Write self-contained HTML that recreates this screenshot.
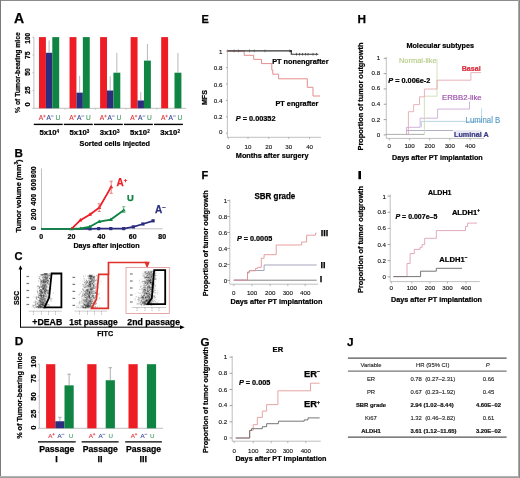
<!DOCTYPE html>
<html><head><meta charset="utf-8"><title>figure</title>
<style>html,body{margin:0;padding:0;background:#fff;overflow:hidden}svg{display:block;font-family:"Liberation Sans",sans-serif;filter:blur(0.35px)}</style>
</head><body>
<svg width="520" height="478" viewBox="0 0 520 478">
<rect x="0.00" y="0.00" width="520.00" height="478.00" fill="#ffffff"/>
<text x="14.00" y="22.80" font-size="14" font-weight="bold" text-anchor="start" fill="#000" stroke="#000" stroke-width="0.25">A</text>
<text transform="translate(19.55,72.60) rotate(-90)" x="0" y="0" font-size="7.5" font-weight="bold" text-anchor="middle" fill="#000" textLength="80.60" lengthAdjust="spacingAndGlyphs" stroke="#000" stroke-width="0.23">% of Tumor-bearing mice</text>
<line x1="33.90" y1="37.00" x2="33.90" y2="108.30" stroke="#b0b0b0" stroke-width="0.8"/>
<text transform="translate(29.94,38.30) rotate(-90)" x="0" y="0" font-size="7.6" font-weight="bold" text-anchor="middle" fill="#000" textLength="10.80" lengthAdjust="spacingAndGlyphs" stroke="#000" stroke-width="0.24">100</text>
<line x1="32.50" y1="37.10" x2="33.90" y2="37.10" stroke="#b0b0b0" stroke-width="0.8"/>
<text transform="translate(29.94,55.20) rotate(-90)" x="0" y="0" font-size="7.6" font-weight="bold" text-anchor="middle" fill="#000" textLength="7.60" lengthAdjust="spacingAndGlyphs" stroke="#000" stroke-width="0.24">75</text>
<line x1="32.50" y1="54.90" x2="33.90" y2="54.90" stroke="#b0b0b0" stroke-width="0.8"/>
<text transform="translate(29.94,72.00) rotate(-90)" x="0" y="0" font-size="7.6" font-weight="bold" text-anchor="middle" fill="#000" textLength="7.60" lengthAdjust="spacingAndGlyphs" stroke="#000" stroke-width="0.24">50</text>
<line x1="32.50" y1="72.70" x2="33.90" y2="72.70" stroke="#b0b0b0" stroke-width="0.8"/>
<text transform="translate(29.94,90.30) rotate(-90)" x="0" y="0" font-size="7.6" font-weight="bold" text-anchor="middle" fill="#000" textLength="7.60" lengthAdjust="spacingAndGlyphs" stroke="#000" stroke-width="0.24">25</text>
<line x1="32.50" y1="90.50" x2="33.90" y2="90.50" stroke="#b0b0b0" stroke-width="0.8"/>
<text transform="translate(29.94,104.50) rotate(-90)" x="0" y="0" font-size="7.6" font-weight="bold" text-anchor="middle" fill="#000" stroke="#000" stroke-width="0.24">0</text>
<line x1="32.50" y1="108.30" x2="33.90" y2="108.30" stroke="#b0b0b0" stroke-width="0.8"/>
<line x1="33.90" y1="108.30" x2="186.00" y2="108.30" stroke="#b0b0b0" stroke-width="0.8"/>
<rect x="39.00" y="37.10" width="6.90" height="71.20" fill="#ee1c25"/>
<rect x="45.90" y="52.76" width="6.40" height="55.54" fill="#2b2e7f"/>
<rect x="52.30" y="37.10" width="6.90" height="71.20" fill="#0f8443"/>
<line x1="49.10" y1="40.50" x2="49.10" y2="52.76" stroke="#9a9aa8" stroke-width="0.7"/>
<text x="38.70" y="119.90" font-size="6.6" fill="#e0303a" stroke="#e0303a" stroke-width="0.12">A</text>
<path d="M43.06,116.07 H45.70 M44.38,114.75 V117.39" stroke="#e0303a" stroke-width="0.6" fill="none"/>
<text x="46.40" y="119.90" font-size="6.6" fill="#34449a" stroke="#34449a" stroke-width="0.12">A</text>
<path d="M50.76,116.07 H53.66" stroke="#34449a" stroke-width="0.6" fill="none"/>
<text x="55.40" y="119.90" font-size="6.6" fill="#4a9a68" stroke="#4a9a68" stroke-width="0.12">U</text>
<line x1="33.80" y1="124.40" x2="62.70" y2="124.40" stroke="#000" stroke-width="1.4"/>
<rect x="69.55" y="37.10" width="6.90" height="71.20" fill="#ee1c25"/>
<rect x="76.45" y="92.64" width="6.40" height="15.66" fill="#2b2e7f"/>
<rect x="82.85" y="37.10" width="6.90" height="71.20" fill="#0f8443"/>
<line x1="79.65" y1="75.80" x2="79.65" y2="92.64" stroke="#9a9aa8" stroke-width="0.7"/>
<line x1="65.05" y1="108.30" x2="65.05" y2="109.80" stroke="#b0b0b0" stroke-width="0.7"/>
<text x="69.25" y="119.90" font-size="6.6" fill="#e0303a" stroke="#e0303a" stroke-width="0.12">A</text>
<path d="M73.61,116.07 H76.25 M74.93,114.75 V117.39" stroke="#e0303a" stroke-width="0.6" fill="none"/>
<text x="76.95" y="119.90" font-size="6.6" fill="#34449a" stroke="#34449a" stroke-width="0.12">A</text>
<path d="M81.31,116.07 H84.21" stroke="#34449a" stroke-width="0.6" fill="none"/>
<text x="85.95" y="119.90" font-size="6.6" fill="#4a9a68" stroke="#4a9a68" stroke-width="0.12">U</text>
<line x1="63.85" y1="124.40" x2="92.75" y2="124.40" stroke="#000" stroke-width="1.4"/>
<rect x="100.10" y="37.10" width="6.90" height="71.20" fill="#ee1c25"/>
<rect x="107.00" y="90.50" width="6.40" height="17.80" fill="#2b2e7f"/>
<rect x="113.40" y="72.70" width="6.90" height="35.60" fill="#0f8443"/>
<line x1="110.20" y1="76.30" x2="110.20" y2="90.50" stroke="#9a9aa8" stroke-width="0.7"/>
<line x1="116.85" y1="52.90" x2="116.85" y2="72.70" stroke="#9a9a9a" stroke-width="0.7"/>
<line x1="95.60" y1="108.30" x2="95.60" y2="109.80" stroke="#b0b0b0" stroke-width="0.7"/>
<text x="99.80" y="119.90" font-size="6.6" fill="#e0303a" stroke="#e0303a" stroke-width="0.12">A</text>
<path d="M104.16,116.07 H106.80 M105.48,114.75 V117.39" stroke="#e0303a" stroke-width="0.6" fill="none"/>
<text x="107.50" y="119.90" font-size="6.6" fill="#34449a" stroke="#34449a" stroke-width="0.12">A</text>
<path d="M111.86,116.07 H114.76" stroke="#34449a" stroke-width="0.6" fill="none"/>
<text x="116.50" y="119.90" font-size="6.6" fill="#4a9a68" stroke="#4a9a68" stroke-width="0.12">U</text>
<line x1="93.90" y1="124.40" x2="122.80" y2="124.40" stroke="#000" stroke-width="1.4"/>
<rect x="130.65" y="37.10" width="6.90" height="71.20" fill="#ee1c25"/>
<rect x="137.55" y="100.47" width="6.40" height="7.83" fill="#2b2e7f"/>
<rect x="143.95" y="60.60" width="6.90" height="47.70" fill="#0f8443"/>
<line x1="140.75" y1="92.00" x2="140.75" y2="100.47" stroke="#9a9aa8" stroke-width="0.7"/>
<line x1="147.40" y1="44.00" x2="147.40" y2="60.60" stroke="#9a9a9a" stroke-width="0.7"/>
<line x1="126.15" y1="108.30" x2="126.15" y2="109.80" stroke="#b0b0b0" stroke-width="0.7"/>
<text x="130.35" y="119.90" font-size="6.6" fill="#e0303a" stroke="#e0303a" stroke-width="0.12">A</text>
<path d="M134.71,116.07 H137.35 M136.03,114.75 V117.39" stroke="#e0303a" stroke-width="0.6" fill="none"/>
<text x="138.05" y="119.90" font-size="6.6" fill="#34449a" stroke="#34449a" stroke-width="0.12">A</text>
<path d="M142.41,116.07 H145.31" stroke="#34449a" stroke-width="0.6" fill="none"/>
<text x="147.05" y="119.90" font-size="6.6" fill="#4a9a68" stroke="#4a9a68" stroke-width="0.12">U</text>
<line x1="123.95" y1="124.40" x2="152.85" y2="124.40" stroke="#000" stroke-width="1.4"/>
<rect x="161.20" y="37.10" width="6.90" height="71.20" fill="#ee1c25"/>
<rect x="174.50" y="72.70" width="6.90" height="35.60" fill="#0f8443"/>
<line x1="177.95" y1="52.90" x2="177.95" y2="72.70" stroke="#9a9a9a" stroke-width="0.7"/>
<line x1="156.70" y1="108.30" x2="156.70" y2="109.80" stroke="#b0b0b0" stroke-width="0.7"/>
<text x="160.90" y="119.90" font-size="6.6" fill="#e0303a" stroke="#e0303a" stroke-width="0.12">A</text>
<path d="M165.26,116.07 H167.90 M166.58,114.75 V117.39" stroke="#e0303a" stroke-width="0.6" fill="none"/>
<text x="168.60" y="119.90" font-size="6.6" fill="#34449a" stroke="#34449a" stroke-width="0.12">A</text>
<path d="M172.96,116.07 H175.86" stroke="#34449a" stroke-width="0.6" fill="none"/>
<text x="177.60" y="119.90" font-size="6.6" fill="#4a9a68" stroke="#4a9a68" stroke-width="0.12">U</text>
<line x1="154.00" y1="124.40" x2="182.90" y2="124.40" stroke="#000" stroke-width="1.4"/>
<text x="39.40" y="135.20" font-size="7.6" font-weight="bold" text-anchor="start" fill="#000" textLength="17.10" lengthAdjust="spacingAndGlyphs" stroke="#000" stroke-width="0.24">5x10</text>
<text x="56.60" y="132.50" font-size="4.6" font-weight="bold" text-anchor="start" fill="#000" stroke="#000" stroke-width="0.14">4</text>
<text x="69.60" y="135.20" font-size="7.6" font-weight="bold" text-anchor="start" fill="#000" textLength="17.10" lengthAdjust="spacingAndGlyphs" stroke="#000" stroke-width="0.24">5x10</text>
<text x="86.80" y="132.50" font-size="4.6" font-weight="bold" text-anchor="start" fill="#000" stroke="#000" stroke-width="0.14">3</text>
<text x="99.80" y="135.20" font-size="7.6" font-weight="bold" text-anchor="start" fill="#000" textLength="17.10" lengthAdjust="spacingAndGlyphs" stroke="#000" stroke-width="0.24">3x10</text>
<text x="117.00" y="132.50" font-size="4.6" font-weight="bold" text-anchor="start" fill="#000" stroke="#000" stroke-width="0.14">3</text>
<text x="130.00" y="135.20" font-size="7.6" font-weight="bold" text-anchor="start" fill="#000" textLength="17.10" lengthAdjust="spacingAndGlyphs" stroke="#000" stroke-width="0.24">5x10</text>
<text x="147.20" y="132.50" font-size="4.6" font-weight="bold" text-anchor="start" fill="#000" stroke="#000" stroke-width="0.14">2</text>
<text x="160.20" y="135.20" font-size="7.6" font-weight="bold" text-anchor="start" fill="#000" textLength="17.10" lengthAdjust="spacingAndGlyphs" stroke="#000" stroke-width="0.24">3x10</text>
<text x="177.40" y="132.50" font-size="4.6" font-weight="bold" text-anchor="start" fill="#000" stroke="#000" stroke-width="0.14">2</text>
<text x="79.60" y="146.40" font-size="7.8" font-weight="bold" text-anchor="start" fill="#000" textLength="70.40" lengthAdjust="spacingAndGlyphs" stroke="#000" stroke-width="0.24">Sorted cells injected</text>
<text x="14.60" y="157.10" font-size="11.6" font-weight="bold" text-anchor="start" fill="#000" stroke="#000" stroke-width="0.25">B</text>
<text transform="translate(20.82,196.00) rotate(-90)" x="0" y="0" font-size="7.4" font-weight="bold" text-anchor="middle" fill="#000" stroke="#000" stroke-width="0.23">Tumor volume (mm<tspan font-size="4.8" dy="-2.7">3</tspan><tspan dy="2.7">)</tspan></text>
<text transform="translate(36.03,228.30) rotate(-90)" x="0" y="0" font-size="7.3" font-weight="bold" text-anchor="middle" fill="#000" stroke="#000" stroke-width="0.23">0</text>
<text transform="translate(36.03,214.50) rotate(-90)" x="0" y="0" font-size="7.3" font-weight="bold" text-anchor="middle" fill="#000" textLength="11.50" lengthAdjust="spacingAndGlyphs" stroke="#000" stroke-width="0.23">200</text>
<text transform="translate(36.03,199.70) rotate(-90)" x="0" y="0" font-size="7.3" font-weight="bold" text-anchor="middle" fill="#000" textLength="11.50" lengthAdjust="spacingAndGlyphs" stroke="#000" stroke-width="0.23">400</text>
<text transform="translate(36.03,184.70) rotate(-90)" x="0" y="0" font-size="7.3" font-weight="bold" text-anchor="middle" fill="#000" textLength="11.50" lengthAdjust="spacingAndGlyphs" stroke="#000" stroke-width="0.23">600</text>
<text transform="translate(36.03,172.20) rotate(-90)" x="0" y="0" font-size="7.3" font-weight="bold" text-anchor="middle" fill="#000" textLength="11.50" lengthAdjust="spacingAndGlyphs" stroke="#000" stroke-width="0.23">800</text>
<line x1="41.50" y1="168.40" x2="41.50" y2="228.80" stroke="#b0b0b0" stroke-width="0.8"/>
<line x1="41.50" y1="228.80" x2="162.70" y2="228.80" stroke="#b0b0b0" stroke-width="0.8"/>
<text x="41.20" y="239.20" font-size="7" font-weight="bold" text-anchor="middle" fill="#000" stroke="#000" stroke-width="0.22">0</text>
<text x="71.50" y="239.20" font-size="7" font-weight="bold" text-anchor="middle" fill="#000" stroke="#000" stroke-width="0.22">20</text>
<text x="101.50" y="239.20" font-size="7" font-weight="bold" text-anchor="middle" fill="#000" stroke="#000" stroke-width="0.22">40</text>
<text x="132.70" y="239.20" font-size="7" font-weight="bold" text-anchor="middle" fill="#000" stroke="#000" stroke-width="0.22">60</text>
<text x="162.20" y="239.20" font-size="7" font-weight="bold" text-anchor="middle" fill="#000" stroke="#000" stroke-width="0.22">80</text>
<text x="73.40" y="247.80" font-size="7.8" font-weight="bold" text-anchor="start" fill="#000" textLength="66.20" lengthAdjust="spacingAndGlyphs" stroke="#000" stroke-width="0.24">Days after injection</text>
<path d="M41.20,228.80 L71.50,228.80 L80.80,228.80 L90.00,228.80 L98.70,228.60 L110.80,228.60 L123.70,228.60 L133.30,226.90 L142.90,224.00 L153.10,220.80" stroke="#2b2e7f" stroke-width="1.8" fill="none"/>
<rect x="88.40" y="227.20" width="3.20" height="3.20" fill="#2b2e7f"/>
<rect x="97.10" y="227.00" width="3.20" height="3.20" fill="#2b2e7f"/>
<rect x="109.20" y="227.00" width="3.20" height="3.20" fill="#2b2e7f"/>
<rect x="122.10" y="227.00" width="3.20" height="3.20" fill="#2b2e7f"/>
<rect x="131.70" y="225.30" width="3.20" height="3.20" fill="#2b2e7f"/>
<rect x="141.30" y="222.40" width="3.20" height="3.20" fill="#2b2e7f"/>
<rect x="151.50" y="219.20" width="3.20" height="3.20" fill="#2b2e7f"/>
<path d="M41.20,228.80 L71.50,228.80 L80.40,228.50 L89.60,226.90 L99.20,221.50 L110.80,219.60 L123.70,210.20" stroke="#0f8443" stroke-width="1.8" fill="none"/>
<path d="M69.50,230.20 L73.50,230.20 L71.50,226.70Z" fill="#0f8443"/>
<path d="M78.40,229.90 L82.40,229.90 L80.40,226.40Z" fill="#0f8443"/>
<path d="M87.60,228.30 L91.60,228.30 L89.60,224.80Z" fill="#0f8443"/>
<path d="M97.20,222.90 L101.20,222.90 L99.20,219.40Z" fill="#0f8443"/>
<path d="M108.80,221.00 L112.80,221.00 L110.80,217.50Z" fill="#0f8443"/>
<path d="M121.70,211.60 L125.70,211.60 L123.70,208.10Z" fill="#0f8443"/>
<path d="M71.50,228.80 L80.40,220.20 L90.00,214.40 L99.20,207.70 L111.20,186.90" stroke="#ee1c25" stroke-width="1.8" fill="none"/>
<path d="M78.40,221.60 L82.40,221.60 L80.40,218.10Z" fill="#ee1c25"/>
<path d="M88.00,215.80 L92.00,215.80 L90.00,212.30Z" fill="#ee1c25"/>
<path d="M97.20,209.10 L101.20,209.10 L99.20,205.60Z" fill="#ee1c25"/>
<path d="M109.20,188.30 L113.20,188.30 L111.20,184.80Z" fill="#ee1c25"/>
<line x1="111.20" y1="181.20" x2="111.20" y2="193.30" stroke="#e05050" stroke-width="0.7"/>
<line x1="109.60" y1="181.20" x2="112.80" y2="181.20" stroke="#e05050" stroke-width="0.7"/>
<line x1="109.60" y1="193.30" x2="112.80" y2="193.30" stroke="#e05050" stroke-width="0.7"/>
<line x1="99.20" y1="203.80" x2="99.20" y2="211.50" stroke="#e05050" stroke-width="0.7"/>
<line x1="97.60" y1="203.80" x2="100.80" y2="203.80" stroke="#e05050" stroke-width="0.7"/>
<line x1="97.60" y1="211.50" x2="100.80" y2="211.50" stroke="#e05050" stroke-width="0.7"/>
<line x1="123.70" y1="206.70" x2="123.70" y2="212.50" stroke="#40a060" stroke-width="0.7"/>
<line x1="122.10" y1="206.70" x2="125.30" y2="206.70" stroke="#40a060" stroke-width="0.7"/>
<line x1="122.10" y1="212.50" x2="125.30" y2="212.50" stroke="#40a060" stroke-width="0.7"/>
<text x="116.5" y="186.2" font-size="10" font-weight="bold" fill="#ee1c25" stroke="#ee1c25" stroke-width="0.25">A<tspan font-size="6" dy="-4">+</tspan></text>
<text x="127.00" y="201.20" font-size="9.4" font-weight="bold" text-anchor="start" fill="#0f8443" stroke="#0f8443" stroke-width="0.25">U</text>
<text x="155" y="213.2" font-size="10" font-weight="bold" fill="#2b2e7f" stroke="#2b2e7f" stroke-width="0.25">A<tspan font-size="6" dy="-4">–</tspan></text>
<text x="14.60" y="259.60" font-size="11.2" font-weight="bold" text-anchor="start" fill="#000" stroke="#000" stroke-width="0.25">C</text>
<line x1="20.50" y1="268.50" x2="20.50" y2="327.70" stroke="#000" stroke-width="1"/>
<path d="M18.6,269.4 L22.4,269.4 L20.5,265.2Z" fill="#000"/>
<line x1="20.50" y1="327.20" x2="181.00" y2="327.20" stroke="#000" stroke-width="1"/>
<path d="M180,325.2 L180,329.2 L184.7,327.2Z" fill="#000"/>
<text transform="translate(19.01,297.90) rotate(-90)" x="0" y="0" font-size="7.8" font-weight="bold" text-anchor="middle" fill="#000" textLength="14.10" lengthAdjust="spacingAndGlyphs" stroke="#000" stroke-width="0.24">SSC</text>
<text x="97.20" y="335.60" font-size="8.0" font-weight="bold" text-anchor="start" fill="#000" textLength="15.90" lengthAdjust="spacingAndGlyphs" stroke="#000" stroke-width="0.25">FITC</text>
<text x="32.30" y="325.20" font-size="9.2" font-weight="bold" text-anchor="start" fill="#000" textLength="30.00" lengthAdjust="spacingAndGlyphs" stroke="#000" stroke-width="0.25">+DEAB</text>
<text x="69.20" y="325.20" font-size="9.2" font-weight="bold" text-anchor="start" fill="#000" textLength="48.50" lengthAdjust="spacingAndGlyphs" stroke="#000" stroke-width="0.25">1st passage</text>
<text x="127.30" y="325.20" font-size="9.2" font-weight="bold" text-anchor="start" fill="#000" textLength="52.70" lengthAdjust="spacingAndGlyphs" stroke="#000" stroke-width="0.25">2nd passage</text>
<rect x="26.5" y="275.9" width="2.6" height="1.2" fill="#777"/>
<rect x="26.5" y="282.9" width="2.6" height="1.2" fill="#777"/>
<rect x="26.5" y="289.9" width="2.6" height="1.2" fill="#777"/>
<rect x="26.5" y="296.9" width="2.6" height="1.2" fill="#777"/>
<rect x="26.5" y="303.9" width="2.6" height="1.2" fill="#777"/>
<line x1="28.50" y1="311.20" x2="61.70" y2="311.20" stroke="#aaa" stroke-width="0.6"/>
<line x1="33.50" y1="311.20" x2="33.50" y2="312.70" stroke="#999" stroke-width="0.6"/>
<rect x="33.0" y="313.4" width="1" height="1.3" fill="#bbb"/>
<line x1="41.50" y1="311.20" x2="41.50" y2="312.70" stroke="#999" stroke-width="0.6"/>
<rect x="41.0" y="313.4" width="1" height="1.3" fill="#bbb"/>
<line x1="48.50" y1="311.20" x2="48.50" y2="312.70" stroke="#999" stroke-width="0.6"/>
<rect x="48.0" y="313.4" width="1" height="1.3" fill="#bbb"/>
<line x1="55.50" y1="311.20" x2="55.50" y2="312.70" stroke="#999" stroke-width="0.6"/>
<rect x="55.0" y="313.4" width="1" height="1.3" fill="#bbb"/>
<rect x="44.7" y="304.7" width="1" height="1" fill="#000" fill-opacity="0.08"/><rect x="38.4" y="293.2" width="1" height="1" fill="#000" fill-opacity="0.13"/><rect x="43.7" y="287.3" width="1" height="1" fill="#000" fill-opacity="0.05"/><rect x="43.1" y="279.9" width="1" height="1" fill="#000" fill-opacity="0.12"/><rect x="46.8" y="282.9" width="1" height="1" fill="#000" fill-opacity="0.21"/><rect x="41.7" y="302.0" width="1" height="1" fill="#000" fill-opacity="0.29"/><rect x="45.1" y="277.2" width="1" height="1" fill="#000" fill-opacity="0.15"/><rect x="44.8" y="275.6" width="1" height="1" fill="#000" fill-opacity="0.11"/><rect x="40.9" y="302.4" width="1" height="1" fill="#000" fill-opacity="0.08"/><rect x="42.8" y="295.2" width="1" height="1" fill="#000" fill-opacity="0.14"/><rect x="41.9" y="301.9" width="1" height="1" fill="#000" fill-opacity="0.13"/><rect x="44.2" y="300.2" width="1" height="1" fill="#000" fill-opacity="0.05"/><rect x="40.7" y="279.9" width="1" height="1" fill="#000" fill-opacity="0.07"/><rect x="43.8" y="273.3" width="1" height="1" fill="#000" fill-opacity="0.26"/><rect x="38.5" y="305.0" width="1" height="1" fill="#000" fill-opacity="0.21"/><rect x="48.1" y="275.7" width="1" height="1" fill="#000" fill-opacity="0.12"/><rect x="43.1" y="280.2" width="1" height="1" fill="#000" fill-opacity="0.17"/><rect x="42.5" y="278.0" width="1" height="1" fill="#000" fill-opacity="0.25"/><rect x="42.0" y="292.8" width="1" height="1" fill="#000" fill-opacity="0.08"/><rect x="43.6" y="281.5" width="1" height="1" fill="#000" fill-opacity="0.12"/><rect x="36.3" y="303.7" width="1" height="1" fill="#000" fill-opacity="0.19"/><rect x="40.6" y="297.4" width="1" height="1" fill="#000" fill-opacity="0.13"/><rect x="43.4" y="292.7" width="1" height="1" fill="#000" fill-opacity="0.11"/><rect x="38.9" y="293.4" width="1" height="1" fill="#000" fill-opacity="0.05"/><rect x="38.1" y="306.8" width="1" height="1" fill="#000" fill-opacity="0.17"/><rect x="33.4" y="296.7" width="1" height="1" fill="#000" fill-opacity="0.07"/><rect x="48.0" y="292.9" width="1" height="1" fill="#000" fill-opacity="0.15"/><rect x="43.8" y="278.9" width="1" height="1" fill="#000" fill-opacity="0.08"/><rect x="46.6" y="292.5" width="1" height="1" fill="#000" fill-opacity="0.13"/><rect x="40.5" y="300.8" width="1" height="1" fill="#000" fill-opacity="0.16"/><rect x="49.1" y="274.8" width="1" height="1" fill="#000" fill-opacity="0.24"/><rect x="44.6" y="277.8" width="1" height="1" fill="#000" fill-opacity="0.22"/><rect x="40.7" y="281.0" width="1" height="1" fill="#000" fill-opacity="0.12"/><rect x="40.6" y="306.6" width="1" height="1" fill="#000" fill-opacity="0.26"/><rect x="44.1" y="290.4" width="1" height="1" fill="#000" fill-opacity="0.14"/><rect x="45.8" y="298.0" width="1" height="1" fill="#000" fill-opacity="0.10"/><rect x="39.9" y="291.6" width="1" height="1" fill="#000" fill-opacity="0.13"/><rect x="37.6" y="307.1" width="1" height="1" fill="#000" fill-opacity="0.08"/><rect x="35.5" y="303.5" width="1" height="1" fill="#000" fill-opacity="0.24"/><rect x="41.3" y="281.5" width="1" height="1" fill="#000" fill-opacity="0.24"/><rect x="44.5" y="301.2" width="1" height="1" fill="#000" fill-opacity="0.06"/><rect x="36.5" y="307.3" width="1" height="1" fill="#000" fill-opacity="0.05"/><rect x="43.8" y="283.2" width="1" height="1" fill="#000" fill-opacity="0.18"/><rect x="43.6" y="298.4" width="1" height="1" fill="#000" fill-opacity="0.05"/><rect x="39.3" y="304.0" width="1" height="1" fill="#000" fill-opacity="0.09"/><rect x="43.3" y="285.0" width="1" height="1" fill="#000" fill-opacity="0.13"/><rect x="41.3" y="299.1" width="1" height="1" fill="#000" fill-opacity="0.11"/><rect x="42.5" y="295.8" width="1" height="1" fill="#000" fill-opacity="0.07"/><rect x="44.7" y="305.3" width="1" height="1" fill="#000" fill-opacity="0.07"/><rect x="41.1" y="289.1" width="1" height="1" fill="#000" fill-opacity="0.24"/><rect x="43.0" y="307.2" width="1" height="1" fill="#000" fill-opacity="0.21"/><rect x="41.6" y="304.0" width="1" height="1" fill="#000" fill-opacity="0.20"/><rect x="41.5" y="286.3" width="1" height="1" fill="#000" fill-opacity="0.30"/><rect x="43.5" y="281.5" width="1" height="1" fill="#000" fill-opacity="0.15"/><rect x="39.6" y="302.2" width="1" height="1" fill="#000" fill-opacity="0.16"/><rect x="39.3" y="299.2" width="1" height="1" fill="#000" fill-opacity="0.18"/><rect x="38.3" y="306.5" width="1" height="1" fill="#000" fill-opacity="0.26"/><rect x="50.2" y="299.6" width="1" height="1" fill="#000" fill-opacity="0.26"/><rect x="47.0" y="299.5" width="1" height="1" fill="#000" fill-opacity="0.12"/><rect x="39.6" y="301.3" width="1" height="1" fill="#000" fill-opacity="0.05"/><rect x="49.0" y="278.1" width="1" height="1" fill="#000" fill-opacity="0.30"/><rect x="44.3" y="290.4" width="1" height="1" fill="#000" fill-opacity="0.07"/><rect x="48.3" y="278.6" width="1" height="1" fill="#000" fill-opacity="0.14"/><rect x="41.4" y="297.3" width="1" height="1" fill="#000" fill-opacity="0.10"/><rect x="39.9" y="302.7" width="1" height="1" fill="#000" fill-opacity="0.07"/><rect x="37.9" y="305.5" width="1" height="1" fill="#000" fill-opacity="0.19"/><rect x="38.9" y="300.0" width="1" height="1" fill="#000" fill-opacity="0.26"/><rect x="44.5" y="277.3" width="1" height="1" fill="#000" fill-opacity="0.05"/><rect x="36.8" y="302.9" width="1" height="1" fill="#000" fill-opacity="0.23"/><rect x="50.6" y="298.6" width="1" height="1" fill="#000" fill-opacity="0.08"/><rect x="46.9" y="286.4" width="1" height="1" fill="#000" fill-opacity="0.10"/><rect x="39.3" y="278.0" width="1" height="1" fill="#000" fill-opacity="0.20"/><rect x="44.9" y="293.6" width="1" height="1" fill="#000" fill-opacity="0.21"/><rect x="40.9" y="305.9" width="1" height="1" fill="#000" fill-opacity="0.07"/><rect x="45.5" y="276.8" width="1" height="1" fill="#000" fill-opacity="0.17"/><rect x="48.5" y="279.7" width="1" height="1" fill="#000" fill-opacity="0.11"/><rect x="40.3" y="298.5" width="1" height="1" fill="#000" fill-opacity="0.17"/><rect x="49.6" y="275.0" width="1" height="1" fill="#000" fill-opacity="0.27"/><rect x="39.8" y="304.7" width="1" height="1" fill="#000" fill-opacity="0.05"/><rect x="40.6" y="306.2" width="1" height="1" fill="#000" fill-opacity="0.26"/><rect x="45.1" y="281.9" width="1" height="1" fill="#000" fill-opacity="0.18"/><rect x="41.8" y="282.1" width="1" height="1" fill="#000" fill-opacity="0.11"/><rect x="43.2" y="290.4" width="1" height="1" fill="#000" fill-opacity="0.09"/><rect x="45.5" y="277.6" width="1" height="1" fill="#000" fill-opacity="0.16"/><rect x="42.7" y="276.2" width="1" height="1" fill="#000" fill-opacity="0.23"/><rect x="44.7" y="280.3" width="1" height="1" fill="#000" fill-opacity="0.05"/><rect x="44.6" y="286.6" width="1" height="1" fill="#000" fill-opacity="0.27"/><rect x="42.0" y="306.9" width="1" height="1" fill="#000" fill-opacity="0.08"/><rect x="43.9" y="273.5" width="1" height="1" fill="#000" fill-opacity="0.07"/><rect x="42.5" y="301.7" width="1" height="1" fill="#000" fill-opacity="0.22"/><rect x="44.1" y="305.5" width="1" height="1" fill="#000" fill-opacity="0.30"/><rect x="43.2" y="276.9" width="1" height="1" fill="#000" fill-opacity="0.09"/><rect x="40.2" y="301.3" width="1" height="1" fill="#000" fill-opacity="0.19"/><rect x="41.3" y="306.9" width="1" height="1" fill="#000" fill-opacity="0.05"/><rect x="44.0" y="273.7" width="1" height="1" fill="#000" fill-opacity="0.13"/><rect x="46.2" y="299.4" width="1" height="1" fill="#000" fill-opacity="0.05"/><rect x="51.1" y="276.7" width="1" height="1" fill="#000" fill-opacity="0.06"/><rect x="39.9" y="302.4" width="1" height="1" fill="#000" fill-opacity="0.18"/><rect x="41.3" y="273.9" width="1" height="1" fill="#000" fill-opacity="0.19"/><rect x="40.4" y="301.1" width="1" height="1" fill="#000" fill-opacity="0.15"/><rect x="41.9" y="299.6" width="1" height="1" fill="#000" fill-opacity="0.09"/><rect x="45.9" y="273.7" width="1" height="1" fill="#000" fill-opacity="0.13"/><rect x="39.1" y="287.3" width="1" height="1" fill="#000" fill-opacity="0.11"/><rect x="35.7" y="299.6" width="1" height="1" fill="#000" fill-opacity="0.10"/><rect x="46.0" y="299.3" width="1" height="1" fill="#000" fill-opacity="0.09"/><rect x="36.3" y="298.7" width="1" height="1" fill="#000" fill-opacity="0.15"/><rect x="41.2" y="290.1" width="1" height="1" fill="#000" fill-opacity="0.05"/><rect x="40.2" y="301.6" width="1" height="1" fill="#000" fill-opacity="0.06"/><rect x="44.0" y="291.1" width="1" height="1" fill="#000" fill-opacity="0.18"/><rect x="42.4" y="300.1" width="1" height="1" fill="#000" fill-opacity="0.23"/><rect x="43.8" y="293.2" width="1" height="1" fill="#000" fill-opacity="0.14"/><rect x="42.8" y="281.6" width="1" height="1" fill="#000" fill-opacity="0.06"/><rect x="46.7" y="275.2" width="1" height="1" fill="#000" fill-opacity="0.30"/><rect x="48.2" y="280.5" width="1" height="1" fill="#000" fill-opacity="0.10"/><rect x="33.4" y="305.4" width="1" height="1" fill="#000" fill-opacity="0.09"/><rect x="44.0" y="277.5" width="1" height="1" fill="#000" fill-opacity="0.06"/><rect x="46.7" y="276.8" width="1" height="1" fill="#000" fill-opacity="0.27"/><rect x="44.5" y="281.2" width="1" height="1" fill="#000" fill-opacity="0.27"/><rect x="44.1" y="279.7" width="1" height="1" fill="#000" fill-opacity="0.07"/><rect x="37.5" y="295.4" width="1" height="1" fill="#000" fill-opacity="0.07"/><rect x="42.6" y="284.8" width="1" height="1" fill="#000" fill-opacity="0.05"/><rect x="43.2" y="274.6" width="1" height="1" fill="#000" fill-opacity="0.24"/><rect x="37.2" y="291.2" width="1" height="1" fill="#000" fill-opacity="0.13"/><rect x="40.6" y="296.7" width="1" height="1" fill="#000" fill-opacity="0.10"/><rect x="46.6" y="301.2" width="1" height="1" fill="#000" fill-opacity="0.12"/><rect x="43.6" y="290.4" width="1" height="1" fill="#000" fill-opacity="0.05"/><rect x="43.2" y="298.0" width="1" height="1" fill="#000" fill-opacity="0.08"/><rect x="45.2" y="280.2" width="1" height="1" fill="#000" fill-opacity="0.12"/><rect x="40.5" y="296.5" width="1" height="1" fill="#000" fill-opacity="0.05"/><rect x="41.4" y="291.9" width="1" height="1" fill="#000" fill-opacity="0.14"/><rect x="39.2" y="287.4" width="1" height="1" fill="#000" fill-opacity="0.21"/><rect x="43.6" y="301.8" width="1" height="1" fill="#000" fill-opacity="0.14"/><rect x="43.1" y="293.8" width="1" height="1" fill="#000" fill-opacity="0.16"/><rect x="47.1" y="277.0" width="1" height="1" fill="#000" fill-opacity="0.28"/><rect x="41.2" y="300.6" width="1" height="1" fill="#000" fill-opacity="0.05"/><rect x="42.0" y="292.6" width="1" height="1" fill="#000" fill-opacity="0.26"/><rect x="42.1" y="304.0" width="1" height="1" fill="#000" fill-opacity="0.10"/><rect x="37.7" y="285.7" width="1" height="1" fill="#000" fill-opacity="0.25"/><rect x="40.6" y="297.5" width="1" height="1" fill="#000" fill-opacity="0.17"/><rect x="40.2" y="279.1" width="1" height="1" fill="#000" fill-opacity="0.27"/><rect x="43.4" y="274.7" width="1" height="1" fill="#000" fill-opacity="0.08"/><rect x="40.7" y="302.4" width="1" height="1" fill="#000" fill-opacity="0.16"/><rect x="47.8" y="283.1" width="1" height="1" fill="#000" fill-opacity="0.21"/><rect x="43.7" y="298.3" width="1" height="1" fill="#000" fill-opacity="0.15"/><rect x="41.3" y="303.9" width="1" height="1" fill="#000" fill-opacity="0.30"/><rect x="43.3" y="281.1" width="1" height="1" fill="#000" fill-opacity="0.18"/><rect x="49.1" y="300.9" width="1" height="1" fill="#000" fill-opacity="0.06"/><rect x="40.3" y="282.4" width="1" height="1" fill="#000" fill-opacity="0.25"/><rect x="42.4" y="287.0" width="1" height="1" fill="#000" fill-opacity="0.28"/><rect x="42.3" y="274.2" width="1" height="1" fill="#000" fill-opacity="0.11"/><rect x="42.6" y="281.3" width="1" height="1" fill="#000" fill-opacity="0.10"/><rect x="42.2" y="304.9" width="1" height="1" fill="#000" fill-opacity="0.28"/><rect x="47.2" y="274.7" width="1" height="1" fill="#000" fill-opacity="0.12"/><rect x="44.5" y="305.1" width="1" height="1" fill="#000" fill-opacity="0.09"/><rect x="41.7" y="301.5" width="1" height="1" fill="#000" fill-opacity="0.07"/><rect x="42.1" y="295.2" width="1" height="1" fill="#000" fill-opacity="0.05"/><rect x="38.9" y="288.2" width="1" height="1" fill="#000" fill-opacity="0.07"/><rect x="37.9" y="300.3" width="1" height="1" fill="#000" fill-opacity="0.15"/><rect x="39.6" y="300.7" width="1" height="1" fill="#000" fill-opacity="0.20"/><rect x="42.9" y="281.8" width="1" height="1" fill="#000" fill-opacity="0.24"/><rect x="42.1" y="274.1" width="1" height="1" fill="#000" fill-opacity="0.26"/><rect x="43.0" y="282.7" width="1" height="1" fill="#000" fill-opacity="0.16"/><rect x="41.9" y="297.1" width="1" height="1" fill="#000" fill-opacity="0.24"/><rect x="42.9" y="305.1" width="1" height="1" fill="#000" fill-opacity="0.22"/><rect x="47.9" y="291.3" width="1" height="1" fill="#000" fill-opacity="0.30"/><rect x="40.0" y="304.6" width="1" height="1" fill="#000" fill-opacity="0.14"/><rect x="41.7" y="290.3" width="1" height="1" fill="#000" fill-opacity="0.11"/><rect x="46.2" y="292.0" width="1" height="1" fill="#000" fill-opacity="0.05"/><rect x="39.9" y="295.1" width="1" height="1" fill="#000" fill-opacity="0.12"/><rect x="44.7" y="282.1" width="1" height="1" fill="#000" fill-opacity="0.20"/><rect x="40.8" y="293.3" width="1" height="1" fill="#000" fill-opacity="0.07"/><rect x="38.2" y="307.5" width="1" height="1" fill="#000" fill-opacity="0.09"/><rect x="47.2" y="289.4" width="1" height="1" fill="#000" fill-opacity="0.14"/><rect x="41.9" y="273.6" width="1" height="1" fill="#000" fill-opacity="0.13"/><rect x="40.5" y="280.0" width="1" height="1" fill="#000" fill-opacity="0.31"/><rect x="44.9" y="299.7" width="1" height="1" fill="#000" fill-opacity="0.07"/><rect x="40.5" y="288.5" width="1" height="1" fill="#000" fill-opacity="0.05"/><rect x="41.6" y="296.9" width="1" height="1" fill="#000" fill-opacity="0.12"/><rect x="45.0" y="296.3" width="1" height="1" fill="#000" fill-opacity="0.21"/><rect x="41.9" y="277.3" width="1" height="1" fill="#000" fill-opacity="0.22"/><rect x="42.5" y="293.3" width="1" height="1" fill="#000" fill-opacity="0.19"/><rect x="39.1" y="288.1" width="1" height="1" fill="#000" fill-opacity="0.12"/><rect x="38.6" y="288.2" width="1" height="1" fill="#000" fill-opacity="0.23"/><rect x="39.6" y="279.5" width="1" height="1" fill="#000" fill-opacity="0.22"/><rect x="42.1" y="280.8" width="1" height="1" fill="#000" fill-opacity="0.09"/><rect x="42.0" y="285.1" width="1" height="1" fill="#000" fill-opacity="0.26"/><rect x="46.2" y="291.4" width="1" height="1" fill="#000" fill-opacity="0.14"/><rect x="47.4" y="294.2" width="1" height="1" fill="#000" fill-opacity="0.05"/><rect x="42.6" y="292.6" width="1" height="1" fill="#000" fill-opacity="0.11"/><rect x="40.3" y="287.1" width="1" height="1" fill="#000" fill-opacity="0.05"/><rect x="47.2" y="292.7" width="1" height="1" fill="#000" fill-opacity="0.12"/><rect x="42.1" y="285.8" width="1" height="1" fill="#000" fill-opacity="0.17"/><rect x="43.4" y="302.6" width="1" height="1" fill="#000" fill-opacity="0.09"/><rect x="48.3" y="306.1" width="1" height="1" fill="#000" fill-opacity="0.25"/><rect x="40.3" y="292.1" width="1" height="1" fill="#000" fill-opacity="0.21"/><rect x="44.5" y="303.8" width="1" height="1" fill="#000" fill-opacity="0.19"/><rect x="44.5" y="284.9" width="1" height="1" fill="#000" fill-opacity="0.17"/><rect x="39.2" y="301.9" width="1" height="1" fill="#000" fill-opacity="0.16"/><rect x="43.2" y="303.7" width="1" height="1" fill="#000" fill-opacity="0.10"/><rect x="35.0" y="302.2" width="1" height="1" fill="#000" fill-opacity="0.30"/><rect x="44.0" y="285.1" width="1" height="1" fill="#000" fill-opacity="0.27"/><rect x="42.6" y="288.4" width="1" height="1" fill="#000" fill-opacity="0.10"/><rect x="42.8" y="295.4" width="1" height="1" fill="#000" fill-opacity="0.07"/><rect x="38.1" y="288.3" width="1" height="1" fill="#000" fill-opacity="0.07"/><rect x="39.8" y="274.2" width="1" height="1" fill="#000" fill-opacity="0.21"/><rect x="45.4" y="289.0" width="1" height="1" fill="#000" fill-opacity="0.08"/><rect x="43.9" y="292.0" width="1" height="1" fill="#000" fill-opacity="0.21"/><rect x="43.5" y="297.8" width="1" height="1" fill="#000" fill-opacity="0.22"/><rect x="40.6" y="301.7" width="1" height="1" fill="#000" fill-opacity="0.09"/><rect x="35.7" y="305.4" width="1" height="1" fill="#000" fill-opacity="0.12"/><rect x="44.3" y="293.3" width="1" height="1" fill="#000" fill-opacity="0.05"/><rect x="44.2" y="289.4" width="1" height="1" fill="#000" fill-opacity="0.27"/><rect x="46.8" y="302.4" width="1" height="1" fill="#000" fill-opacity="0.24"/><rect x="45.6" y="274.5" width="1" height="1" fill="#000" fill-opacity="0.17"/><rect x="42.9" y="298.5" width="1" height="1" fill="#000" fill-opacity="0.20"/><rect x="39.7" y="305.7" width="1" height="1" fill="#000" fill-opacity="0.12"/><rect x="41.3" y="293.2" width="1" height="1" fill="#000" fill-opacity="0.08"/><rect x="45.2" y="280.6" width="1" height="1" fill="#000" fill-opacity="0.13"/><rect x="44.1" y="290.0" width="1" height="1" fill="#000" fill-opacity="0.10"/><rect x="47.7" y="289.5" width="1" height="1" fill="#000" fill-opacity="0.28"/><rect x="49.1" y="273.2" width="1" height="1" fill="#000" fill-opacity="0.26"/><rect x="43.7" y="299.2" width="1" height="1" fill="#000" fill-opacity="0.11"/><rect x="45.7" y="290.0" width="1" height="1" fill="#000" fill-opacity="0.26"/><rect x="42.5" y="283.1" width="1" height="1" fill="#000" fill-opacity="0.07"/><rect x="46.0" y="276.7" width="1" height="1" fill="#000" fill-opacity="0.19"/><rect x="41.3" y="306.5" width="1" height="1" fill="#000" fill-opacity="0.11"/><rect x="34.8" y="304.8" width="1" height="1" fill="#000" fill-opacity="0.27"/><rect x="42.6" y="307.0" width="1" height="1" fill="#000" fill-opacity="0.05"/><rect x="46.3" y="279.7" width="1" height="1" fill="#000" fill-opacity="0.06"/><rect x="42.0" y="305.8" width="1" height="1" fill="#000" fill-opacity="0.05"/><rect x="43.1" y="287.8" width="1" height="1" fill="#000" fill-opacity="0.25"/><rect x="39.0" y="286.9" width="1" height="1" fill="#000" fill-opacity="0.11"/><rect x="47.4" y="288.1" width="1" height="1" fill="#000" fill-opacity="0.08"/><rect x="40.1" y="306.5" width="1" height="1" fill="#000" fill-opacity="0.29"/><rect x="40.7" y="289.6" width="1" height="1" fill="#000" fill-opacity="0.16"/><rect x="46.2" y="292.2" width="1" height="1" fill="#000" fill-opacity="0.05"/><rect x="40.2" y="298.1" width="1" height="1" fill="#000" fill-opacity="0.26"/><rect x="43.5" y="295.7" width="1" height="1" fill="#000" fill-opacity="0.19"/><rect x="43.4" y="284.9" width="1" height="1" fill="#000" fill-opacity="0.22"/><rect x="36.3" y="301.4" width="1" height="1" fill="#000" fill-opacity="0.30"/><rect x="47.3" y="304.3" width="1" height="1" fill="#000" fill-opacity="0.25"/><rect x="37.7" y="306.6" width="1" height="1" fill="#000" fill-opacity="0.06"/><rect x="41.6" y="280.9" width="1" height="1" fill="#000" fill-opacity="0.30"/><rect x="41.7" y="306.9" width="1" height="1" fill="#000" fill-opacity="0.15"/><rect x="44.6" y="295.0" width="1" height="1" fill="#000" fill-opacity="0.20"/><rect x="46.3" y="278.0" width="1" height="1" fill="#000" fill-opacity="0.05"/><rect x="47.4" y="292.1" width="1" height="1" fill="#000" fill-opacity="0.06"/><rect x="44.5" y="307.0" width="1" height="1" fill="#000" fill-opacity="0.11"/><rect x="43.1" y="284.1" width="1" height="1" fill="#000" fill-opacity="0.23"/><rect x="45.4" y="281.1" width="1" height="1" fill="#000" fill-opacity="0.26"/><rect x="39.7" y="299.7" width="1" height="1" fill="#000" fill-opacity="0.16"/><rect x="43.1" y="298.9" width="1" height="1" fill="#000" fill-opacity="0.10"/><rect x="47.4" y="282.1" width="1" height="1" fill="#000" fill-opacity="0.06"/><rect x="42.3" y="287.3" width="1" height="1" fill="#000" fill-opacity="0.13"/><rect x="44.1" y="273.5" width="1" height="1" fill="#000" fill-opacity="0.20"/><rect x="37.2" y="291.7" width="1" height="1" fill="#000" fill-opacity="0.27"/><rect x="43.8" y="280.1" width="1" height="1" fill="#000" fill-opacity="0.11"/><rect x="44.5" y="292.2" width="1" height="1" fill="#000" fill-opacity="0.06"/><rect x="41.2" y="298.4" width="1" height="1" fill="#000" fill-opacity="0.24"/><rect x="42.9" y="287.3" width="1" height="1" fill="#000" fill-opacity="0.10"/><rect x="40.1" y="299.9" width="1" height="1" fill="#000" fill-opacity="0.22"/><rect x="44.9" y="293.0" width="1" height="1" fill="#000" fill-opacity="0.15"/><rect x="44.0" y="304.3" width="1" height="1" fill="#000" fill-opacity="0.10"/><rect x="39.5" y="306.3" width="1" height="1" fill="#000" fill-opacity="0.30"/><rect x="48.7" y="293.7" width="1" height="1" fill="#000" fill-opacity="0.30"/><rect x="40.9" y="280.8" width="1" height="1" fill="#000" fill-opacity="0.28"/><rect x="45.0" y="276.3" width="1" height="1" fill="#000" fill-opacity="0.15"/><rect x="41.5" y="290.2" width="1" height="1" fill="#000" fill-opacity="0.31"/><rect x="42.6" y="282.1" width="1" height="1" fill="#000" fill-opacity="0.11"/><rect x="40.8" y="275.5" width="1" height="1" fill="#000" fill-opacity="0.18"/><rect x="33.5" y="296.4" width="1" height="1" fill="#000" fill-opacity="0.15"/><rect x="43.6" y="303.8" width="1" height="1" fill="#000" fill-opacity="0.06"/><rect x="37.8" y="285.9" width="1" height="1" fill="#000" fill-opacity="0.07"/><rect x="39.6" y="296.1" width="1" height="1" fill="#000" fill-opacity="0.21"/><rect x="44.7" y="306.7" width="1" height="1" fill="#000" fill-opacity="0.09"/><rect x="43.8" y="305.4" width="1" height="1" fill="#000" fill-opacity="0.08"/><rect x="42.1" y="288.1" width="1" height="1" fill="#000" fill-opacity="0.06"/><rect x="44.1" y="279.3" width="1" height="1" fill="#000" fill-opacity="0.18"/><rect x="41.9" y="303.6" width="1" height="1" fill="#000" fill-opacity="0.11"/><rect x="43.8" y="279.4" width="1" height="1" fill="#000" fill-opacity="0.21"/><rect x="45.3" y="300.4" width="1" height="1" fill="#000" fill-opacity="0.26"/><rect x="42.3" y="277.6" width="1" height="1" fill="#000" fill-opacity="0.12"/><rect x="36.8" y="286.4" width="1" height="1" fill="#000" fill-opacity="0.24"/><rect x="41.8" y="284.4" width="1" height="1" fill="#000" fill-opacity="0.24"/><rect x="44.9" y="273.1" width="1" height="1" fill="#000" fill-opacity="0.22"/><rect x="45.7" y="282.6" width="1" height="1" fill="#000" fill-opacity="0.15"/><rect x="37.3" y="293.5" width="1" height="1" fill="#000" fill-opacity="0.23"/><rect x="46.6" y="289.9" width="1" height="1" fill="#000" fill-opacity="0.05"/><rect x="42.6" y="279.3" width="1" height="1" fill="#000" fill-opacity="0.09"/><rect x="44.0" y="285.8" width="1" height="1" fill="#000" fill-opacity="0.05"/><rect x="38.9" y="305.1" width="1" height="1" fill="#000" fill-opacity="0.22"/><rect x="49.7" y="274.3" width="1" height="1" fill="#000" fill-opacity="0.15"/><rect x="39.5" y="290.3" width="1" height="1" fill="#000" fill-opacity="0.15"/><rect x="43.1" y="280.6" width="1" height="1" fill="#000" fill-opacity="0.29"/><rect x="40.4" y="296.2" width="1" height="1" fill="#000" fill-opacity="0.09"/><rect x="40.8" y="292.8" width="1" height="1" fill="#000" fill-opacity="0.17"/><rect x="44.7" y="291.2" width="1" height="1" fill="#000" fill-opacity="0.18"/><rect x="44.8" y="273.2" width="1" height="1" fill="#000" fill-opacity="0.21"/><rect x="40.9" y="290.6" width="1" height="1" fill="#000" fill-opacity="0.29"/><rect x="46.4" y="277.5" width="1" height="1" fill="#000" fill-opacity="0.19"/><rect x="48.9" y="277.3" width="1" height="1" fill="#000" fill-opacity="0.11"/><rect x="39.8" y="294.3" width="1" height="1" fill="#000" fill-opacity="0.23"/><rect x="42.1" y="297.5" width="1" height="1" fill="#000" fill-opacity="0.10"/><rect x="38.9" y="294.6" width="1" height="1" fill="#000" fill-opacity="0.06"/><rect x="41.6" y="298.1" width="1" height="1" fill="#000" fill-opacity="0.07"/><rect x="42.1" y="301.1" width="1" height="1" fill="#000" fill-opacity="0.26"/><rect x="40.7" y="289.7" width="1" height="1" fill="#000" fill-opacity="0.08"/><rect x="53.2" y="292.5" width="1" height="1" fill="#000" fill-opacity="0.22"/><rect x="39.0" y="285.8" width="1" height="1" fill="#000" fill-opacity="0.14"/><rect x="45.6" y="284.8" width="1" height="1" fill="#000" fill-opacity="0.14"/><rect x="44.6" y="274.2" width="1" height="1" fill="#000" fill-opacity="0.06"/><rect x="43.8" y="274.4" width="1" height="1" fill="#000" fill-opacity="0.08"/><rect x="41.0" y="307.1" width="1" height="1" fill="#000" fill-opacity="0.29"/><rect x="45.9" y="296.6" width="1" height="1" fill="#000" fill-opacity="0.21"/><rect x="47.3" y="280.0" width="1" height="1" fill="#000" fill-opacity="0.31"/><rect x="45.1" y="291.2" width="1" height="1" fill="#000" fill-opacity="0.15"/><rect x="50.2" y="298.3" width="1" height="1" fill="#000" fill-opacity="0.06"/><rect x="40.2" y="291.1" width="1" height="1" fill="#000" fill-opacity="0.12"/><rect x="45.1" y="286.5" width="1" height="1" fill="#000" fill-opacity="0.09"/><rect x="44.3" y="293.7" width="1" height="1" fill="#000" fill-opacity="0.23"/><rect x="45.2" y="279.0" width="1" height="1" fill="#000" fill-opacity="0.06"/><rect x="37.5" y="296.9" width="1" height="1" fill="#000" fill-opacity="0.19"/><rect x="34.6" y="300.0" width="1" height="1" fill="#000" fill-opacity="0.06"/><rect x="44.0" y="279.2" width="1" height="1" fill="#000" fill-opacity="0.06"/><rect x="44.0" y="297.0" width="1" height="1" fill="#000" fill-opacity="0.15"/><rect x="41.1" y="296.0" width="1" height="1" fill="#000" fill-opacity="0.27"/><rect x="44.3" y="273.3" width="1" height="1" fill="#000" fill-opacity="0.27"/><rect x="46.3" y="291.4" width="1" height="1" fill="#000" fill-opacity="0.08"/><rect x="42.2" y="283.0" width="1" height="1" fill="#000" fill-opacity="0.05"/><rect x="47.3" y="273.5" width="1" height="1" fill="#000" fill-opacity="0.19"/><rect x="46.6" y="276.2" width="1" height="1" fill="#000" fill-opacity="0.15"/><rect x="41.9" y="295.1" width="1" height="1" fill="#000" fill-opacity="0.22"/><rect x="44.5" y="279.7" width="1" height="1" fill="#000" fill-opacity="0.20"/><rect x="44.9" y="296.1" width="1" height="1" fill="#000" fill-opacity="0.06"/><rect x="37.2" y="303.0" width="1" height="1" fill="#000" fill-opacity="0.29"/><rect x="41.3" y="291.8" width="1" height="1" fill="#000" fill-opacity="0.17"/><rect x="38.9" y="304.3" width="1" height="1" fill="#000" fill-opacity="0.20"/><rect x="43.2" y="300.9" width="1" height="1" fill="#000" fill-opacity="0.08"/><rect x="39.2" y="297.6" width="1" height="1" fill="#000" fill-opacity="0.17"/><rect x="42.1" y="303.4" width="1" height="1" fill="#000" fill-opacity="0.26"/><rect x="42.6" y="285.6" width="1" height="1" fill="#000" fill-opacity="0.10"/><rect x="43.3" y="285.8" width="1" height="1" fill="#000" fill-opacity="0.18"/><rect x="45.9" y="280.9" width="1" height="1" fill="#000" fill-opacity="0.14"/><rect x="40.2" y="298.9" width="1" height="1" fill="#000" fill-opacity="0.06"/><rect x="41.3" y="304.5" width="1" height="1" fill="#000" fill-opacity="0.15"/><rect x="44.8" y="285.3" width="1" height="1" fill="#000" fill-opacity="0.16"/><rect x="43.8" y="286.0" width="1" height="1" fill="#000" fill-opacity="0.16"/><rect x="46.1" y="277.9" width="1" height="1" fill="#000" fill-opacity="0.12"/><rect x="44.1" y="307.5" width="1" height="1" fill="#000" fill-opacity="0.18"/><rect x="41.6" y="305.9" width="1" height="1" fill="#000" fill-opacity="0.08"/><rect x="46.1" y="286.2" width="1" height="1" fill="#000" fill-opacity="0.17"/><rect x="42.5" y="292.3" width="1" height="1" fill="#000" fill-opacity="0.05"/><rect x="43.6" y="298.9" width="1" height="1" fill="#000" fill-opacity="0.23"/><rect x="45.1" y="286.1" width="1" height="1" fill="#000" fill-opacity="0.05"/><rect x="40.9" y="306.1" width="1" height="1" fill="#000" fill-opacity="0.10"/><rect x="40.2" y="300.8" width="1" height="1" fill="#000" fill-opacity="0.05"/><rect x="43.4" y="307.0" width="1" height="1" fill="#000" fill-opacity="0.28"/><rect x="45.5" y="287.8" width="1" height="1" fill="#000" fill-opacity="0.08"/><rect x="43.0" y="286.2" width="1" height="1" fill="#000" fill-opacity="0.10"/><rect x="47.7" y="275.2" width="1" height="1" fill="#000" fill-opacity="0.10"/><rect x="40.8" y="281.3" width="1" height="1" fill="#000" fill-opacity="0.17"/><rect x="40.5" y="278.5" width="1" height="1" fill="#000" fill-opacity="0.12"/><rect x="40.9" y="286.2" width="1" height="1" fill="#000" fill-opacity="0.16"/><rect x="40.3" y="291.7" width="1" height="1" fill="#000" fill-opacity="0.11"/><rect x="42.3" y="277.3" width="1" height="1" fill="#000" fill-opacity="0.05"/><rect x="39.8" y="292.7" width="1" height="1" fill="#000" fill-opacity="0.07"/><rect x="37.6" y="302.4" width="1" height="1" fill="#000" fill-opacity="0.08"/><rect x="43.5" y="300.8" width="1" height="1" fill="#000" fill-opacity="0.15"/><rect x="41.4" y="294.0" width="1" height="1" fill="#000" fill-opacity="0.11"/><rect x="44.1" y="287.2" width="1" height="1" fill="#000" fill-opacity="0.15"/><rect x="45.6" y="291.4" width="1" height="1" fill="#000" fill-opacity="0.20"/><rect x="36.3" y="307.1" width="1" height="1" fill="#000" fill-opacity="0.09"/><rect x="47.0" y="286.1" width="1" height="1" fill="#000" fill-opacity="0.06"/><rect x="49.1" y="278.1" width="1" height="1" fill="#000" fill-opacity="0.08"/><rect x="45.6" y="279.7" width="1" height="1" fill="#000" fill-opacity="0.27"/><rect x="38.8" y="304.0" width="1" height="1" fill="#000" fill-opacity="0.25"/><rect x="40.7" y="297.1" width="1" height="1" fill="#000" fill-opacity="0.17"/><rect x="42.4" y="300.8" width="1" height="1" fill="#000" fill-opacity="0.19"/><rect x="43.7" y="281.4" width="1" height="1" fill="#000" fill-opacity="0.29"/><rect x="44.4" y="276.4" width="1" height="1" fill="#000" fill-opacity="0.18"/><rect x="36.0" y="297.2" width="1" height="1" fill="#000" fill-opacity="0.13"/><rect x="41.8" y="282.2" width="1" height="1" fill="#000" fill-opacity="0.17"/><rect x="45.4" y="295.8" width="1" height="1" fill="#000" fill-opacity="0.17"/><rect x="39.6" y="306.6" width="1" height="1" fill="#000" fill-opacity="0.13"/><rect x="41.0" y="306.9" width="1" height="1" fill="#000" fill-opacity="0.05"/><rect x="41.1" y="305.3" width="1" height="1" fill="#000" fill-opacity="0.06"/><rect x="41.2" y="292.7" width="1" height="1" fill="#000" fill-opacity="0.30"/><rect x="46.1" y="276.9" width="1" height="1" fill="#000" fill-opacity="0.19"/><rect x="44.9" y="281.3" width="1" height="1" fill="#000" fill-opacity="0.24"/><rect x="39.4" y="301.7" width="1" height="1" fill="#000" fill-opacity="0.16"/><rect x="45.2" y="298.0" width="1" height="1" fill="#000" fill-opacity="0.28"/><rect x="46.8" y="299.4" width="1" height="1" fill="#000" fill-opacity="0.26"/><rect x="36.1" y="298.3" width="1" height="1" fill="#000" fill-opacity="0.23"/><rect x="31.2" y="306.6" width="1" height="1" fill="#000" fill-opacity="0.12"/><rect x="40.6" y="297.3" width="1" height="1" fill="#000" fill-opacity="0.13"/><rect x="48.6" y="285.4" width="1" height="1" fill="#000" fill-opacity="0.18"/><rect x="47.1" y="292.3" width="1" height="1" fill="#000" fill-opacity="0.27"/><rect x="43.2" y="303.7" width="1" height="1" fill="#000" fill-opacity="0.18"/><rect x="40.0" y="293.4" width="1" height="1" fill="#000" fill-opacity="0.30"/><rect x="45.8" y="307.2" width="1" height="1" fill="#000" fill-opacity="0.27"/><rect x="43.2" y="297.1" width="1" height="1" fill="#000" fill-opacity="0.21"/><rect x="39.3" y="305.6" width="1" height="1" fill="#000" fill-opacity="0.10"/><rect x="42.5" y="274.3" width="1" height="1" fill="#000" fill-opacity="0.13"/><rect x="38.0" y="294.0" width="1" height="1" fill="#000" fill-opacity="0.14"/><rect x="43.6" y="282.5" width="1" height="1" fill="#000" fill-opacity="0.13"/><rect x="40.9" y="291.5" width="1" height="1" fill="#000" fill-opacity="0.16"/><rect x="45.4" y="276.1" width="1" height="1" fill="#000" fill-opacity="0.11"/><rect x="39.6" y="305.3" width="1" height="1" fill="#000" fill-opacity="0.05"/><rect x="43.6" y="306.2" width="1" height="1" fill="#000" fill-opacity="0.19"/><rect x="48.2" y="281.5" width="1" height="1" fill="#000" fill-opacity="0.09"/><rect x="47.8" y="304.1" width="1" height="1" fill="#000" fill-opacity="0.29"/><rect x="39.9" y="307.3" width="1" height="1" fill="#000" fill-opacity="0.11"/><rect x="42.7" y="288.0" width="1" height="1" fill="#000" fill-opacity="0.15"/><rect x="35.1" y="296.8" width="1" height="1" fill="#000" fill-opacity="0.05"/><rect x="49.9" y="281.2" width="1" height="1" fill="#000" fill-opacity="0.19"/><rect x="41.2" y="298.5" width="1" height="1" fill="#000" fill-opacity="0.08"/><rect x="50.3" y="282.4" width="1" height="1" fill="#000" fill-opacity="0.07"/><rect x="40.1" y="289.8" width="1" height="1" fill="#000" fill-opacity="0.15"/><rect x="44.4" y="295.6" width="1" height="1" fill="#000" fill-opacity="0.21"/><rect x="37.2" y="285.4" width="1" height="1" fill="#000" fill-opacity="0.20"/><rect x="41.2" y="287.2" width="1" height="1" fill="#000" fill-opacity="0.23"/><rect x="40.7" y="305.1" width="1" height="1" fill="#000" fill-opacity="0.18"/><rect x="37.9" y="297.0" width="1" height="1" fill="#000" fill-opacity="0.14"/><rect x="43.6" y="273.9" width="1" height="1" fill="#000" fill-opacity="0.08"/><rect x="44.0" y="307.4" width="1" height="1" fill="#000" fill-opacity="0.09"/><rect x="41.6" y="296.0" width="1" height="1" fill="#000" fill-opacity="0.17"/><rect x="44.4" y="273.6" width="1" height="1" fill="#000" fill-opacity="0.15"/><rect x="39.8" y="294.8" width="1" height="1" fill="#000" fill-opacity="0.14"/><rect x="43.9" y="295.9" width="1" height="1" fill="#000" fill-opacity="0.11"/><rect x="44.5" y="302.9" width="1" height="1" fill="#000" fill-opacity="0.24"/><rect x="44.6" y="297.9" width="1" height="1" fill="#000" fill-opacity="0.25"/><rect x="46.8" y="282.2" width="1" height="1" fill="#000" fill-opacity="0.18"/><rect x="42.9" y="284.2" width="1" height="1" fill="#000" fill-opacity="0.08"/><rect x="43.6" y="298.2" width="1" height="1" fill="#000" fill-opacity="0.09"/><rect x="43.5" y="294.2" width="1" height="1" fill="#000" fill-opacity="0.08"/><rect x="43.0" y="303.0" width="1" height="1" fill="#000" fill-opacity="0.24"/><rect x="43.9" y="291.6" width="1" height="1" fill="#000" fill-opacity="0.26"/><rect x="46.0" y="290.1" width="1" height="1" fill="#000" fill-opacity="0.16"/><rect x="43.7" y="296.8" width="1" height="1" fill="#000" fill-opacity="0.06"/><rect x="47.5" y="282.0" width="1" height="1" fill="#000" fill-opacity="0.05"/><rect x="40.7" y="283.6" width="1" height="1" fill="#000" fill-opacity="0.17"/><rect x="44.9" y="304.8" width="1" height="1" fill="#000" fill-opacity="0.15"/><rect x="41.3" y="306.2" width="1" height="1" fill="#000" fill-opacity="0.09"/><rect x="46.2" y="286.9" width="1" height="1" fill="#000" fill-opacity="0.30"/><rect x="43.3" y="298.0" width="1" height="1" fill="#000" fill-opacity="0.21"/><rect x="40.1" y="298.3" width="1" height="1" fill="#000" fill-opacity="0.15"/><rect x="42.3" y="305.8" width="1" height="1" fill="#000" fill-opacity="0.13"/><rect x="39.8" y="300.1" width="1" height="1" fill="#000" fill-opacity="0.24"/><rect x="39.3" y="289.6" width="1" height="1" fill="#000" fill-opacity="0.08"/><rect x="37.2" y="306.5" width="1" height="1" fill="#000" fill-opacity="0.25"/><rect x="45.1" y="299.3" width="1" height="1" fill="#000" fill-opacity="0.18"/><rect x="33.1" y="305.5" width="1" height="1" fill="#000" fill-opacity="0.26"/><rect x="43.3" y="288.0" width="1" height="1" fill="#000" fill-opacity="0.14"/><rect x="43.7" y="305.0" width="1" height="1" fill="#000" fill-opacity="0.27"/><rect x="44.8" y="285.1" width="1" height="1" fill="#000" fill-opacity="0.28"/><rect x="38.2" y="304.7" width="1" height="1" fill="#000" fill-opacity="0.21"/><rect x="43.4" y="301.3" width="1" height="1" fill="#000" fill-opacity="0.07"/><rect x="43.9" y="282.9" width="1" height="1" fill="#000" fill-opacity="0.11"/><rect x="40.7" y="293.6" width="1" height="1" fill="#000" fill-opacity="0.18"/><rect x="41.9" y="286.5" width="1" height="1" fill="#000" fill-opacity="0.28"/><rect x="47.7" y="292.9" width="1" height="1" fill="#000" fill-opacity="0.23"/><rect x="35.8" y="295.8" width="1" height="1" fill="#000" fill-opacity="0.09"/><rect x="42.1" y="305.6" width="1" height="1" fill="#000" fill-opacity="0.16"/><rect x="41.0" y="294.6" width="1" height="1" fill="#000" fill-opacity="0.05"/><rect x="43.5" y="302.5" width="1" height="1" fill="#000" fill-opacity="0.28"/><rect x="41.7" y="276.9" width="1" height="1" fill="#000" fill-opacity="0.06"/><rect x="46.4" y="286.3" width="1" height="1" fill="#000" fill-opacity="0.13"/><rect x="45.5" y="274.8" width="1" height="1" fill="#000" fill-opacity="0.17"/><rect x="37.3" y="303.2" width="1" height="1" fill="#000" fill-opacity="0.07"/><rect x="41.9" y="297.9" width="1" height="1" fill="#000" fill-opacity="0.26"/><rect x="45.1" y="273.8" width="1" height="1" fill="#000" fill-opacity="0.27"/><rect x="41.4" y="294.5" width="1" height="1" fill="#000" fill-opacity="0.25"/><rect x="46.0" y="303.5" width="1" height="1" fill="#000" fill-opacity="0.09"/><rect x="47.3" y="306.8" width="1" height="1" fill="#000" fill-opacity="0.14"/><rect x="46.2" y="273.4" width="1" height="1" fill="#000" fill-opacity="0.31"/><rect x="41.7" y="281.5" width="1" height="1" fill="#000" fill-opacity="0.25"/><rect x="38.3" y="287.5" width="1" height="1" fill="#000" fill-opacity="0.13"/><rect x="48.0" y="275.8" width="1" height="1" fill="#000" fill-opacity="0.16"/><rect x="41.9" y="276.8" width="1" height="1" fill="#000" fill-opacity="0.17"/><rect x="42.5" y="299.3" width="1" height="1" fill="#000" fill-opacity="0.07"/><rect x="44.5" y="289.7" width="1" height="1" fill="#000" fill-opacity="0.26"/><rect x="42.2" y="281.9" width="1" height="1" fill="#000" fill-opacity="0.23"/><rect x="48.0" y="296.0" width="1" height="1" fill="#000" fill-opacity="0.16"/><rect x="41.2" y="305.2" width="1" height="1" fill="#000" fill-opacity="0.16"/><rect x="43.7" y="307.3" width="1" height="1" fill="#000" fill-opacity="0.11"/><rect x="41.3" y="291.1" width="1" height="1" fill="#000" fill-opacity="0.18"/><rect x="38.8" y="289.9" width="1" height="1" fill="#000" fill-opacity="0.25"/><rect x="42.9" y="294.9" width="1" height="1" fill="#000" fill-opacity="0.14"/><rect x="45.7" y="281.0" width="1" height="1" fill="#000" fill-opacity="0.10"/><rect x="41.6" y="302.5" width="1" height="1" fill="#000" fill-opacity="0.27"/><rect x="43.7" y="304.3" width="1" height="1" fill="#000" fill-opacity="0.14"/><rect x="45.6" y="280.5" width="1" height="1" fill="#000" fill-opacity="0.31"/><rect x="43.7" y="279.3" width="1" height="1" fill="#000" fill-opacity="0.05"/><rect x="42.7" y="288.1" width="1" height="1" fill="#000" fill-opacity="0.24"/><rect x="45.9" y="300.9" width="1" height="1" fill="#000" fill-opacity="0.16"/><rect x="42.5" y="288.6" width="1" height="1" fill="#000" fill-opacity="0.06"/><rect x="44.0" y="303.7" width="1" height="1" fill="#000" fill-opacity="0.06"/><rect x="40.8" y="300.4" width="1" height="1" fill="#000" fill-opacity="0.21"/><rect x="42.4" y="301.0" width="1" height="1" fill="#000" fill-opacity="0.14"/><rect x="45.9" y="283.9" width="1" height="1" fill="#000" fill-opacity="0.09"/><rect x="49.1" y="278.4" width="1" height="1" fill="#000" fill-opacity="0.06"/><rect x="41.0" y="299.3" width="1" height="1" fill="#000" fill-opacity="0.28"/><rect x="46.2" y="279.0" width="1" height="1" fill="#000" fill-opacity="0.11"/><rect x="46.0" y="283.5" width="1" height="1" fill="#000" fill-opacity="0.05"/><rect x="41.9" y="299.3" width="1" height="1" fill="#000" fill-opacity="0.05"/><rect x="36.8" y="289.7" width="1" height="1" fill="#000" fill-opacity="0.19"/><rect x="38.2" y="278.4" width="1" height="1" fill="#000" fill-opacity="0.07"/><rect x="45.6" y="305.2" width="1" height="1" fill="#000" fill-opacity="0.06"/><rect x="44.7" y="289.8" width="1" height="1" fill="#000" fill-opacity="0.07"/><rect x="43.1" y="306.6" width="1" height="1" fill="#000" fill-opacity="0.30"/><rect x="47.2" y="298.7" width="1" height="1" fill="#000" fill-opacity="0.08"/><rect x="43.8" y="275.9" width="1" height="1" fill="#000" fill-opacity="0.05"/><rect x="46.7" y="273.8" width="1" height="1" fill="#000" fill-opacity="0.16"/><rect x="41.6" y="307.4" width="1" height="1" fill="#000" fill-opacity="0.22"/><rect x="41.6" y="305.9" width="1" height="1" fill="#000" fill-opacity="0.15"/><rect x="40.7" y="302.6" width="1" height="1" fill="#000" fill-opacity="0.09"/><rect x="40.5" y="293.3" width="1" height="1" fill="#000" fill-opacity="0.19"/><rect x="44.0" y="303.0" width="1" height="1" fill="#000" fill-opacity="0.07"/><rect x="41.6" y="286.0" width="1" height="1" fill="#000" fill-opacity="0.12"/><rect x="49.5" y="293.9" width="1" height="1" fill="#000" fill-opacity="0.05"/><rect x="45.0" y="307.2" width="1" height="1" fill="#000" fill-opacity="0.19"/><rect x="46.9" y="275.0" width="1" height="1" fill="#000" fill-opacity="0.12"/><rect x="43.0" y="285.1" width="1" height="1" fill="#000" fill-opacity="0.12"/><rect x="44.5" y="285.3" width="1" height="1" fill="#000" fill-opacity="0.24"/><rect x="46.3" y="275.1" width="1" height="1" fill="#000" fill-opacity="0.16"/><rect x="39.2" y="293.0" width="1" height="1" fill="#000" fill-opacity="0.14"/><rect x="38.5" y="286.2" width="1" height="1" fill="#000" fill-opacity="0.13"/><rect x="39.7" y="294.0" width="1" height="1" fill="#000" fill-opacity="0.25"/><rect x="39.8" y="286.4" width="1" height="1" fill="#000" fill-opacity="0.24"/><rect x="42.6" y="289.0" width="1" height="1" fill="#000" fill-opacity="0.08"/><rect x="41.1" y="299.5" width="1" height="1" fill="#000" fill-opacity="0.13"/><rect x="44.0" y="277.6" width="1" height="1" fill="#000" fill-opacity="0.08"/><rect x="40.2" y="295.0" width="1" height="1" fill="#000" fill-opacity="0.20"/><rect x="36.9" y="288.3" width="1" height="1" fill="#000" fill-opacity="0.11"/><rect x="40.6" y="295.2" width="1" height="1" fill="#000" fill-opacity="0.23"/><rect x="38.4" y="307.4" width="1" height="1" fill="#000" fill-opacity="0.22"/><rect x="43.6" y="283.7" width="1" height="1" fill="#000" fill-opacity="0.10"/><rect x="43.6" y="289.7" width="1" height="1" fill="#000" fill-opacity="0.23"/><rect x="44.6" y="278.5" width="1" height="1" fill="#000" fill-opacity="0.06"/><rect x="45.9" y="273.5" width="1" height="1" fill="#000" fill-opacity="0.18"/><rect x="38.1" y="304.8" width="1" height="1" fill="#000" fill-opacity="0.17"/><rect x="33.6" y="301.9" width="1" height="1" fill="#000" fill-opacity="0.30"/><rect x="45.5" y="285.4" width="1" height="1" fill="#000" fill-opacity="0.14"/><rect x="47.7" y="290.3" width="1" height="1" fill="#000" fill-opacity="0.11"/><rect x="38.3" y="300.0" width="1" height="1" fill="#000" fill-opacity="0.13"/><rect x="45.9" y="278.7" width="1" height="1" fill="#000" fill-opacity="0.06"/><rect x="45.9" y="302.9" width="1" height="1" fill="#000" fill-opacity="0.18"/><rect x="41.7" y="288.1" width="1" height="1" fill="#000" fill-opacity="0.08"/><rect x="42.7" y="296.7" width="1" height="1" fill="#000" fill-opacity="0.31"/><rect x="45.3" y="283.7" width="1" height="1" fill="#000" fill-opacity="0.26"/><rect x="40.1" y="307.5" width="1" height="1" fill="#000" fill-opacity="0.14"/><rect x="41.1" y="286.4" width="1" height="1" fill="#000" fill-opacity="0.05"/><rect x="35.9" y="297.5" width="1" height="1" fill="#000" fill-opacity="0.15"/><rect x="39.7" y="299.3" width="1" height="1" fill="#000" fill-opacity="0.17"/><rect x="42.1" y="289.9" width="1" height="1" fill="#000" fill-opacity="0.09"/><rect x="45.4" y="307.4" width="1" height="1" fill="#000" fill-opacity="0.10"/><rect x="37.0" y="305.9" width="1" height="1" fill="#000" fill-opacity="0.26"/><rect x="43.9" y="283.5" width="1" height="1" fill="#000" fill-opacity="0.22"/><rect x="44.7" y="273.4" width="1" height="1" fill="#000" fill-opacity="0.08"/><rect x="44.6" y="305.5" width="1" height="1" fill="#000" fill-opacity="0.15"/><rect x="47.5" y="292.6" width="1" height="1" fill="#000" fill-opacity="0.30"/><rect x="47.0" y="306.3" width="1" height="1" fill="#000" fill-opacity="0.05"/><rect x="40.3" y="306.4" width="1" height="1" fill="#000" fill-opacity="0.05"/><rect x="34.0" y="307.4" width="1" height="1" fill="#000" fill-opacity="0.15"/><rect x="42.4" y="298.8" width="1" height="1" fill="#000" fill-opacity="0.08"/><rect x="41.6" y="302.9" width="1" height="1" fill="#000" fill-opacity="0.09"/><rect x="42.9" y="291.1" width="1" height="1" fill="#000" fill-opacity="0.08"/><rect x="46.3" y="277.8" width="1" height="1" fill="#000" fill-opacity="0.08"/><rect x="40.3" y="291.0" width="1" height="1" fill="#000" fill-opacity="0.12"/><rect x="42.0" y="307.3" width="1" height="1" fill="#000" fill-opacity="0.07"/><rect x="43.4" y="287.7" width="1" height="1" fill="#000" fill-opacity="0.07"/><rect x="42.8" y="277.0" width="1" height="1" fill="#000" fill-opacity="0.06"/><rect x="45.1" y="281.6" width="1" height="1" fill="#000" fill-opacity="0.25"/><rect x="40.0" y="304.3" width="1" height="1" fill="#000" fill-opacity="0.05"/><rect x="39.3" y="300.3" width="1" height="1" fill="#000" fill-opacity="0.13"/><rect x="47.0" y="281.7" width="1" height="1" fill="#000" fill-opacity="0.19"/><rect x="43.0" y="305.1" width="1" height="1" fill="#000" fill-opacity="0.06"/><rect x="48.7" y="275.0" width="1" height="1" fill="#000" fill-opacity="0.24"/><rect x="41.0" y="302.3" width="1" height="1" fill="#000" fill-opacity="0.12"/><rect x="44.2" y="301.4" width="1" height="1" fill="#000" fill-opacity="0.05"/><rect x="42.8" y="301.3" width="1" height="1" fill="#000" fill-opacity="0.13"/><rect x="46.6" y="278.3" width="1" height="1" fill="#000" fill-opacity="0.19"/><rect x="45.1" y="288.7" width="1" height="1" fill="#000" fill-opacity="0.12"/><rect x="39.2" y="301.6" width="1" height="1" fill="#000" fill-opacity="0.25"/><rect x="47.4" y="278.2" width="1" height="1" fill="#000" fill-opacity="0.06"/><rect x="38.6" y="306.2" width="1" height="1" fill="#000" fill-opacity="0.24"/><rect x="38.8" y="277.9" width="1" height="1" fill="#000" fill-opacity="0.28"/><rect x="42.6" y="283.2" width="1" height="1" fill="#000" fill-opacity="0.11"/><rect x="40.6" y="294.6" width="1" height="1" fill="#000" fill-opacity="0.13"/><rect x="43.9" y="307.3" width="1" height="1" fill="#000" fill-opacity="0.06"/><rect x="35.0" y="303.8" width="1" height="1" fill="#000" fill-opacity="0.21"/><rect x="38.5" y="304.3" width="1" height="1" fill="#000" fill-opacity="0.13"/><rect x="44.0" y="288.2" width="1" height="1" fill="#000" fill-opacity="0.17"/><rect x="42.7" y="301.8" width="1" height="1" fill="#000" fill-opacity="0.18"/><rect x="43.3" y="303.7" width="1" height="1" fill="#000" fill-opacity="0.12"/><rect x="40.8" y="291.2" width="1" height="1" fill="#000" fill-opacity="0.27"/><rect x="46.7" y="276.6" width="1" height="1" fill="#000" fill-opacity="0.05"/><rect x="37.1" y="303.3" width="1" height="1" fill="#000" fill-opacity="0.15"/><rect x="44.7" y="273.6" width="1" height="1" fill="#000" fill-opacity="0.11"/><rect x="43.2" y="274.6" width="1" height="1" fill="#000" fill-opacity="0.14"/><rect x="47.2" y="278.5" width="1" height="1" fill="#000" fill-opacity="0.18"/><rect x="39.5" y="286.7" width="1" height="1" fill="#000" fill-opacity="0.10"/><rect x="42.1" y="305.1" width="1" height="1" fill="#000" fill-opacity="0.09"/><rect x="42.9" y="288.8" width="1" height="1" fill="#000" fill-opacity="0.30"/><rect x="41.7" y="302.6" width="1" height="1" fill="#000" fill-opacity="0.10"/><rect x="48.5" y="296.4" width="1" height="1" fill="#000" fill-opacity="0.11"/><rect x="46.3" y="306.7" width="1" height="1" fill="#000" fill-opacity="0.05"/><rect x="39.3" y="305.6" width="1" height="1" fill="#000" fill-opacity="0.06"/><rect x="43.5" y="297.6" width="1" height="1" fill="#000" fill-opacity="0.08"/><rect x="40.8" y="299.5" width="1" height="1" fill="#000" fill-opacity="0.14"/><rect x="39.2" y="277.2" width="1" height="1" fill="#000" fill-opacity="0.15"/><rect x="40.7" y="295.4" width="1" height="1" fill="#000" fill-opacity="0.26"/><rect x="39.5" y="290.0" width="1" height="1" fill="#000" fill-opacity="0.11"/><rect x="43.0" y="295.4" width="1" height="1" fill="#000" fill-opacity="0.06"/><rect x="41.7" y="302.7" width="1" height="1" fill="#000" fill-opacity="0.07"/><rect x="39.6" y="303.9" width="1" height="1" fill="#000" fill-opacity="0.11"/><rect x="38.0" y="306.7" width="1" height="1" fill="#000" fill-opacity="0.20"/><rect x="47.1" y="278.6" width="1" height="1" fill="#000" fill-opacity="0.06"/><rect x="44.2" y="287.6" width="1" height="1" fill="#000" fill-opacity="0.16"/><rect x="46.5" y="279.8" width="1" height="1" fill="#000" fill-opacity="0.19"/><rect x="47.0" y="273.6" width="1" height="1" fill="#000" fill-opacity="0.14"/><rect x="41.4" y="307.0" width="1" height="1" fill="#000" fill-opacity="0.05"/><rect x="40.5" y="297.7" width="1" height="1" fill="#000" fill-opacity="0.05"/><rect x="41.3" y="299.2" width="1" height="1" fill="#000" fill-opacity="0.22"/><rect x="47.1" y="290.5" width="1" height="1" fill="#000" fill-opacity="0.27"/><rect x="42.9" y="290.3" width="1" height="1" fill="#000" fill-opacity="0.14"/><rect x="43.4" y="296.0" width="1" height="1" fill="#000" fill-opacity="0.19"/><rect x="44.7" y="279.0" width="1" height="1" fill="#000" fill-opacity="0.05"/><rect x="40.1" y="303.4" width="1" height="1" fill="#000" fill-opacity="0.25"/><rect x="44.3" y="301.3" width="1" height="1" fill="#000" fill-opacity="0.09"/><rect x="45.1" y="293.4" width="1" height="1" fill="#000" fill-opacity="0.18"/><rect x="40.2" y="306.7" width="1" height="1" fill="#000" fill-opacity="0.12"/><rect x="45.1" y="276.1" width="1" height="1" fill="#000" fill-opacity="0.19"/><rect x="45.7" y="290.6" width="1" height="1" fill="#000" fill-opacity="0.16"/><rect x="42.0" y="289.0" width="1" height="1" fill="#000" fill-opacity="0.10"/><rect x="39.7" y="296.6" width="1" height="1" fill="#000" fill-opacity="0.15"/><rect x="45.1" y="290.5" width="1" height="1" fill="#000" fill-opacity="0.13"/><rect x="42.3" y="280.1" width="1" height="1" fill="#000" fill-opacity="0.30"/><rect x="41.4" y="301.6" width="1" height="1" fill="#000" fill-opacity="0.22"/><rect x="38.4" y="306.9" width="1" height="1" fill="#000" fill-opacity="0.14"/><rect x="40.9" y="290.4" width="1" height="1" fill="#000" fill-opacity="0.23"/><rect x="36.6" y="290.7" width="1" height="1" fill="#000" fill-opacity="0.14"/><rect x="36.6" y="307.3" width="1" height="1" fill="#000" fill-opacity="0.22"/><rect x="40.0" y="303.9" width="1" height="1" fill="#000" fill-opacity="0.17"/><rect x="40.1" y="306.7" width="1" height="1" fill="#000" fill-opacity="0.13"/><rect x="38.3" y="285.9" width="1" height="1" fill="#000" fill-opacity="0.19"/><rect x="46.7" y="299.7" width="1" height="1" fill="#000" fill-opacity="0.11"/><rect x="44.5" y="304.0" width="1" height="1" fill="#000" fill-opacity="0.13"/><rect x="47.5" y="280.0" width="1" height="1" fill="#000" fill-opacity="0.30"/><rect x="40.2" y="303.6" width="1" height="1" fill="#000" fill-opacity="0.14"/><rect x="41.8" y="307.4" width="1" height="1" fill="#000" fill-opacity="0.05"/><rect x="49.2" y="287.2" width="1" height="1" fill="#000" fill-opacity="0.14"/><rect x="46.2" y="273.5" width="1" height="1" fill="#000" fill-opacity="0.08"/><rect x="44.9" y="273.4" width="1" height="1" fill="#000" fill-opacity="0.10"/><rect x="45.5" y="303.4" width="1" height="1" fill="#000" fill-opacity="0.09"/><rect x="40.7" y="291.0" width="1" height="1" fill="#000" fill-opacity="0.12"/><rect x="40.7" y="294.5" width="1" height="1" fill="#000" fill-opacity="0.18"/><rect x="44.3" y="274.9" width="1" height="1" fill="#000" fill-opacity="0.17"/><rect x="43.6" y="281.9" width="1" height="1" fill="#000" fill-opacity="0.05"/><rect x="46.3" y="273.8" width="1" height="1" fill="#000" fill-opacity="0.06"/><rect x="39.2" y="297.2" width="1" height="1" fill="#000" fill-opacity="0.18"/><rect x="38.2" y="295.2" width="1" height="1" fill="#000" fill-opacity="0.24"/><rect x="43.0" y="295.1" width="1" height="1" fill="#000" fill-opacity="0.21"/><rect x="40.2" y="305.6" width="1" height="1" fill="#000" fill-opacity="0.11"/><rect x="43.9" y="295.0" width="1" height="1" fill="#000" fill-opacity="0.25"/><rect x="44.6" y="307.0" width="1" height="1" fill="#000" fill-opacity="0.07"/><rect x="42.6" y="274.0" width="1" height="1" fill="#000" fill-opacity="0.28"/><rect x="44.8" y="282.4" width="1" height="1" fill="#000" fill-opacity="0.07"/><rect x="45.3" y="289.4" width="1" height="1" fill="#000" fill-opacity="0.16"/><rect x="48.2" y="281.5" width="1" height="1" fill="#000" fill-opacity="0.05"/><rect x="45.3" y="276.1" width="1" height="1" fill="#000" fill-opacity="0.13"/><rect x="49.4" y="277.7" width="1" height="1" fill="#000" fill-opacity="0.06"/><rect x="33.0" y="306.6" width="1" height="1" fill="#000" fill-opacity="0.13"/><rect x="44.1" y="292.7" width="1" height="1" fill="#000" fill-opacity="0.07"/><rect x="37.1" y="291.5" width="1" height="1" fill="#000" fill-opacity="0.22"/><rect x="45.5" y="293.8" width="1" height="1" fill="#000" fill-opacity="0.06"/><rect x="46.1" y="304.4" width="1" height="1" fill="#000" fill-opacity="0.08"/><rect x="43.4" y="280.9" width="1" height="1" fill="#000" fill-opacity="0.08"/><rect x="43.5" y="294.6" width="1" height="1" fill="#000" fill-opacity="0.06"/><rect x="39.9" y="306.6" width="1" height="1" fill="#000" fill-opacity="0.07"/><rect x="41.0" y="297.4" width="1" height="1" fill="#000" fill-opacity="0.05"/><rect x="44.9" y="293.5" width="1" height="1" fill="#000" fill-opacity="0.13"/><rect x="42.6" y="283.8" width="1" height="1" fill="#000" fill-opacity="0.10"/><rect x="47.2" y="283.3" width="1" height="1" fill="#000" fill-opacity="0.07"/><rect x="39.4" y="293.4" width="1" height="1" fill="#000" fill-opacity="0.15"/><rect x="44.0" y="291.7" width="1" height="1" fill="#000" fill-opacity="0.10"/><rect x="47.4" y="280.4" width="1" height="1" fill="#000" fill-opacity="0.18"/><rect x="42.6" y="284.5" width="1" height="1" fill="#000" fill-opacity="0.10"/><rect x="39.7" y="289.6" width="1" height="1" fill="#000" fill-opacity="0.11"/><rect x="43.7" y="291.7" width="1" height="1" fill="#000" fill-opacity="0.08"/><rect x="43.1" y="301.7" width="1" height="1" fill="#000" fill-opacity="0.08"/><rect x="47.4" y="282.2" width="1" height="1" fill="#000" fill-opacity="0.27"/><rect x="40.7" y="283.0" width="1" height="1" fill="#000" fill-opacity="0.10"/><rect x="49.0" y="297.8" width="1" height="1" fill="#000" fill-opacity="0.17"/><rect x="39.1" y="287.0" width="1" height="1" fill="#000" fill-opacity="0.26"/><rect x="45.0" y="300.2" width="1" height="1" fill="#000" fill-opacity="0.08"/><rect x="40.7" y="296.6" width="1" height="1" fill="#000" fill-opacity="0.07"/><rect x="37.7" y="296.9" width="1" height="1" fill="#000" fill-opacity="0.27"/><rect x="41.4" y="274.7" width="1" height="1" fill="#000" fill-opacity="0.25"/><rect x="38.0" y="302.2" width="1" height="1" fill="#000" fill-opacity="0.05"/><rect x="39.7" y="288.8" width="1" height="1" fill="#000" fill-opacity="0.09"/><rect x="45.7" y="295.3" width="1" height="1" fill="#000" fill-opacity="0.24"/><rect x="39.5" y="305.7" width="1" height="1" fill="#000" fill-opacity="0.15"/><rect x="44.6" y="284.1" width="1" height="1" fill="#000" fill-opacity="0.31"/><rect x="45.6" y="283.3" width="1" height="1" fill="#000" fill-opacity="0.15"/><rect x="45.7" y="287.8" width="1" height="1" fill="#000" fill-opacity="0.20"/><rect x="46.4" y="274.1" width="1" height="1" fill="#000" fill-opacity="0.07"/><rect x="44.3" y="274.3" width="1" height="1" fill="#000" fill-opacity="0.07"/><rect x="47.2" y="274.4" width="1" height="1" fill="#000" fill-opacity="0.06"/><rect x="44.5" y="304.7" width="1" height="1" fill="#000" fill-opacity="0.10"/><rect x="43.3" y="281.7" width="1" height="1" fill="#000" fill-opacity="0.06"/><rect x="39.4" y="297.9" width="1" height="1" fill="#000" fill-opacity="0.07"/><rect x="37.7" y="301.9" width="1" height="1" fill="#000" fill-opacity="0.28"/><rect x="41.3" y="305.8" width="1" height="1" fill="#000" fill-opacity="0.15"/><rect x="44.7" y="290.6" width="1" height="1" fill="#000" fill-opacity="0.06"/><rect x="46.4" y="277.5" width="1" height="1" fill="#000" fill-opacity="0.10"/><rect x="36.8" y="306.4" width="1" height="1" fill="#000" fill-opacity="0.27"/><rect x="44.2" y="284.7" width="1" height="1" fill="#000" fill-opacity="0.07"/><rect x="48.5" y="276.9" width="1" height="1" fill="#000" fill-opacity="0.05"/><rect x="44.3" y="280.6" width="1" height="1" fill="#000" fill-opacity="0.07"/><rect x="45.8" y="281.5" width="1" height="1" fill="#000" fill-opacity="0.06"/><rect x="37.2" y="296.5" width="1" height="1" fill="#000" fill-opacity="0.06"/><rect x="47.1" y="284.7" width="1" height="1" fill="#000" fill-opacity="0.19"/><rect x="43.3" y="286.7" width="1" height="1" fill="#000" fill-opacity="0.06"/><rect x="39.0" y="297.5" width="1" height="1" fill="#000" fill-opacity="0.12"/><rect x="46.6" y="297.6" width="1" height="1" fill="#000" fill-opacity="0.16"/><rect x="43.9" y="302.7" width="1" height="1" fill="#000" fill-opacity="0.05"/><rect x="44.3" y="286.6" width="1" height="1" fill="#000" fill-opacity="0.13"/><rect x="42.3" y="288.6" width="1" height="1" fill="#000" fill-opacity="0.24"/><rect x="43.7" y="280.6" width="1" height="1" fill="#000" fill-opacity="0.05"/><rect x="43.1" y="295.5" width="1" height="1" fill="#000" fill-opacity="0.26"/><rect x="40.7" y="285.6" width="1" height="1" fill="#000" fill-opacity="0.19"/><rect x="45.1" y="277.0" width="1" height="1" fill="#000" fill-opacity="0.05"/><rect x="38.4" y="294.6" width="1" height="1" fill="#000" fill-opacity="0.20"/><rect x="40.3" y="292.1" width="1" height="1" fill="#000" fill-opacity="0.25"/><rect x="40.1" y="301.5" width="1" height="1" fill="#000" fill-opacity="0.18"/><rect x="42.8" y="295.3" width="1" height="1" fill="#000" fill-opacity="0.06"/><rect x="42.4" y="300.2" width="1" height="1" fill="#000" fill-opacity="0.13"/><rect x="46.9" y="307.1" width="1" height="1" fill="#000" fill-opacity="0.30"/><rect x="44.7" y="295.5" width="1" height="1" fill="#000" fill-opacity="0.13"/><rect x="46.1" y="289.2" width="1" height="1" fill="#000" fill-opacity="0.19"/><rect x="46.5" y="275.4" width="1" height="1" fill="#000" fill-opacity="0.18"/><rect x="37.2" y="291.3" width="1" height="1" fill="#000" fill-opacity="0.15"/><rect x="46.3" y="293.8" width="1" height="1" fill="#000" fill-opacity="0.21"/><rect x="46.3" y="295.2" width="1" height="1" fill="#000" fill-opacity="0.26"/><rect x="43.9" y="297.6" width="1" height="1" fill="#000" fill-opacity="0.06"/><rect x="42.7" y="305.4" width="1" height="1" fill="#000" fill-opacity="0.19"/><rect x="40.2" y="305.9" width="1" height="1" fill="#000" fill-opacity="0.15"/><rect x="44.8" y="276.8" width="1" height="1" fill="#000" fill-opacity="0.17"/><rect x="45.6" y="290.3" width="1" height="1" fill="#000" fill-opacity="0.16"/><rect x="46.4" y="296.8" width="1" height="1" fill="#000" fill-opacity="0.09"/><rect x="44.2" y="288.5" width="1" height="1" fill="#000" fill-opacity="0.13"/><rect x="44.7" y="300.8" width="1" height="1" fill="#000" fill-opacity="0.30"/><rect x="42.5" y="293.8" width="1" height="1" fill="#000" fill-opacity="0.15"/><rect x="44.2" y="300.8" width="1" height="1" fill="#000" fill-opacity="0.13"/><rect x="47.2" y="289.8" width="1" height="1" fill="#000" fill-opacity="0.07"/><rect x="39.9" y="292.6" width="1" height="1" fill="#000" fill-opacity="0.19"/><rect x="37.8" y="296.1" width="1" height="1" fill="#000" fill-opacity="0.20"/><rect x="39.0" y="289.4" width="1" height="1" fill="#000" fill-opacity="0.09"/><rect x="41.8" y="306.4" width="1" height="1" fill="#000" fill-opacity="0.06"/><rect x="48.4" y="274.2" width="1" height="1" fill="#000" fill-opacity="0.08"/><rect x="41.1" y="279.8" width="1" height="1" fill="#000" fill-opacity="0.23"/><rect x="42.4" y="291.5" width="1" height="1" fill="#000" fill-opacity="0.31"/><rect x="46.1" y="273.1" width="1" height="1" fill="#000" fill-opacity="0.25"/><rect x="41.6" y="294.9" width="1" height="1" fill="#000" fill-opacity="0.15"/><rect x="33.6" y="304.9" width="1" height="1" fill="#000" fill-opacity="0.30"/><rect x="43.4" y="291.6" width="1" height="1" fill="#000" fill-opacity="0.05"/><rect x="38.2" y="294.4" width="1" height="1" fill="#000" fill-opacity="0.05"/><rect x="46.8" y="300.9" width="1" height="1" fill="#000" fill-opacity="0.16"/><rect x="40.0" y="305.3" width="1" height="1" fill="#000" fill-opacity="0.20"/><rect x="40.2" y="289.1" width="1" height="1" fill="#000" fill-opacity="0.28"/><rect x="38.8" y="294.9" width="1" height="1" fill="#000" fill-opacity="0.17"/><rect x="38.9" y="291.9" width="1" height="1" fill="#000" fill-opacity="0.07"/><rect x="38.3" y="306.6" width="1" height="1" fill="#000" fill-opacity="0.06"/><rect x="38.2" y="306.8" width="1" height="1" fill="#000" fill-opacity="0.23"/><rect x="40.4" y="304.0" width="1" height="1" fill="#000" fill-opacity="0.07"/><rect x="46.4" y="278.7" width="1" height="1" fill="#000" fill-opacity="0.20"/><rect x="44.5" y="290.7" width="1" height="1" fill="#000" fill-opacity="0.09"/><rect x="39.0" y="304.7" width="1" height="1" fill="#000" fill-opacity="0.26"/><rect x="40.6" y="300.9" width="1" height="1" fill="#000" fill-opacity="0.28"/><rect x="38.8" y="307.2" width="1" height="1" fill="#000" fill-opacity="0.14"/><rect x="40.8" y="295.3" width="1" height="1" fill="#000" fill-opacity="0.24"/><rect x="41.6" y="303.3" width="1" height="1" fill="#000" fill-opacity="0.18"/><rect x="43.4" y="280.4" width="1" height="1" fill="#000" fill-opacity="0.12"/><rect x="42.8" y="279.4" width="1" height="1" fill="#000" fill-opacity="0.28"/><rect x="46.7" y="273.4" width="1" height="1" fill="#000" fill-opacity="0.23"/><rect x="44.7" y="302.0" width="1" height="1" fill="#000" fill-opacity="0.26"/><rect x="40.9" y="299.1" width="1" height="1" fill="#000" fill-opacity="0.08"/><rect x="38.3" y="301.2" width="1" height="1" fill="#000" fill-opacity="0.15"/><rect x="32.1" y="305.4" width="1" height="1" fill="#000" fill-opacity="0.20"/><rect x="44.5" y="277.3" width="1" height="1" fill="#000" fill-opacity="0.10"/><rect x="43.8" y="282.4" width="1" height="1" fill="#000" fill-opacity="0.20"/><rect x="48.4" y="273.2" width="1" height="1" fill="#000" fill-opacity="0.20"/><rect x="38.7" y="297.2" width="1" height="1" fill="#000" fill-opacity="0.05"/><rect x="38.6" y="282.7" width="1" height="1" fill="#000" fill-opacity="0.06"/><rect x="45.7" y="279.0" width="1" height="1" fill="#000" fill-opacity="0.18"/><rect x="43.6" y="277.8" width="1" height="1" fill="#000" fill-opacity="0.15"/><rect x="37.6" y="305.6" width="1" height="1" fill="#000" fill-opacity="0.08"/><rect x="44.2" y="290.2" width="1" height="1" fill="#000" fill-opacity="0.18"/><rect x="45.6" y="289.5" width="1" height="1" fill="#000" fill-opacity="0.27"/><rect x="39.3" y="295.4" width="1" height="1" fill="#000" fill-opacity="0.22"/><rect x="42.2" y="288.3" width="1" height="1" fill="#000" fill-opacity="0.29"/><rect x="43.4" y="304.5" width="1" height="1" fill="#000" fill-opacity="0.18"/><rect x="45.0" y="287.8" width="1" height="1" fill="#000" fill-opacity="0.07"/><rect x="39.6" y="300.7" width="1" height="1" fill="#000" fill-opacity="0.25"/><rect x="39.7" y="305.4" width="1" height="1" fill="#000" fill-opacity="0.23"/><rect x="40.0" y="304.2" width="1" height="1" fill="#000" fill-opacity="0.29"/><rect x="40.2" y="277.2" width="1" height="1" fill="#000" fill-opacity="0.05"/><rect x="47.6" y="286.9" width="1" height="1" fill="#000" fill-opacity="0.13"/><rect x="41.3" y="283.4" width="1" height="1" fill="#000" fill-opacity="0.09"/><rect x="38.1" y="281.3" width="1" height="1" fill="#000" fill-opacity="0.05"/><rect x="47.4" y="289.9" width="1" height="1" fill="#000" fill-opacity="0.06"/><rect x="47.0" y="282.8" width="1" height="1" fill="#000" fill-opacity="0.25"/><rect x="40.9" y="301.9" width="1" height="1" fill="#000" fill-opacity="0.05"/><rect x="43.1" y="281.3" width="1" height="1" fill="#000" fill-opacity="0.19"/><rect x="45.1" y="277.2" width="1" height="1" fill="#000" fill-opacity="0.06"/><rect x="42.7" y="288.9" width="1" height="1" fill="#000" fill-opacity="0.06"/><rect x="41.9" y="306.8" width="1" height="1" fill="#000" fill-opacity="0.09"/><rect x="37.4" y="299.6" width="1" height="1" fill="#000" fill-opacity="0.25"/><rect x="43.4" y="279.1" width="1" height="1" fill="#000" fill-opacity="0.07"/><rect x="44.8" y="288.2" width="1" height="1" fill="#000" fill-opacity="0.17"/><rect x="43.7" y="273.5" width="1" height="1" fill="#000" fill-opacity="0.18"/><rect x="40.3" y="285.4" width="1" height="1" fill="#000" fill-opacity="0.25"/><rect x="51.6" y="299.1" width="1" height="1" fill="#000" fill-opacity="0.09"/><rect x="33.7" y="307.5" width="1" height="1" fill="#000" fill-opacity="0.23"/><rect x="42.2" y="304.3" width="1" height="1" fill="#000" fill-opacity="0.08"/><rect x="41.3" y="304.0" width="1" height="1" fill="#000" fill-opacity="0.07"/><rect x="44.9" y="291.0" width="1" height="1" fill="#000" fill-opacity="0.28"/><rect x="42.6" y="279.2" width="1" height="1" fill="#000" fill-opacity="0.28"/><rect x="39.5" y="302.6" width="1" height="1" fill="#000" fill-opacity="0.05"/><rect x="42.9" y="302.4" width="1" height="1" fill="#000" fill-opacity="0.10"/><rect x="36.5" y="302.3" width="1" height="1" fill="#000" fill-opacity="0.18"/><rect x="43.6" y="292.6" width="1" height="1" fill="#000" fill-opacity="0.06"/><rect x="37.4" y="306.2" width="1" height="1" fill="#000" fill-opacity="0.08"/><rect x="41.9" y="292.1" width="1" height="1" fill="#000" fill-opacity="0.05"/><rect x="41.7" y="275.0" width="1" height="1" fill="#000" fill-opacity="0.13"/><rect x="43.7" y="291.5" width="1" height="1" fill="#000" fill-opacity="0.08"/><rect x="45.2" y="289.0" width="1" height="1" fill="#000" fill-opacity="0.28"/><rect x="40.1" y="301.0" width="1" height="1" fill="#000" fill-opacity="0.05"/><rect x="43.4" y="307.4" width="1" height="1" fill="#000" fill-opacity="0.23"/><rect x="45.8" y="274.0" width="1" height="1" fill="#000" fill-opacity="0.13"/><rect x="42.3" y="299.7" width="1" height="1" fill="#000" fill-opacity="0.08"/><rect x="45.0" y="278.5" width="1" height="1" fill="#000" fill-opacity="0.27"/><rect x="45.0" y="288.4" width="1" height="1" fill="#000" fill-opacity="0.20"/><rect x="51.3" y="286.7" width="1" height="1" fill="#000" fill-opacity="0.05"/><rect x="43.1" y="302.1" width="1" height="1" fill="#000" fill-opacity="0.14"/><rect x="44.5" y="279.9" width="1" height="1" fill="#000" fill-opacity="0.06"/><rect x="40.9" y="307.3" width="1" height="1" fill="#000" fill-opacity="0.06"/><rect x="47.3" y="276.7" width="1" height="1" fill="#000" fill-opacity="0.07"/><rect x="43.3" y="307.4" width="1" height="1" fill="#000" fill-opacity="0.09"/><rect x="35.1" y="301.1" width="1" height="1" fill="#000" fill-opacity="0.15"/><rect x="41.2" y="291.8" width="1" height="1" fill="#000" fill-opacity="0.09"/><rect x="38.0" y="303.5" width="1" height="1" fill="#000" fill-opacity="0.27"/><rect x="42.0" y="302.6" width="1" height="1" fill="#000" fill-opacity="0.05"/><rect x="40.1" y="306.7" width="1" height="1" fill="#000" fill-opacity="0.12"/><rect x="46.1" y="278.1" width="1" height="1" fill="#000" fill-opacity="0.21"/><rect x="46.1" y="289.5" width="1" height="1" fill="#000" fill-opacity="0.05"/><rect x="38.4" y="285.8" width="1" height="1" fill="#000" fill-opacity="0.06"/><rect x="40.4" y="296.2" width="1" height="1" fill="#000" fill-opacity="0.05"/><rect x="43.3" y="303.0" width="1" height="1" fill="#000" fill-opacity="0.20"/><rect x="45.2" y="274.8" width="1" height="1" fill="#000" fill-opacity="0.16"/><rect x="41.1" y="303.2" width="1" height="1" fill="#000" fill-opacity="0.15"/><rect x="43.5" y="291.8" width="1" height="1" fill="#000" fill-opacity="0.14"/><rect x="42.4" y="306.6" width="1" height="1" fill="#000" fill-opacity="0.25"/><rect x="49.0" y="277.7" width="1" height="1" fill="#000" fill-opacity="0.25"/><rect x="41.7" y="306.9" width="1" height="1" fill="#000" fill-opacity="0.17"/><rect x="45.2" y="293.9" width="1" height="1" fill="#000" fill-opacity="0.16"/><rect x="48.5" y="280.9" width="1" height="1" fill="#000" fill-opacity="0.29"/><rect x="42.3" y="274.3" width="1" height="1" fill="#000" fill-opacity="0.05"/><rect x="36.3" y="298.6" width="1" height="1" fill="#000" fill-opacity="0.14"/><rect x="38.9" y="292.6" width="1" height="1" fill="#000" fill-opacity="0.17"/><rect x="47.8" y="279.5" width="1" height="1" fill="#000" fill-opacity="0.13"/><rect x="39.9" y="275.5" width="1" height="1" fill="#000" fill-opacity="0.16"/><rect x="50.3" y="297.3" width="1" height="1" fill="#000" fill-opacity="0.18"/><rect x="39.4" y="305.4" width="1" height="1" fill="#000" fill-opacity="0.24"/><rect x="36.7" y="306.1" width="1" height="1" fill="#000" fill-opacity="0.12"/><rect x="47.7" y="289.8" width="1" height="1" fill="#000" fill-opacity="0.27"/><rect x="45.1" y="288.3" width="1" height="1" fill="#000" fill-opacity="0.22"/><rect x="41.9" y="275.4" width="1" height="1" fill="#000" fill-opacity="0.27"/><rect x="44.4" y="286.3" width="1" height="1" fill="#000" fill-opacity="0.09"/><rect x="43.7" y="289.7" width="1" height="1" fill="#000" fill-opacity="0.06"/><rect x="34.8" y="303.8" width="1" height="1" fill="#000" fill-opacity="0.20"/><rect x="43.2" y="284.8" width="1" height="1" fill="#000" fill-opacity="0.11"/><rect x="42.0" y="274.7" width="1" height="1" fill="#000" fill-opacity="0.08"/><rect x="43.2" y="300.3" width="1" height="1" fill="#000" fill-opacity="0.18"/><rect x="43.6" y="286.9" width="1" height="1" fill="#000" fill-opacity="0.08"/><rect x="45.0" y="283.8" width="1" height="1" fill="#000" fill-opacity="0.18"/><rect x="46.2" y="282.3" width="1" height="1" fill="#000" fill-opacity="0.13"/><rect x="40.2" y="281.1" width="1" height="1" fill="#000" fill-opacity="0.25"/><rect x="43.7" y="290.7" width="1" height="1" fill="#000" fill-opacity="0.16"/><rect x="45.1" y="275.9" width="1" height="1" fill="#000" fill-opacity="0.05"/><rect x="42.1" y="299.5" width="1" height="1" fill="#000" fill-opacity="0.15"/><rect x="43.0" y="288.6" width="1" height="1" fill="#000" fill-opacity="0.26"/><rect x="41.1" y="301.8" width="1" height="1" fill="#000" fill-opacity="0.30"/><rect x="45.0" y="298.4" width="1" height="1" fill="#000" fill-opacity="0.05"/><rect x="38.7" y="292.6" width="1" height="1" fill="#000" fill-opacity="0.11"/><rect x="45.2" y="273.3" width="1" height="1" fill="#000" fill-opacity="0.07"/><rect x="44.6" y="307.5" width="1" height="1" fill="#000" fill-opacity="0.15"/><rect x="46.1" y="288.5" width="1" height="1" fill="#000" fill-opacity="0.08"/><rect x="48.7" y="275.7" width="1" height="1" fill="#000" fill-opacity="0.19"/><rect x="40.5" y="274.2" width="1" height="1" fill="#000" fill-opacity="0.17"/><rect x="45.7" y="284.8" width="1" height="1" fill="#000" fill-opacity="0.12"/><rect x="42.3" y="292.6" width="1" height="1" fill="#000" fill-opacity="0.28"/><rect x="44.4" y="306.1" width="1" height="1" fill="#000" fill-opacity="0.25"/><rect x="45.3" y="283.4" width="1" height="1" fill="#000" fill-opacity="0.25"/><rect x="45.5" y="292.7" width="1" height="1" fill="#000" fill-opacity="0.14"/><rect x="47.2" y="292.9" width="1" height="1" fill="#000" fill-opacity="0.22"/><rect x="50.9" y="300.3" width="1" height="1" fill="#000" fill-opacity="0.10"/><rect x="46.0" y="285.1" width="1" height="1" fill="#000" fill-opacity="0.09"/><rect x="39.1" y="297.9" width="1" height="1" fill="#000" fill-opacity="0.15"/><rect x="43.9" y="277.8" width="1" height="1" fill="#000" fill-opacity="0.05"/><rect x="41.4" y="287.1" width="1" height="1" fill="#000" fill-opacity="0.09"/><rect x="49.0" y="278.2" width="1" height="1" fill="#000" fill-opacity="0.24"/><rect x="51.3" y="301.3" width="1" height="1" fill="#000" fill-opacity="0.05"/><rect x="45.3" y="280.5" width="1" height="1" fill="#000" fill-opacity="0.11"/><rect x="42.7" y="303.7" width="1" height="1" fill="#000" fill-opacity="0.06"/><rect x="39.9" y="291.2" width="1" height="1" fill="#000" fill-opacity="0.05"/><rect x="35.9" y="306.7" width="1" height="1" fill="#000" fill-opacity="0.13"/><rect x="44.7" y="283.8" width="1" height="1" fill="#000" fill-opacity="0.06"/><rect x="47.8" y="277.3" width="1" height="1" fill="#000" fill-opacity="0.26"/><rect x="43.9" y="275.7" width="1" height="1" fill="#000" fill-opacity="0.24"/><rect x="43.3" y="295.1" width="1" height="1" fill="#000" fill-opacity="0.10"/><rect x="41.1" y="295.6" width="1" height="1" fill="#000" fill-opacity="0.12"/><rect x="36.5" y="300.9" width="1" height="1" fill="#000" fill-opacity="0.07"/><rect x="50.2" y="306.6" width="1" height="1" fill="#000" fill-opacity="0.05"/><rect x="41.3" y="289.5" width="1" height="1" fill="#000" fill-opacity="0.30"/><rect x="44.7" y="290.2" width="1" height="1" fill="#000" fill-opacity="0.21"/><rect x="44.0" y="279.7" width="1" height="1" fill="#000" fill-opacity="0.06"/><rect x="43.9" y="302.8" width="1" height="1" fill="#000" fill-opacity="0.18"/><rect x="44.0" y="276.8" width="1" height="1" fill="#000" fill-opacity="0.21"/><rect x="42.3" y="282.5" width="1" height="1" fill="#000" fill-opacity="0.06"/><rect x="48.2" y="296.5" width="1" height="1" fill="#000" fill-opacity="0.14"/><rect x="44.7" y="285.3" width="1" height="1" fill="#000" fill-opacity="0.11"/><rect x="41.7" y="304.1" width="1" height="1" fill="#000" fill-opacity="0.28"/><rect x="39.6" y="295.0" width="1" height="1" fill="#000" fill-opacity="0.26"/><rect x="43.2" y="276.2" width="1" height="1" fill="#000" fill-opacity="0.27"/><rect x="36.5" y="306.0" width="1" height="1" fill="#000" fill-opacity="0.28"/><rect x="39.6" y="290.9" width="1" height="1" fill="#000" fill-opacity="0.13"/><rect x="42.2" y="303.6" width="1" height="1" fill="#000" fill-opacity="0.09"/><rect x="43.7" y="284.6" width="1" height="1" fill="#000" fill-opacity="0.12"/><rect x="41.8" y="291.5" width="1" height="1" fill="#000" fill-opacity="0.28"/><rect x="50.8" y="301.0" width="1" height="1" fill="#000" fill-opacity="0.11"/><rect x="39.2" y="305.4" width="1" height="1" fill="#000" fill-opacity="0.21"/><rect x="43.4" y="299.4" width="1" height="1" fill="#000" fill-opacity="0.20"/><rect x="39.7" y="307.1" width="1" height="1" fill="#000" fill-opacity="0.09"/><rect x="40.1" y="282.6" width="1" height="1" fill="#000" fill-opacity="0.26"/><rect x="43.6" y="277.0" width="1" height="1" fill="#000" fill-opacity="0.17"/><rect x="41.1" y="282.9" width="1" height="1" fill="#000" fill-opacity="0.10"/><rect x="45.3" y="278.0" width="1" height="1" fill="#000" fill-opacity="0.22"/><rect x="35.7" y="306.7" width="1" height="1" fill="#000" fill-opacity="0.24"/><rect x="40.7" y="294.9" width="1" height="1" fill="#000" fill-opacity="0.12"/><rect x="40.0" y="284.0" width="1" height="1" fill="#000" fill-opacity="0.26"/><rect x="50.3" y="273.2" width="1" height="1" fill="#000" fill-opacity="0.23"/><rect x="43.8" y="289.4" width="1" height="1" fill="#000" fill-opacity="0.22"/><rect x="41.3" y="298.3" width="1" height="1" fill="#000" fill-opacity="0.28"/><rect x="44.5" y="281.1" width="1" height="1" fill="#000" fill-opacity="0.15"/><rect x="44.0" y="288.8" width="1" height="1" fill="#000" fill-opacity="0.16"/><rect x="42.2" y="284.5" width="1" height="1" fill="#000" fill-opacity="0.17"/><rect x="44.7" y="274.0" width="1" height="1" fill="#000" fill-opacity="0.23"/><rect x="47.1" y="296.8" width="1" height="1" fill="#000" fill-opacity="0.29"/><rect x="43.5" y="296.1" width="1" height="1" fill="#000" fill-opacity="0.11"/><rect x="46.1" y="273.6" width="1" height="1" fill="#000" fill-opacity="0.28"/><rect x="42.9" y="277.3" width="1" height="1" fill="#000" fill-opacity="0.18"/><rect x="40.1" y="289.1" width="1" height="1" fill="#000" fill-opacity="0.29"/><rect x="38.2" y="296.8" width="1" height="1" fill="#000" fill-opacity="0.24"/><rect x="46.6" y="283.8" width="1" height="1" fill="#000" fill-opacity="0.07"/><rect x="43.0" y="288.0" width="1" height="1" fill="#000" fill-opacity="0.08"/><rect x="43.9" y="307.4" width="1" height="1" fill="#000" fill-opacity="0.06"/><rect x="43.8" y="286.5" width="1" height="1" fill="#000" fill-opacity="0.29"/><rect x="41.1" y="294.2" width="1" height="1" fill="#000" fill-opacity="0.23"/><rect x="46.8" y="306.9" width="1" height="1" fill="#000" fill-opacity="0.06"/><rect x="44.2" y="306.9" width="1" height="1" fill="#000" fill-opacity="0.19"/><rect x="35.4" y="306.8" width="1" height="1" fill="#000" fill-opacity="0.06"/><rect x="46.7" y="279.6" width="1" height="1" fill="#000" fill-opacity="0.28"/><rect x="41.5" y="274.1" width="1" height="1" fill="#000" fill-opacity="0.07"/><rect x="39.3" y="290.3" width="1" height="1" fill="#000" fill-opacity="0.26"/><rect x="46.6" y="278.7" width="1" height="1" fill="#000" fill-opacity="0.12"/><rect x="47.8" y="292.5" width="1" height="1" fill="#000" fill-opacity="0.24"/><rect x="40.8" y="286.7" width="1" height="1" fill="#000" fill-opacity="0.28"/><rect x="48.8" y="281.0" width="1" height="1" fill="#000" fill-opacity="0.05"/><rect x="39.6" y="307.3" width="1" height="1" fill="#000" fill-opacity="0.06"/><rect x="43.8" y="278.5" width="1" height="1" fill="#000" fill-opacity="0.05"/><rect x="39.2" y="300.4" width="1" height="1" fill="#000" fill-opacity="0.29"/><rect x="49.9" y="282.0" width="1" height="1" fill="#000" fill-opacity="0.13"/><rect x="43.7" y="305.1" width="1" height="1" fill="#000" fill-opacity="0.18"/><rect x="43.5" y="282.3" width="1" height="1" fill="#000" fill-opacity="0.14"/><rect x="46.7" y="277.9" width="1" height="1" fill="#000" fill-opacity="0.21"/><rect x="39.9" y="305.7" width="1" height="1" fill="#000" fill-opacity="0.12"/><rect x="43.0" y="286.5" width="1" height="1" fill="#000" fill-opacity="0.22"/><rect x="44.8" y="302.6" width="1" height="1" fill="#000" fill-opacity="0.28"/><rect x="42.2" y="304.5" width="1" height="1" fill="#000" fill-opacity="0.08"/><rect x="47.8" y="279.8" width="1" height="1" fill="#000" fill-opacity="0.11"/><rect x="39.5" y="304.9" width="1" height="1" fill="#000" fill-opacity="0.18"/><rect x="38.0" y="305.3" width="1" height="1" fill="#000" fill-opacity="0.05"/><rect x="39.7" y="300.0" width="1" height="1" fill="#000" fill-opacity="0.07"/><rect x="44.0" y="279.9" width="1" height="1" fill="#000" fill-opacity="0.08"/><rect x="50.0" y="298.3" width="1" height="1" fill="#000" fill-opacity="0.23"/><rect x="32.5" y="304.5" width="1" height="1" fill="#000" fill-opacity="0.22"/><rect x="42.1" y="305.8" width="1" height="1" fill="#000" fill-opacity="0.08"/><rect x="39.9" y="295.6" width="1" height="1" fill="#000" fill-opacity="0.06"/><rect x="45.3" y="286.7" width="1" height="1" fill="#000" fill-opacity="0.24"/><rect x="36.8" y="304.0" width="1" height="1" fill="#000" fill-opacity="0.09"/><rect x="42.2" y="279.9" width="1" height="1" fill="#000" fill-opacity="0.16"/><rect x="46.5" y="304.3" width="1" height="1" fill="#000" fill-opacity="0.08"/><rect x="47.4" y="276.3" width="1" height="1" fill="#000" fill-opacity="0.05"/><rect x="38.2" y="307.3" width="1" height="1" fill="#000" fill-opacity="0.29"/><rect x="43.3" y="281.5" width="1" height="1" fill="#000" fill-opacity="0.28"/><rect x="38.5" y="306.2" width="1" height="1" fill="#000" fill-opacity="0.20"/><rect x="39.9" y="285.9" width="1" height="1" fill="#000" fill-opacity="0.07"/><rect x="48.1" y="274.6" width="1" height="1" fill="#000" fill-opacity="0.28"/><rect x="39.2" y="298.6" width="1" height="1" fill="#000" fill-opacity="0.10"/><rect x="47.7" y="289.7" width="1" height="1" fill="#000" fill-opacity="0.20"/><rect x="44.8" y="275.3" width="1" height="1" fill="#000" fill-opacity="0.10"/><rect x="38.3" y="306.1" width="1" height="1" fill="#000" fill-opacity="0.24"/><rect x="44.7" y="279.6" width="1" height="1" fill="#000" fill-opacity="0.10"/><rect x="45.6" y="300.4" width="1" height="1" fill="#000" fill-opacity="0.05"/><rect x="44.8" y="289.5" width="1" height="1" fill="#000" fill-opacity="0.22"/><rect x="43.4" y="282.5" width="1" height="1" fill="#000" fill-opacity="0.15"/><rect x="41.0" y="279.4" width="1" height="1" fill="#000" fill-opacity="0.05"/><rect x="43.6" y="304.2" width="1" height="1" fill="#000" fill-opacity="0.17"/><rect x="38.2" y="279.7" width="1" height="1" fill="#000" fill-opacity="0.14"/><rect x="43.5" y="296.2" width="1" height="1" fill="#000" fill-opacity="0.23"/><rect x="47.6" y="276.4" width="1" height="1" fill="#000" fill-opacity="0.08"/><rect x="39.1" y="299.6" width="1" height="1" fill="#000" fill-opacity="0.16"/><rect x="39.2" y="307.0" width="1" height="1" fill="#000" fill-opacity="0.08"/><rect x="48.2" y="287.4" width="1" height="1" fill="#000" fill-opacity="0.09"/><rect x="39.8" y="304.7" width="1" height="1" fill="#000" fill-opacity="0.09"/><rect x="44.5" y="299.5" width="1" height="1" fill="#000" fill-opacity="0.28"/><rect x="40.7" y="290.2" width="1" height="1" fill="#000" fill-opacity="0.09"/><rect x="44.1" y="281.4" width="1" height="1" fill="#000" fill-opacity="0.10"/><rect x="37.4" y="304.3" width="1" height="1" fill="#000" fill-opacity="0.29"/><rect x="46.8" y="280.0" width="1" height="1" fill="#000" fill-opacity="0.14"/><rect x="42.2" y="303.8" width="1" height="1" fill="#000" fill-opacity="0.17"/><rect x="44.4" y="274.2" width="1" height="1" fill="#000" fill-opacity="0.10"/><rect x="41.7" y="292.2" width="1" height="1" fill="#000" fill-opacity="0.06"/><rect x="46.1" y="288.6" width="1" height="1" fill="#000" fill-opacity="0.20"/><rect x="43.9" y="304.8" width="1" height="1" fill="#000" fill-opacity="0.10"/><rect x="42.6" y="295.3" width="1" height="1" fill="#000" fill-opacity="0.21"/><rect x="43.4" y="292.3" width="1" height="1" fill="#000" fill-opacity="0.13"/><rect x="41.6" y="303.8" width="1" height="1" fill="#000" fill-opacity="0.24"/><rect x="45.1" y="283.6" width="1" height="1" fill="#000" fill-opacity="0.07"/><rect x="40.5" y="281.7" width="1" height="1" fill="#000" fill-opacity="0.09"/><rect x="44.8" y="303.9" width="1" height="1" fill="#000" fill-opacity="0.29"/><rect x="44.2" y="286.0" width="1" height="1" fill="#000" fill-opacity="0.19"/><rect x="35.6" y="297.2" width="1" height="1" fill="#000" fill-opacity="0.31"/><rect x="44.8" y="298.8" width="1" height="1" fill="#000" fill-opacity="0.17"/><rect x="43.7" y="293.5" width="1" height="1" fill="#000" fill-opacity="0.06"/><rect x="47.1" y="281.6" width="1" height="1" fill="#000" fill-opacity="0.12"/><rect x="43.8" y="287.2" width="1" height="1" fill="#000" fill-opacity="0.29"/><rect x="43.2" y="273.6" width="1" height="1" fill="#000" fill-opacity="0.14"/><rect x="37.7" y="306.2" width="1" height="1" fill="#000" fill-opacity="0.08"/><rect x="40.8" y="282.3" width="1" height="1" fill="#000" fill-opacity="0.09"/><rect x="45.8" y="301.1" width="1" height="1" fill="#000" fill-opacity="0.22"/><rect x="45.5" y="285.6" width="1" height="1" fill="#000" fill-opacity="0.09"/><rect x="43.8" y="299.9" width="1" height="1" fill="#000" fill-opacity="0.08"/><rect x="42.3" y="302.6" width="1" height="1" fill="#000" fill-opacity="0.05"/><rect x="46.1" y="296.6" width="1" height="1" fill="#000" fill-opacity="0.05"/><rect x="42.4" y="297.2" width="1" height="1" fill="#000" fill-opacity="0.06"/><rect x="41.0" y="304.0" width="1" height="1" fill="#000" fill-opacity="0.23"/><rect x="42.4" y="286.2" width="1" height="1" fill="#000" fill-opacity="0.18"/><rect x="42.4" y="291.9" width="1" height="1" fill="#000" fill-opacity="0.12"/><rect x="38.5" y="307.3" width="1" height="1" fill="#000" fill-opacity="0.05"/><rect x="36.2" y="296.0" width="1" height="1" fill="#000" fill-opacity="0.25"/><rect x="34.9" y="306.6" width="1" height="1" fill="#000" fill-opacity="0.28"/><rect x="40.6" y="296.7" width="1" height="1" fill="#000" fill-opacity="0.06"/><rect x="43.4" y="294.7" width="1" height="1" fill="#000" fill-opacity="0.15"/><rect x="43.4" y="279.3" width="1" height="1" fill="#000" fill-opacity="0.17"/><rect x="42.6" y="280.5" width="1" height="1" fill="#000" fill-opacity="0.08"/><rect x="41.4" y="300.1" width="1" height="1" fill="#000" fill-opacity="0.06"/><rect x="51.1" y="288.0" width="1" height="1" fill="#000" fill-opacity="0.11"/><rect x="41.7" y="284.4" width="1" height="1" fill="#000" fill-opacity="0.26"/><rect x="42.8" y="291.6" width="1" height="1" fill="#000" fill-opacity="0.05"/><rect x="43.1" y="302.3" width="1" height="1" fill="#000" fill-opacity="0.07"/><rect x="45.5" y="287.5" width="1" height="1" fill="#000" fill-opacity="0.17"/><rect x="42.0" y="296.9" width="1" height="1" fill="#000" fill-opacity="0.11"/><rect x="47.8" y="282.7" width="1" height="1" fill="#000" fill-opacity="0.26"/><rect x="45.9" y="284.6" width="1" height="1" fill="#000" fill-opacity="0.25"/><rect x="41.3" y="296.3" width="1" height="1" fill="#000" fill-opacity="0.26"/><rect x="42.6" y="288.6" width="1" height="1" fill="#000" fill-opacity="0.26"/><rect x="45.1" y="293.6" width="1" height="1" fill="#000" fill-opacity="0.07"/><rect x="43.7" y="290.0" width="1" height="1" fill="#000" fill-opacity="0.08"/><rect x="44.7" y="282.4" width="1" height="1" fill="#000" fill-opacity="0.07"/><rect x="46.6" y="278.8" width="1" height="1" fill="#000" fill-opacity="0.05"/><rect x="44.2" y="285.9" width="1" height="1" fill="#000" fill-opacity="0.18"/><rect x="46.3" y="282.0" width="1" height="1" fill="#000" fill-opacity="0.12"/><rect x="35.6" y="297.7" width="1" height="1" fill="#000" fill-opacity="0.17"/><rect x="43.8" y="293.5" width="1" height="1" fill="#000" fill-opacity="0.11"/><rect x="47.0" y="277.7" width="1" height="1" fill="#000" fill-opacity="0.06"/><rect x="42.0" y="284.3" width="1" height="1" fill="#000" fill-opacity="0.16"/><rect x="37.6" y="285.2" width="1" height="1" fill="#000" fill-opacity="0.06"/><rect x="47.7" y="278.4" width="1" height="1" fill="#000" fill-opacity="0.06"/><rect x="43.1" y="302.0" width="1" height="1" fill="#000" fill-opacity="0.20"/><rect x="41.3" y="297.1" width="1" height="1" fill="#000" fill-opacity="0.06"/><rect x="39.9" y="298.3" width="1" height="1" fill="#000" fill-opacity="0.14"/><rect x="45.8" y="281.0" width="1" height="1" fill="#000" fill-opacity="0.29"/><rect x="40.8" y="290.7" width="1" height="1" fill="#000" fill-opacity="0.07"/><rect x="40.5" y="292.9" width="1" height="1" fill="#000" fill-opacity="0.06"/><rect x="41.1" y="274.2" width="1" height="1" fill="#000" fill-opacity="0.16"/><rect x="39.5" y="307.5" width="1" height="1" fill="#000" fill-opacity="0.05"/><rect x="48.1" y="299.5" width="1" height="1" fill="#000" fill-opacity="0.20"/><rect x="40.4" y="304.9" width="1" height="1" fill="#000" fill-opacity="0.09"/><rect x="40.6" y="281.0" width="1" height="1" fill="#000" fill-opacity="0.06"/><rect x="41.9" y="303.1" width="1" height="1" fill="#000" fill-opacity="0.08"/><rect x="37.9" y="296.8" width="1" height="1" fill="#000" fill-opacity="0.25"/><rect x="45.2" y="303.6" width="1" height="1" fill="#000" fill-opacity="0.07"/><rect x="44.8" y="286.1" width="1" height="1" fill="#000" fill-opacity="0.08"/><rect x="34.9" y="303.2" width="1" height="1" fill="#000" fill-opacity="0.16"/><rect x="40.8" y="274.5" width="1" height="1" fill="#000" fill-opacity="0.31"/><rect x="41.4" y="283.4" width="1" height="1" fill="#000" fill-opacity="0.06"/><rect x="41.5" y="292.0" width="1" height="1" fill="#000" fill-opacity="0.07"/><rect x="39.5" y="290.5" width="1" height="1" fill="#000" fill-opacity="0.16"/><rect x="44.5" y="290.8" width="1" height="1" fill="#000" fill-opacity="0.28"/><rect x="47.6" y="291.0" width="1" height="1" fill="#000" fill-opacity="0.22"/><rect x="46.7" y="297.6" width="1" height="1" fill="#000" fill-opacity="0.13"/><rect x="39.5" y="290.7" width="1" height="1" fill="#000" fill-opacity="0.31"/><rect x="44.4" y="306.6" width="1" height="1" fill="#000" fill-opacity="0.28"/><rect x="46.7" y="273.4" width="1" height="1" fill="#000" fill-opacity="0.19"/><rect x="39.9" y="294.2" width="1" height="1" fill="#000" fill-opacity="0.11"/><rect x="42.6" y="304.1" width="1" height="1" fill="#000" fill-opacity="0.09"/><rect x="45.3" y="302.7" width="1" height="1" fill="#000" fill-opacity="0.17"/><rect x="42.5" y="300.4" width="1" height="1" fill="#000" fill-opacity="0.08"/><rect x="41.2" y="295.7" width="1" height="1" fill="#000" fill-opacity="0.08"/><rect x="43.3" y="279.9" width="1" height="1" fill="#000" fill-opacity="0.07"/><rect x="43.6" y="285.5" width="1" height="1" fill="#000" fill-opacity="0.09"/><rect x="42.0" y="299.9" width="1" height="1" fill="#000" fill-opacity="0.22"/><rect x="42.5" y="299.0" width="1" height="1" fill="#000" fill-opacity="0.08"/><rect x="35.5" y="305.4" width="1" height="1" fill="#000" fill-opacity="0.29"/><rect x="44.5" y="275.9" width="1" height="1" fill="#000" fill-opacity="0.05"/><rect x="38.8" y="293.1" width="1" height="1" fill="#000" fill-opacity="0.12"/><rect x="44.9" y="276.1" width="1" height="1" fill="#000" fill-opacity="0.17"/><rect x="46.1" y="295.3" width="1" height="1" fill="#000" fill-opacity="0.05"/><rect x="42.4" y="288.2" width="1" height="1" fill="#000" fill-opacity="0.30"/><rect x="45.1" y="287.2" width="1" height="1" fill="#000" fill-opacity="0.05"/><rect x="49.0" y="279.5" width="1" height="1" fill="#000" fill-opacity="0.06"/><rect x="44.9" y="279.7" width="1" height="1" fill="#000" fill-opacity="0.08"/><rect x="44.3" y="292.9" width="1" height="1" fill="#000" fill-opacity="0.20"/><rect x="49.5" y="292.5" width="1" height="1" fill="#000" fill-opacity="0.25"/><rect x="45.5" y="297.7" width="1" height="1" fill="#000" fill-opacity="0.05"/><rect x="50.1" y="296.2" width="1" height="1" fill="#000" fill-opacity="0.07"/><rect x="39.6" y="303.0" width="1" height="1" fill="#000" fill-opacity="0.30"/><rect x="39.5" y="298.6" width="1" height="1" fill="#000" fill-opacity="0.25"/><rect x="38.2" y="281.2" width="1" height="1" fill="#000" fill-opacity="0.17"/><rect x="44.6" y="281.1" width="1" height="1" fill="#000" fill-opacity="0.08"/><rect x="48.9" y="305.0" width="1" height="1" fill="#000" fill-opacity="0.23"/><rect x="45.1" y="273.4" width="1" height="1" fill="#000" fill-opacity="0.06"/><rect x="38.5" y="292.0" width="1" height="1" fill="#000" fill-opacity="0.07"/><rect x="41.4" y="291.5" width="1" height="1" fill="#000" fill-opacity="0.15"/><rect x="44.8" y="281.7" width="1" height="1" fill="#000" fill-opacity="0.21"/><rect x="48.8" y="304.5" width="1" height="1" fill="#000" fill-opacity="0.11"/><rect x="42.7" y="274.0" width="1" height="1" fill="#000" fill-opacity="0.07"/><rect x="43.0" y="296.5" width="1" height="1" fill="#000" fill-opacity="0.11"/><rect x="39.7" y="307.4" width="1" height="1" fill="#000" fill-opacity="0.08"/><rect x="44.4" y="298.0" width="1" height="1" fill="#000" fill-opacity="0.06"/><rect x="40.7" y="281.5" width="1" height="1" fill="#000" fill-opacity="0.22"/><rect x="44.4" y="299.6" width="1" height="1" fill="#000" fill-opacity="0.29"/><rect x="46.5" y="302.3" width="1" height="1" fill="#000" fill-opacity="0.10"/><rect x="43.1" y="298.8" width="1" height="1" fill="#000" fill-opacity="0.05"/><rect x="41.2" y="303.4" width="1" height="1" fill="#000" fill-opacity="0.13"/><rect x="49.1" y="274.5" width="1" height="1" fill="#000" fill-opacity="0.15"/><rect x="45.5" y="277.7" width="1" height="1" fill="#000" fill-opacity="0.30"/><rect x="43.6" y="284.7" width="1" height="1" fill="#000" fill-opacity="0.05"/><rect x="50.3" y="273.5" width="1" height="1" fill="#000" fill-opacity="0.12"/><rect x="44.7" y="300.8" width="1" height="1" fill="#000" fill-opacity="0.11"/><rect x="39.3" y="299.7" width="1" height="1" fill="#000" fill-opacity="0.12"/><rect x="38.1" y="301.5" width="1" height="1" fill="#000" fill-opacity="0.09"/><rect x="40.6" y="307.4" width="1" height="1" fill="#000" fill-opacity="0.07"/><rect x="42.4" y="282.2" width="1" height="1" fill="#000" fill-opacity="0.06"/><rect x="39.1" y="276.1" width="1" height="1" fill="#000" fill-opacity="0.27"/><rect x="51.1" y="298.2" width="1" height="1" fill="#000" fill-opacity="0.25"/><rect x="40.5" y="290.9" width="1" height="1" fill="#000" fill-opacity="0.26"/><rect x="42.7" y="304.2" width="1" height="1" fill="#000" fill-opacity="0.20"/><rect x="45.8" y="274.7" width="1" height="1" fill="#000" fill-opacity="0.07"/><rect x="46.7" y="304.6" width="1" height="1" fill="#000" fill-opacity="0.06"/><rect x="36.2" y="307.0" width="1" height="1" fill="#000" fill-opacity="0.09"/><rect x="43.7" y="300.7" width="1" height="1" fill="#000" fill-opacity="0.25"/><rect x="41.2" y="306.4" width="1" height="1" fill="#000" fill-opacity="0.13"/><rect x="43.1" y="284.8" width="1" height="1" fill="#000" fill-opacity="0.06"/><rect x="39.7" y="295.6" width="1" height="1" fill="#000" fill-opacity="0.11"/><rect x="41.5" y="294.9" width="1" height="1" fill="#000" fill-opacity="0.30"/><rect x="45.0" y="307.4" width="1" height="1" fill="#000" fill-opacity="0.08"/><rect x="39.7" y="279.4" width="1" height="1" fill="#000" fill-opacity="0.06"/><rect x="45.0" y="273.4" width="1" height="1" fill="#000" fill-opacity="0.05"/><rect x="44.1" y="282.0" width="1" height="1" fill="#000" fill-opacity="0.24"/><rect x="48.1" y="284.0" width="1" height="1" fill="#000" fill-opacity="0.29"/><rect x="44.4" y="302.2" width="1" height="1" fill="#000" fill-opacity="0.07"/><rect x="37.8" y="302.4" width="1" height="1" fill="#000" fill-opacity="0.06"/><rect x="43.4" y="277.2" width="1" height="1" fill="#000" fill-opacity="0.06"/><rect x="46.2" y="281.3" width="1" height="1" fill="#000" fill-opacity="0.16"/><rect x="42.7" y="302.8" width="1" height="1" fill="#000" fill-opacity="0.23"/><rect x="40.2" y="285.2" width="1" height="1" fill="#000" fill-opacity="0.12"/><rect x="43.7" y="298.0" width="1" height="1" fill="#000" fill-opacity="0.06"/><rect x="43.3" y="279.0" width="1" height="1" fill="#000" fill-opacity="0.20"/><rect x="37.3" y="276.2" width="1" height="1" fill="#000" fill-opacity="0.12"/><rect x="32.5" y="306.4" width="1" height="1" fill="#000" fill-opacity="0.19"/><rect x="39.2" y="301.3" width="1" height="1" fill="#000" fill-opacity="0.10"/><rect x="44.6" y="292.4" width="1" height="1" fill="#000" fill-opacity="0.17"/><rect x="43.7" y="306.2" width="1" height="1" fill="#000" fill-opacity="0.21"/><rect x="40.2" y="298.3" width="1" height="1" fill="#000" fill-opacity="0.06"/><rect x="42.4" y="298.9" width="1" height="1" fill="#000" fill-opacity="0.19"/><rect x="45.9" y="286.3" width="1" height="1" fill="#000" fill-opacity="0.07"/><rect x="42.3" y="285.2" width="1" height="1" fill="#000" fill-opacity="0.16"/><rect x="39.7" y="306.5" width="1" height="1" fill="#000" fill-opacity="0.19"/><rect x="35.0" y="300.9" width="1" height="1" fill="#000" fill-opacity="0.20"/><rect x="39.1" y="290.9" width="1" height="1" fill="#000" fill-opacity="0.16"/><rect x="40.6" y="301.5" width="1" height="1" fill="#000" fill-opacity="0.14"/><rect x="45.0" y="274.4" width="1" height="1" fill="#000" fill-opacity="0.14"/><rect x="46.7" y="283.7" width="1" height="1" fill="#000" fill-opacity="0.06"/><rect x="43.2" y="273.4" width="1" height="1" fill="#000" fill-opacity="0.14"/><rect x="47.1" y="295.6" width="1" height="1" fill="#000" fill-opacity="0.25"/><rect x="44.7" y="291.8" width="1" height="1" fill="#000" fill-opacity="0.07"/><rect x="44.6" y="285.2" width="1" height="1" fill="#000" fill-opacity="0.08"/><rect x="45.4" y="292.0" width="1" height="1" fill="#000" fill-opacity="0.19"/><rect x="44.1" y="290.8" width="1" height="1" fill="#000" fill-opacity="0.08"/><rect x="44.7" y="292.6" width="1" height="1" fill="#000" fill-opacity="0.30"/><rect x="44.2" y="287.1" width="1" height="1" fill="#000" fill-opacity="0.05"/><rect x="41.8" y="291.4" width="1" height="1" fill="#000" fill-opacity="0.08"/><rect x="41.8" y="298.8" width="1" height="1" fill="#000" fill-opacity="0.26"/><rect x="40.9" y="296.1" width="1" height="1" fill="#000" fill-opacity="0.17"/><rect x="46.0" y="306.8" width="1" height="1" fill="#000" fill-opacity="0.05"/><rect x="44.9" y="287.9" width="1" height="1" fill="#000" fill-opacity="0.10"/><rect x="48.3" y="299.8" width="1" height="1" fill="#000" fill-opacity="0.09"/><rect x="40.4" y="297.0" width="1" height="1" fill="#000" fill-opacity="0.09"/><rect x="46.2" y="305.1" width="1" height="1" fill="#000" fill-opacity="0.21"/><rect x="41.0" y="295.7" width="1" height="1" fill="#000" fill-opacity="0.07"/><rect x="43.4" y="288.1" width="1" height="1" fill="#000" fill-opacity="0.29"/><rect x="50.3" y="274.4" width="1" height="1" fill="#000" fill-opacity="0.08"/><rect x="44.3" y="300.0" width="1" height="1" fill="#000" fill-opacity="0.16"/><rect x="41.2" y="284.9" width="1" height="1" fill="#000" fill-opacity="0.08"/><rect x="43.2" y="294.3" width="1" height="1" fill="#000" fill-opacity="0.30"/><rect x="44.0" y="284.5" width="1" height="1" fill="#000" fill-opacity="0.18"/><rect x="39.4" y="302.7" width="1" height="1" fill="#000" fill-opacity="0.31"/><rect x="49.6" y="287.7" width="1" height="1" fill="#000" fill-opacity="0.28"/><rect x="45.1" y="296.7" width="1" height="1" fill="#000" fill-opacity="0.08"/><rect x="41.2" y="276.3" width="1" height="1" fill="#000" fill-opacity="0.05"/><rect x="33.8" y="300.8" width="1" height="1" fill="#000" fill-opacity="0.10"/><rect x="41.6" y="305.3" width="1" height="1" fill="#000" fill-opacity="0.21"/><rect x="46.6" y="286.6" width="1" height="1" fill="#000" fill-opacity="0.11"/><rect x="45.7" y="295.8" width="1" height="1" fill="#000" fill-opacity="0.29"/><rect x="48.3" y="280.1" width="1" height="1" fill="#000" fill-opacity="0.11"/><rect x="41.4" y="297.4" width="1" height="1" fill="#000" fill-opacity="0.06"/><rect x="39.0" y="306.3" width="1" height="1" fill="#000" fill-opacity="0.17"/><rect x="41.4" y="302.5" width="1" height="1" fill="#000" fill-opacity="0.14"/><rect x="38.8" y="277.3" width="1" height="1" fill="#000" fill-opacity="0.09"/><rect x="43.0" y="304.7" width="1" height="1" fill="#000" fill-opacity="0.20"/><rect x="40.4" y="295.4" width="1" height="1" fill="#000" fill-opacity="0.12"/><rect x="38.4" y="297.8" width="1" height="1" fill="#000" fill-opacity="0.08"/><rect x="45.7" y="273.4" width="1" height="1" fill="#000" fill-opacity="0.27"/><rect x="46.9" y="280.7" width="1" height="1" fill="#000" fill-opacity="0.30"/><rect x="41.9" y="288.4" width="1" height="1" fill="#000" fill-opacity="0.05"/><rect x="49.6" y="275.5" width="1" height="1" fill="#000" fill-opacity="0.13"/><rect x="46.2" y="286.1" width="1" height="1" fill="#000" fill-opacity="0.24"/><rect x="42.2" y="279.8" width="1" height="1" fill="#000" fill-opacity="0.14"/><rect x="44.6" y="276.8" width="1" height="1" fill="#000" fill-opacity="0.20"/><rect x="45.7" y="280.4" width="1" height="1" fill="#000" fill-opacity="0.12"/><rect x="38.7" y="307.1" width="1" height="1" fill="#000" fill-opacity="0.06"/><rect x="42.5" y="303.9" width="1" height="1" fill="#000" fill-opacity="0.17"/><rect x="42.9" y="297.2" width="1" height="1" fill="#000" fill-opacity="0.17"/><rect x="39.5" y="300.8" width="1" height="1" fill="#000" fill-opacity="0.09"/><rect x="41.2" y="304.3" width="1" height="1" fill="#000" fill-opacity="0.19"/><rect x="41.2" y="285.9" width="1" height="1" fill="#000" fill-opacity="0.16"/><rect x="42.8" y="286.9" width="1" height="1" fill="#000" fill-opacity="0.23"/><rect x="41.5" y="292.3" width="1" height="1" fill="#000" fill-opacity="0.24"/><rect x="46.0" y="305.3" width="1" height="1" fill="#000" fill-opacity="0.09"/><rect x="46.2" y="273.6" width="1" height="1" fill="#000" fill-opacity="0.09"/><rect x="40.2" y="294.7" width="1" height="1" fill="#000" fill-opacity="0.08"/><rect x="47.4" y="274.7" width="1" height="1" fill="#000" fill-opacity="0.09"/><rect x="46.9" y="276.4" width="1" height="1" fill="#000" fill-opacity="0.24"/><rect x="44.3" y="277.4" width="1" height="1" fill="#000" fill-opacity="0.05"/><rect x="43.2" y="274.3" width="1" height="1" fill="#000" fill-opacity="0.24"/><rect x="43.5" y="303.8" width="1" height="1" fill="#000" fill-opacity="0.05"/><rect x="48.3" y="274.4" width="1" height="1" fill="#000" fill-opacity="0.16"/><rect x="42.9" y="295.8" width="1" height="1" fill="#000" fill-opacity="0.25"/><rect x="47.8" y="280.7" width="1" height="1" fill="#000" fill-opacity="0.26"/><rect x="42.9" y="296.9" width="1" height="1" fill="#000" fill-opacity="0.06"/><rect x="45.9" y="290.3" width="1" height="1" fill="#000" fill-opacity="0.14"/><rect x="41.9" y="302.5" width="1" height="1" fill="#000" fill-opacity="0.17"/><rect x="40.9" y="280.3" width="1" height="1" fill="#000" fill-opacity="0.07"/><rect x="41.8" y="307.4" width="1" height="1" fill="#000" fill-opacity="0.13"/><rect x="40.7" y="301.4" width="1" height="1" fill="#000" fill-opacity="0.13"/><rect x="41.7" y="292.4" width="1" height="1" fill="#000" fill-opacity="0.23"/><rect x="42.7" y="306.6" width="1" height="1" fill="#000" fill-opacity="0.28"/><rect x="43.1" y="280.9" width="1" height="1" fill="#000" fill-opacity="0.27"/><rect x="46.7" y="276.2" width="1" height="1" fill="#000" fill-opacity="0.17"/><rect x="43.6" y="298.8" width="1" height="1" fill="#000" fill-opacity="0.19"/><rect x="45.0" y="278.5" width="1" height="1" fill="#000" fill-opacity="0.26"/><rect x="44.8" y="298.9" width="1" height="1" fill="#000" fill-opacity="0.06"/><rect x="42.8" y="283.5" width="1" height="1" fill="#000" fill-opacity="0.05"/><rect x="46.8" y="290.6" width="1" height="1" fill="#000" fill-opacity="0.24"/><rect x="38.9" y="295.0" width="1" height="1" fill="#000" fill-opacity="0.15"/><rect x="46.6" y="293.9" width="1" height="1" fill="#000" fill-opacity="0.07"/><rect x="43.5" y="286.2" width="1" height="1" fill="#000" fill-opacity="0.09"/><rect x="43.3" y="287.3" width="1" height="1" fill="#000" fill-opacity="0.07"/><rect x="45.6" y="279.0" width="1" height="1" fill="#000" fill-opacity="0.13"/><rect x="43.3" y="304.6" width="1" height="1" fill="#000" fill-opacity="0.27"/><rect x="39.4" y="292.8" width="1" height="1" fill="#000" fill-opacity="0.22"/><rect x="45.5" y="291.4" width="1" height="1" fill="#000" fill-opacity="0.19"/><rect x="41.3" y="286.1" width="1" height="1" fill="#000" fill-opacity="0.06"/><rect x="44.3" y="286.9" width="1" height="1" fill="#000" fill-opacity="0.11"/><rect x="44.1" y="275.0" width="1" height="1" fill="#000" fill-opacity="0.13"/><rect x="47.4" y="304.1" width="1" height="1" fill="#000" fill-opacity="0.11"/>
<path d="M51.6,273.5 L61.4,273.5 L61.4,307.4 L44.6,307.4 L49.1,297.6 Z" stroke="#000" stroke-width="1.8" fill="none"/>
<rect x="72.5" y="276.8" width="2.6" height="1.2" fill="#777"/>
<rect x="72.5" y="283.8" width="2.6" height="1.2" fill="#777"/>
<rect x="72.5" y="290.8" width="2.6" height="1.2" fill="#777"/>
<rect x="72.5" y="297.8" width="2.6" height="1.2" fill="#777"/>
<rect x="72.5" y="304.8" width="2.6" height="1.2" fill="#777"/>
<line x1="74.50" y1="311.10" x2="107.10" y2="311.10" stroke="#aaa" stroke-width="0.6"/>
<line x1="79.50" y1="311.10" x2="79.50" y2="312.60" stroke="#999" stroke-width="0.6"/>
<rect x="79.0" y="313.3" width="1" height="1.3" fill="#bbb"/>
<line x1="87.50" y1="311.10" x2="87.50" y2="312.60" stroke="#999" stroke-width="0.6"/>
<rect x="87.0" y="313.3" width="1" height="1.3" fill="#bbb"/>
<line x1="94.50" y1="311.10" x2="94.50" y2="312.60" stroke="#999" stroke-width="0.6"/>
<rect x="94.0" y="313.3" width="1" height="1.3" fill="#bbb"/>
<line x1="101.50" y1="311.10" x2="101.50" y2="312.60" stroke="#999" stroke-width="0.6"/>
<rect x="101.0" y="313.3" width="1" height="1.3" fill="#bbb"/>
<rect x="92.2" y="276.3" width="1" height="1" fill="#000" fill-opacity="0.06"/><rect x="90.2" y="281.1" width="1" height="1" fill="#000" fill-opacity="0.21"/><rect x="88.0" y="287.5" width="1" height="1" fill="#000" fill-opacity="0.17"/><rect x="93.9" y="290.8" width="1" height="1" fill="#000" fill-opacity="0.07"/><rect x="83.8" y="296.0" width="1" height="1" fill="#000" fill-opacity="0.31"/><rect x="94.2" y="276.6" width="1" height="1" fill="#000" fill-opacity="0.15"/><rect x="88.5" y="295.5" width="1" height="1" fill="#000" fill-opacity="0.05"/><rect x="89.7" y="294.8" width="1" height="1" fill="#000" fill-opacity="0.10"/><rect x="92.0" y="297.7" width="1" height="1" fill="#000" fill-opacity="0.16"/><rect x="84.6" y="302.1" width="1" height="1" fill="#000" fill-opacity="0.05"/><rect x="91.2" y="299.4" width="1" height="1" fill="#000" fill-opacity="0.31"/><rect x="92.9" y="287.3" width="1" height="1" fill="#000" fill-opacity="0.07"/><rect x="92.4" y="278.8" width="1" height="1" fill="#000" fill-opacity="0.27"/><rect x="85.1" y="284.0" width="1" height="1" fill="#000" fill-opacity="0.23"/><rect x="98.2" y="298.5" width="1" height="1" fill="#000" fill-opacity="0.07"/><rect x="89.2" y="284.3" width="1" height="1" fill="#000" fill-opacity="0.21"/><rect x="84.4" y="295.0" width="1" height="1" fill="#000" fill-opacity="0.28"/><rect x="88.1" y="293.6" width="1" height="1" fill="#000" fill-opacity="0.25"/><rect x="94.5" y="298.5" width="1" height="1" fill="#000" fill-opacity="0.13"/><rect x="84.0" y="291.2" width="1" height="1" fill="#000" fill-opacity="0.28"/><rect x="87.6" y="285.5" width="1" height="1" fill="#000" fill-opacity="0.10"/><rect x="90.1" y="286.4" width="1" height="1" fill="#000" fill-opacity="0.07"/><rect x="90.2" y="278.3" width="1" height="1" fill="#000" fill-opacity="0.09"/><rect x="97.7" y="276.2" width="1" height="1" fill="#000" fill-opacity="0.20"/><rect x="83.6" y="293.5" width="1" height="1" fill="#000" fill-opacity="0.17"/><rect x="87.4" y="299.8" width="1" height="1" fill="#000" fill-opacity="0.07"/><rect x="93.7" y="293.2" width="1" height="1" fill="#000" fill-opacity="0.06"/><rect x="88.7" y="281.7" width="1" height="1" fill="#000" fill-opacity="0.21"/><rect x="92.8" y="278.3" width="1" height="1" fill="#000" fill-opacity="0.05"/><rect x="95.0" y="288.1" width="1" height="1" fill="#000" fill-opacity="0.09"/><rect x="89.1" y="302.3" width="1" height="1" fill="#000" fill-opacity="0.15"/><rect x="89.6" y="280.4" width="1" height="1" fill="#000" fill-opacity="0.08"/><rect x="90.8" y="302.8" width="1" height="1" fill="#000" fill-opacity="0.21"/><rect x="84.0" y="307.1" width="1" height="1" fill="#000" fill-opacity="0.11"/><rect x="86.7" y="303.8" width="1" height="1" fill="#000" fill-opacity="0.29"/><rect x="85.5" y="307.2" width="1" height="1" fill="#000" fill-opacity="0.21"/><rect x="86.8" y="307.2" width="1" height="1" fill="#000" fill-opacity="0.07"/><rect x="95.1" y="303.5" width="1" height="1" fill="#000" fill-opacity="0.20"/><rect x="99.7" y="297.5" width="1" height="1" fill="#000" fill-opacity="0.07"/><rect x="90.6" y="307.0" width="1" height="1" fill="#000" fill-opacity="0.10"/><rect x="89.4" y="289.5" width="1" height="1" fill="#000" fill-opacity="0.10"/><rect x="85.0" y="307.1" width="1" height="1" fill="#000" fill-opacity="0.13"/><rect x="89.8" y="283.9" width="1" height="1" fill="#000" fill-opacity="0.22"/><rect x="84.0" y="280.1" width="1" height="1" fill="#000" fill-opacity="0.20"/><rect x="89.6" y="294.6" width="1" height="1" fill="#000" fill-opacity="0.10"/><rect x="93.4" y="305.6" width="1" height="1" fill="#000" fill-opacity="0.13"/><rect x="93.7" y="279.6" width="1" height="1" fill="#000" fill-opacity="0.11"/><rect x="92.5" y="293.1" width="1" height="1" fill="#000" fill-opacity="0.06"/><rect x="91.0" y="276.2" width="1" height="1" fill="#000" fill-opacity="0.12"/><rect x="92.9" y="307.3" width="1" height="1" fill="#000" fill-opacity="0.16"/><rect x="88.4" y="304.7" width="1" height="1" fill="#000" fill-opacity="0.07"/><rect x="87.6" y="305.7" width="1" height="1" fill="#000" fill-opacity="0.18"/><rect x="97.5" y="293.3" width="1" height="1" fill="#000" fill-opacity="0.31"/><rect x="86.7" y="302.2" width="1" height="1" fill="#000" fill-opacity="0.13"/><rect x="83.0" y="301.6" width="1" height="1" fill="#000" fill-opacity="0.24"/><rect x="87.4" y="286.0" width="1" height="1" fill="#000" fill-opacity="0.08"/><rect x="88.2" y="296.2" width="1" height="1" fill="#000" fill-opacity="0.05"/><rect x="88.4" y="296.7" width="1" height="1" fill="#000" fill-opacity="0.06"/><rect x="90.1" y="285.5" width="1" height="1" fill="#000" fill-opacity="0.07"/><rect x="89.6" y="302.2" width="1" height="1" fill="#000" fill-opacity="0.08"/><rect x="85.9" y="292.9" width="1" height="1" fill="#000" fill-opacity="0.18"/><rect x="88.4" y="302.7" width="1" height="1" fill="#000" fill-opacity="0.27"/><rect x="90.9" y="276.0" width="1" height="1" fill="#000" fill-opacity="0.15"/><rect x="85.5" y="290.8" width="1" height="1" fill="#000" fill-opacity="0.05"/><rect x="86.1" y="296.4" width="1" height="1" fill="#000" fill-opacity="0.06"/><rect x="90.1" y="282.4" width="1" height="1" fill="#000" fill-opacity="0.11"/><rect x="93.4" y="293.0" width="1" height="1" fill="#000" fill-opacity="0.09"/><rect x="89.5" y="275.2" width="1" height="1" fill="#000" fill-opacity="0.11"/><rect x="86.2" y="307.3" width="1" height="1" fill="#000" fill-opacity="0.09"/><rect x="89.3" y="280.9" width="1" height="1" fill="#000" fill-opacity="0.19"/><rect x="82.8" y="307.3" width="1" height="1" fill="#000" fill-opacity="0.14"/><rect x="88.9" y="302.9" width="1" height="1" fill="#000" fill-opacity="0.17"/><rect x="86.3" y="306.2" width="1" height="1" fill="#000" fill-opacity="0.29"/><rect x="91.2" y="306.2" width="1" height="1" fill="#000" fill-opacity="0.22"/><rect x="83.9" y="303.3" width="1" height="1" fill="#000" fill-opacity="0.13"/><rect x="88.7" y="284.3" width="1" height="1" fill="#000" fill-opacity="0.11"/><rect x="88.6" y="305.1" width="1" height="1" fill="#000" fill-opacity="0.25"/><rect x="90.6" y="288.6" width="1" height="1" fill="#000" fill-opacity="0.29"/><rect x="94.8" y="286.6" width="1" height="1" fill="#000" fill-opacity="0.23"/><rect x="90.8" y="285.5" width="1" height="1" fill="#000" fill-opacity="0.14"/><rect x="81.5" y="298.4" width="1" height="1" fill="#000" fill-opacity="0.09"/><rect x="90.8" y="292.7" width="1" height="1" fill="#000" fill-opacity="0.14"/><rect x="93.5" y="276.4" width="1" height="1" fill="#000" fill-opacity="0.25"/><rect x="79.2" y="300.3" width="1" height="1" fill="#000" fill-opacity="0.08"/><rect x="88.6" y="294.0" width="1" height="1" fill="#000" fill-opacity="0.20"/><rect x="94.2" y="277.8" width="1" height="1" fill="#000" fill-opacity="0.17"/><rect x="93.0" y="281.8" width="1" height="1" fill="#000" fill-opacity="0.31"/><rect x="89.6" y="304.5" width="1" height="1" fill="#000" fill-opacity="0.12"/><rect x="94.9" y="306.4" width="1" height="1" fill="#000" fill-opacity="0.31"/><rect x="93.4" y="288.3" width="1" height="1" fill="#000" fill-opacity="0.06"/><rect x="88.7" y="300.3" width="1" height="1" fill="#000" fill-opacity="0.20"/><rect x="94.2" y="295.7" width="1" height="1" fill="#000" fill-opacity="0.15"/><rect x="77.3" y="305.4" width="1" height="1" fill="#000" fill-opacity="0.22"/><rect x="84.6" y="305.7" width="1" height="1" fill="#000" fill-opacity="0.15"/><rect x="89.6" y="285.8" width="1" height="1" fill="#000" fill-opacity="0.13"/><rect x="97.1" y="286.2" width="1" height="1" fill="#000" fill-opacity="0.12"/><rect x="92.2" y="274.7" width="1" height="1" fill="#000" fill-opacity="0.06"/><rect x="83.8" y="295.6" width="1" height="1" fill="#000" fill-opacity="0.05"/><rect x="91.0" y="290.2" width="1" height="1" fill="#000" fill-opacity="0.14"/><rect x="87.2" y="294.2" width="1" height="1" fill="#000" fill-opacity="0.12"/><rect x="94.8" y="286.0" width="1" height="1" fill="#000" fill-opacity="0.13"/><rect x="89.5" y="276.1" width="1" height="1" fill="#000" fill-opacity="0.10"/><rect x="87.1" y="284.6" width="1" height="1" fill="#000" fill-opacity="0.25"/><rect x="81.9" y="302.4" width="1" height="1" fill="#000" fill-opacity="0.18"/><rect x="83.2" y="296.9" width="1" height="1" fill="#000" fill-opacity="0.18"/><rect x="76.7" y="307.4" width="1" height="1" fill="#000" fill-opacity="0.13"/><rect x="93.6" y="285.9" width="1" height="1" fill="#000" fill-opacity="0.24"/><rect x="82.8" y="307.3" width="1" height="1" fill="#000" fill-opacity="0.29"/><rect x="84.3" y="285.3" width="1" height="1" fill="#000" fill-opacity="0.27"/><rect x="81.5" y="305.6" width="1" height="1" fill="#000" fill-opacity="0.24"/><rect x="91.9" y="283.8" width="1" height="1" fill="#000" fill-opacity="0.17"/><rect x="94.1" y="303.3" width="1" height="1" fill="#000" fill-opacity="0.24"/><rect x="84.0" y="304.7" width="1" height="1" fill="#000" fill-opacity="0.08"/><rect x="86.7" y="291.3" width="1" height="1" fill="#000" fill-opacity="0.13"/><rect x="89.2" y="302.9" width="1" height="1" fill="#000" fill-opacity="0.05"/><rect x="88.5" y="294.1" width="1" height="1" fill="#000" fill-opacity="0.25"/><rect x="89.8" y="287.9" width="1" height="1" fill="#000" fill-opacity="0.19"/><rect x="83.6" y="299.1" width="1" height="1" fill="#000" fill-opacity="0.09"/><rect x="90.4" y="293.5" width="1" height="1" fill="#000" fill-opacity="0.22"/><rect x="87.8" y="303.8" width="1" height="1" fill="#000" fill-opacity="0.22"/><rect x="86.3" y="283.1" width="1" height="1" fill="#000" fill-opacity="0.23"/><rect x="93.4" y="280.0" width="1" height="1" fill="#000" fill-opacity="0.06"/><rect x="84.0" y="304.1" width="1" height="1" fill="#000" fill-opacity="0.09"/><rect x="90.3" y="307.4" width="1" height="1" fill="#000" fill-opacity="0.16"/><rect x="88.9" y="275.9" width="1" height="1" fill="#000" fill-opacity="0.11"/><rect x="92.1" y="295.6" width="1" height="1" fill="#000" fill-opacity="0.26"/><rect x="85.3" y="299.9" width="1" height="1" fill="#000" fill-opacity="0.15"/><rect x="88.2" y="278.0" width="1" height="1" fill="#000" fill-opacity="0.06"/><rect x="89.0" y="281.6" width="1" height="1" fill="#000" fill-opacity="0.23"/><rect x="94.4" y="288.1" width="1" height="1" fill="#000" fill-opacity="0.11"/><rect x="94.4" y="280.9" width="1" height="1" fill="#000" fill-opacity="0.11"/><rect x="91.9" y="292.6" width="1" height="1" fill="#000" fill-opacity="0.25"/><rect x="88.5" y="282.6" width="1" height="1" fill="#000" fill-opacity="0.08"/><rect x="86.3" y="295.1" width="1" height="1" fill="#000" fill-opacity="0.08"/><rect x="89.8" y="300.9" width="1" height="1" fill="#000" fill-opacity="0.24"/><rect x="87.8" y="297.7" width="1" height="1" fill="#000" fill-opacity="0.11"/><rect x="92.0" y="299.6" width="1" height="1" fill="#000" fill-opacity="0.07"/><rect x="90.6" y="295.6" width="1" height="1" fill="#000" fill-opacity="0.09"/><rect x="93.8" y="278.8" width="1" height="1" fill="#000" fill-opacity="0.18"/><rect x="89.6" y="277.4" width="1" height="1" fill="#000" fill-opacity="0.10"/><rect x="87.5" y="305.7" width="1" height="1" fill="#000" fill-opacity="0.20"/><rect x="90.8" y="297.9" width="1" height="1" fill="#000" fill-opacity="0.11"/><rect x="91.0" y="282.7" width="1" height="1" fill="#000" fill-opacity="0.18"/><rect x="95.4" y="297.0" width="1" height="1" fill="#000" fill-opacity="0.24"/><rect x="94.7" y="298.9" width="1" height="1" fill="#000" fill-opacity="0.14"/><rect x="84.4" y="286.7" width="1" height="1" fill="#000" fill-opacity="0.29"/><rect x="90.1" y="284.8" width="1" height="1" fill="#000" fill-opacity="0.29"/><rect x="83.5" y="284.3" width="1" height="1" fill="#000" fill-opacity="0.30"/><rect x="83.7" y="300.4" width="1" height="1" fill="#000" fill-opacity="0.11"/><rect x="84.4" y="297.2" width="1" height="1" fill="#000" fill-opacity="0.07"/><rect x="89.2" y="276.2" width="1" height="1" fill="#000" fill-opacity="0.27"/><rect x="91.3" y="303.5" width="1" height="1" fill="#000" fill-opacity="0.29"/><rect x="91.2" y="305.0" width="1" height="1" fill="#000" fill-opacity="0.11"/><rect x="91.5" y="277.9" width="1" height="1" fill="#000" fill-opacity="0.27"/><rect x="86.4" y="284.0" width="1" height="1" fill="#000" fill-opacity="0.08"/><rect x="92.1" y="281.2" width="1" height="1" fill="#000" fill-opacity="0.11"/><rect x="86.4" y="300.6" width="1" height="1" fill="#000" fill-opacity="0.10"/><rect x="89.8" y="277.5" width="1" height="1" fill="#000" fill-opacity="0.06"/><rect x="88.3" y="304.6" width="1" height="1" fill="#000" fill-opacity="0.12"/><rect x="90.8" y="301.7" width="1" height="1" fill="#000" fill-opacity="0.10"/><rect x="88.1" y="301.8" width="1" height="1" fill="#000" fill-opacity="0.10"/><rect x="93.7" y="297.9" width="1" height="1" fill="#000" fill-opacity="0.22"/><rect x="92.3" y="306.5" width="1" height="1" fill="#000" fill-opacity="0.12"/><rect x="95.3" y="283.4" width="1" height="1" fill="#000" fill-opacity="0.06"/><rect x="90.9" y="292.8" width="1" height="1" fill="#000" fill-opacity="0.23"/><rect x="86.8" y="289.7" width="1" height="1" fill="#000" fill-opacity="0.11"/><rect x="88.9" y="274.6" width="1" height="1" fill="#000" fill-opacity="0.18"/><rect x="90.9" y="299.7" width="1" height="1" fill="#000" fill-opacity="0.25"/><rect x="85.6" y="290.2" width="1" height="1" fill="#000" fill-opacity="0.30"/><rect x="89.5" y="275.0" width="1" height="1" fill="#000" fill-opacity="0.25"/><rect x="84.8" y="295.2" width="1" height="1" fill="#000" fill-opacity="0.05"/><rect x="90.0" y="305.5" width="1" height="1" fill="#000" fill-opacity="0.31"/><rect x="93.2" y="305.0" width="1" height="1" fill="#000" fill-opacity="0.28"/><rect x="84.7" y="306.2" width="1" height="1" fill="#000" fill-opacity="0.09"/><rect x="91.9" y="282.6" width="1" height="1" fill="#000" fill-opacity="0.10"/><rect x="87.6" y="303.8" width="1" height="1" fill="#000" fill-opacity="0.06"/><rect x="97.4" y="287.5" width="1" height="1" fill="#000" fill-opacity="0.19"/><rect x="93.3" y="306.7" width="1" height="1" fill="#000" fill-opacity="0.27"/><rect x="82.6" y="301.9" width="1" height="1" fill="#000" fill-opacity="0.06"/><rect x="89.5" y="293.6" width="1" height="1" fill="#000" fill-opacity="0.05"/><rect x="94.3" y="303.1" width="1" height="1" fill="#000" fill-opacity="0.15"/><rect x="86.7" y="287.1" width="1" height="1" fill="#000" fill-opacity="0.26"/><rect x="85.2" y="304.7" width="1" height="1" fill="#000" fill-opacity="0.06"/><rect x="87.4" y="305.5" width="1" height="1" fill="#000" fill-opacity="0.08"/><rect x="88.0" y="306.7" width="1" height="1" fill="#000" fill-opacity="0.18"/><rect x="93.7" y="280.2" width="1" height="1" fill="#000" fill-opacity="0.27"/><rect x="82.5" y="285.7" width="1" height="1" fill="#000" fill-opacity="0.07"/><rect x="86.8" y="305.5" width="1" height="1" fill="#000" fill-opacity="0.24"/><rect x="90.4" y="289.1" width="1" height="1" fill="#000" fill-opacity="0.09"/><rect x="92.2" y="296.0" width="1" height="1" fill="#000" fill-opacity="0.12"/><rect x="90.5" y="297.1" width="1" height="1" fill="#000" fill-opacity="0.16"/><rect x="82.2" y="294.6" width="1" height="1" fill="#000" fill-opacity="0.09"/><rect x="92.6" y="283.9" width="1" height="1" fill="#000" fill-opacity="0.20"/><rect x="89.7" y="286.4" width="1" height="1" fill="#000" fill-opacity="0.19"/><rect x="84.3" y="307.1" width="1" height="1" fill="#000" fill-opacity="0.07"/><rect x="88.5" y="290.8" width="1" height="1" fill="#000" fill-opacity="0.18"/><rect x="89.2" y="289.1" width="1" height="1" fill="#000" fill-opacity="0.14"/><rect x="80.4" y="306.8" width="1" height="1" fill="#000" fill-opacity="0.23"/><rect x="92.7" y="281.6" width="1" height="1" fill="#000" fill-opacity="0.05"/><rect x="82.8" y="303.2" width="1" height="1" fill="#000" fill-opacity="0.06"/><rect x="87.4" y="288.8" width="1" height="1" fill="#000" fill-opacity="0.29"/><rect x="90.9" y="275.4" width="1" height="1" fill="#000" fill-opacity="0.27"/><rect x="88.1" y="294.9" width="1" height="1" fill="#000" fill-opacity="0.24"/><rect x="92.1" y="286.3" width="1" height="1" fill="#000" fill-opacity="0.09"/><rect x="88.1" y="278.5" width="1" height="1" fill="#000" fill-opacity="0.12"/><rect x="88.5" y="285.6" width="1" height="1" fill="#000" fill-opacity="0.13"/><rect x="93.6" y="287.9" width="1" height="1" fill="#000" fill-opacity="0.09"/><rect x="94.3" y="278.2" width="1" height="1" fill="#000" fill-opacity="0.08"/><rect x="84.3" y="299.1" width="1" height="1" fill="#000" fill-opacity="0.15"/><rect x="90.4" y="277.6" width="1" height="1" fill="#000" fill-opacity="0.07"/><rect x="88.2" y="283.6" width="1" height="1" fill="#000" fill-opacity="0.13"/><rect x="82.5" y="295.2" width="1" height="1" fill="#000" fill-opacity="0.10"/><rect x="88.7" y="294.5" width="1" height="1" fill="#000" fill-opacity="0.14"/><rect x="90.3" y="303.3" width="1" height="1" fill="#000" fill-opacity="0.13"/><rect x="88.4" y="291.0" width="1" height="1" fill="#000" fill-opacity="0.17"/><rect x="92.5" y="280.2" width="1" height="1" fill="#000" fill-opacity="0.08"/><rect x="85.5" y="289.5" width="1" height="1" fill="#000" fill-opacity="0.20"/><rect x="81.1" y="299.9" width="1" height="1" fill="#000" fill-opacity="0.07"/><rect x="90.4" y="281.1" width="1" height="1" fill="#000" fill-opacity="0.26"/><rect x="88.2" y="303.1" width="1" height="1" fill="#000" fill-opacity="0.10"/><rect x="87.8" y="299.6" width="1" height="1" fill="#000" fill-opacity="0.10"/><rect x="94.7" y="295.7" width="1" height="1" fill="#000" fill-opacity="0.12"/><rect x="94.7" y="281.2" width="1" height="1" fill="#000" fill-opacity="0.06"/><rect x="88.1" y="304.4" width="1" height="1" fill="#000" fill-opacity="0.17"/><rect x="93.1" y="297.8" width="1" height="1" fill="#000" fill-opacity="0.28"/><rect x="91.4" y="288.4" width="1" height="1" fill="#000" fill-opacity="0.14"/><rect x="92.0" y="282.5" width="1" height="1" fill="#000" fill-opacity="0.09"/><rect x="90.5" y="275.9" width="1" height="1" fill="#000" fill-opacity="0.28"/><rect x="85.2" y="303.0" width="1" height="1" fill="#000" fill-opacity="0.17"/><rect x="83.3" y="286.3" width="1" height="1" fill="#000" fill-opacity="0.15"/><rect x="88.1" y="302.1" width="1" height="1" fill="#000" fill-opacity="0.19"/><rect x="88.8" y="304.7" width="1" height="1" fill="#000" fill-opacity="0.18"/><rect x="78.9" y="297.3" width="1" height="1" fill="#000" fill-opacity="0.11"/><rect x="92.7" y="294.5" width="1" height="1" fill="#000" fill-opacity="0.11"/><rect x="88.5" y="302.7" width="1" height="1" fill="#000" fill-opacity="0.24"/><rect x="92.4" y="305.9" width="1" height="1" fill="#000" fill-opacity="0.29"/><rect x="94.8" y="287.3" width="1" height="1" fill="#000" fill-opacity="0.12"/><rect x="90.9" y="293.1" width="1" height="1" fill="#000" fill-opacity="0.06"/><rect x="82.5" y="293.3" width="1" height="1" fill="#000" fill-opacity="0.17"/><rect x="89.2" y="286.2" width="1" height="1" fill="#000" fill-opacity="0.21"/><rect x="92.3" y="302.5" width="1" height="1" fill="#000" fill-opacity="0.06"/><rect x="88.1" y="304.6" width="1" height="1" fill="#000" fill-opacity="0.10"/><rect x="85.1" y="292.3" width="1" height="1" fill="#000" fill-opacity="0.29"/><rect x="83.2" y="305.6" width="1" height="1" fill="#000" fill-opacity="0.16"/><rect x="85.0" y="305.9" width="1" height="1" fill="#000" fill-opacity="0.06"/><rect x="84.3" y="299.9" width="1" height="1" fill="#000" fill-opacity="0.19"/><rect x="92.1" y="294.5" width="1" height="1" fill="#000" fill-opacity="0.10"/><rect x="90.1" y="277.7" width="1" height="1" fill="#000" fill-opacity="0.17"/><rect x="88.1" y="305.5" width="1" height="1" fill="#000" fill-opacity="0.29"/><rect x="86.3" y="288.8" width="1" height="1" fill="#000" fill-opacity="0.24"/><rect x="82.9" y="278.7" width="1" height="1" fill="#000" fill-opacity="0.05"/><rect x="87.6" y="298.9" width="1" height="1" fill="#000" fill-opacity="0.25"/><rect x="79.4" y="307.4" width="1" height="1" fill="#000" fill-opacity="0.21"/><rect x="80.3" y="280.1" width="1" height="1" fill="#000" fill-opacity="0.06"/><rect x="86.1" y="292.2" width="1" height="1" fill="#000" fill-opacity="0.12"/><rect x="88.1" y="282.9" width="1" height="1" fill="#000" fill-opacity="0.07"/><rect x="77.8" y="306.8" width="1" height="1" fill="#000" fill-opacity="0.25"/><rect x="84.8" y="287.4" width="1" height="1" fill="#000" fill-opacity="0.09"/><rect x="93.2" y="278.4" width="1" height="1" fill="#000" fill-opacity="0.23"/><rect x="91.5" y="278.8" width="1" height="1" fill="#000" fill-opacity="0.12"/><rect x="94.1" y="278.2" width="1" height="1" fill="#000" fill-opacity="0.05"/><rect x="91.3" y="302.1" width="1" height="1" fill="#000" fill-opacity="0.07"/><rect x="82.8" y="307.4" width="1" height="1" fill="#000" fill-opacity="0.09"/><rect x="91.9" y="288.2" width="1" height="1" fill="#000" fill-opacity="0.05"/><rect x="85.3" y="293.0" width="1" height="1" fill="#000" fill-opacity="0.28"/><rect x="86.6" y="305.0" width="1" height="1" fill="#000" fill-opacity="0.12"/><rect x="81.6" y="295.0" width="1" height="1" fill="#000" fill-opacity="0.16"/><rect x="96.1" y="293.1" width="1" height="1" fill="#000" fill-opacity="0.13"/><rect x="95.1" y="295.8" width="1" height="1" fill="#000" fill-opacity="0.19"/><rect x="85.2" y="304.1" width="1" height="1" fill="#000" fill-opacity="0.17"/><rect x="86.8" y="305.0" width="1" height="1" fill="#000" fill-opacity="0.20"/><rect x="91.9" y="275.4" width="1" height="1" fill="#000" fill-opacity="0.18"/><rect x="89.2" y="291.2" width="1" height="1" fill="#000" fill-opacity="0.13"/><rect x="92.7" y="296.2" width="1" height="1" fill="#000" fill-opacity="0.09"/><rect x="87.7" y="302.5" width="1" height="1" fill="#000" fill-opacity="0.24"/><rect x="80.8" y="289.3" width="1" height="1" fill="#000" fill-opacity="0.05"/><rect x="93.8" y="300.1" width="1" height="1" fill="#000" fill-opacity="0.16"/><rect x="81.0" y="291.2" width="1" height="1" fill="#000" fill-opacity="0.20"/><rect x="86.9" y="301.8" width="1" height="1" fill="#000" fill-opacity="0.25"/><rect x="85.2" y="294.9" width="1" height="1" fill="#000" fill-opacity="0.19"/><rect x="85.2" y="291.7" width="1" height="1" fill="#000" fill-opacity="0.29"/><rect x="89.4" y="284.3" width="1" height="1" fill="#000" fill-opacity="0.12"/><rect x="93.8" y="293.4" width="1" height="1" fill="#000" fill-opacity="0.19"/><rect x="88.3" y="276.2" width="1" height="1" fill="#000" fill-opacity="0.06"/><rect x="86.6" y="290.1" width="1" height="1" fill="#000" fill-opacity="0.30"/><rect x="89.0" y="275.8" width="1" height="1" fill="#000" fill-opacity="0.11"/><rect x="90.0" y="289.5" width="1" height="1" fill="#000" fill-opacity="0.11"/><rect x="85.4" y="282.6" width="1" height="1" fill="#000" fill-opacity="0.10"/><rect x="84.3" y="304.5" width="1" height="1" fill="#000" fill-opacity="0.12"/><rect x="84.3" y="293.7" width="1" height="1" fill="#000" fill-opacity="0.31"/><rect x="84.5" y="282.2" width="1" height="1" fill="#000" fill-opacity="0.16"/><rect x="93.1" y="296.8" width="1" height="1" fill="#000" fill-opacity="0.19"/><rect x="94.2" y="283.2" width="1" height="1" fill="#000" fill-opacity="0.19"/><rect x="84.9" y="297.0" width="1" height="1" fill="#000" fill-opacity="0.05"/><rect x="95.5" y="295.2" width="1" height="1" fill="#000" fill-opacity="0.11"/><rect x="95.0" y="289.9" width="1" height="1" fill="#000" fill-opacity="0.21"/><rect x="89.4" y="303.7" width="1" height="1" fill="#000" fill-opacity="0.06"/><rect x="86.6" y="290.1" width="1" height="1" fill="#000" fill-opacity="0.12"/><rect x="89.8" y="277.8" width="1" height="1" fill="#000" fill-opacity="0.05"/><rect x="87.7" y="307.1" width="1" height="1" fill="#000" fill-opacity="0.14"/><rect x="92.8" y="285.8" width="1" height="1" fill="#000" fill-opacity="0.14"/><rect x="91.8" y="278.7" width="1" height="1" fill="#000" fill-opacity="0.30"/><rect x="88.2" y="279.6" width="1" height="1" fill="#000" fill-opacity="0.08"/><rect x="85.9" y="289.6" width="1" height="1" fill="#000" fill-opacity="0.07"/><rect x="90.5" y="300.1" width="1" height="1" fill="#000" fill-opacity="0.21"/><rect x="84.5" y="294.8" width="1" height="1" fill="#000" fill-opacity="0.09"/><rect x="86.4" y="293.5" width="1" height="1" fill="#000" fill-opacity="0.25"/><rect x="90.4" y="275.3" width="1" height="1" fill="#000" fill-opacity="0.07"/><rect x="90.2" y="301.9" width="1" height="1" fill="#000" fill-opacity="0.08"/><rect x="84.0" y="290.6" width="1" height="1" fill="#000" fill-opacity="0.08"/><rect x="87.6" y="280.1" width="1" height="1" fill="#000" fill-opacity="0.07"/><rect x="86.1" y="296.8" width="1" height="1" fill="#000" fill-opacity="0.13"/><rect x="89.4" y="298.2" width="1" height="1" fill="#000" fill-opacity="0.20"/><rect x="92.9" y="277.6" width="1" height="1" fill="#000" fill-opacity="0.25"/><rect x="89.9" y="289.5" width="1" height="1" fill="#000" fill-opacity="0.08"/><rect x="88.1" y="286.2" width="1" height="1" fill="#000" fill-opacity="0.05"/><rect x="87.7" y="306.0" width="1" height="1" fill="#000" fill-opacity="0.07"/><rect x="85.9" y="297.2" width="1" height="1" fill="#000" fill-opacity="0.25"/><rect x="89.7" y="307.4" width="1" height="1" fill="#000" fill-opacity="0.16"/><rect x="86.5" y="294.6" width="1" height="1" fill="#000" fill-opacity="0.06"/><rect x="93.7" y="276.2" width="1" height="1" fill="#000" fill-opacity="0.26"/><rect x="94.8" y="295.2" width="1" height="1" fill="#000" fill-opacity="0.29"/><rect x="90.1" y="306.5" width="1" height="1" fill="#000" fill-opacity="0.06"/><rect x="93.4" y="282.2" width="1" height="1" fill="#000" fill-opacity="0.15"/><rect x="90.2" y="282.6" width="1" height="1" fill="#000" fill-opacity="0.27"/><rect x="88.6" y="302.9" width="1" height="1" fill="#000" fill-opacity="0.12"/><rect x="83.3" y="305.0" width="1" height="1" fill="#000" fill-opacity="0.07"/><rect x="84.6" y="306.9" width="1" height="1" fill="#000" fill-opacity="0.10"/><rect x="91.6" y="283.2" width="1" height="1" fill="#000" fill-opacity="0.18"/><rect x="91.6" y="288.8" width="1" height="1" fill="#000" fill-opacity="0.24"/><rect x="90.8" y="288.4" width="1" height="1" fill="#000" fill-opacity="0.28"/><rect x="85.0" y="307.1" width="1" height="1" fill="#000" fill-opacity="0.06"/><rect x="88.1" y="305.6" width="1" height="1" fill="#000" fill-opacity="0.28"/><rect x="87.9" y="275.5" width="1" height="1" fill="#000" fill-opacity="0.29"/><rect x="84.2" y="289.6" width="1" height="1" fill="#000" fill-opacity="0.21"/><rect x="95.9" y="303.2" width="1" height="1" fill="#000" fill-opacity="0.16"/><rect x="93.1" y="307.2" width="1" height="1" fill="#000" fill-opacity="0.21"/><rect x="91.2" y="280.1" width="1" height="1" fill="#000" fill-opacity="0.22"/><rect x="86.5" y="304.8" width="1" height="1" fill="#000" fill-opacity="0.19"/><rect x="78.3" y="294.3" width="1" height="1" fill="#000" fill-opacity="0.09"/><rect x="79.4" y="306.4" width="1" height="1" fill="#000" fill-opacity="0.06"/><rect x="84.7" y="281.7" width="1" height="1" fill="#000" fill-opacity="0.27"/><rect x="89.5" y="298.5" width="1" height="1" fill="#000" fill-opacity="0.09"/><rect x="87.5" y="291.3" width="1" height="1" fill="#000" fill-opacity="0.26"/><rect x="96.2" y="292.4" width="1" height="1" fill="#000" fill-opacity="0.16"/><rect x="94.3" y="283.4" width="1" height="1" fill="#000" fill-opacity="0.08"/><rect x="90.3" y="299.1" width="1" height="1" fill="#000" fill-opacity="0.13"/><rect x="89.8" y="296.6" width="1" height="1" fill="#000" fill-opacity="0.19"/><rect x="86.9" y="281.2" width="1" height="1" fill="#000" fill-opacity="0.19"/><rect x="95.9" y="298.8" width="1" height="1" fill="#000" fill-opacity="0.07"/><rect x="90.8" y="276.3" width="1" height="1" fill="#000" fill-opacity="0.20"/><rect x="87.4" y="297.7" width="1" height="1" fill="#000" fill-opacity="0.12"/><rect x="90.7" y="283.9" width="1" height="1" fill="#000" fill-opacity="0.15"/><rect x="93.3" y="278.4" width="1" height="1" fill="#000" fill-opacity="0.06"/><rect x="90.2" y="281.2" width="1" height="1" fill="#000" fill-opacity="0.19"/><rect x="87.3" y="289.3" width="1" height="1" fill="#000" fill-opacity="0.21"/><rect x="87.4" y="292.3" width="1" height="1" fill="#000" fill-opacity="0.08"/><rect x="92.8" y="295.2" width="1" height="1" fill="#000" fill-opacity="0.12"/><rect x="87.7" y="305.5" width="1" height="1" fill="#000" fill-opacity="0.11"/><rect x="92.5" y="291.4" width="1" height="1" fill="#000" fill-opacity="0.22"/><rect x="84.4" y="301.4" width="1" height="1" fill="#000" fill-opacity="0.08"/><rect x="86.1" y="304.7" width="1" height="1" fill="#000" fill-opacity="0.29"/><rect x="92.0" y="277.3" width="1" height="1" fill="#000" fill-opacity="0.07"/><rect x="85.0" y="305.5" width="1" height="1" fill="#000" fill-opacity="0.09"/><rect x="92.6" y="296.1" width="1" height="1" fill="#000" fill-opacity="0.20"/><rect x="90.7" y="281.2" width="1" height="1" fill="#000" fill-opacity="0.07"/><rect x="88.2" y="307.5" width="1" height="1" fill="#000" fill-opacity="0.10"/><rect x="83.5" y="304.3" width="1" height="1" fill="#000" fill-opacity="0.09"/><rect x="87.7" y="301.2" width="1" height="1" fill="#000" fill-opacity="0.15"/><rect x="92.8" y="282.0" width="1" height="1" fill="#000" fill-opacity="0.09"/><rect x="81.2" y="296.5" width="1" height="1" fill="#000" fill-opacity="0.22"/><rect x="92.0" y="275.1" width="1" height="1" fill="#000" fill-opacity="0.07"/><rect x="89.3" y="282.3" width="1" height="1" fill="#000" fill-opacity="0.15"/><rect x="93.8" y="291.0" width="1" height="1" fill="#000" fill-opacity="0.10"/><rect x="96.9" y="306.3" width="1" height="1" fill="#000" fill-opacity="0.27"/><rect x="89.1" y="295.0" width="1" height="1" fill="#000" fill-opacity="0.06"/><rect x="87.0" y="281.0" width="1" height="1" fill="#000" fill-opacity="0.18"/><rect x="87.4" y="304.2" width="1" height="1" fill="#000" fill-opacity="0.08"/><rect x="89.6" y="282.0" width="1" height="1" fill="#000" fill-opacity="0.12"/><rect x="83.0" y="275.7" width="1" height="1" fill="#000" fill-opacity="0.27"/><rect x="90.6" y="293.4" width="1" height="1" fill="#000" fill-opacity="0.05"/><rect x="89.3" y="282.0" width="1" height="1" fill="#000" fill-opacity="0.06"/><rect x="88.5" y="293.1" width="1" height="1" fill="#000" fill-opacity="0.08"/><rect x="85.4" y="283.0" width="1" height="1" fill="#000" fill-opacity="0.05"/><rect x="92.8" y="291.4" width="1" height="1" fill="#000" fill-opacity="0.09"/><rect x="89.3" y="274.6" width="1" height="1" fill="#000" fill-opacity="0.21"/><rect x="96.4" y="282.9" width="1" height="1" fill="#000" fill-opacity="0.16"/><rect x="86.0" y="281.6" width="1" height="1" fill="#000" fill-opacity="0.14"/><rect x="87.3" y="301.5" width="1" height="1" fill="#000" fill-opacity="0.05"/><rect x="92.2" y="289.3" width="1" height="1" fill="#000" fill-opacity="0.12"/><rect x="96.0" y="278.2" width="1" height="1" fill="#000" fill-opacity="0.07"/><rect x="90.3" y="299.4" width="1" height="1" fill="#000" fill-opacity="0.09"/><rect x="89.2" y="276.3" width="1" height="1" fill="#000" fill-opacity="0.07"/><rect x="83.3" y="306.8" width="1" height="1" fill="#000" fill-opacity="0.11"/><rect x="87.2" y="275.6" width="1" height="1" fill="#000" fill-opacity="0.26"/><rect x="89.3" y="306.8" width="1" height="1" fill="#000" fill-opacity="0.10"/><rect x="89.1" y="296.4" width="1" height="1" fill="#000" fill-opacity="0.20"/><rect x="91.5" y="304.8" width="1" height="1" fill="#000" fill-opacity="0.20"/><rect x="86.6" y="300.3" width="1" height="1" fill="#000" fill-opacity="0.23"/><rect x="86.5" y="296.4" width="1" height="1" fill="#000" fill-opacity="0.25"/><rect x="90.8" y="275.8" width="1" height="1" fill="#000" fill-opacity="0.11"/><rect x="91.1" y="275.5" width="1" height="1" fill="#000" fill-opacity="0.19"/><rect x="82.4" y="284.1" width="1" height="1" fill="#000" fill-opacity="0.27"/><rect x="90.7" y="289.6" width="1" height="1" fill="#000" fill-opacity="0.17"/><rect x="90.1" y="305.6" width="1" height="1" fill="#000" fill-opacity="0.21"/><rect x="90.8" y="280.7" width="1" height="1" fill="#000" fill-opacity="0.23"/><rect x="91.6" y="279.1" width="1" height="1" fill="#000" fill-opacity="0.08"/><rect x="87.2" y="307.3" width="1" height="1" fill="#000" fill-opacity="0.17"/><rect x="92.3" y="277.4" width="1" height="1" fill="#000" fill-opacity="0.19"/><rect x="88.8" y="287.5" width="1" height="1" fill="#000" fill-opacity="0.19"/><rect x="89.2" y="296.6" width="1" height="1" fill="#000" fill-opacity="0.27"/><rect x="97.0" y="285.7" width="1" height="1" fill="#000" fill-opacity="0.15"/><rect x="86.5" y="307.0" width="1" height="1" fill="#000" fill-opacity="0.08"/><rect x="90.7" y="302.6" width="1" height="1" fill="#000" fill-opacity="0.19"/><rect x="93.1" y="287.1" width="1" height="1" fill="#000" fill-opacity="0.05"/><rect x="97.0" y="276.3" width="1" height="1" fill="#000" fill-opacity="0.17"/><rect x="88.6" y="288.4" width="1" height="1" fill="#000" fill-opacity="0.26"/><rect x="93.8" y="302.9" width="1" height="1" fill="#000" fill-opacity="0.06"/><rect x="90.3" y="283.0" width="1" height="1" fill="#000" fill-opacity="0.14"/><rect x="89.5" y="303.4" width="1" height="1" fill="#000" fill-opacity="0.08"/><rect x="94.3" y="300.7" width="1" height="1" fill="#000" fill-opacity="0.16"/><rect x="92.9" y="288.1" width="1" height="1" fill="#000" fill-opacity="0.09"/><rect x="102.8" y="283.5" width="1" height="1" fill="#000" fill-opacity="0.05"/><rect x="84.2" y="299.9" width="1" height="1" fill="#000" fill-opacity="0.06"/><rect x="86.0" y="294.5" width="1" height="1" fill="#000" fill-opacity="0.10"/><rect x="87.9" y="276.0" width="1" height="1" fill="#000" fill-opacity="0.18"/><rect x="87.8" y="274.6" width="1" height="1" fill="#000" fill-opacity="0.06"/><rect x="91.4" y="292.4" width="1" height="1" fill="#000" fill-opacity="0.19"/><rect x="86.2" y="302.2" width="1" height="1" fill="#000" fill-opacity="0.13"/><rect x="88.1" y="289.8" width="1" height="1" fill="#000" fill-opacity="0.14"/><rect x="88.9" y="304.4" width="1" height="1" fill="#000" fill-opacity="0.19"/><rect x="92.0" y="295.9" width="1" height="1" fill="#000" fill-opacity="0.07"/><rect x="87.4" y="299.0" width="1" height="1" fill="#000" fill-opacity="0.17"/><rect x="90.7" y="294.6" width="1" height="1" fill="#000" fill-opacity="0.10"/><rect x="88.1" y="307.5" width="1" height="1" fill="#000" fill-opacity="0.06"/><rect x="87.3" y="300.4" width="1" height="1" fill="#000" fill-opacity="0.23"/><rect x="91.3" y="277.1" width="1" height="1" fill="#000" fill-opacity="0.25"/><rect x="84.1" y="307.0" width="1" height="1" fill="#000" fill-opacity="0.06"/><rect x="82.1" y="305.4" width="1" height="1" fill="#000" fill-opacity="0.18"/><rect x="89.7" y="276.6" width="1" height="1" fill="#000" fill-opacity="0.22"/><rect x="93.5" y="284.7" width="1" height="1" fill="#000" fill-opacity="0.28"/><rect x="96.7" y="281.4" width="1" height="1" fill="#000" fill-opacity="0.06"/><rect x="85.8" y="285.8" width="1" height="1" fill="#000" fill-opacity="0.09"/><rect x="89.8" y="283.6" width="1" height="1" fill="#000" fill-opacity="0.24"/><rect x="88.5" y="283.7" width="1" height="1" fill="#000" fill-opacity="0.06"/><rect x="95.1" y="287.1" width="1" height="1" fill="#000" fill-opacity="0.05"/><rect x="92.0" y="307.4" width="1" height="1" fill="#000" fill-opacity="0.30"/><rect x="92.1" y="294.7" width="1" height="1" fill="#000" fill-opacity="0.18"/><rect x="94.4" y="290.6" width="1" height="1" fill="#000" fill-opacity="0.24"/><rect x="79.3" y="299.2" width="1" height="1" fill="#000" fill-opacity="0.06"/><rect x="90.0" y="278.8" width="1" height="1" fill="#000" fill-opacity="0.26"/><rect x="94.4" y="303.9" width="1" height="1" fill="#000" fill-opacity="0.07"/><rect x="92.7" y="296.3" width="1" height="1" fill="#000" fill-opacity="0.31"/><rect x="81.3" y="301.0" width="1" height="1" fill="#000" fill-opacity="0.18"/><rect x="87.8" y="279.7" width="1" height="1" fill="#000" fill-opacity="0.08"/><rect x="93.6" y="280.3" width="1" height="1" fill="#000" fill-opacity="0.13"/><rect x="87.0" y="294.1" width="1" height="1" fill="#000" fill-opacity="0.24"/><rect x="86.0" y="295.0" width="1" height="1" fill="#000" fill-opacity="0.12"/><rect x="87.4" y="285.4" width="1" height="1" fill="#000" fill-opacity="0.26"/><rect x="86.1" y="282.2" width="1" height="1" fill="#000" fill-opacity="0.12"/><rect x="90.4" y="288.5" width="1" height="1" fill="#000" fill-opacity="0.19"/><rect x="88.1" y="292.7" width="1" height="1" fill="#000" fill-opacity="0.12"/><rect x="85.6" y="305.2" width="1" height="1" fill="#000" fill-opacity="0.27"/><rect x="96.1" y="275.1" width="1" height="1" fill="#000" fill-opacity="0.22"/><rect x="91.7" y="279.4" width="1" height="1" fill="#000" fill-opacity="0.20"/><rect x="89.1" y="279.8" width="1" height="1" fill="#000" fill-opacity="0.22"/><rect x="86.7" y="300.9" width="1" height="1" fill="#000" fill-opacity="0.12"/><rect x="86.9" y="285.2" width="1" height="1" fill="#000" fill-opacity="0.19"/><rect x="86.4" y="304.8" width="1" height="1" fill="#000" fill-opacity="0.07"/><rect x="89.7" y="281.6" width="1" height="1" fill="#000" fill-opacity="0.28"/><rect x="88.0" y="301.5" width="1" height="1" fill="#000" fill-opacity="0.14"/><rect x="85.7" y="298.7" width="1" height="1" fill="#000" fill-opacity="0.06"/><rect x="81.5" y="295.9" width="1" height="1" fill="#000" fill-opacity="0.06"/><rect x="85.4" y="300.5" width="1" height="1" fill="#000" fill-opacity="0.05"/><rect x="86.9" y="302.8" width="1" height="1" fill="#000" fill-opacity="0.29"/><rect x="95.2" y="302.7" width="1" height="1" fill="#000" fill-opacity="0.14"/><rect x="79.7" y="292.8" width="1" height="1" fill="#000" fill-opacity="0.29"/><rect x="87.7" y="306.9" width="1" height="1" fill="#000" fill-opacity="0.12"/><rect x="86.4" y="292.6" width="1" height="1" fill="#000" fill-opacity="0.24"/><rect x="83.0" y="305.7" width="1" height="1" fill="#000" fill-opacity="0.13"/><rect x="91.5" y="281.3" width="1" height="1" fill="#000" fill-opacity="0.18"/><rect x="89.7" y="304.5" width="1" height="1" fill="#000" fill-opacity="0.15"/><rect x="88.8" y="305.1" width="1" height="1" fill="#000" fill-opacity="0.23"/><rect x="92.4" y="289.7" width="1" height="1" fill="#000" fill-opacity="0.17"/><rect x="81.9" y="289.1" width="1" height="1" fill="#000" fill-opacity="0.17"/><rect x="95.3" y="289.0" width="1" height="1" fill="#000" fill-opacity="0.05"/><rect x="79.1" y="301.7" width="1" height="1" fill="#000" fill-opacity="0.20"/><rect x="81.6" y="306.6" width="1" height="1" fill="#000" fill-opacity="0.24"/><rect x="85.4" y="302.7" width="1" height="1" fill="#000" fill-opacity="0.05"/><rect x="89.1" y="283.6" width="1" height="1" fill="#000" fill-opacity="0.14"/><rect x="88.1" y="289.9" width="1" height="1" fill="#000" fill-opacity="0.12"/><rect x="83.0" y="299.5" width="1" height="1" fill="#000" fill-opacity="0.15"/><rect x="87.2" y="301.8" width="1" height="1" fill="#000" fill-opacity="0.10"/><rect x="96.1" y="285.6" width="1" height="1" fill="#000" fill-opacity="0.20"/><rect x="89.5" y="294.8" width="1" height="1" fill="#000" fill-opacity="0.05"/><rect x="87.9" y="280.6" width="1" height="1" fill="#000" fill-opacity="0.22"/><rect x="93.1" y="284.9" width="1" height="1" fill="#000" fill-opacity="0.12"/><rect x="87.7" y="289.6" width="1" height="1" fill="#000" fill-opacity="0.26"/><rect x="88.5" y="300.7" width="1" height="1" fill="#000" fill-opacity="0.08"/><rect x="76.2" y="307.3" width="1" height="1" fill="#000" fill-opacity="0.07"/><rect x="91.4" y="288.4" width="1" height="1" fill="#000" fill-opacity="0.06"/><rect x="98.2" y="278.8" width="1" height="1" fill="#000" fill-opacity="0.10"/><rect x="90.3" y="277.8" width="1" height="1" fill="#000" fill-opacity="0.19"/><rect x="89.6" y="300.2" width="1" height="1" fill="#000" fill-opacity="0.29"/><rect x="90.4" y="281.6" width="1" height="1" fill="#000" fill-opacity="0.16"/><rect x="94.1" y="283.6" width="1" height="1" fill="#000" fill-opacity="0.09"/><rect x="84.4" y="291.3" width="1" height="1" fill="#000" fill-opacity="0.16"/><rect x="88.0" y="295.9" width="1" height="1" fill="#000" fill-opacity="0.11"/><rect x="93.1" y="297.2" width="1" height="1" fill="#000" fill-opacity="0.06"/><rect x="88.2" y="297.2" width="1" height="1" fill="#000" fill-opacity="0.22"/><rect x="92.9" y="287.0" width="1" height="1" fill="#000" fill-opacity="0.13"/><rect x="92.2" y="280.8" width="1" height="1" fill="#000" fill-opacity="0.09"/><rect x="91.3" y="277.9" width="1" height="1" fill="#000" fill-opacity="0.14"/><rect x="88.4" y="292.5" width="1" height="1" fill="#000" fill-opacity="0.18"/><rect x="92.6" y="279.1" width="1" height="1" fill="#000" fill-opacity="0.05"/><rect x="96.3" y="281.2" width="1" height="1" fill="#000" fill-opacity="0.08"/><rect x="91.5" y="307.2" width="1" height="1" fill="#000" fill-opacity="0.19"/><rect x="82.3" y="283.4" width="1" height="1" fill="#000" fill-opacity="0.12"/><rect x="84.0" y="301.7" width="1" height="1" fill="#000" fill-opacity="0.09"/><rect x="82.2" y="297.8" width="1" height="1" fill="#000" fill-opacity="0.09"/><rect x="88.2" y="301.2" width="1" height="1" fill="#000" fill-opacity="0.05"/><rect x="87.2" y="303.5" width="1" height="1" fill="#000" fill-opacity="0.23"/><rect x="89.5" y="291.2" width="1" height="1" fill="#000" fill-opacity="0.27"/><rect x="83.8" y="290.6" width="1" height="1" fill="#000" fill-opacity="0.05"/><rect x="85.5" y="305.6" width="1" height="1" fill="#000" fill-opacity="0.09"/><rect x="89.0" y="300.9" width="1" height="1" fill="#000" fill-opacity="0.30"/><rect x="89.9" y="276.0" width="1" height="1" fill="#000" fill-opacity="0.12"/><rect x="83.2" y="306.3" width="1" height="1" fill="#000" fill-opacity="0.13"/><rect x="79.8" y="304.6" width="1" height="1" fill="#000" fill-opacity="0.12"/><rect x="88.7" y="286.1" width="1" height="1" fill="#000" fill-opacity="0.24"/><rect x="89.0" y="278.0" width="1" height="1" fill="#000" fill-opacity="0.27"/><rect x="90.1" y="293.7" width="1" height="1" fill="#000" fill-opacity="0.09"/><rect x="96.2" y="287.0" width="1" height="1" fill="#000" fill-opacity="0.11"/><rect x="79.1" y="301.2" width="1" height="1" fill="#000" fill-opacity="0.08"/><rect x="89.8" y="300.2" width="1" height="1" fill="#000" fill-opacity="0.18"/><rect x="96.5" y="306.7" width="1" height="1" fill="#000" fill-opacity="0.06"/><rect x="91.3" y="303.5" width="1" height="1" fill="#000" fill-opacity="0.24"/><rect x="87.0" y="302.4" width="1" height="1" fill="#000" fill-opacity="0.07"/><rect x="94.3" y="276.9" width="1" height="1" fill="#000" fill-opacity="0.15"/><rect x="90.3" y="299.0" width="1" height="1" fill="#000" fill-opacity="0.22"/><rect x="91.0" y="280.4" width="1" height="1" fill="#000" fill-opacity="0.14"/><rect x="91.9" y="294.3" width="1" height="1" fill="#000" fill-opacity="0.18"/><rect x="86.1" y="283.5" width="1" height="1" fill="#000" fill-opacity="0.13"/><rect x="95.7" y="307.1" width="1" height="1" fill="#000" fill-opacity="0.12"/><rect x="92.1" y="292.6" width="1" height="1" fill="#000" fill-opacity="0.17"/><rect x="95.9" y="292.9" width="1" height="1" fill="#000" fill-opacity="0.09"/><rect x="86.4" y="304.9" width="1" height="1" fill="#000" fill-opacity="0.20"/><rect x="94.6" y="287.0" width="1" height="1" fill="#000" fill-opacity="0.05"/><rect x="88.6" y="283.4" width="1" height="1" fill="#000" fill-opacity="0.15"/><rect x="86.2" y="280.4" width="1" height="1" fill="#000" fill-opacity="0.30"/><rect x="85.2" y="290.7" width="1" height="1" fill="#000" fill-opacity="0.24"/><rect x="91.5" y="287.2" width="1" height="1" fill="#000" fill-opacity="0.23"/><rect x="85.7" y="299.9" width="1" height="1" fill="#000" fill-opacity="0.16"/><rect x="85.1" y="307.3" width="1" height="1" fill="#000" fill-opacity="0.15"/><rect x="93.3" y="285.3" width="1" height="1" fill="#000" fill-opacity="0.26"/><rect x="85.1" y="303.1" width="1" height="1" fill="#000" fill-opacity="0.05"/><rect x="87.1" y="291.8" width="1" height="1" fill="#000" fill-opacity="0.17"/><rect x="92.9" y="284.2" width="1" height="1" fill="#000" fill-opacity="0.26"/><rect x="83.2" y="299.4" width="1" height="1" fill="#000" fill-opacity="0.20"/><rect x="86.8" y="290.7" width="1" height="1" fill="#000" fill-opacity="0.13"/><rect x="96.1" y="282.2" width="1" height="1" fill="#000" fill-opacity="0.07"/><rect x="88.4" y="303.6" width="1" height="1" fill="#000" fill-opacity="0.19"/><rect x="87.8" y="295.2" width="1" height="1" fill="#000" fill-opacity="0.05"/><rect x="89.2" y="301.1" width="1" height="1" fill="#000" fill-opacity="0.06"/><rect x="90.9" y="286.5" width="1" height="1" fill="#000" fill-opacity="0.12"/><rect x="93.1" y="286.2" width="1" height="1" fill="#000" fill-opacity="0.24"/><rect x="89.9" y="288.9" width="1" height="1" fill="#000" fill-opacity="0.16"/><rect x="90.4" y="298.1" width="1" height="1" fill="#000" fill-opacity="0.21"/><rect x="86.3" y="302.6" width="1" height="1" fill="#000" fill-opacity="0.09"/><rect x="83.9" y="303.6" width="1" height="1" fill="#000" fill-opacity="0.22"/><rect x="82.2" y="293.5" width="1" height="1" fill="#000" fill-opacity="0.05"/><rect x="87.2" y="292.0" width="1" height="1" fill="#000" fill-opacity="0.10"/><rect x="89.2" y="301.8" width="1" height="1" fill="#000" fill-opacity="0.12"/><rect x="86.1" y="295.9" width="1" height="1" fill="#000" fill-opacity="0.06"/><rect x="92.7" y="299.9" width="1" height="1" fill="#000" fill-opacity="0.18"/><rect x="91.6" y="274.5" width="1" height="1" fill="#000" fill-opacity="0.29"/><rect x="89.9" y="299.2" width="1" height="1" fill="#000" fill-opacity="0.06"/><rect x="88.6" y="292.6" width="1" height="1" fill="#000" fill-opacity="0.20"/><rect x="92.9" y="290.3" width="1" height="1" fill="#000" fill-opacity="0.14"/><rect x="89.3" y="297.4" width="1" height="1" fill="#000" fill-opacity="0.22"/><rect x="93.3" y="284.7" width="1" height="1" fill="#000" fill-opacity="0.20"/><rect x="92.2" y="283.0" width="1" height="1" fill="#000" fill-opacity="0.19"/><rect x="91.2" y="275.4" width="1" height="1" fill="#000" fill-opacity="0.25"/><rect x="85.9" y="289.6" width="1" height="1" fill="#000" fill-opacity="0.17"/><rect x="89.4" y="290.3" width="1" height="1" fill="#000" fill-opacity="0.13"/><rect x="85.2" y="283.0" width="1" height="1" fill="#000" fill-opacity="0.12"/><rect x="93.6" y="284.8" width="1" height="1" fill="#000" fill-opacity="0.06"/><rect x="89.1" y="278.3" width="1" height="1" fill="#000" fill-opacity="0.08"/><rect x="91.8" y="302.8" width="1" height="1" fill="#000" fill-opacity="0.12"/><rect x="91.4" y="281.8" width="1" height="1" fill="#000" fill-opacity="0.07"/><rect x="88.4" y="297.7" width="1" height="1" fill="#000" fill-opacity="0.12"/><rect x="86.5" y="304.5" width="1" height="1" fill="#000" fill-opacity="0.23"/><rect x="89.2" y="300.2" width="1" height="1" fill="#000" fill-opacity="0.07"/><rect x="91.2" y="286.3" width="1" height="1" fill="#000" fill-opacity="0.06"/><rect x="87.2" y="306.9" width="1" height="1" fill="#000" fill-opacity="0.21"/><rect x="91.1" y="284.1" width="1" height="1" fill="#000" fill-opacity="0.15"/><rect x="94.2" y="299.1" width="1" height="1" fill="#000" fill-opacity="0.08"/><rect x="90.5" y="291.9" width="1" height="1" fill="#000" fill-opacity="0.31"/><rect x="86.1" y="302.0" width="1" height="1" fill="#000" fill-opacity="0.15"/><rect x="84.6" y="296.8" width="1" height="1" fill="#000" fill-opacity="0.20"/><rect x="95.7" y="292.9" width="1" height="1" fill="#000" fill-opacity="0.08"/><rect x="89.7" y="298.6" width="1" height="1" fill="#000" fill-opacity="0.14"/><rect x="89.4" y="290.3" width="1" height="1" fill="#000" fill-opacity="0.11"/><rect x="87.7" y="289.3" width="1" height="1" fill="#000" fill-opacity="0.13"/><rect x="90.7" y="301.9" width="1" height="1" fill="#000" fill-opacity="0.18"/><rect x="80.0" y="292.4" width="1" height="1" fill="#000" fill-opacity="0.07"/><rect x="89.5" y="294.4" width="1" height="1" fill="#000" fill-opacity="0.13"/><rect x="85.4" y="295.4" width="1" height="1" fill="#000" fill-opacity="0.09"/><rect x="87.2" y="289.5" width="1" height="1" fill="#000" fill-opacity="0.25"/><rect x="96.7" y="299.9" width="1" height="1" fill="#000" fill-opacity="0.05"/><rect x="88.8" y="307.2" width="1" height="1" fill="#000" fill-opacity="0.06"/><rect x="83.0" y="306.8" width="1" height="1" fill="#000" fill-opacity="0.23"/><rect x="91.0" y="302.9" width="1" height="1" fill="#000" fill-opacity="0.18"/><rect x="86.4" y="298.7" width="1" height="1" fill="#000" fill-opacity="0.19"/><rect x="87.2" y="304.6" width="1" height="1" fill="#000" fill-opacity="0.05"/><rect x="91.0" y="291.4" width="1" height="1" fill="#000" fill-opacity="0.31"/><rect x="89.6" y="307.4" width="1" height="1" fill="#000" fill-opacity="0.07"/><rect x="84.6" y="307.1" width="1" height="1" fill="#000" fill-opacity="0.10"/><rect x="82.5" y="306.0" width="1" height="1" fill="#000" fill-opacity="0.07"/><rect x="91.0" y="279.2" width="1" height="1" fill="#000" fill-opacity="0.17"/><rect x="90.5" y="284.1" width="1" height="1" fill="#000" fill-opacity="0.20"/><rect x="95.5" y="283.5" width="1" height="1" fill="#000" fill-opacity="0.07"/><rect x="90.0" y="276.6" width="1" height="1" fill="#000" fill-opacity="0.28"/><rect x="88.5" y="300.0" width="1" height="1" fill="#000" fill-opacity="0.27"/><rect x="92.1" y="302.9" width="1" height="1" fill="#000" fill-opacity="0.16"/><rect x="91.6" y="287.4" width="1" height="1" fill="#000" fill-opacity="0.18"/><rect x="88.6" y="298.2" width="1" height="1" fill="#000" fill-opacity="0.06"/><rect x="85.0" y="290.6" width="1" height="1" fill="#000" fill-opacity="0.10"/><rect x="90.6" y="292.0" width="1" height="1" fill="#000" fill-opacity="0.09"/><rect x="91.9" y="287.7" width="1" height="1" fill="#000" fill-opacity="0.05"/><rect x="82.1" y="296.5" width="1" height="1" fill="#000" fill-opacity="0.06"/><rect x="93.3" y="293.1" width="1" height="1" fill="#000" fill-opacity="0.24"/><rect x="91.3" y="296.7" width="1" height="1" fill="#000" fill-opacity="0.14"/><rect x="87.2" y="300.0" width="1" height="1" fill="#000" fill-opacity="0.09"/><rect x="88.2" y="306.3" width="1" height="1" fill="#000" fill-opacity="0.25"/><rect x="83.4" y="294.4" width="1" height="1" fill="#000" fill-opacity="0.07"/><rect x="93.7" y="287.9" width="1" height="1" fill="#000" fill-opacity="0.09"/><rect x="87.1" y="292.8" width="1" height="1" fill="#000" fill-opacity="0.26"/><rect x="86.8" y="281.8" width="1" height="1" fill="#000" fill-opacity="0.05"/><rect x="82.4" y="304.7" width="1" height="1" fill="#000" fill-opacity="0.05"/><rect x="88.0" y="295.3" width="1" height="1" fill="#000" fill-opacity="0.24"/><rect x="89.2" y="292.0" width="1" height="1" fill="#000" fill-opacity="0.21"/><rect x="91.7" y="275.9" width="1" height="1" fill="#000" fill-opacity="0.18"/><rect x="82.9" y="292.8" width="1" height="1" fill="#000" fill-opacity="0.22"/><rect x="88.5" y="283.2" width="1" height="1" fill="#000" fill-opacity="0.06"/><rect x="95.4" y="292.5" width="1" height="1" fill="#000" fill-opacity="0.28"/><rect x="91.3" y="302.6" width="1" height="1" fill="#000" fill-opacity="0.21"/><rect x="84.4" y="304.4" width="1" height="1" fill="#000" fill-opacity="0.05"/><rect x="80.7" y="301.6" width="1" height="1" fill="#000" fill-opacity="0.16"/><rect x="84.6" y="292.8" width="1" height="1" fill="#000" fill-opacity="0.11"/><rect x="87.2" y="293.6" width="1" height="1" fill="#000" fill-opacity="0.10"/><rect x="83.0" y="287.4" width="1" height="1" fill="#000" fill-opacity="0.10"/><rect x="91.7" y="301.6" width="1" height="1" fill="#000" fill-opacity="0.17"/><rect x="90.2" y="293.3" width="1" height="1" fill="#000" fill-opacity="0.13"/><rect x="85.4" y="283.7" width="1" height="1" fill="#000" fill-opacity="0.16"/><rect x="92.5" y="276.6" width="1" height="1" fill="#000" fill-opacity="0.10"/><rect x="89.0" y="295.6" width="1" height="1" fill="#000" fill-opacity="0.23"/><rect x="84.8" y="299.4" width="1" height="1" fill="#000" fill-opacity="0.07"/><rect x="86.2" y="292.0" width="1" height="1" fill="#000" fill-opacity="0.09"/><rect x="90.6" y="274.6" width="1" height="1" fill="#000" fill-opacity="0.14"/><rect x="86.2" y="286.0" width="1" height="1" fill="#000" fill-opacity="0.09"/><rect x="90.0" y="303.9" width="1" height="1" fill="#000" fill-opacity="0.25"/><rect x="88.6" y="287.1" width="1" height="1" fill="#000" fill-opacity="0.16"/><rect x="91.3" y="306.4" width="1" height="1" fill="#000" fill-opacity="0.18"/><rect x="90.2" y="274.7" width="1" height="1" fill="#000" fill-opacity="0.06"/><rect x="85.3" y="292.3" width="1" height="1" fill="#000" fill-opacity="0.17"/><rect x="91.9" y="286.5" width="1" height="1" fill="#000" fill-opacity="0.06"/><rect x="89.8" y="275.8" width="1" height="1" fill="#000" fill-opacity="0.15"/><rect x="85.6" y="279.1" width="1" height="1" fill="#000" fill-opacity="0.17"/><rect x="85.6" y="285.4" width="1" height="1" fill="#000" fill-opacity="0.18"/><rect x="91.3" y="276.4" width="1" height="1" fill="#000" fill-opacity="0.12"/><rect x="76.5" y="302.9" width="1" height="1" fill="#000" fill-opacity="0.07"/><rect x="83.3" y="295.1" width="1" height="1" fill="#000" fill-opacity="0.13"/><rect x="89.7" y="275.9" width="1" height="1" fill="#000" fill-opacity="0.12"/><rect x="80.8" y="307.4" width="1" height="1" fill="#000" fill-opacity="0.08"/><rect x="89.3" y="284.8" width="1" height="1" fill="#000" fill-opacity="0.07"/><rect x="83.9" y="278.4" width="1" height="1" fill="#000" fill-opacity="0.17"/><rect x="92.8" y="285.5" width="1" height="1" fill="#000" fill-opacity="0.07"/><rect x="92.6" y="279.3" width="1" height="1" fill="#000" fill-opacity="0.16"/><rect x="87.3" y="304.1" width="1" height="1" fill="#000" fill-opacity="0.26"/><rect x="95.3" y="280.0" width="1" height="1" fill="#000" fill-opacity="0.11"/><rect x="86.4" y="288.9" width="1" height="1" fill="#000" fill-opacity="0.05"/><rect x="80.7" y="305.5" width="1" height="1" fill="#000" fill-opacity="0.09"/><rect x="84.6" y="307.3" width="1" height="1" fill="#000" fill-opacity="0.05"/><rect x="82.1" y="299.2" width="1" height="1" fill="#000" fill-opacity="0.20"/><rect x="95.7" y="279.3" width="1" height="1" fill="#000" fill-opacity="0.22"/><rect x="90.1" y="286.3" width="1" height="1" fill="#000" fill-opacity="0.22"/><rect x="86.7" y="290.8" width="1" height="1" fill="#000" fill-opacity="0.18"/><rect x="82.1" y="293.8" width="1" height="1" fill="#000" fill-opacity="0.24"/><rect x="90.2" y="303.3" width="1" height="1" fill="#000" fill-opacity="0.26"/><rect x="95.0" y="292.2" width="1" height="1" fill="#000" fill-opacity="0.26"/><rect x="91.2" y="295.9" width="1" height="1" fill="#000" fill-opacity="0.12"/><rect x="89.6" y="301.1" width="1" height="1" fill="#000" fill-opacity="0.13"/><rect x="93.7" y="288.1" width="1" height="1" fill="#000" fill-opacity="0.19"/><rect x="88.1" y="303.3" width="1" height="1" fill="#000" fill-opacity="0.12"/><rect x="83.0" y="303.5" width="1" height="1" fill="#000" fill-opacity="0.17"/><rect x="91.1" y="287.1" width="1" height="1" fill="#000" fill-opacity="0.10"/><rect x="82.5" y="292.0" width="1" height="1" fill="#000" fill-opacity="0.18"/><rect x="94.6" y="297.4" width="1" height="1" fill="#000" fill-opacity="0.27"/><rect x="89.2" y="294.5" width="1" height="1" fill="#000" fill-opacity="0.28"/><rect x="83.4" y="306.7" width="1" height="1" fill="#000" fill-opacity="0.18"/><rect x="86.3" y="298.3" width="1" height="1" fill="#000" fill-opacity="0.21"/><rect x="86.6" y="303.0" width="1" height="1" fill="#000" fill-opacity="0.12"/><rect x="92.4" y="296.5" width="1" height="1" fill="#000" fill-opacity="0.29"/><rect x="87.2" y="293.1" width="1" height="1" fill="#000" fill-opacity="0.15"/><rect x="89.6" y="284.0" width="1" height="1" fill="#000" fill-opacity="0.20"/><rect x="88.9" y="276.3" width="1" height="1" fill="#000" fill-opacity="0.26"/><rect x="89.8" y="275.3" width="1" height="1" fill="#000" fill-opacity="0.30"/><rect x="86.2" y="305.3" width="1" height="1" fill="#000" fill-opacity="0.09"/><rect x="88.6" y="283.4" width="1" height="1" fill="#000" fill-opacity="0.26"/><rect x="87.6" y="290.4" width="1" height="1" fill="#000" fill-opacity="0.09"/><rect x="92.1" y="301.2" width="1" height="1" fill="#000" fill-opacity="0.07"/><rect x="92.9" y="276.6" width="1" height="1" fill="#000" fill-opacity="0.25"/><rect x="89.3" y="284.5" width="1" height="1" fill="#000" fill-opacity="0.21"/><rect x="80.5" y="301.5" width="1" height="1" fill="#000" fill-opacity="0.20"/><rect x="90.0" y="277.2" width="1" height="1" fill="#000" fill-opacity="0.05"/><rect x="85.3" y="299.2" width="1" height="1" fill="#000" fill-opacity="0.30"/><rect x="93.5" y="275.8" width="1" height="1" fill="#000" fill-opacity="0.25"/><rect x="90.7" y="288.0" width="1" height="1" fill="#000" fill-opacity="0.08"/><rect x="82.8" y="289.1" width="1" height="1" fill="#000" fill-opacity="0.30"/><rect x="83.7" y="304.0" width="1" height="1" fill="#000" fill-opacity="0.26"/><rect x="89.9" y="294.9" width="1" height="1" fill="#000" fill-opacity="0.06"/><rect x="85.4" y="297.8" width="1" height="1" fill="#000" fill-opacity="0.05"/><rect x="87.3" y="281.9" width="1" height="1" fill="#000" fill-opacity="0.09"/><rect x="82.5" y="307.0" width="1" height="1" fill="#000" fill-opacity="0.17"/><rect x="82.7" y="305.8" width="1" height="1" fill="#000" fill-opacity="0.05"/><rect x="89.5" y="285.5" width="1" height="1" fill="#000" fill-opacity="0.16"/><rect x="87.2" y="306.0" width="1" height="1" fill="#000" fill-opacity="0.13"/><rect x="90.5" y="286.0" width="1" height="1" fill="#000" fill-opacity="0.21"/><rect x="92.0" y="300.9" width="1" height="1" fill="#000" fill-opacity="0.18"/><rect x="86.2" y="306.6" width="1" height="1" fill="#000" fill-opacity="0.12"/><rect x="89.4" y="274.7" width="1" height="1" fill="#000" fill-opacity="0.23"/><rect x="88.8" y="303.5" width="1" height="1" fill="#000" fill-opacity="0.14"/><rect x="84.0" y="300.8" width="1" height="1" fill="#000" fill-opacity="0.07"/><rect x="89.9" y="275.1" width="1" height="1" fill="#000" fill-opacity="0.24"/><rect x="89.1" y="305.5" width="1" height="1" fill="#000" fill-opacity="0.12"/><rect x="99.1" y="305.3" width="1" height="1" fill="#000" fill-opacity="0.14"/><rect x="91.8" y="288.1" width="1" height="1" fill="#000" fill-opacity="0.06"/><rect x="95.3" y="298.2" width="1" height="1" fill="#000" fill-opacity="0.05"/><rect x="93.3" y="277.0" width="1" height="1" fill="#000" fill-opacity="0.30"/><rect x="87.0" y="303.1" width="1" height="1" fill="#000" fill-opacity="0.05"/><rect x="91.1" y="294.5" width="1" height="1" fill="#000" fill-opacity="0.15"/><rect x="89.0" y="279.2" width="1" height="1" fill="#000" fill-opacity="0.12"/><rect x="87.7" y="304.2" width="1" height="1" fill="#000" fill-opacity="0.05"/><rect x="89.2" y="297.4" width="1" height="1" fill="#000" fill-opacity="0.30"/><rect x="89.5" y="280.9" width="1" height="1" fill="#000" fill-opacity="0.31"/><rect x="87.2" y="290.2" width="1" height="1" fill="#000" fill-opacity="0.06"/><rect x="94.9" y="292.8" width="1" height="1" fill="#000" fill-opacity="0.25"/><rect x="89.3" y="292.3" width="1" height="1" fill="#000" fill-opacity="0.26"/><rect x="84.8" y="304.4" width="1" height="1" fill="#000" fill-opacity="0.10"/><rect x="90.9" y="290.3" width="1" height="1" fill="#000" fill-opacity="0.09"/><rect x="89.4" y="283.6" width="1" height="1" fill="#000" fill-opacity="0.08"/><rect x="93.4" y="297.2" width="1" height="1" fill="#000" fill-opacity="0.23"/><rect x="99.1" y="297.7" width="1" height="1" fill="#000" fill-opacity="0.31"/><rect x="90.3" y="279.1" width="1" height="1" fill="#000" fill-opacity="0.21"/><rect x="90.8" y="288.7" width="1" height="1" fill="#000" fill-opacity="0.09"/><rect x="84.7" y="307.4" width="1" height="1" fill="#000" fill-opacity="0.20"/><rect x="97.5" y="287.5" width="1" height="1" fill="#000" fill-opacity="0.20"/><rect x="91.2" y="301.1" width="1" height="1" fill="#000" fill-opacity="0.28"/><rect x="86.7" y="289.7" width="1" height="1" fill="#000" fill-opacity="0.20"/><rect x="95.7" y="279.7" width="1" height="1" fill="#000" fill-opacity="0.29"/><rect x="87.8" y="296.6" width="1" height="1" fill="#000" fill-opacity="0.10"/><rect x="81.9" y="301.4" width="1" height="1" fill="#000" fill-opacity="0.10"/><rect x="94.1" y="301.8" width="1" height="1" fill="#000" fill-opacity="0.06"/><rect x="93.2" y="285.6" width="1" height="1" fill="#000" fill-opacity="0.07"/><rect x="88.8" y="284.0" width="1" height="1" fill="#000" fill-opacity="0.25"/><rect x="84.8" y="296.8" width="1" height="1" fill="#000" fill-opacity="0.15"/><rect x="90.2" y="287.8" width="1" height="1" fill="#000" fill-opacity="0.28"/><rect x="93.4" y="299.1" width="1" height="1" fill="#000" fill-opacity="0.13"/><rect x="89.6" y="280.8" width="1" height="1" fill="#000" fill-opacity="0.08"/><rect x="95.0" y="292.0" width="1" height="1" fill="#000" fill-opacity="0.26"/><rect x="85.4" y="292.6" width="1" height="1" fill="#000" fill-opacity="0.18"/><rect x="90.5" y="283.3" width="1" height="1" fill="#000" fill-opacity="0.24"/><rect x="98.5" y="294.0" width="1" height="1" fill="#000" fill-opacity="0.17"/><rect x="93.6" y="276.7" width="1" height="1" fill="#000" fill-opacity="0.26"/><rect x="87.4" y="306.8" width="1" height="1" fill="#000" fill-opacity="0.20"/><rect x="88.0" y="300.2" width="1" height="1" fill="#000" fill-opacity="0.09"/><rect x="89.5" y="298.1" width="1" height="1" fill="#000" fill-opacity="0.19"/><rect x="89.0" y="282.0" width="1" height="1" fill="#000" fill-opacity="0.15"/><rect x="90.1" y="277.5" width="1" height="1" fill="#000" fill-opacity="0.08"/><rect x="90.4" y="286.5" width="1" height="1" fill="#000" fill-opacity="0.15"/><rect x="93.2" y="281.2" width="1" height="1" fill="#000" fill-opacity="0.15"/><rect x="86.4" y="303.3" width="1" height="1" fill="#000" fill-opacity="0.21"/><rect x="88.6" y="291.6" width="1" height="1" fill="#000" fill-opacity="0.10"/><rect x="87.0" y="289.1" width="1" height="1" fill="#000" fill-opacity="0.17"/><rect x="93.3" y="282.5" width="1" height="1" fill="#000" fill-opacity="0.07"/><rect x="92.4" y="276.0" width="1" height="1" fill="#000" fill-opacity="0.28"/><rect x="85.7" y="301.1" width="1" height="1" fill="#000" fill-opacity="0.25"/><rect x="93.0" y="302.7" width="1" height="1" fill="#000" fill-opacity="0.16"/><rect x="84.5" y="287.1" width="1" height="1" fill="#000" fill-opacity="0.22"/><rect x="86.5" y="288.8" width="1" height="1" fill="#000" fill-opacity="0.27"/><rect x="94.5" y="292.4" width="1" height="1" fill="#000" fill-opacity="0.26"/><rect x="82.7" y="298.3" width="1" height="1" fill="#000" fill-opacity="0.10"/><rect x="91.9" y="283.0" width="1" height="1" fill="#000" fill-opacity="0.23"/><rect x="80.7" y="302.9" width="1" height="1" fill="#000" fill-opacity="0.15"/><rect x="92.3" y="307.0" width="1" height="1" fill="#000" fill-opacity="0.24"/><rect x="78.7" y="303.6" width="1" height="1" fill="#000" fill-opacity="0.22"/><rect x="91.5" y="284.7" width="1" height="1" fill="#000" fill-opacity="0.05"/><rect x="96.4" y="301.7" width="1" height="1" fill="#000" fill-opacity="0.08"/><rect x="95.2" y="304.1" width="1" height="1" fill="#000" fill-opacity="0.21"/><rect x="89.5" y="283.3" width="1" height="1" fill="#000" fill-opacity="0.27"/><rect x="85.1" y="290.1" width="1" height="1" fill="#000" fill-opacity="0.05"/><rect x="100.7" y="281.1" width="1" height="1" fill="#000" fill-opacity="0.16"/><rect x="90.0" y="289.1" width="1" height="1" fill="#000" fill-opacity="0.08"/><rect x="88.1" y="280.1" width="1" height="1" fill="#000" fill-opacity="0.05"/><rect x="93.2" y="287.4" width="1" height="1" fill="#000" fill-opacity="0.25"/><rect x="91.1" y="289.5" width="1" height="1" fill="#000" fill-opacity="0.16"/><rect x="86.7" y="281.3" width="1" height="1" fill="#000" fill-opacity="0.07"/><rect x="90.5" y="297.2" width="1" height="1" fill="#000" fill-opacity="0.28"/><rect x="84.8" y="285.3" width="1" height="1" fill="#000" fill-opacity="0.19"/><rect x="90.5" y="288.7" width="1" height="1" fill="#000" fill-opacity="0.24"/><rect x="94.7" y="302.2" width="1" height="1" fill="#000" fill-opacity="0.11"/><rect x="88.4" y="295.9" width="1" height="1" fill="#000" fill-opacity="0.06"/><rect x="89.9" y="277.6" width="1" height="1" fill="#000" fill-opacity="0.23"/><rect x="88.6" y="296.7" width="1" height="1" fill="#000" fill-opacity="0.07"/><rect x="91.1" y="279.0" width="1" height="1" fill="#000" fill-opacity="0.06"/><rect x="93.1" y="280.6" width="1" height="1" fill="#000" fill-opacity="0.08"/><rect x="95.4" y="286.2" width="1" height="1" fill="#000" fill-opacity="0.23"/><rect x="89.2" y="293.0" width="1" height="1" fill="#000" fill-opacity="0.08"/><rect x="94.8" y="275.7" width="1" height="1" fill="#000" fill-opacity="0.13"/><rect x="87.6" y="291.1" width="1" height="1" fill="#000" fill-opacity="0.27"/><rect x="93.8" y="279.1" width="1" height="1" fill="#000" fill-opacity="0.25"/><rect x="91.7" y="276.6" width="1" height="1" fill="#000" fill-opacity="0.09"/><rect x="87.2" y="305.8" width="1" height="1" fill="#000" fill-opacity="0.25"/><rect x="88.1" y="304.5" width="1" height="1" fill="#000" fill-opacity="0.07"/><rect x="85.6" y="299.4" width="1" height="1" fill="#000" fill-opacity="0.27"/><rect x="90.4" y="301.7" width="1" height="1" fill="#000" fill-opacity="0.08"/><rect x="95.1" y="290.8" width="1" height="1" fill="#000" fill-opacity="0.14"/><rect x="87.5" y="286.1" width="1" height="1" fill="#000" fill-opacity="0.06"/><rect x="90.7" y="280.9" width="1" height="1" fill="#000" fill-opacity="0.08"/><rect x="79.1" y="301.6" width="1" height="1" fill="#000" fill-opacity="0.11"/><rect x="83.6" y="299.5" width="1" height="1" fill="#000" fill-opacity="0.10"/><rect x="93.0" y="295.1" width="1" height="1" fill="#000" fill-opacity="0.16"/><rect x="85.4" y="299.7" width="1" height="1" fill="#000" fill-opacity="0.10"/><rect x="91.4" y="295.3" width="1" height="1" fill="#000" fill-opacity="0.24"/><rect x="79.3" y="302.6" width="1" height="1" fill="#000" fill-opacity="0.28"/><rect x="85.9" y="300.1" width="1" height="1" fill="#000" fill-opacity="0.06"/><rect x="92.7" y="293.1" width="1" height="1" fill="#000" fill-opacity="0.29"/><rect x="91.6" y="305.2" width="1" height="1" fill="#000" fill-opacity="0.08"/><rect x="88.3" y="292.2" width="1" height="1" fill="#000" fill-opacity="0.06"/><rect x="88.4" y="299.1" width="1" height="1" fill="#000" fill-opacity="0.22"/><rect x="84.5" y="300.7" width="1" height="1" fill="#000" fill-opacity="0.22"/><rect x="86.7" y="285.6" width="1" height="1" fill="#000" fill-opacity="0.08"/><rect x="85.1" y="305.6" width="1" height="1" fill="#000" fill-opacity="0.15"/><rect x="89.3" y="298.8" width="1" height="1" fill="#000" fill-opacity="0.06"/><rect x="86.5" y="299.1" width="1" height="1" fill="#000" fill-opacity="0.16"/><rect x="88.3" y="284.9" width="1" height="1" fill="#000" fill-opacity="0.06"/><rect x="87.7" y="287.7" width="1" height="1" fill="#000" fill-opacity="0.06"/><rect x="85.3" y="283.1" width="1" height="1" fill="#000" fill-opacity="0.13"/><rect x="83.0" y="295.0" width="1" height="1" fill="#000" fill-opacity="0.18"/><rect x="90.6" y="305.5" width="1" height="1" fill="#000" fill-opacity="0.20"/><rect x="82.5" y="306.3" width="1" height="1" fill="#000" fill-opacity="0.09"/><rect x="85.5" y="304.4" width="1" height="1" fill="#000" fill-opacity="0.28"/><rect x="92.0" y="294.7" width="1" height="1" fill="#000" fill-opacity="0.16"/><rect x="87.3" y="296.3" width="1" height="1" fill="#000" fill-opacity="0.20"/><rect x="89.6" y="294.1" width="1" height="1" fill="#000" fill-opacity="0.07"/><rect x="97.0" y="284.3" width="1" height="1" fill="#000" fill-opacity="0.15"/><rect x="91.4" y="281.1" width="1" height="1" fill="#000" fill-opacity="0.14"/><rect x="84.4" y="304.9" width="1" height="1" fill="#000" fill-opacity="0.16"/><rect x="87.4" y="307.4" width="1" height="1" fill="#000" fill-opacity="0.20"/><rect x="87.6" y="282.7" width="1" height="1" fill="#000" fill-opacity="0.19"/><rect x="87.1" y="297.2" width="1" height="1" fill="#000" fill-opacity="0.30"/><rect x="85.9" y="278.4" width="1" height="1" fill="#000" fill-opacity="0.08"/><rect x="93.3" y="277.4" width="1" height="1" fill="#000" fill-opacity="0.19"/><rect x="84.4" y="307.5" width="1" height="1" fill="#000" fill-opacity="0.19"/><rect x="84.1" y="305.3" width="1" height="1" fill="#000" fill-opacity="0.10"/><rect x="87.9" y="277.0" width="1" height="1" fill="#000" fill-opacity="0.19"/><rect x="85.1" y="305.3" width="1" height="1" fill="#000" fill-opacity="0.06"/><rect x="85.8" y="296.9" width="1" height="1" fill="#000" fill-opacity="0.16"/><rect x="91.0" y="306.0" width="1" height="1" fill="#000" fill-opacity="0.09"/><rect x="90.4" y="282.0" width="1" height="1" fill="#000" fill-opacity="0.05"/><rect x="84.8" y="287.8" width="1" height="1" fill="#000" fill-opacity="0.06"/><rect x="87.4" y="302.9" width="1" height="1" fill="#000" fill-opacity="0.10"/><rect x="100.0" y="299.8" width="1" height="1" fill="#000" fill-opacity="0.06"/><rect x="89.4" y="296.4" width="1" height="1" fill="#000" fill-opacity="0.12"/><rect x="83.5" y="305.3" width="1" height="1" fill="#000" fill-opacity="0.07"/><rect x="91.4" y="305.4" width="1" height="1" fill="#000" fill-opacity="0.13"/><rect x="83.2" y="291.0" width="1" height="1" fill="#000" fill-opacity="0.11"/><rect x="90.3" y="286.8" width="1" height="1" fill="#000" fill-opacity="0.21"/><rect x="91.8" y="298.8" width="1" height="1" fill="#000" fill-opacity="0.31"/><rect x="93.1" y="294.8" width="1" height="1" fill="#000" fill-opacity="0.26"/><rect x="87.5" y="303.7" width="1" height="1" fill="#000" fill-opacity="0.13"/><rect x="89.6" y="291.6" width="1" height="1" fill="#000" fill-opacity="0.21"/><rect x="86.7" y="306.1" width="1" height="1" fill="#000" fill-opacity="0.20"/><rect x="90.7" y="277.0" width="1" height="1" fill="#000" fill-opacity="0.09"/><rect x="88.2" y="294.6" width="1" height="1" fill="#000" fill-opacity="0.27"/><rect x="88.7" y="295.9" width="1" height="1" fill="#000" fill-opacity="0.21"/><rect x="96.2" y="275.2" width="1" height="1" fill="#000" fill-opacity="0.18"/><rect x="91.8" y="283.8" width="1" height="1" fill="#000" fill-opacity="0.05"/><rect x="89.1" y="281.7" width="1" height="1" fill="#000" fill-opacity="0.18"/><rect x="91.7" y="279.8" width="1" height="1" fill="#000" fill-opacity="0.09"/><rect x="89.3" y="280.6" width="1" height="1" fill="#000" fill-opacity="0.16"/><rect x="90.8" y="283.1" width="1" height="1" fill="#000" fill-opacity="0.08"/><rect x="86.8" y="306.2" width="1" height="1" fill="#000" fill-opacity="0.08"/><rect x="90.7" y="297.4" width="1" height="1" fill="#000" fill-opacity="0.14"/><rect x="87.2" y="296.1" width="1" height="1" fill="#000" fill-opacity="0.29"/><rect x="88.5" y="287.2" width="1" height="1" fill="#000" fill-opacity="0.09"/><rect x="88.3" y="305.1" width="1" height="1" fill="#000" fill-opacity="0.31"/><rect x="88.4" y="300.3" width="1" height="1" fill="#000" fill-opacity="0.07"/><rect x="90.2" y="290.2" width="1" height="1" fill="#000" fill-opacity="0.14"/><rect x="88.9" y="290.7" width="1" height="1" fill="#000" fill-opacity="0.17"/><rect x="87.0" y="290.5" width="1" height="1" fill="#000" fill-opacity="0.30"/><rect x="89.0" y="296.5" width="1" height="1" fill="#000" fill-opacity="0.21"/><rect x="92.7" y="282.3" width="1" height="1" fill="#000" fill-opacity="0.09"/><rect x="93.4" y="281.6" width="1" height="1" fill="#000" fill-opacity="0.06"/><rect x="89.8" y="277.6" width="1" height="1" fill="#000" fill-opacity="0.08"/><rect x="88.7" y="274.9" width="1" height="1" fill="#000" fill-opacity="0.13"/><rect x="90.2" y="306.2" width="1" height="1" fill="#000" fill-opacity="0.11"/><rect x="85.1" y="305.9" width="1" height="1" fill="#000" fill-opacity="0.17"/><rect x="89.2" y="292.3" width="1" height="1" fill="#000" fill-opacity="0.28"/><rect x="86.3" y="281.8" width="1" height="1" fill="#000" fill-opacity="0.12"/><rect x="86.7" y="282.1" width="1" height="1" fill="#000" fill-opacity="0.18"/><rect x="93.9" y="281.4" width="1" height="1" fill="#000" fill-opacity="0.27"/><rect x="82.4" y="307.3" width="1" height="1" fill="#000" fill-opacity="0.28"/><rect x="86.1" y="294.1" width="1" height="1" fill="#000" fill-opacity="0.10"/><rect x="89.1" y="291.6" width="1" height="1" fill="#000" fill-opacity="0.11"/><rect x="85.6" y="307.4" width="1" height="1" fill="#000" fill-opacity="0.31"/><rect x="89.3" y="305.8" width="1" height="1" fill="#000" fill-opacity="0.21"/><rect x="95.6" y="284.0" width="1" height="1" fill="#000" fill-opacity="0.21"/><rect x="89.4" y="289.4" width="1" height="1" fill="#000" fill-opacity="0.27"/><rect x="82.4" y="280.8" width="1" height="1" fill="#000" fill-opacity="0.16"/><rect x="88.1" y="296.7" width="1" height="1" fill="#000" fill-opacity="0.09"/><rect x="86.6" y="289.2" width="1" height="1" fill="#000" fill-opacity="0.13"/><rect x="87.4" y="296.4" width="1" height="1" fill="#000" fill-opacity="0.26"/><rect x="91.8" y="305.1" width="1" height="1" fill="#000" fill-opacity="0.15"/><rect x="89.3" y="307.1" width="1" height="1" fill="#000" fill-opacity="0.13"/><rect x="89.9" y="304.9" width="1" height="1" fill="#000" fill-opacity="0.05"/><rect x="94.3" y="302.9" width="1" height="1" fill="#000" fill-opacity="0.14"/><rect x="91.3" y="281.7" width="1" height="1" fill="#000" fill-opacity="0.14"/><rect x="86.7" y="282.2" width="1" height="1" fill="#000" fill-opacity="0.15"/><rect x="88.8" y="283.2" width="1" height="1" fill="#000" fill-opacity="0.28"/><rect x="88.4" y="302.7" width="1" height="1" fill="#000" fill-opacity="0.16"/><rect x="86.5" y="287.3" width="1" height="1" fill="#000" fill-opacity="0.05"/><rect x="88.7" y="295.7" width="1" height="1" fill="#000" fill-opacity="0.06"/><rect x="87.8" y="292.2" width="1" height="1" fill="#000" fill-opacity="0.11"/><rect x="89.1" y="295.5" width="1" height="1" fill="#000" fill-opacity="0.09"/><rect x="90.9" y="276.5" width="1" height="1" fill="#000" fill-opacity="0.05"/><rect x="88.8" y="306.4" width="1" height="1" fill="#000" fill-opacity="0.12"/><rect x="77.8" y="307.1" width="1" height="1" fill="#000" fill-opacity="0.08"/><rect x="92.3" y="286.2" width="1" height="1" fill="#000" fill-opacity="0.15"/><rect x="86.8" y="303.8" width="1" height="1" fill="#000" fill-opacity="0.13"/><rect x="87.6" y="305.6" width="1" height="1" fill="#000" fill-opacity="0.06"/><rect x="87.0" y="295.1" width="1" height="1" fill="#000" fill-opacity="0.07"/><rect x="89.8" y="300.7" width="1" height="1" fill="#000" fill-opacity="0.30"/><rect x="91.1" y="276.0" width="1" height="1" fill="#000" fill-opacity="0.14"/><rect x="91.5" y="279.1" width="1" height="1" fill="#000" fill-opacity="0.08"/><rect x="89.4" y="274.9" width="1" height="1" fill="#000" fill-opacity="0.06"/><rect x="89.5" y="300.7" width="1" height="1" fill="#000" fill-opacity="0.15"/><rect x="83.2" y="300.5" width="1" height="1" fill="#000" fill-opacity="0.14"/><rect x="91.7" y="306.1" width="1" height="1" fill="#000" fill-opacity="0.06"/><rect x="92.2" y="280.2" width="1" height="1" fill="#000" fill-opacity="0.20"/><rect x="93.9" y="275.5" width="1" height="1" fill="#000" fill-opacity="0.15"/><rect x="85.7" y="284.5" width="1" height="1" fill="#000" fill-opacity="0.13"/><rect x="82.8" y="302.6" width="1" height="1" fill="#000" fill-opacity="0.15"/><rect x="92.2" y="289.2" width="1" height="1" fill="#000" fill-opacity="0.13"/><rect x="92.6" y="297.6" width="1" height="1" fill="#000" fill-opacity="0.14"/><rect x="80.8" y="298.1" width="1" height="1" fill="#000" fill-opacity="0.10"/><rect x="97.0" y="294.5" width="1" height="1" fill="#000" fill-opacity="0.05"/><rect x="89.7" y="300.4" width="1" height="1" fill="#000" fill-opacity="0.20"/><rect x="87.7" y="278.0" width="1" height="1" fill="#000" fill-opacity="0.20"/><rect x="92.5" y="276.6" width="1" height="1" fill="#000" fill-opacity="0.18"/><rect x="84.8" y="307.2" width="1" height="1" fill="#000" fill-opacity="0.18"/><rect x="90.0" y="278.5" width="1" height="1" fill="#000" fill-opacity="0.16"/><rect x="83.5" y="283.5" width="1" height="1" fill="#000" fill-opacity="0.08"/><rect x="89.7" y="300.7" width="1" height="1" fill="#000" fill-opacity="0.23"/><rect x="88.4" y="305.6" width="1" height="1" fill="#000" fill-opacity="0.23"/><rect x="93.8" y="301.2" width="1" height="1" fill="#000" fill-opacity="0.05"/><rect x="81.4" y="290.9" width="1" height="1" fill="#000" fill-opacity="0.19"/><rect x="93.1" y="294.9" width="1" height="1" fill="#000" fill-opacity="0.20"/><rect x="89.6" y="292.9" width="1" height="1" fill="#000" fill-opacity="0.07"/><rect x="91.3" y="292.1" width="1" height="1" fill="#000" fill-opacity="0.10"/><rect x="89.2" y="294.3" width="1" height="1" fill="#000" fill-opacity="0.11"/><rect x="89.6" y="301.4" width="1" height="1" fill="#000" fill-opacity="0.07"/><rect x="89.5" y="284.6" width="1" height="1" fill="#000" fill-opacity="0.10"/><rect x="92.8" y="280.1" width="1" height="1" fill="#000" fill-opacity="0.18"/><rect x="84.6" y="297.6" width="1" height="1" fill="#000" fill-opacity="0.22"/><rect x="89.4" y="275.7" width="1" height="1" fill="#000" fill-opacity="0.28"/><rect x="84.1" y="307.4" width="1" height="1" fill="#000" fill-opacity="0.22"/><rect x="91.8" y="276.5" width="1" height="1" fill="#000" fill-opacity="0.06"/><rect x="93.9" y="297.1" width="1" height="1" fill="#000" fill-opacity="0.29"/><rect x="88.1" y="305.9" width="1" height="1" fill="#000" fill-opacity="0.07"/><rect x="89.9" y="302.4" width="1" height="1" fill="#000" fill-opacity="0.29"/><rect x="83.0" y="289.7" width="1" height="1" fill="#000" fill-opacity="0.19"/><rect x="91.0" y="275.5" width="1" height="1" fill="#000" fill-opacity="0.10"/><rect x="91.7" y="292.5" width="1" height="1" fill="#000" fill-opacity="0.28"/><rect x="86.5" y="297.7" width="1" height="1" fill="#000" fill-opacity="0.13"/><rect x="91.1" y="297.0" width="1" height="1" fill="#000" fill-opacity="0.20"/><rect x="92.7" y="280.6" width="1" height="1" fill="#000" fill-opacity="0.16"/><rect x="81.8" y="306.5" width="1" height="1" fill="#000" fill-opacity="0.18"/><rect x="84.8" y="301.4" width="1" height="1" fill="#000" fill-opacity="0.05"/><rect x="88.9" y="292.7" width="1" height="1" fill="#000" fill-opacity="0.26"/><rect x="95.1" y="306.4" width="1" height="1" fill="#000" fill-opacity="0.22"/><rect x="84.9" y="295.3" width="1" height="1" fill="#000" fill-opacity="0.26"/><rect x="89.2" y="305.8" width="1" height="1" fill="#000" fill-opacity="0.29"/><rect x="83.5" y="277.8" width="1" height="1" fill="#000" fill-opacity="0.24"/><rect x="93.6" y="287.0" width="1" height="1" fill="#000" fill-opacity="0.15"/><rect x="84.7" y="285.8" width="1" height="1" fill="#000" fill-opacity="0.08"/><rect x="85.4" y="296.2" width="1" height="1" fill="#000" fill-opacity="0.09"/><rect x="85.4" y="307.5" width="1" height="1" fill="#000" fill-opacity="0.08"/><rect x="86.3" y="282.0" width="1" height="1" fill="#000" fill-opacity="0.21"/><rect x="87.8" y="283.9" width="1" height="1" fill="#000" fill-opacity="0.19"/><rect x="86.0" y="301.5" width="1" height="1" fill="#000" fill-opacity="0.15"/><rect x="84.1" y="282.0" width="1" height="1" fill="#000" fill-opacity="0.24"/><rect x="88.3" y="294.9" width="1" height="1" fill="#000" fill-opacity="0.11"/><rect x="86.2" y="300.9" width="1" height="1" fill="#000" fill-opacity="0.25"/><rect x="88.1" y="301.8" width="1" height="1" fill="#000" fill-opacity="0.06"/><rect x="85.2" y="304.7" width="1" height="1" fill="#000" fill-opacity="0.18"/><rect x="91.0" y="299.0" width="1" height="1" fill="#000" fill-opacity="0.08"/><rect x="84.3" y="294.5" width="1" height="1" fill="#000" fill-opacity="0.11"/><rect x="88.9" y="292.0" width="1" height="1" fill="#000" fill-opacity="0.30"/><rect x="87.0" y="298.4" width="1" height="1" fill="#000" fill-opacity="0.21"/><rect x="84.5" y="297.1" width="1" height="1" fill="#000" fill-opacity="0.24"/><rect x="90.3" y="274.9" width="1" height="1" fill="#000" fill-opacity="0.05"/><rect x="84.3" y="286.9" width="1" height="1" fill="#000" fill-opacity="0.20"/><rect x="88.4" y="304.2" width="1" height="1" fill="#000" fill-opacity="0.28"/><rect x="81.4" y="296.6" width="1" height="1" fill="#000" fill-opacity="0.07"/><rect x="92.5" y="303.0" width="1" height="1" fill="#000" fill-opacity="0.30"/><rect x="88.7" y="298.0" width="1" height="1" fill="#000" fill-opacity="0.15"/><rect x="87.8" y="304.9" width="1" height="1" fill="#000" fill-opacity="0.09"/><rect x="87.5" y="282.0" width="1" height="1" fill="#000" fill-opacity="0.20"/><rect x="88.8" y="291.0" width="1" height="1" fill="#000" fill-opacity="0.21"/><rect x="87.3" y="291.0" width="1" height="1" fill="#000" fill-opacity="0.18"/><rect x="86.4" y="299.4" width="1" height="1" fill="#000" fill-opacity="0.13"/><rect x="89.3" y="294.5" width="1" height="1" fill="#000" fill-opacity="0.16"/><rect x="85.3" y="293.9" width="1" height="1" fill="#000" fill-opacity="0.31"/><rect x="84.1" y="304.2" width="1" height="1" fill="#000" fill-opacity="0.19"/><rect x="90.6" y="284.7" width="1" height="1" fill="#000" fill-opacity="0.08"/><rect x="87.9" y="286.2" width="1" height="1" fill="#000" fill-opacity="0.18"/><rect x="89.8" y="299.5" width="1" height="1" fill="#000" fill-opacity="0.08"/><rect x="85.0" y="294.7" width="1" height="1" fill="#000" fill-opacity="0.08"/><rect x="95.3" y="284.6" width="1" height="1" fill="#000" fill-opacity="0.16"/><rect x="85.8" y="305.7" width="1" height="1" fill="#000" fill-opacity="0.29"/><rect x="93.2" y="279.7" width="1" height="1" fill="#000" fill-opacity="0.06"/><rect x="82.5" y="299.7" width="1" height="1" fill="#000" fill-opacity="0.14"/><rect x="91.2" y="290.0" width="1" height="1" fill="#000" fill-opacity="0.14"/><rect x="96.8" y="285.4" width="1" height="1" fill="#000" fill-opacity="0.27"/><rect x="89.7" y="301.5" width="1" height="1" fill="#000" fill-opacity="0.06"/><rect x="92.4" y="307.1" width="1" height="1" fill="#000" fill-opacity="0.05"/><rect x="92.1" y="283.2" width="1" height="1" fill="#000" fill-opacity="0.13"/><rect x="86.3" y="291.1" width="1" height="1" fill="#000" fill-opacity="0.09"/><rect x="85.8" y="299.0" width="1" height="1" fill="#000" fill-opacity="0.20"/><rect x="91.0" y="291.7" width="1" height="1" fill="#000" fill-opacity="0.06"/><rect x="87.1" y="305.7" width="1" height="1" fill="#000" fill-opacity="0.26"/><rect x="86.1" y="285.7" width="1" height="1" fill="#000" fill-opacity="0.17"/><rect x="84.3" y="301.5" width="1" height="1" fill="#000" fill-opacity="0.22"/><rect x="84.9" y="301.5" width="1" height="1" fill="#000" fill-opacity="0.30"/><rect x="94.1" y="276.6" width="1" height="1" fill="#000" fill-opacity="0.07"/><rect x="88.2" y="295.4" width="1" height="1" fill="#000" fill-opacity="0.22"/><rect x="92.1" y="288.1" width="1" height="1" fill="#000" fill-opacity="0.30"/><rect x="89.3" y="292.4" width="1" height="1" fill="#000" fill-opacity="0.05"/><rect x="90.6" y="291.1" width="1" height="1" fill="#000" fill-opacity="0.06"/><rect x="82.6" y="286.0" width="1" height="1" fill="#000" fill-opacity="0.06"/><rect x="88.9" y="288.6" width="1" height="1" fill="#000" fill-opacity="0.07"/><rect x="88.3" y="296.4" width="1" height="1" fill="#000" fill-opacity="0.20"/><rect x="91.0" y="275.0" width="1" height="1" fill="#000" fill-opacity="0.20"/><rect x="91.7" y="295.2" width="1" height="1" fill="#000" fill-opacity="0.17"/><rect x="90.7" y="280.5" width="1" height="1" fill="#000" fill-opacity="0.11"/><rect x="86.2" y="286.7" width="1" height="1" fill="#000" fill-opacity="0.17"/><rect x="84.1" y="287.7" width="1" height="1" fill="#000" fill-opacity="0.08"/><rect x="90.9" y="282.1" width="1" height="1" fill="#000" fill-opacity="0.12"/><rect x="95.4" y="296.3" width="1" height="1" fill="#000" fill-opacity="0.16"/><rect x="91.6" y="288.8" width="1" height="1" fill="#000" fill-opacity="0.10"/><rect x="82.1" y="306.5" width="1" height="1" fill="#000" fill-opacity="0.07"/><rect x="89.7" y="281.9" width="1" height="1" fill="#000" fill-opacity="0.05"/><rect x="91.9" y="280.3" width="1" height="1" fill="#000" fill-opacity="0.29"/><rect x="90.4" y="277.0" width="1" height="1" fill="#000" fill-opacity="0.10"/><rect x="89.1" y="295.9" width="1" height="1" fill="#000" fill-opacity="0.24"/><rect x="85.6" y="307.4" width="1" height="1" fill="#000" fill-opacity="0.18"/><rect x="80.7" y="306.8" width="1" height="1" fill="#000" fill-opacity="0.15"/><rect x="90.1" y="298.2" width="1" height="1" fill="#000" fill-opacity="0.09"/><rect x="86.6" y="305.8" width="1" height="1" fill="#000" fill-opacity="0.08"/><rect x="90.2" y="305.3" width="1" height="1" fill="#000" fill-opacity="0.07"/><rect x="93.4" y="296.8" width="1" height="1" fill="#000" fill-opacity="0.09"/><rect x="93.4" y="283.4" width="1" height="1" fill="#000" fill-opacity="0.16"/><rect x="89.7" y="285.7" width="1" height="1" fill="#000" fill-opacity="0.20"/><rect x="83.1" y="306.9" width="1" height="1" fill="#000" fill-opacity="0.25"/><rect x="92.7" y="285.6" width="1" height="1" fill="#000" fill-opacity="0.07"/><rect x="88.6" y="285.2" width="1" height="1" fill="#000" fill-opacity="0.07"/><rect x="87.8" y="279.5" width="1" height="1" fill="#000" fill-opacity="0.06"/><rect x="94.9" y="300.5" width="1" height="1" fill="#000" fill-opacity="0.24"/><rect x="86.6" y="306.2" width="1" height="1" fill="#000" fill-opacity="0.16"/><rect x="83.4" y="303.7" width="1" height="1" fill="#000" fill-opacity="0.08"/><rect x="90.6" y="279.5" width="1" height="1" fill="#000" fill-opacity="0.06"/><rect x="85.2" y="305.5" width="1" height="1" fill="#000" fill-opacity="0.07"/><rect x="84.5" y="300.7" width="1" height="1" fill="#000" fill-opacity="0.29"/><rect x="86.6" y="306.1" width="1" height="1" fill="#000" fill-opacity="0.14"/><rect x="90.5" y="289.1" width="1" height="1" fill="#000" fill-opacity="0.18"/><rect x="82.8" y="304.4" width="1" height="1" fill="#000" fill-opacity="0.09"/><rect x="94.6" y="280.3" width="1" height="1" fill="#000" fill-opacity="0.28"/><rect x="91.6" y="277.7" width="1" height="1" fill="#000" fill-opacity="0.07"/><rect x="90.0" y="274.6" width="1" height="1" fill="#000" fill-opacity="0.24"/><rect x="89.4" y="292.5" width="1" height="1" fill="#000" fill-opacity="0.30"/><rect x="89.3" y="305.1" width="1" height="1" fill="#000" fill-opacity="0.05"/><rect x="84.4" y="304.2" width="1" height="1" fill="#000" fill-opacity="0.23"/><rect x="90.4" y="278.0" width="1" height="1" fill="#000" fill-opacity="0.12"/><rect x="82.2" y="300.0" width="1" height="1" fill="#000" fill-opacity="0.11"/><rect x="89.2" y="306.3" width="1" height="1" fill="#000" fill-opacity="0.28"/><rect x="92.8" y="278.1" width="1" height="1" fill="#000" fill-opacity="0.09"/><rect x="93.9" y="276.5" width="1" height="1" fill="#000" fill-opacity="0.06"/><rect x="93.4" y="291.0" width="1" height="1" fill="#000" fill-opacity="0.30"/><rect x="88.1" y="285.0" width="1" height="1" fill="#000" fill-opacity="0.25"/><rect x="83.9" y="293.8" width="1" height="1" fill="#000" fill-opacity="0.27"/><rect x="89.4" y="285.5" width="1" height="1" fill="#000" fill-opacity="0.23"/><rect x="89.1" y="276.5" width="1" height="1" fill="#000" fill-opacity="0.05"/><rect x="86.2" y="295.5" width="1" height="1" fill="#000" fill-opacity="0.24"/><rect x="81.3" y="299.6" width="1" height="1" fill="#000" fill-opacity="0.13"/><rect x="91.8" y="284.6" width="1" height="1" fill="#000" fill-opacity="0.05"/><rect x="90.4" y="280.3" width="1" height="1" fill="#000" fill-opacity="0.05"/><rect x="86.8" y="306.0" width="1" height="1" fill="#000" fill-opacity="0.28"/><rect x="87.5" y="307.1" width="1" height="1" fill="#000" fill-opacity="0.06"/><rect x="84.0" y="293.7" width="1" height="1" fill="#000" fill-opacity="0.26"/><rect x="91.5" y="307.2" width="1" height="1" fill="#000" fill-opacity="0.29"/><rect x="85.0" y="306.4" width="1" height="1" fill="#000" fill-opacity="0.07"/><rect x="89.5" y="306.1" width="1" height="1" fill="#000" fill-opacity="0.24"/><rect x="83.5" y="299.4" width="1" height="1" fill="#000" fill-opacity="0.11"/><rect x="94.8" y="304.4" width="1" height="1" fill="#000" fill-opacity="0.06"/><rect x="93.6" y="298.3" width="1" height="1" fill="#000" fill-opacity="0.11"/><rect x="91.7" y="287.1" width="1" height="1" fill="#000" fill-opacity="0.13"/><rect x="94.2" y="306.5" width="1" height="1" fill="#000" fill-opacity="0.17"/><rect x="87.0" y="304.7" width="1" height="1" fill="#000" fill-opacity="0.19"/><rect x="88.7" y="292.5" width="1" height="1" fill="#000" fill-opacity="0.19"/><rect x="90.2" y="276.6" width="1" height="1" fill="#000" fill-opacity="0.24"/><rect x="91.3" y="287.9" width="1" height="1" fill="#000" fill-opacity="0.20"/><rect x="93.2" y="301.8" width="1" height="1" fill="#000" fill-opacity="0.27"/><rect x="92.1" y="300.6" width="1" height="1" fill="#000" fill-opacity="0.27"/><rect x="91.4" y="286.3" width="1" height="1" fill="#000" fill-opacity="0.08"/><rect x="95.5" y="297.0" width="1" height="1" fill="#000" fill-opacity="0.13"/><rect x="83.3" y="294.1" width="1" height="1" fill="#000" fill-opacity="0.09"/><rect x="92.2" y="287.3" width="1" height="1" fill="#000" fill-opacity="0.24"/><rect x="86.7" y="293.7" width="1" height="1" fill="#000" fill-opacity="0.20"/><rect x="88.7" y="285.3" width="1" height="1" fill="#000" fill-opacity="0.30"/><rect x="85.1" y="306.8" width="1" height="1" fill="#000" fill-opacity="0.07"/><rect x="85.1" y="305.4" width="1" height="1" fill="#000" fill-opacity="0.30"/><rect x="83.4" y="303.9" width="1" height="1" fill="#000" fill-opacity="0.06"/><rect x="84.2" y="307.4" width="1" height="1" fill="#000" fill-opacity="0.11"/><rect x="95.3" y="293.0" width="1" height="1" fill="#000" fill-opacity="0.09"/><rect x="87.9" y="300.7" width="1" height="1" fill="#000" fill-opacity="0.16"/><rect x="91.0" y="276.9" width="1" height="1" fill="#000" fill-opacity="0.10"/><rect x="86.9" y="294.0" width="1" height="1" fill="#000" fill-opacity="0.07"/><rect x="88.6" y="280.6" width="1" height="1" fill="#000" fill-opacity="0.05"/><rect x="86.2" y="302.2" width="1" height="1" fill="#000" fill-opacity="0.05"/><rect x="90.9" y="279.7" width="1" height="1" fill="#000" fill-opacity="0.24"/><rect x="95.6" y="292.7" width="1" height="1" fill="#000" fill-opacity="0.21"/><rect x="86.2" y="298.1" width="1" height="1" fill="#000" fill-opacity="0.21"/><rect x="86.7" y="298.8" width="1" height="1" fill="#000" fill-opacity="0.05"/><rect x="92.1" y="282.7" width="1" height="1" fill="#000" fill-opacity="0.23"/><rect x="86.4" y="280.9" width="1" height="1" fill="#000" fill-opacity="0.17"/><rect x="91.0" y="301.1" width="1" height="1" fill="#000" fill-opacity="0.13"/><rect x="90.2" y="305.4" width="1" height="1" fill="#000" fill-opacity="0.05"/><rect x="85.1" y="286.2" width="1" height="1" fill="#000" fill-opacity="0.20"/><rect x="100.1" y="306.6" width="1" height="1" fill="#000" fill-opacity="0.14"/><rect x="87.1" y="298.0" width="1" height="1" fill="#000" fill-opacity="0.05"/><rect x="89.9" y="283.9" width="1" height="1" fill="#000" fill-opacity="0.05"/><rect x="85.8" y="296.9" width="1" height="1" fill="#000" fill-opacity="0.23"/><rect x="83.1" y="299.5" width="1" height="1" fill="#000" fill-opacity="0.07"/><rect x="86.2" y="290.8" width="1" height="1" fill="#000" fill-opacity="0.06"/><rect x="83.6" y="282.5" width="1" height="1" fill="#000" fill-opacity="0.12"/><rect x="89.6" y="297.0" width="1" height="1" fill="#000" fill-opacity="0.13"/><rect x="89.3" y="295.6" width="1" height="1" fill="#000" fill-opacity="0.05"/><rect x="86.7" y="288.3" width="1" height="1" fill="#000" fill-opacity="0.07"/><rect x="84.9" y="304.4" width="1" height="1" fill="#000" fill-opacity="0.08"/><rect x="93.9" y="278.1" width="1" height="1" fill="#000" fill-opacity="0.09"/><rect x="90.9" y="278.0" width="1" height="1" fill="#000" fill-opacity="0.25"/><rect x="89.1" y="297.0" width="1" height="1" fill="#000" fill-opacity="0.05"/><rect x="90.2" y="289.4" width="1" height="1" fill="#000" fill-opacity="0.20"/><rect x="88.6" y="274.8" width="1" height="1" fill="#000" fill-opacity="0.09"/><rect x="92.4" y="289.3" width="1" height="1" fill="#000" fill-opacity="0.25"/><rect x="87.0" y="305.8" width="1" height="1" fill="#000" fill-opacity="0.19"/><rect x="89.0" y="292.5" width="1" height="1" fill="#000" fill-opacity="0.20"/><rect x="82.1" y="305.5" width="1" height="1" fill="#000" fill-opacity="0.26"/><rect x="86.7" y="292.6" width="1" height="1" fill="#000" fill-opacity="0.14"/><rect x="85.9" y="280.0" width="1" height="1" fill="#000" fill-opacity="0.21"/><rect x="93.3" y="301.5" width="1" height="1" fill="#000" fill-opacity="0.27"/><rect x="91.6" y="299.1" width="1" height="1" fill="#000" fill-opacity="0.10"/><rect x="94.3" y="287.3" width="1" height="1" fill="#000" fill-opacity="0.06"/><rect x="87.3" y="293.7" width="1" height="1" fill="#000" fill-opacity="0.14"/><rect x="84.3" y="303.1" width="1" height="1" fill="#000" fill-opacity="0.12"/><rect x="85.8" y="289.7" width="1" height="1" fill="#000" fill-opacity="0.06"/><rect x="89.4" y="278.2" width="1" height="1" fill="#000" fill-opacity="0.27"/><rect x="91.9" y="290.8" width="1" height="1" fill="#000" fill-opacity="0.31"/><rect x="90.1" y="283.1" width="1" height="1" fill="#000" fill-opacity="0.20"/><rect x="76.1" y="306.5" width="1" height="1" fill="#000" fill-opacity="0.16"/><rect x="78.6" y="294.3" width="1" height="1" fill="#000" fill-opacity="0.30"/><rect x="88.0" y="285.6" width="1" height="1" fill="#000" fill-opacity="0.25"/><rect x="82.4" y="307.5" width="1" height="1" fill="#000" fill-opacity="0.08"/><rect x="92.1" y="277.7" width="1" height="1" fill="#000" fill-opacity="0.05"/><rect x="93.5" y="281.0" width="1" height="1" fill="#000" fill-opacity="0.05"/><rect x="88.4" y="295.9" width="1" height="1" fill="#000" fill-opacity="0.06"/><rect x="89.3" y="276.5" width="1" height="1" fill="#000" fill-opacity="0.21"/><rect x="88.6" y="293.1" width="1" height="1" fill="#000" fill-opacity="0.16"/><rect x="95.9" y="302.7" width="1" height="1" fill="#000" fill-opacity="0.27"/><rect x="89.2" y="281.5" width="1" height="1" fill="#000" fill-opacity="0.29"/><rect x="88.4" y="302.2" width="1" height="1" fill="#000" fill-opacity="0.07"/><rect x="86.6" y="285.9" width="1" height="1" fill="#000" fill-opacity="0.14"/><rect x="83.7" y="301.6" width="1" height="1" fill="#000" fill-opacity="0.17"/><rect x="89.7" y="284.0" width="1" height="1" fill="#000" fill-opacity="0.22"/><rect x="86.1" y="300.7" width="1" height="1" fill="#000" fill-opacity="0.29"/><rect x="93.0" y="275.3" width="1" height="1" fill="#000" fill-opacity="0.08"/><rect x="86.4" y="298.1" width="1" height="1" fill="#000" fill-opacity="0.18"/><rect x="89.5" y="288.1" width="1" height="1" fill="#000" fill-opacity="0.08"/><rect x="83.6" y="300.4" width="1" height="1" fill="#000" fill-opacity="0.06"/><rect x="82.8" y="285.5" width="1" height="1" fill="#000" fill-opacity="0.26"/><rect x="92.6" y="284.8" width="1" height="1" fill="#000" fill-opacity="0.07"/><rect x="91.2" y="275.8" width="1" height="1" fill="#000" fill-opacity="0.13"/><rect x="85.4" y="286.9" width="1" height="1" fill="#000" fill-opacity="0.05"/><rect x="86.0" y="306.4" width="1" height="1" fill="#000" fill-opacity="0.06"/><rect x="93.4" y="280.0" width="1" height="1" fill="#000" fill-opacity="0.06"/><rect x="91.1" y="288.8" width="1" height="1" fill="#000" fill-opacity="0.19"/><rect x="90.1" y="282.5" width="1" height="1" fill="#000" fill-opacity="0.07"/><rect x="82.2" y="295.4" width="1" height="1" fill="#000" fill-opacity="0.30"/><rect x="90.8" y="295.9" width="1" height="1" fill="#000" fill-opacity="0.10"/><rect x="87.7" y="277.7" width="1" height="1" fill="#000" fill-opacity="0.05"/><rect x="90.1" y="288.5" width="1" height="1" fill="#000" fill-opacity="0.05"/><rect x="82.8" y="289.6" width="1" height="1" fill="#000" fill-opacity="0.10"/><rect x="93.4" y="287.8" width="1" height="1" fill="#000" fill-opacity="0.14"/><rect x="89.2" y="301.0" width="1" height="1" fill="#000" fill-opacity="0.09"/><rect x="87.1" y="285.0" width="1" height="1" fill="#000" fill-opacity="0.13"/><rect x="88.0" y="289.2" width="1" height="1" fill="#000" fill-opacity="0.17"/><rect x="98.4" y="287.1" width="1" height="1" fill="#000" fill-opacity="0.06"/><rect x="84.7" y="294.3" width="1" height="1" fill="#000" fill-opacity="0.16"/><rect x="87.1" y="305.0" width="1" height="1" fill="#000" fill-opacity="0.12"/><rect x="90.6" y="299.1" width="1" height="1" fill="#000" fill-opacity="0.06"/><rect x="89.9" y="286.3" width="1" height="1" fill="#000" fill-opacity="0.07"/><rect x="85.2" y="299.5" width="1" height="1" fill="#000" fill-opacity="0.21"/><rect x="84.4" y="305.2" width="1" height="1" fill="#000" fill-opacity="0.08"/><rect x="78.2" y="302.3" width="1" height="1" fill="#000" fill-opacity="0.17"/><rect x="91.0" y="280.8" width="1" height="1" fill="#000" fill-opacity="0.12"/><rect x="89.7" y="296.9" width="1" height="1" fill="#000" fill-opacity="0.06"/><rect x="94.8" y="282.4" width="1" height="1" fill="#000" fill-opacity="0.09"/><rect x="89.7" y="305.4" width="1" height="1" fill="#000" fill-opacity="0.11"/><rect x="85.1" y="297.1" width="1" height="1" fill="#000" fill-opacity="0.13"/><rect x="92.5" y="299.8" width="1" height="1" fill="#000" fill-opacity="0.07"/><rect x="93.3" y="290.1" width="1" height="1" fill="#000" fill-opacity="0.08"/><rect x="84.3" y="287.2" width="1" height="1" fill="#000" fill-opacity="0.10"/><rect x="95.0" y="288.5" width="1" height="1" fill="#000" fill-opacity="0.12"/><rect x="92.4" y="284.5" width="1" height="1" fill="#000" fill-opacity="0.27"/><rect x="92.9" y="305.0" width="1" height="1" fill="#000" fill-opacity="0.08"/><rect x="82.3" y="288.0" width="1" height="1" fill="#000" fill-opacity="0.26"/><rect x="85.1" y="306.9" width="1" height="1" fill="#000" fill-opacity="0.14"/><rect x="84.5" y="303.8" width="1" height="1" fill="#000" fill-opacity="0.12"/><rect x="90.4" y="278.8" width="1" height="1" fill="#000" fill-opacity="0.06"/><rect x="92.3" y="298.0" width="1" height="1" fill="#000" fill-opacity="0.07"/><rect x="84.1" y="298.4" width="1" height="1" fill="#000" fill-opacity="0.18"/><rect x="91.7" y="289.4" width="1" height="1" fill="#000" fill-opacity="0.05"/><rect x="96.3" y="294.0" width="1" height="1" fill="#000" fill-opacity="0.19"/><rect x="89.5" y="286.8" width="1" height="1" fill="#000" fill-opacity="0.10"/><rect x="87.9" y="307.1" width="1" height="1" fill="#000" fill-opacity="0.11"/><rect x="97.5" y="294.3" width="1" height="1" fill="#000" fill-opacity="0.09"/><rect x="85.4" y="307.2" width="1" height="1" fill="#000" fill-opacity="0.24"/><rect x="88.8" y="291.0" width="1" height="1" fill="#000" fill-opacity="0.06"/><rect x="90.0" y="302.6" width="1" height="1" fill="#000" fill-opacity="0.09"/><rect x="89.1" y="297.5" width="1" height="1" fill="#000" fill-opacity="0.12"/><rect x="91.2" y="306.7" width="1" height="1" fill="#000" fill-opacity="0.31"/><rect x="86.0" y="303.5" width="1" height="1" fill="#000" fill-opacity="0.19"/><rect x="86.6" y="280.1" width="1" height="1" fill="#000" fill-opacity="0.09"/><rect x="93.3" y="286.2" width="1" height="1" fill="#000" fill-opacity="0.07"/><rect x="93.0" y="280.7" width="1" height="1" fill="#000" fill-opacity="0.08"/><rect x="88.7" y="285.9" width="1" height="1" fill="#000" fill-opacity="0.10"/><rect x="82.8" y="290.1" width="1" height="1" fill="#000" fill-opacity="0.18"/><rect x="95.0" y="279.7" width="1" height="1" fill="#000" fill-opacity="0.15"/><rect x="91.6" y="291.0" width="1" height="1" fill="#000" fill-opacity="0.22"/><rect x="81.6" y="295.9" width="1" height="1" fill="#000" fill-opacity="0.18"/><rect x="90.6" y="285.0" width="1" height="1" fill="#000" fill-opacity="0.18"/><rect x="89.8" y="301.4" width="1" height="1" fill="#000" fill-opacity="0.21"/><rect x="86.5" y="307.3" width="1" height="1" fill="#000" fill-opacity="0.05"/><rect x="86.3" y="303.9" width="1" height="1" fill="#000" fill-opacity="0.10"/><rect x="80.5" y="305.0" width="1" height="1" fill="#000" fill-opacity="0.18"/><rect x="82.8" y="303.1" width="1" height="1" fill="#000" fill-opacity="0.27"/><rect x="85.1" y="275.5" width="1" height="1" fill="#000" fill-opacity="0.17"/><rect x="93.2" y="307.5" width="1" height="1" fill="#000" fill-opacity="0.05"/><rect x="90.2" y="304.1" width="1" height="1" fill="#000" fill-opacity="0.27"/><rect x="89.7" y="285.1" width="1" height="1" fill="#000" fill-opacity="0.28"/><rect x="89.8" y="288.4" width="1" height="1" fill="#000" fill-opacity="0.05"/><rect x="95.1" y="298.9" width="1" height="1" fill="#000" fill-opacity="0.10"/><rect x="88.7" y="283.3" width="1" height="1" fill="#000" fill-opacity="0.06"/><rect x="88.6" y="303.4" width="1" height="1" fill="#000" fill-opacity="0.12"/><rect x="98.8" y="292.7" width="1" height="1" fill="#000" fill-opacity="0.17"/><rect x="87.9" y="301.3" width="1" height="1" fill="#000" fill-opacity="0.17"/><rect x="92.2" y="274.6" width="1" height="1" fill="#000" fill-opacity="0.08"/><rect x="90.4" y="290.8" width="1" height="1" fill="#000" fill-opacity="0.28"/><rect x="93.5" y="292.2" width="1" height="1" fill="#000" fill-opacity="0.29"/><rect x="93.0" y="287.6" width="1" height="1" fill="#000" fill-opacity="0.07"/><rect x="85.5" y="290.6" width="1" height="1" fill="#000" fill-opacity="0.10"/><rect x="85.7" y="291.8" width="1" height="1" fill="#000" fill-opacity="0.12"/><rect x="93.3" y="284.9" width="1" height="1" fill="#000" fill-opacity="0.28"/><rect x="93.3" y="296.2" width="1" height="1" fill="#000" fill-opacity="0.08"/><rect x="85.3" y="301.6" width="1" height="1" fill="#000" fill-opacity="0.15"/><rect x="92.7" y="303.7" width="1" height="1" fill="#000" fill-opacity="0.13"/><rect x="88.4" y="302.2" width="1" height="1" fill="#000" fill-opacity="0.20"/><rect x="92.2" y="295.5" width="1" height="1" fill="#000" fill-opacity="0.08"/><rect x="89.0" y="307.1" width="1" height="1" fill="#000" fill-opacity="0.18"/><rect x="92.9" y="302.3" width="1" height="1" fill="#000" fill-opacity="0.10"/><rect x="93.5" y="287.4" width="1" height="1" fill="#000" fill-opacity="0.15"/><rect x="91.2" y="300.7" width="1" height="1" fill="#000" fill-opacity="0.16"/><rect x="83.4" y="304.9" width="1" height="1" fill="#000" fill-opacity="0.07"/><rect x="89.1" y="296.4" width="1" height="1" fill="#000" fill-opacity="0.27"/><rect x="84.9" y="281.0" width="1" height="1" fill="#000" fill-opacity="0.21"/><rect x="88.3" y="294.2" width="1" height="1" fill="#000" fill-opacity="0.08"/><rect x="86.4" y="300.5" width="1" height="1" fill="#000" fill-opacity="0.17"/><rect x="89.9" y="293.7" width="1" height="1" fill="#000" fill-opacity="0.19"/>
<path d="M98.7,274.4 L108.3,274.4 L108.3,308.3 L91.6,308.3 L96.4,299.2 Z" stroke="#e03028" stroke-width="1.7" fill="none"/>
<path d="M108.5,274.8 L108.5,262.5 L146.8,262.5" stroke="#e03028" stroke-width="1.7" fill="none"/>
<path d="M144.4,261.8 L149.8,261.8 L147.1,268.4Z" fill="#e03028"/>
<rect x="126" y="267.5" width="43.3" height="46" fill="none" stroke="#e0a0a0" stroke-width="0.9"/>
<rect x="130.0" y="273.4" width="2.6" height="1.2" fill="#777"/>
<rect x="130.0" y="280.4" width="2.6" height="1.2" fill="#777"/>
<rect x="130.0" y="287.4" width="2.6" height="1.2" fill="#777"/>
<rect x="130.0" y="294.4" width="2.6" height="1.2" fill="#777"/>
<rect x="130.0" y="301.4" width="2.6" height="1.2" fill="#777"/>
<line x1="132.00" y1="307.50" x2="166.00" y2="307.50" stroke="#aaa" stroke-width="0.6"/>
<line x1="137.00" y1="307.50" x2="137.00" y2="309.00" stroke="#999" stroke-width="0.6"/>
<rect x="136.5" y="309.7" width="1" height="1.3" fill="#bbb"/>
<line x1="145.00" y1="307.50" x2="145.00" y2="309.00" stroke="#999" stroke-width="0.6"/>
<rect x="144.5" y="309.7" width="1" height="1.3" fill="#bbb"/>
<line x1="152.00" y1="307.50" x2="152.00" y2="309.00" stroke="#999" stroke-width="0.6"/>
<rect x="151.5" y="309.7" width="1" height="1.3" fill="#bbb"/>
<line x1="159.00" y1="307.50" x2="159.00" y2="309.00" stroke="#999" stroke-width="0.6"/>
<rect x="158.5" y="309.7" width="1" height="1.3" fill="#bbb"/>
<rect x="142.3" y="298.8" width="1" height="1" fill="#000" fill-opacity="0.17"/><rect x="147.0" y="285.6" width="1" height="1" fill="#000" fill-opacity="0.05"/><rect x="147.4" y="304.3" width="1" height="1" fill="#000" fill-opacity="0.08"/><rect x="148.0" y="270.7" width="1" height="1" fill="#000" fill-opacity="0.13"/><rect x="144.4" y="277.3" width="1" height="1" fill="#000" fill-opacity="0.07"/><rect x="148.8" y="285.2" width="1" height="1" fill="#000" fill-opacity="0.26"/><rect x="147.2" y="289.4" width="1" height="1" fill="#000" fill-opacity="0.05"/><rect x="143.5" y="280.4" width="1" height="1" fill="#000" fill-opacity="0.17"/><rect x="154.8" y="296.9" width="1" height="1" fill="#000" fill-opacity="0.13"/><rect x="149.9" y="282.0" width="1" height="1" fill="#000" fill-opacity="0.26"/><rect x="151.6" y="282.2" width="1" height="1" fill="#000" fill-opacity="0.24"/><rect x="145.2" y="292.2" width="1" height="1" fill="#000" fill-opacity="0.29"/><rect x="150.8" y="275.6" width="1" height="1" fill="#000" fill-opacity="0.08"/><rect x="150.8" y="272.0" width="1" height="1" fill="#000" fill-opacity="0.12"/><rect x="146.6" y="285.5" width="1" height="1" fill="#000" fill-opacity="0.11"/><rect x="151.4" y="295.3" width="1" height="1" fill="#000" fill-opacity="0.17"/><rect x="152.5" y="287.1" width="1" height="1" fill="#000" fill-opacity="0.28"/><rect x="146.4" y="276.5" width="1" height="1" fill="#000" fill-opacity="0.31"/><rect x="152.0" y="283.8" width="1" height="1" fill="#000" fill-opacity="0.30"/><rect x="154.9" y="274.5" width="1" height="1" fill="#000" fill-opacity="0.16"/><rect x="150.1" y="282.2" width="1" height="1" fill="#000" fill-opacity="0.16"/><rect x="154.2" y="297.4" width="1" height="1" fill="#000" fill-opacity="0.05"/><rect x="150.6" y="276.6" width="1" height="1" fill="#000" fill-opacity="0.24"/><rect x="146.9" y="293.3" width="1" height="1" fill="#000" fill-opacity="0.07"/><rect x="147.5" y="297.1" width="1" height="1" fill="#000" fill-opacity="0.05"/><rect x="140.4" y="286.0" width="1" height="1" fill="#000" fill-opacity="0.05"/><rect x="144.9" y="282.0" width="1" height="1" fill="#000" fill-opacity="0.30"/><rect x="154.5" y="290.0" width="1" height="1" fill="#000" fill-opacity="0.31"/><rect x="151.6" y="296.6" width="1" height="1" fill="#000" fill-opacity="0.05"/><rect x="148.8" y="300.0" width="1" height="1" fill="#000" fill-opacity="0.12"/><rect x="148.5" y="286.2" width="1" height="1" fill="#000" fill-opacity="0.26"/><rect x="147.6" y="296.5" width="1" height="1" fill="#000" fill-opacity="0.29"/><rect x="146.8" y="274.8" width="1" height="1" fill="#000" fill-opacity="0.15"/><rect x="150.9" y="284.9" width="1" height="1" fill="#000" fill-opacity="0.17"/><rect x="141.1" y="288.1" width="1" height="1" fill="#000" fill-opacity="0.14"/><rect x="140.5" y="292.6" width="1" height="1" fill="#000" fill-opacity="0.21"/><rect x="142.5" y="298.9" width="1" height="1" fill="#000" fill-opacity="0.15"/><rect x="157.7" y="288.5" width="1" height="1" fill="#000" fill-opacity="0.05"/><rect x="146.3" y="293.2" width="1" height="1" fill="#000" fill-opacity="0.18"/><rect x="147.7" y="285.3" width="1" height="1" fill="#000" fill-opacity="0.05"/><rect x="142.5" y="285.5" width="1" height="1" fill="#000" fill-opacity="0.10"/><rect x="149.6" y="282.5" width="1" height="1" fill="#000" fill-opacity="0.21"/><rect x="151.9" y="304.2" width="1" height="1" fill="#000" fill-opacity="0.30"/><rect x="148.7" y="298.5" width="1" height="1" fill="#000" fill-opacity="0.13"/><rect x="146.3" y="286.8" width="1" height="1" fill="#000" fill-opacity="0.10"/><rect x="150.3" y="294.7" width="1" height="1" fill="#000" fill-opacity="0.17"/><rect x="141.3" y="296.9" width="1" height="1" fill="#000" fill-opacity="0.05"/><rect x="152.3" y="287.7" width="1" height="1" fill="#000" fill-opacity="0.21"/><rect x="147.8" y="296.6" width="1" height="1" fill="#000" fill-opacity="0.08"/><rect x="153.8" y="300.3" width="1" height="1" fill="#000" fill-opacity="0.12"/><rect x="150.9" y="282.8" width="1" height="1" fill="#000" fill-opacity="0.10"/><rect x="150.8" y="277.4" width="1" height="1" fill="#000" fill-opacity="0.13"/><rect x="150.7" y="276.5" width="1" height="1" fill="#000" fill-opacity="0.19"/><rect x="151.9" y="275.3" width="1" height="1" fill="#000" fill-opacity="0.13"/><rect x="150.0" y="299.2" width="1" height="1" fill="#000" fill-opacity="0.07"/><rect x="151.8" y="278.5" width="1" height="1" fill="#000" fill-opacity="0.25"/><rect x="144.6" y="300.4" width="1" height="1" fill="#000" fill-opacity="0.18"/><rect x="155.0" y="278.5" width="1" height="1" fill="#000" fill-opacity="0.10"/><rect x="143.8" y="301.9" width="1" height="1" fill="#000" fill-opacity="0.09"/><rect x="153.8" y="295.5" width="1" height="1" fill="#000" fill-opacity="0.12"/><rect x="139.3" y="293.0" width="1" height="1" fill="#000" fill-opacity="0.07"/><rect x="151.0" y="304.5" width="1" height="1" fill="#000" fill-opacity="0.29"/><rect x="152.8" y="275.5" width="1" height="1" fill="#000" fill-opacity="0.29"/><rect x="149.3" y="273.6" width="1" height="1" fill="#000" fill-opacity="0.08"/><rect x="151.3" y="280.9" width="1" height="1" fill="#000" fill-opacity="0.15"/><rect x="141.1" y="297.3" width="1" height="1" fill="#000" fill-opacity="0.10"/><rect x="151.4" y="299.2" width="1" height="1" fill="#000" fill-opacity="0.09"/><rect x="150.8" y="278.4" width="1" height="1" fill="#000" fill-opacity="0.05"/><rect x="146.9" y="274.5" width="1" height="1" fill="#000" fill-opacity="0.27"/><rect x="142.6" y="274.7" width="1" height="1" fill="#000" fill-opacity="0.16"/><rect x="145.4" y="304.3" width="1" height="1" fill="#000" fill-opacity="0.09"/><rect x="146.0" y="284.2" width="1" height="1" fill="#000" fill-opacity="0.15"/><rect x="152.2" y="293.2" width="1" height="1" fill="#000" fill-opacity="0.10"/><rect x="144.1" y="298.4" width="1" height="1" fill="#000" fill-opacity="0.26"/><rect x="148.0" y="291.0" width="1" height="1" fill="#000" fill-opacity="0.07"/><rect x="144.0" y="289.0" width="1" height="1" fill="#000" fill-opacity="0.24"/><rect x="148.6" y="300.8" width="1" height="1" fill="#000" fill-opacity="0.24"/><rect x="141.7" y="277.8" width="1" height="1" fill="#000" fill-opacity="0.05"/><rect x="148.8" y="285.5" width="1" height="1" fill="#000" fill-opacity="0.09"/><rect x="145.3" y="297.9" width="1" height="1" fill="#000" fill-opacity="0.15"/><rect x="140.1" y="292.9" width="1" height="1" fill="#000" fill-opacity="0.05"/><rect x="146.9" y="303.6" width="1" height="1" fill="#000" fill-opacity="0.06"/><rect x="156.8" y="302.0" width="1" height="1" fill="#000" fill-opacity="0.26"/><rect x="150.8" y="302.9" width="1" height="1" fill="#000" fill-opacity="0.14"/><rect x="145.0" y="296.4" width="1" height="1" fill="#000" fill-opacity="0.19"/><rect x="151.0" y="287.0" width="1" height="1" fill="#000" fill-opacity="0.11"/><rect x="145.0" y="300.2" width="1" height="1" fill="#000" fill-opacity="0.16"/><rect x="150.1" y="282.1" width="1" height="1" fill="#000" fill-opacity="0.11"/><rect x="147.6" y="303.1" width="1" height="1" fill="#000" fill-opacity="0.17"/><rect x="151.8" y="279.5" width="1" height="1" fill="#000" fill-opacity="0.11"/><rect x="146.3" y="278.7" width="1" height="1" fill="#000" fill-opacity="0.11"/><rect x="144.5" y="290.3" width="1" height="1" fill="#000" fill-opacity="0.20"/><rect x="145.5" y="293.0" width="1" height="1" fill="#000" fill-opacity="0.08"/><rect x="143.5" y="288.9" width="1" height="1" fill="#000" fill-opacity="0.20"/><rect x="141.4" y="303.2" width="1" height="1" fill="#000" fill-opacity="0.26"/><rect x="151.2" y="273.2" width="1" height="1" fill="#000" fill-opacity="0.11"/><rect x="150.1" y="274.8" width="1" height="1" fill="#000" fill-opacity="0.13"/><rect x="142.5" y="302.0" width="1" height="1" fill="#000" fill-opacity="0.24"/><rect x="153.1" y="284.2" width="1" height="1" fill="#000" fill-opacity="0.19"/><rect x="144.5" y="281.4" width="1" height="1" fill="#000" fill-opacity="0.16"/><rect x="145.4" y="302.5" width="1" height="1" fill="#000" fill-opacity="0.06"/><rect x="148.6" y="279.8" width="1" height="1" fill="#000" fill-opacity="0.05"/><rect x="153.2" y="302.8" width="1" height="1" fill="#000" fill-opacity="0.07"/><rect x="151.0" y="304.2" width="1" height="1" fill="#000" fill-opacity="0.25"/><rect x="149.5" y="302.1" width="1" height="1" fill="#000" fill-opacity="0.25"/><rect x="145.8" y="272.5" width="1" height="1" fill="#000" fill-opacity="0.16"/><rect x="154.6" y="278.8" width="1" height="1" fill="#000" fill-opacity="0.15"/><rect x="149.8" y="282.1" width="1" height="1" fill="#000" fill-opacity="0.06"/><rect x="149.8" y="280.8" width="1" height="1" fill="#000" fill-opacity="0.10"/><rect x="147.2" y="287.9" width="1" height="1" fill="#000" fill-opacity="0.25"/><rect x="147.7" y="298.7" width="1" height="1" fill="#000" fill-opacity="0.18"/><rect x="151.1" y="280.6" width="1" height="1" fill="#000" fill-opacity="0.11"/><rect x="143.7" y="294.8" width="1" height="1" fill="#000" fill-opacity="0.12"/><rect x="148.2" y="303.0" width="1" height="1" fill="#000" fill-opacity="0.14"/><rect x="145.5" y="271.6" width="1" height="1" fill="#000" fill-opacity="0.07"/><rect x="151.4" y="283.1" width="1" height="1" fill="#000" fill-opacity="0.22"/><rect x="144.1" y="283.7" width="1" height="1" fill="#000" fill-opacity="0.18"/><rect x="149.0" y="274.8" width="1" height="1" fill="#000" fill-opacity="0.07"/><rect x="145.6" y="302.7" width="1" height="1" fill="#000" fill-opacity="0.15"/><rect x="138.2" y="292.2" width="1" height="1" fill="#000" fill-opacity="0.21"/><rect x="145.7" y="300.3" width="1" height="1" fill="#000" fill-opacity="0.17"/><rect x="149.3" y="296.5" width="1" height="1" fill="#000" fill-opacity="0.08"/><rect x="151.2" y="283.1" width="1" height="1" fill="#000" fill-opacity="0.20"/><rect x="146.0" y="293.2" width="1" height="1" fill="#000" fill-opacity="0.26"/><rect x="147.5" y="287.1" width="1" height="1" fill="#000" fill-opacity="0.05"/><rect x="150.0" y="290.9" width="1" height="1" fill="#000" fill-opacity="0.11"/><rect x="143.5" y="300.7" width="1" height="1" fill="#000" fill-opacity="0.23"/><rect x="148.9" y="301.5" width="1" height="1" fill="#000" fill-opacity="0.31"/><rect x="143.7" y="290.9" width="1" height="1" fill="#000" fill-opacity="0.25"/><rect x="146.8" y="277.9" width="1" height="1" fill="#000" fill-opacity="0.16"/><rect x="145.9" y="290.9" width="1" height="1" fill="#000" fill-opacity="0.12"/><rect x="141.7" y="281.4" width="1" height="1" fill="#000" fill-opacity="0.29"/><rect x="147.6" y="291.4" width="1" height="1" fill="#000" fill-opacity="0.21"/><rect x="150.9" y="283.7" width="1" height="1" fill="#000" fill-opacity="0.29"/><rect x="149.3" y="276.6" width="1" height="1" fill="#000" fill-opacity="0.08"/><rect x="148.9" y="300.3" width="1" height="1" fill="#000" fill-opacity="0.20"/><rect x="151.3" y="276.4" width="1" height="1" fill="#000" fill-opacity="0.26"/><rect x="144.7" y="296.5" width="1" height="1" fill="#000" fill-opacity="0.12"/><rect x="149.9" y="281.6" width="1" height="1" fill="#000" fill-opacity="0.25"/><rect x="147.4" y="297.2" width="1" height="1" fill="#000" fill-opacity="0.11"/><rect x="147.6" y="287.3" width="1" height="1" fill="#000" fill-opacity="0.10"/><rect x="146.7" y="292.4" width="1" height="1" fill="#000" fill-opacity="0.14"/><rect x="136.8" y="299.7" width="1" height="1" fill="#000" fill-opacity="0.11"/><rect x="142.7" y="288.6" width="1" height="1" fill="#000" fill-opacity="0.06"/><rect x="145.3" y="297.7" width="1" height="1" fill="#000" fill-opacity="0.27"/><rect x="148.1" y="274.3" width="1" height="1" fill="#000" fill-opacity="0.06"/><rect x="145.9" y="273.0" width="1" height="1" fill="#000" fill-opacity="0.22"/><rect x="151.7" y="297.1" width="1" height="1" fill="#000" fill-opacity="0.19"/><rect x="149.1" y="284.5" width="1" height="1" fill="#000" fill-opacity="0.22"/><rect x="147.5" y="272.1" width="1" height="1" fill="#000" fill-opacity="0.19"/><rect x="151.0" y="288.9" width="1" height="1" fill="#000" fill-opacity="0.10"/><rect x="151.2" y="282.0" width="1" height="1" fill="#000" fill-opacity="0.20"/><rect x="150.0" y="287.8" width="1" height="1" fill="#000" fill-opacity="0.18"/><rect x="151.8" y="300.5" width="1" height="1" fill="#000" fill-opacity="0.27"/><rect x="154.2" y="284.5" width="1" height="1" fill="#000" fill-opacity="0.06"/><rect x="153.4" y="295.9" width="1" height="1" fill="#000" fill-opacity="0.21"/><rect x="142.8" y="286.6" width="1" height="1" fill="#000" fill-opacity="0.13"/><rect x="144.5" y="296.6" width="1" height="1" fill="#000" fill-opacity="0.07"/><rect x="144.0" y="303.3" width="1" height="1" fill="#000" fill-opacity="0.15"/><rect x="142.8" y="281.2" width="1" height="1" fill="#000" fill-opacity="0.11"/><rect x="139.9" y="298.0" width="1" height="1" fill="#000" fill-opacity="0.05"/><rect x="152.7" y="290.0" width="1" height="1" fill="#000" fill-opacity="0.08"/><rect x="146.8" y="280.0" width="1" height="1" fill="#000" fill-opacity="0.12"/><rect x="150.3" y="288.7" width="1" height="1" fill="#000" fill-opacity="0.23"/><rect x="147.9" y="295.3" width="1" height="1" fill="#000" fill-opacity="0.09"/><rect x="144.0" y="302.6" width="1" height="1" fill="#000" fill-opacity="0.06"/><rect x="148.5" y="279.6" width="1" height="1" fill="#000" fill-opacity="0.07"/><rect x="144.4" y="293.1" width="1" height="1" fill="#000" fill-opacity="0.22"/><rect x="149.0" y="278.1" width="1" height="1" fill="#000" fill-opacity="0.06"/><rect x="141.5" y="293.7" width="1" height="1" fill="#000" fill-opacity="0.07"/><rect x="145.2" y="289.2" width="1" height="1" fill="#000" fill-opacity="0.08"/><rect x="147.8" y="279.5" width="1" height="1" fill="#000" fill-opacity="0.05"/><rect x="155.4" y="278.6" width="1" height="1" fill="#000" fill-opacity="0.11"/><rect x="141.7" y="288.3" width="1" height="1" fill="#000" fill-opacity="0.17"/><rect x="153.6" y="285.3" width="1" height="1" fill="#000" fill-opacity="0.09"/><rect x="148.5" y="276.3" width="1" height="1" fill="#000" fill-opacity="0.14"/><rect x="147.8" y="286.5" width="1" height="1" fill="#000" fill-opacity="0.23"/><rect x="147.9" y="284.2" width="1" height="1" fill="#000" fill-opacity="0.14"/><rect x="145.0" y="289.4" width="1" height="1" fill="#000" fill-opacity="0.15"/><rect x="146.3" y="303.9" width="1" height="1" fill="#000" fill-opacity="0.14"/><rect x="143.6" y="284.8" width="1" height="1" fill="#000" fill-opacity="0.29"/><rect x="150.8" y="275.0" width="1" height="1" fill="#000" fill-opacity="0.06"/><rect x="148.1" y="279.1" width="1" height="1" fill="#000" fill-opacity="0.11"/><rect x="145.3" y="299.0" width="1" height="1" fill="#000" fill-opacity="0.06"/><rect x="150.7" y="288.8" width="1" height="1" fill="#000" fill-opacity="0.26"/><rect x="147.0" y="282.9" width="1" height="1" fill="#000" fill-opacity="0.06"/><rect x="143.1" y="276.4" width="1" height="1" fill="#000" fill-opacity="0.21"/><rect x="143.8" y="281.2" width="1" height="1" fill="#000" fill-opacity="0.10"/><rect x="155.1" y="278.5" width="1" height="1" fill="#000" fill-opacity="0.13"/><rect x="145.8" y="280.5" width="1" height="1" fill="#000" fill-opacity="0.14"/><rect x="147.5" y="302.4" width="1" height="1" fill="#000" fill-opacity="0.07"/><rect x="146.4" y="301.0" width="1" height="1" fill="#000" fill-opacity="0.14"/><rect x="144.7" y="282.8" width="1" height="1" fill="#000" fill-opacity="0.19"/><rect x="145.5" y="296.8" width="1" height="1" fill="#000" fill-opacity="0.13"/><rect x="146.9" y="280.5" width="1" height="1" fill="#000" fill-opacity="0.27"/><rect x="149.8" y="282.0" width="1" height="1" fill="#000" fill-opacity="0.11"/><rect x="141.3" y="294.7" width="1" height="1" fill="#000" fill-opacity="0.08"/><rect x="144.4" y="304.5" width="1" height="1" fill="#000" fill-opacity="0.07"/><rect x="151.2" y="279.5" width="1" height="1" fill="#000" fill-opacity="0.07"/><rect x="149.9" y="299.7" width="1" height="1" fill="#000" fill-opacity="0.07"/><rect x="147.4" y="293.6" width="1" height="1" fill="#000" fill-opacity="0.06"/><rect x="146.9" y="300.8" width="1" height="1" fill="#000" fill-opacity="0.14"/><rect x="150.5" y="303.5" width="1" height="1" fill="#000" fill-opacity="0.12"/><rect x="148.9" y="282.6" width="1" height="1" fill="#000" fill-opacity="0.05"/><rect x="146.2" y="293.6" width="1" height="1" fill="#000" fill-opacity="0.30"/><rect x="146.8" y="299.4" width="1" height="1" fill="#000" fill-opacity="0.06"/><rect x="150.1" y="291.1" width="1" height="1" fill="#000" fill-opacity="0.10"/><rect x="151.2" y="302.0" width="1" height="1" fill="#000" fill-opacity="0.05"/><rect x="147.5" y="281.6" width="1" height="1" fill="#000" fill-opacity="0.13"/><rect x="155.1" y="273.3" width="1" height="1" fill="#000" fill-opacity="0.09"/><rect x="145.5" y="298.5" width="1" height="1" fill="#000" fill-opacity="0.18"/><rect x="154.3" y="295.5" width="1" height="1" fill="#000" fill-opacity="0.06"/><rect x="153.0" y="283.4" width="1" height="1" fill="#000" fill-opacity="0.05"/><rect x="144.4" y="304.1" width="1" height="1" fill="#000" fill-opacity="0.06"/><rect x="147.4" y="300.8" width="1" height="1" fill="#000" fill-opacity="0.19"/><rect x="149.7" y="274.7" width="1" height="1" fill="#000" fill-opacity="0.07"/><rect x="144.3" y="271.6" width="1" height="1" fill="#000" fill-opacity="0.28"/><rect x="150.5" y="273.0" width="1" height="1" fill="#000" fill-opacity="0.05"/><rect x="138.5" y="296.8" width="1" height="1" fill="#000" fill-opacity="0.06"/><rect x="140.1" y="297.2" width="1" height="1" fill="#000" fill-opacity="0.25"/><rect x="142.7" y="302.2" width="1" height="1" fill="#000" fill-opacity="0.20"/><rect x="151.4" y="273.5" width="1" height="1" fill="#000" fill-opacity="0.07"/><rect x="147.9" y="281.2" width="1" height="1" fill="#000" fill-opacity="0.16"/><rect x="143.6" y="273.7" width="1" height="1" fill="#000" fill-opacity="0.11"/><rect x="147.9" y="293.2" width="1" height="1" fill="#000" fill-opacity="0.14"/><rect x="153.7" y="297.9" width="1" height="1" fill="#000" fill-opacity="0.07"/><rect x="144.1" y="281.9" width="1" height="1" fill="#000" fill-opacity="0.11"/><rect x="143.5" y="290.7" width="1" height="1" fill="#000" fill-opacity="0.07"/><rect x="152.4" y="282.3" width="1" height="1" fill="#000" fill-opacity="0.22"/><rect x="148.8" y="283.6" width="1" height="1" fill="#000" fill-opacity="0.06"/><rect x="149.7" y="298.9" width="1" height="1" fill="#000" fill-opacity="0.26"/><rect x="145.4" y="275.8" width="1" height="1" fill="#000" fill-opacity="0.13"/><rect x="149.1" y="274.8" width="1" height="1" fill="#000" fill-opacity="0.11"/><rect x="141.6" y="303.2" width="1" height="1" fill="#000" fill-opacity="0.12"/><rect x="153.0" y="272.4" width="1" height="1" fill="#000" fill-opacity="0.06"/><rect x="149.3" y="303.0" width="1" height="1" fill="#000" fill-opacity="0.19"/><rect x="148.6" y="298.8" width="1" height="1" fill="#000" fill-opacity="0.18"/><rect x="148.5" y="287.1" width="1" height="1" fill="#000" fill-opacity="0.05"/><rect x="149.2" y="299.1" width="1" height="1" fill="#000" fill-opacity="0.16"/><rect x="146.4" y="293.0" width="1" height="1" fill="#000" fill-opacity="0.23"/><rect x="149.0" y="286.4" width="1" height="1" fill="#000" fill-opacity="0.07"/><rect x="140.8" y="300.6" width="1" height="1" fill="#000" fill-opacity="0.06"/><rect x="149.6" y="277.7" width="1" height="1" fill="#000" fill-opacity="0.30"/><rect x="146.7" y="300.0" width="1" height="1" fill="#000" fill-opacity="0.27"/><rect x="142.6" y="302.9" width="1" height="1" fill="#000" fill-opacity="0.25"/><rect x="148.5" y="286.0" width="1" height="1" fill="#000" fill-opacity="0.18"/><rect x="150.9" y="280.3" width="1" height="1" fill="#000" fill-opacity="0.17"/><rect x="144.5" y="292.1" width="1" height="1" fill="#000" fill-opacity="0.06"/><rect x="144.0" y="277.3" width="1" height="1" fill="#000" fill-opacity="0.07"/><rect x="143.6" y="288.8" width="1" height="1" fill="#000" fill-opacity="0.13"/><rect x="151.4" y="281.6" width="1" height="1" fill="#000" fill-opacity="0.14"/><rect x="147.6" y="303.2" width="1" height="1" fill="#000" fill-opacity="0.16"/><rect x="144.1" y="281.3" width="1" height="1" fill="#000" fill-opacity="0.17"/><rect x="149.1" y="299.5" width="1" height="1" fill="#000" fill-opacity="0.10"/><rect x="148.3" y="270.7" width="1" height="1" fill="#000" fill-opacity="0.06"/><rect x="150.1" y="299.4" width="1" height="1" fill="#000" fill-opacity="0.07"/><rect x="148.7" y="273.4" width="1" height="1" fill="#000" fill-opacity="0.30"/><rect x="140.4" y="286.1" width="1" height="1" fill="#000" fill-opacity="0.28"/><rect x="139.4" y="288.9" width="1" height="1" fill="#000" fill-opacity="0.27"/><rect x="153.4" y="272.6" width="1" height="1" fill="#000" fill-opacity="0.14"/><rect x="138.8" y="279.8" width="1" height="1" fill="#000" fill-opacity="0.28"/><rect x="154.5" y="297.2" width="1" height="1" fill="#000" fill-opacity="0.28"/><rect x="151.8" y="300.4" width="1" height="1" fill="#000" fill-opacity="0.09"/><rect x="151.0" y="289.5" width="1" height="1" fill="#000" fill-opacity="0.18"/><rect x="145.5" y="303.9" width="1" height="1" fill="#000" fill-opacity="0.12"/><rect x="143.3" y="295.5" width="1" height="1" fill="#000" fill-opacity="0.22"/><rect x="148.2" y="280.9" width="1" height="1" fill="#000" fill-opacity="0.09"/><rect x="148.8" y="293.3" width="1" height="1" fill="#000" fill-opacity="0.06"/><rect x="146.5" y="301.2" width="1" height="1" fill="#000" fill-opacity="0.30"/><rect x="145.1" y="271.4" width="1" height="1" fill="#000" fill-opacity="0.26"/><rect x="148.7" y="294.6" width="1" height="1" fill="#000" fill-opacity="0.13"/><rect x="150.4" y="289.3" width="1" height="1" fill="#000" fill-opacity="0.15"/><rect x="148.8" y="295.0" width="1" height="1" fill="#000" fill-opacity="0.13"/><rect x="147.2" y="275.2" width="1" height="1" fill="#000" fill-opacity="0.24"/><rect x="146.8" y="297.0" width="1" height="1" fill="#000" fill-opacity="0.05"/><rect x="153.9" y="301.8" width="1" height="1" fill="#000" fill-opacity="0.15"/><rect x="148.2" y="288.9" width="1" height="1" fill="#000" fill-opacity="0.07"/><rect x="149.7" y="280.0" width="1" height="1" fill="#000" fill-opacity="0.13"/><rect x="151.8" y="271.4" width="1" height="1" fill="#000" fill-opacity="0.05"/><rect x="134.2" y="300.4" width="1" height="1" fill="#000" fill-opacity="0.05"/><rect x="146.4" y="292.6" width="1" height="1" fill="#000" fill-opacity="0.15"/><rect x="147.0" y="302.7" width="1" height="1" fill="#000" fill-opacity="0.10"/><rect x="147.7" y="298.6" width="1" height="1" fill="#000" fill-opacity="0.08"/><rect x="141.1" y="303.8" width="1" height="1" fill="#000" fill-opacity="0.12"/><rect x="144.3" y="285.5" width="1" height="1" fill="#000" fill-opacity="0.24"/><rect x="137.8" y="298.6" width="1" height="1" fill="#000" fill-opacity="0.06"/><rect x="149.7" y="280.4" width="1" height="1" fill="#000" fill-opacity="0.25"/><rect x="143.2" y="288.3" width="1" height="1" fill="#000" fill-opacity="0.09"/><rect x="152.3" y="300.8" width="1" height="1" fill="#000" fill-opacity="0.27"/><rect x="150.0" y="274.4" width="1" height="1" fill="#000" fill-opacity="0.13"/><rect x="154.2" y="284.1" width="1" height="1" fill="#000" fill-opacity="0.17"/><rect x="143.8" y="293.2" width="1" height="1" fill="#000" fill-opacity="0.15"/><rect x="148.7" y="300.8" width="1" height="1" fill="#000" fill-opacity="0.31"/><rect x="152.9" y="288.5" width="1" height="1" fill="#000" fill-opacity="0.12"/><rect x="139.5" y="295.3" width="1" height="1" fill="#000" fill-opacity="0.13"/><rect x="151.3" y="272.2" width="1" height="1" fill="#000" fill-opacity="0.07"/><rect x="142.3" y="296.5" width="1" height="1" fill="#000" fill-opacity="0.25"/><rect x="148.6" y="277.7" width="1" height="1" fill="#000" fill-opacity="0.28"/><rect x="152.7" y="286.1" width="1" height="1" fill="#000" fill-opacity="0.16"/><rect x="148.3" y="290.6" width="1" height="1" fill="#000" fill-opacity="0.09"/><rect x="149.8" y="282.4" width="1" height="1" fill="#000" fill-opacity="0.19"/><rect x="145.8" y="294.6" width="1" height="1" fill="#000" fill-opacity="0.15"/><rect x="153.9" y="274.9" width="1" height="1" fill="#000" fill-opacity="0.07"/><rect x="148.4" y="273.8" width="1" height="1" fill="#000" fill-opacity="0.07"/><rect x="148.5" y="294.2" width="1" height="1" fill="#000" fill-opacity="0.09"/><rect x="147.3" y="272.6" width="1" height="1" fill="#000" fill-opacity="0.29"/><rect x="143.9" y="296.4" width="1" height="1" fill="#000" fill-opacity="0.06"/><rect x="148.5" y="298.5" width="1" height="1" fill="#000" fill-opacity="0.30"/><rect x="146.1" y="303.1" width="1" height="1" fill="#000" fill-opacity="0.06"/><rect x="150.1" y="289.3" width="1" height="1" fill="#000" fill-opacity="0.22"/><rect x="144.9" y="277.2" width="1" height="1" fill="#000" fill-opacity="0.05"/><rect x="140.7" y="297.5" width="1" height="1" fill="#000" fill-opacity="0.30"/><rect x="145.1" y="303.3" width="1" height="1" fill="#000" fill-opacity="0.09"/><rect x="152.0" y="288.5" width="1" height="1" fill="#000" fill-opacity="0.05"/><rect x="148.6" y="298.9" width="1" height="1" fill="#000" fill-opacity="0.27"/><rect x="145.4" y="300.6" width="1" height="1" fill="#000" fill-opacity="0.31"/><rect x="147.0" y="283.7" width="1" height="1" fill="#000" fill-opacity="0.05"/><rect x="147.2" y="280.4" width="1" height="1" fill="#000" fill-opacity="0.07"/><rect x="150.0" y="300.2" width="1" height="1" fill="#000" fill-opacity="0.05"/><rect x="144.1" y="272.2" width="1" height="1" fill="#000" fill-opacity="0.15"/><rect x="150.0" y="294.3" width="1" height="1" fill="#000" fill-opacity="0.31"/><rect x="149.1" y="297.6" width="1" height="1" fill="#000" fill-opacity="0.06"/><rect x="148.8" y="301.5" width="1" height="1" fill="#000" fill-opacity="0.28"/><rect x="148.7" y="303.1" width="1" height="1" fill="#000" fill-opacity="0.07"/><rect x="158.5" y="273.1" width="1" height="1" fill="#000" fill-opacity="0.08"/><rect x="146.5" y="295.2" width="1" height="1" fill="#000" fill-opacity="0.29"/><rect x="146.3" y="290.7" width="1" height="1" fill="#000" fill-opacity="0.05"/><rect x="143.2" y="295.5" width="1" height="1" fill="#000" fill-opacity="0.22"/><rect x="145.3" y="279.5" width="1" height="1" fill="#000" fill-opacity="0.15"/><rect x="145.2" y="292.2" width="1" height="1" fill="#000" fill-opacity="0.15"/><rect x="150.5" y="277.4" width="1" height="1" fill="#000" fill-opacity="0.28"/><rect x="153.4" y="276.8" width="1" height="1" fill="#000" fill-opacity="0.07"/><rect x="150.8" y="272.0" width="1" height="1" fill="#000" fill-opacity="0.09"/><rect x="143.9" y="299.9" width="1" height="1" fill="#000" fill-opacity="0.05"/><rect x="144.6" y="271.4" width="1" height="1" fill="#000" fill-opacity="0.06"/><rect x="150.5" y="304.3" width="1" height="1" fill="#000" fill-opacity="0.26"/><rect x="154.1" y="279.0" width="1" height="1" fill="#000" fill-opacity="0.15"/><rect x="148.4" y="280.1" width="1" height="1" fill="#000" fill-opacity="0.06"/><rect x="145.6" y="288.7" width="1" height="1" fill="#000" fill-opacity="0.17"/><rect x="147.4" y="296.2" width="1" height="1" fill="#000" fill-opacity="0.14"/><rect x="145.2" y="294.6" width="1" height="1" fill="#000" fill-opacity="0.17"/><rect x="152.5" y="271.3" width="1" height="1" fill="#000" fill-opacity="0.29"/><rect x="150.6" y="276.3" width="1" height="1" fill="#000" fill-opacity="0.30"/><rect x="143.4" y="297.9" width="1" height="1" fill="#000" fill-opacity="0.06"/><rect x="147.0" y="290.2" width="1" height="1" fill="#000" fill-opacity="0.18"/><rect x="142.6" y="297.5" width="1" height="1" fill="#000" fill-opacity="0.30"/><rect x="142.3" y="291.9" width="1" height="1" fill="#000" fill-opacity="0.26"/><rect x="150.4" y="271.1" width="1" height="1" fill="#000" fill-opacity="0.15"/><rect x="146.0" y="292.3" width="1" height="1" fill="#000" fill-opacity="0.12"/><rect x="148.3" y="276.9" width="1" height="1" fill="#000" fill-opacity="0.23"/><rect x="148.3" y="303.5" width="1" height="1" fill="#000" fill-opacity="0.30"/><rect x="143.6" y="294.8" width="1" height="1" fill="#000" fill-opacity="0.08"/><rect x="150.7" y="288.4" width="1" height="1" fill="#000" fill-opacity="0.26"/><rect x="145.9" y="282.3" width="1" height="1" fill="#000" fill-opacity="0.11"/><rect x="142.2" y="296.9" width="1" height="1" fill="#000" fill-opacity="0.11"/><rect x="148.0" y="284.6" width="1" height="1" fill="#000" fill-opacity="0.26"/><rect x="149.4" y="287.1" width="1" height="1" fill="#000" fill-opacity="0.11"/><rect x="150.0" y="286.0" width="1" height="1" fill="#000" fill-opacity="0.06"/><rect x="144.1" y="303.0" width="1" height="1" fill="#000" fill-opacity="0.05"/><rect x="150.4" y="288.8" width="1" height="1" fill="#000" fill-opacity="0.28"/><rect x="147.0" y="289.0" width="1" height="1" fill="#000" fill-opacity="0.25"/><rect x="143.5" y="274.2" width="1" height="1" fill="#000" fill-opacity="0.13"/><rect x="153.7" y="283.4" width="1" height="1" fill="#000" fill-opacity="0.11"/><rect x="152.9" y="291.1" width="1" height="1" fill="#000" fill-opacity="0.27"/><rect x="149.4" y="297.4" width="1" height="1" fill="#000" fill-opacity="0.17"/><rect x="153.5" y="302.9" width="1" height="1" fill="#000" fill-opacity="0.05"/><rect x="154.6" y="295.3" width="1" height="1" fill="#000" fill-opacity="0.07"/><rect x="146.8" y="297.8" width="1" height="1" fill="#000" fill-opacity="0.11"/><rect x="142.4" y="289.8" width="1" height="1" fill="#000" fill-opacity="0.19"/><rect x="149.4" y="292.4" width="1" height="1" fill="#000" fill-opacity="0.06"/><rect x="149.4" y="271.4" width="1" height="1" fill="#000" fill-opacity="0.13"/><rect x="147.3" y="280.6" width="1" height="1" fill="#000" fill-opacity="0.31"/><rect x="150.8" y="303.4" width="1" height="1" fill="#000" fill-opacity="0.12"/><rect x="149.6" y="274.9" width="1" height="1" fill="#000" fill-opacity="0.25"/><rect x="141.8" y="295.9" width="1" height="1" fill="#000" fill-opacity="0.27"/><rect x="148.9" y="299.9" width="1" height="1" fill="#000" fill-opacity="0.11"/><rect x="145.1" y="302.9" width="1" height="1" fill="#000" fill-opacity="0.29"/><rect x="146.8" y="289.4" width="1" height="1" fill="#000" fill-opacity="0.16"/><rect x="146.3" y="302.9" width="1" height="1" fill="#000" fill-opacity="0.26"/><rect x="151.9" y="288.8" width="1" height="1" fill="#000" fill-opacity="0.09"/><rect x="147.9" y="271.3" width="1" height="1" fill="#000" fill-opacity="0.07"/><rect x="142.1" y="297.0" width="1" height="1" fill="#000" fill-opacity="0.27"/><rect x="139.8" y="301.8" width="1" height="1" fill="#000" fill-opacity="0.10"/><rect x="147.8" y="280.0" width="1" height="1" fill="#000" fill-opacity="0.28"/><rect x="149.0" y="276.4" width="1" height="1" fill="#000" fill-opacity="0.05"/><rect x="144.4" y="292.6" width="1" height="1" fill="#000" fill-opacity="0.10"/><rect x="148.2" y="300.1" width="1" height="1" fill="#000" fill-opacity="0.24"/><rect x="148.1" y="273.1" width="1" height="1" fill="#000" fill-opacity="0.06"/><rect x="147.8" y="274.1" width="1" height="1" fill="#000" fill-opacity="0.07"/><rect x="147.5" y="303.9" width="1" height="1" fill="#000" fill-opacity="0.14"/><rect x="151.5" y="294.2" width="1" height="1" fill="#000" fill-opacity="0.05"/><rect x="140.7" y="293.6" width="1" height="1" fill="#000" fill-opacity="0.11"/><rect x="146.0" y="300.6" width="1" height="1" fill="#000" fill-opacity="0.20"/><rect x="149.9" y="295.7" width="1" height="1" fill="#000" fill-opacity="0.06"/><rect x="141.0" y="299.4" width="1" height="1" fill="#000" fill-opacity="0.08"/><rect x="150.0" y="282.7" width="1" height="1" fill="#000" fill-opacity="0.08"/><rect x="146.5" y="283.9" width="1" height="1" fill="#000" fill-opacity="0.22"/><rect x="145.3" y="293.9" width="1" height="1" fill="#000" fill-opacity="0.15"/><rect x="145.0" y="286.6" width="1" height="1" fill="#000" fill-opacity="0.05"/><rect x="146.2" y="279.3" width="1" height="1" fill="#000" fill-opacity="0.26"/><rect x="144.6" y="290.6" width="1" height="1" fill="#000" fill-opacity="0.27"/><rect x="146.9" y="283.3" width="1" height="1" fill="#000" fill-opacity="0.08"/><rect x="152.1" y="278.1" width="1" height="1" fill="#000" fill-opacity="0.31"/><rect x="147.0" y="290.8" width="1" height="1" fill="#000" fill-opacity="0.07"/><rect x="145.4" y="282.1" width="1" height="1" fill="#000" fill-opacity="0.17"/><rect x="151.9" y="302.4" width="1" height="1" fill="#000" fill-opacity="0.15"/><rect x="145.1" y="276.7" width="1" height="1" fill="#000" fill-opacity="0.26"/><rect x="147.8" y="292.1" width="1" height="1" fill="#000" fill-opacity="0.14"/><rect x="148.9" y="287.2" width="1" height="1" fill="#000" fill-opacity="0.06"/><rect x="146.6" y="280.3" width="1" height="1" fill="#000" fill-opacity="0.16"/><rect x="153.3" y="296.9" width="1" height="1" fill="#000" fill-opacity="0.15"/><rect x="145.9" y="271.0" width="1" height="1" fill="#000" fill-opacity="0.25"/><rect x="148.5" y="280.8" width="1" height="1" fill="#000" fill-opacity="0.20"/><rect x="149.1" y="281.4" width="1" height="1" fill="#000" fill-opacity="0.10"/><rect x="144.6" y="291.0" width="1" height="1" fill="#000" fill-opacity="0.20"/><rect x="146.5" y="287.9" width="1" height="1" fill="#000" fill-opacity="0.11"/><rect x="142.1" y="302.4" width="1" height="1" fill="#000" fill-opacity="0.21"/><rect x="144.7" y="300.7" width="1" height="1" fill="#000" fill-opacity="0.11"/><rect x="141.3" y="300.1" width="1" height="1" fill="#000" fill-opacity="0.06"/><rect x="148.8" y="303.6" width="1" height="1" fill="#000" fill-opacity="0.14"/><rect x="143.5" y="299.9" width="1" height="1" fill="#000" fill-opacity="0.06"/><rect x="147.5" y="288.9" width="1" height="1" fill="#000" fill-opacity="0.28"/><rect x="146.0" y="276.0" width="1" height="1" fill="#000" fill-opacity="0.05"/><rect x="146.0" y="297.7" width="1" height="1" fill="#000" fill-opacity="0.10"/><rect x="155.3" y="273.0" width="1" height="1" fill="#000" fill-opacity="0.14"/><rect x="153.7" y="292.5" width="1" height="1" fill="#000" fill-opacity="0.08"/><rect x="151.4" y="272.1" width="1" height="1" fill="#000" fill-opacity="0.14"/><rect x="151.3" y="300.0" width="1" height="1" fill="#000" fill-opacity="0.08"/><rect x="151.2" y="271.1" width="1" height="1" fill="#000" fill-opacity="0.27"/><rect x="138.7" y="302.6" width="1" height="1" fill="#000" fill-opacity="0.20"/><rect x="149.2" y="280.7" width="1" height="1" fill="#000" fill-opacity="0.30"/><rect x="151.2" y="296.1" width="1" height="1" fill="#000" fill-opacity="0.22"/><rect x="144.2" y="300.9" width="1" height="1" fill="#000" fill-opacity="0.14"/><rect x="144.0" y="294.6" width="1" height="1" fill="#000" fill-opacity="0.26"/><rect x="143.3" y="281.0" width="1" height="1" fill="#000" fill-opacity="0.12"/><rect x="148.8" y="278.6" width="1" height="1" fill="#000" fill-opacity="0.08"/><rect x="144.3" y="288.6" width="1" height="1" fill="#000" fill-opacity="0.05"/><rect x="143.8" y="300.8" width="1" height="1" fill="#000" fill-opacity="0.18"/><rect x="146.4" y="299.6" width="1" height="1" fill="#000" fill-opacity="0.29"/><rect x="145.2" y="276.8" width="1" height="1" fill="#000" fill-opacity="0.21"/><rect x="151.9" y="294.6" width="1" height="1" fill="#000" fill-opacity="0.22"/><rect x="150.7" y="273.8" width="1" height="1" fill="#000" fill-opacity="0.07"/><rect x="153.1" y="301.1" width="1" height="1" fill="#000" fill-opacity="0.14"/><rect x="147.9" y="281.2" width="1" height="1" fill="#000" fill-opacity="0.07"/><rect x="145.0" y="288.6" width="1" height="1" fill="#000" fill-opacity="0.07"/><rect x="140.6" y="301.7" width="1" height="1" fill="#000" fill-opacity="0.18"/><rect x="149.6" y="275.3" width="1" height="1" fill="#000" fill-opacity="0.06"/><rect x="149.1" y="279.4" width="1" height="1" fill="#000" fill-opacity="0.11"/><rect x="152.7" y="291.8" width="1" height="1" fill="#000" fill-opacity="0.09"/><rect x="148.2" y="282.7" width="1" height="1" fill="#000" fill-opacity="0.05"/><rect x="145.6" y="297.5" width="1" height="1" fill="#000" fill-opacity="0.05"/><rect x="145.2" y="289.5" width="1" height="1" fill="#000" fill-opacity="0.10"/><rect x="154.3" y="271.7" width="1" height="1" fill="#000" fill-opacity="0.11"/><rect x="152.6" y="278.6" width="1" height="1" fill="#000" fill-opacity="0.13"/><rect x="147.0" y="284.0" width="1" height="1" fill="#000" fill-opacity="0.13"/><rect x="151.1" y="278.8" width="1" height="1" fill="#000" fill-opacity="0.10"/><rect x="144.5" y="299.1" width="1" height="1" fill="#000" fill-opacity="0.10"/><rect x="148.6" y="287.6" width="1" height="1" fill="#000" fill-opacity="0.15"/><rect x="147.7" y="286.6" width="1" height="1" fill="#000" fill-opacity="0.05"/><rect x="147.6" y="295.7" width="1" height="1" fill="#000" fill-opacity="0.07"/><rect x="147.1" y="287.7" width="1" height="1" fill="#000" fill-opacity="0.17"/><rect x="154.3" y="284.2" width="1" height="1" fill="#000" fill-opacity="0.21"/><rect x="144.5" y="289.4" width="1" height="1" fill="#000" fill-opacity="0.05"/><rect x="150.2" y="279.0" width="1" height="1" fill="#000" fill-opacity="0.14"/><rect x="151.0" y="302.6" width="1" height="1" fill="#000" fill-opacity="0.18"/><rect x="144.7" y="292.4" width="1" height="1" fill="#000" fill-opacity="0.06"/><rect x="151.4" y="270.5" width="1" height="1" fill="#000" fill-opacity="0.31"/><rect x="149.5" y="302.0" width="1" height="1" fill="#000" fill-opacity="0.14"/><rect x="147.4" y="290.9" width="1" height="1" fill="#000" fill-opacity="0.12"/><rect x="155.9" y="304.4" width="1" height="1" fill="#000" fill-opacity="0.13"/><rect x="143.1" y="304.5" width="1" height="1" fill="#000" fill-opacity="0.27"/><rect x="136.8" y="303.7" width="1" height="1" fill="#000" fill-opacity="0.19"/><rect x="143.0" y="296.8" width="1" height="1" fill="#000" fill-opacity="0.09"/><rect x="146.5" y="301.8" width="1" height="1" fill="#000" fill-opacity="0.18"/><rect x="147.0" y="302.9" width="1" height="1" fill="#000" fill-opacity="0.30"/><rect x="145.8" y="300.2" width="1" height="1" fill="#000" fill-opacity="0.06"/><rect x="142.7" y="281.0" width="1" height="1" fill="#000" fill-opacity="0.14"/><rect x="146.8" y="285.4" width="1" height="1" fill="#000" fill-opacity="0.06"/><rect x="139.0" y="283.7" width="1" height="1" fill="#000" fill-opacity="0.05"/><rect x="144.8" y="303.3" width="1" height="1" fill="#000" fill-opacity="0.19"/><rect x="145.2" y="273.6" width="1" height="1" fill="#000" fill-opacity="0.16"/><rect x="149.9" y="294.0" width="1" height="1" fill="#000" fill-opacity="0.13"/><rect x="151.0" y="286.5" width="1" height="1" fill="#000" fill-opacity="0.21"/><rect x="147.0" y="298.2" width="1" height="1" fill="#000" fill-opacity="0.13"/><rect x="142.4" y="298.3" width="1" height="1" fill="#000" fill-opacity="0.22"/><rect x="153.3" y="272.3" width="1" height="1" fill="#000" fill-opacity="0.14"/><rect x="145.3" y="299.9" width="1" height="1" fill="#000" fill-opacity="0.08"/><rect x="148.9" y="287.1" width="1" height="1" fill="#000" fill-opacity="0.17"/><rect x="147.1" y="298.7" width="1" height="1" fill="#000" fill-opacity="0.07"/><rect x="149.0" y="290.2" width="1" height="1" fill="#000" fill-opacity="0.08"/><rect x="146.6" y="275.4" width="1" height="1" fill="#000" fill-opacity="0.12"/><rect x="143.9" y="303.9" width="1" height="1" fill="#000" fill-opacity="0.21"/><rect x="145.0" y="280.7" width="1" height="1" fill="#000" fill-opacity="0.09"/><rect x="151.4" y="299.4" width="1" height="1" fill="#000" fill-opacity="0.08"/><rect x="141.2" y="300.0" width="1" height="1" fill="#000" fill-opacity="0.21"/><rect x="141.8" y="302.5" width="1" height="1" fill="#000" fill-opacity="0.22"/><rect x="143.9" y="291.0" width="1" height="1" fill="#000" fill-opacity="0.12"/><rect x="149.7" y="300.0" width="1" height="1" fill="#000" fill-opacity="0.11"/><rect x="146.3" y="284.8" width="1" height="1" fill="#000" fill-opacity="0.07"/><rect x="142.4" y="275.1" width="1" height="1" fill="#000" fill-opacity="0.24"/><rect x="150.4" y="282.2" width="1" height="1" fill="#000" fill-opacity="0.23"/><rect x="149.2" y="274.7" width="1" height="1" fill="#000" fill-opacity="0.06"/><rect x="150.8" y="286.7" width="1" height="1" fill="#000" fill-opacity="0.26"/><rect x="148.6" y="274.4" width="1" height="1" fill="#000" fill-opacity="0.12"/><rect x="147.7" y="301.5" width="1" height="1" fill="#000" fill-opacity="0.12"/><rect x="154.3" y="296.5" width="1" height="1" fill="#000" fill-opacity="0.13"/><rect x="149.6" y="273.5" width="1" height="1" fill="#000" fill-opacity="0.29"/><rect x="147.4" y="296.4" width="1" height="1" fill="#000" fill-opacity="0.11"/><rect x="149.6" y="271.5" width="1" height="1" fill="#000" fill-opacity="0.27"/><rect x="148.1" y="298.7" width="1" height="1" fill="#000" fill-opacity="0.08"/><rect x="150.5" y="273.1" width="1" height="1" fill="#000" fill-opacity="0.10"/><rect x="155.5" y="296.8" width="1" height="1" fill="#000" fill-opacity="0.08"/><rect x="144.0" y="288.7" width="1" height="1" fill="#000" fill-opacity="0.14"/><rect x="144.9" y="297.0" width="1" height="1" fill="#000" fill-opacity="0.25"/><rect x="149.7" y="273.3" width="1" height="1" fill="#000" fill-opacity="0.05"/><rect x="138.4" y="298.5" width="1" height="1" fill="#000" fill-opacity="0.07"/><rect x="155.3" y="301.2" width="1" height="1" fill="#000" fill-opacity="0.28"/><rect x="146.0" y="288.1" width="1" height="1" fill="#000" fill-opacity="0.06"/><rect x="155.3" y="292.8" width="1" height="1" fill="#000" fill-opacity="0.09"/><rect x="149.6" y="297.3" width="1" height="1" fill="#000" fill-opacity="0.29"/><rect x="149.4" y="299.9" width="1" height="1" fill="#000" fill-opacity="0.19"/><rect x="144.0" y="302.4" width="1" height="1" fill="#000" fill-opacity="0.27"/><rect x="143.6" y="293.7" width="1" height="1" fill="#000" fill-opacity="0.17"/><rect x="151.5" y="298.5" width="1" height="1" fill="#000" fill-opacity="0.06"/><rect x="155.4" y="287.5" width="1" height="1" fill="#000" fill-opacity="0.10"/><rect x="147.4" y="300.8" width="1" height="1" fill="#000" fill-opacity="0.10"/><rect x="143.5" y="302.3" width="1" height="1" fill="#000" fill-opacity="0.12"/><rect x="151.4" y="295.9" width="1" height="1" fill="#000" fill-opacity="0.09"/><rect x="148.1" y="290.7" width="1" height="1" fill="#000" fill-opacity="0.22"/><rect x="143.1" y="290.8" width="1" height="1" fill="#000" fill-opacity="0.06"/><rect x="148.9" y="300.8" width="1" height="1" fill="#000" fill-opacity="0.11"/><rect x="143.8" y="289.6" width="1" height="1" fill="#000" fill-opacity="0.25"/><rect x="144.3" y="294.5" width="1" height="1" fill="#000" fill-opacity="0.05"/><rect x="150.4" y="288.6" width="1" height="1" fill="#000" fill-opacity="0.14"/><rect x="143.1" y="290.4" width="1" height="1" fill="#000" fill-opacity="0.21"/><rect x="147.5" y="300.3" width="1" height="1" fill="#000" fill-opacity="0.30"/><rect x="147.6" y="302.2" width="1" height="1" fill="#000" fill-opacity="0.23"/><rect x="144.4" y="298.2" width="1" height="1" fill="#000" fill-opacity="0.06"/><rect x="151.5" y="288.7" width="1" height="1" fill="#000" fill-opacity="0.26"/><rect x="144.8" y="271.4" width="1" height="1" fill="#000" fill-opacity="0.05"/><rect x="152.2" y="294.4" width="1" height="1" fill="#000" fill-opacity="0.13"/><rect x="152.3" y="281.0" width="1" height="1" fill="#000" fill-opacity="0.23"/><rect x="147.2" y="270.5" width="1" height="1" fill="#000" fill-opacity="0.16"/><rect x="137.5" y="303.0" width="1" height="1" fill="#000" fill-opacity="0.27"/><rect x="153.0" y="302.8" width="1" height="1" fill="#000" fill-opacity="0.09"/><rect x="151.7" y="284.2" width="1" height="1" fill="#000" fill-opacity="0.05"/><rect x="145.9" y="299.6" width="1" height="1" fill="#000" fill-opacity="0.14"/><rect x="148.8" y="273.1" width="1" height="1" fill="#000" fill-opacity="0.08"/><rect x="148.2" y="282.5" width="1" height="1" fill="#000" fill-opacity="0.22"/><rect x="143.4" y="282.8" width="1" height="1" fill="#000" fill-opacity="0.05"/><rect x="134.8" y="300.2" width="1" height="1" fill="#000" fill-opacity="0.08"/><rect x="145.5" y="287.0" width="1" height="1" fill="#000" fill-opacity="0.06"/><rect x="145.4" y="276.9" width="1" height="1" fill="#000" fill-opacity="0.19"/><rect x="147.7" y="301.7" width="1" height="1" fill="#000" fill-opacity="0.21"/><rect x="150.7" y="278.8" width="1" height="1" fill="#000" fill-opacity="0.08"/><rect x="143.2" y="300.9" width="1" height="1" fill="#000" fill-opacity="0.27"/><rect x="143.4" y="292.4" width="1" height="1" fill="#000" fill-opacity="0.20"/><rect x="149.8" y="296.4" width="1" height="1" fill="#000" fill-opacity="0.10"/><rect x="149.2" y="280.1" width="1" height="1" fill="#000" fill-opacity="0.06"/><rect x="147.0" y="273.5" width="1" height="1" fill="#000" fill-opacity="0.21"/><rect x="140.0" y="286.8" width="1" height="1" fill="#000" fill-opacity="0.12"/><rect x="152.3" y="299.5" width="1" height="1" fill="#000" fill-opacity="0.06"/><rect x="143.5" y="295.3" width="1" height="1" fill="#000" fill-opacity="0.29"/><rect x="146.1" y="284.7" width="1" height="1" fill="#000" fill-opacity="0.13"/><rect x="144.1" y="284.3" width="1" height="1" fill="#000" fill-opacity="0.14"/><rect x="144.3" y="289.4" width="1" height="1" fill="#000" fill-opacity="0.14"/><rect x="151.2" y="277.5" width="1" height="1" fill="#000" fill-opacity="0.09"/><rect x="154.6" y="276.8" width="1" height="1" fill="#000" fill-opacity="0.06"/><rect x="141.5" y="290.7" width="1" height="1" fill="#000" fill-opacity="0.07"/><rect x="148.7" y="298.1" width="1" height="1" fill="#000" fill-opacity="0.06"/><rect x="147.6" y="288.0" width="1" height="1" fill="#000" fill-opacity="0.07"/><rect x="146.0" y="300.0" width="1" height="1" fill="#000" fill-opacity="0.29"/><rect x="144.2" y="291.8" width="1" height="1" fill="#000" fill-opacity="0.19"/><rect x="147.9" y="278.3" width="1" height="1" fill="#000" fill-opacity="0.19"/><rect x="140.6" y="304.5" width="1" height="1" fill="#000" fill-opacity="0.05"/><rect x="150.3" y="279.2" width="1" height="1" fill="#000" fill-opacity="0.10"/><rect x="142.5" y="297.2" width="1" height="1" fill="#000" fill-opacity="0.14"/><rect x="146.1" y="276.4" width="1" height="1" fill="#000" fill-opacity="0.15"/><rect x="151.5" y="295.6" width="1" height="1" fill="#000" fill-opacity="0.11"/><rect x="149.5" y="288.9" width="1" height="1" fill="#000" fill-opacity="0.10"/><rect x="148.1" y="304.4" width="1" height="1" fill="#000" fill-opacity="0.06"/><rect x="149.6" y="276.7" width="1" height="1" fill="#000" fill-opacity="0.17"/><rect x="144.8" y="298.8" width="1" height="1" fill="#000" fill-opacity="0.05"/><rect x="143.8" y="280.7" width="1" height="1" fill="#000" fill-opacity="0.08"/><rect x="151.6" y="270.6" width="1" height="1" fill="#000" fill-opacity="0.08"/><rect x="151.3" y="276.3" width="1" height="1" fill="#000" fill-opacity="0.24"/><rect x="150.2" y="287.3" width="1" height="1" fill="#000" fill-opacity="0.20"/><rect x="149.5" y="303.5" width="1" height="1" fill="#000" fill-opacity="0.28"/><rect x="153.8" y="277.1" width="1" height="1" fill="#000" fill-opacity="0.18"/><rect x="147.9" y="271.6" width="1" height="1" fill="#000" fill-opacity="0.09"/><rect x="148.4" y="296.8" width="1" height="1" fill="#000" fill-opacity="0.24"/><rect x="147.7" y="302.7" width="1" height="1" fill="#000" fill-opacity="0.22"/><rect x="151.9" y="293.8" width="1" height="1" fill="#000" fill-opacity="0.20"/><rect x="145.2" y="277.0" width="1" height="1" fill="#000" fill-opacity="0.05"/><rect x="143.3" y="298.0" width="1" height="1" fill="#000" fill-opacity="0.19"/><rect x="151.9" y="275.6" width="1" height="1" fill="#000" fill-opacity="0.22"/><rect x="148.6" y="273.5" width="1" height="1" fill="#000" fill-opacity="0.14"/><rect x="145.5" y="280.8" width="1" height="1" fill="#000" fill-opacity="0.24"/><rect x="143.3" y="294.7" width="1" height="1" fill="#000" fill-opacity="0.08"/><rect x="152.9" y="275.4" width="1" height="1" fill="#000" fill-opacity="0.05"/><rect x="145.7" y="284.7" width="1" height="1" fill="#000" fill-opacity="0.16"/><rect x="147.5" y="291.1" width="1" height="1" fill="#000" fill-opacity="0.30"/><rect x="143.7" y="275.3" width="1" height="1" fill="#000" fill-opacity="0.27"/><rect x="141.4" y="300.9" width="1" height="1" fill="#000" fill-opacity="0.25"/><rect x="154.7" y="277.4" width="1" height="1" fill="#000" fill-opacity="0.11"/><rect x="145.7" y="299.8" width="1" height="1" fill="#000" fill-opacity="0.19"/><rect x="146.4" y="299.6" width="1" height="1" fill="#000" fill-opacity="0.25"/><rect x="141.3" y="295.1" width="1" height="1" fill="#000" fill-opacity="0.09"/><rect x="147.8" y="274.5" width="1" height="1" fill="#000" fill-opacity="0.16"/><rect x="143.7" y="292.5" width="1" height="1" fill="#000" fill-opacity="0.18"/><rect x="145.1" y="289.6" width="1" height="1" fill="#000" fill-opacity="0.27"/><rect x="158.2" y="280.4" width="1" height="1" fill="#000" fill-opacity="0.09"/><rect x="145.1" y="300.1" width="1" height="1" fill="#000" fill-opacity="0.19"/><rect x="138.1" y="299.6" width="1" height="1" fill="#000" fill-opacity="0.21"/><rect x="143.9" y="289.4" width="1" height="1" fill="#000" fill-opacity="0.13"/><rect x="151.6" y="284.7" width="1" height="1" fill="#000" fill-opacity="0.22"/><rect x="153.0" y="271.2" width="1" height="1" fill="#000" fill-opacity="0.29"/><rect x="151.2" y="284.4" width="1" height="1" fill="#000" fill-opacity="0.16"/><rect x="155.0" y="276.6" width="1" height="1" fill="#000" fill-opacity="0.18"/><rect x="149.1" y="287.1" width="1" height="1" fill="#000" fill-opacity="0.10"/><rect x="151.2" y="285.8" width="1" height="1" fill="#000" fill-opacity="0.08"/><rect x="152.4" y="273.4" width="1" height="1" fill="#000" fill-opacity="0.24"/><rect x="147.4" y="291.2" width="1" height="1" fill="#000" fill-opacity="0.15"/><rect x="141.6" y="301.0" width="1" height="1" fill="#000" fill-opacity="0.26"/><rect x="148.8" y="280.2" width="1" height="1" fill="#000" fill-opacity="0.24"/><rect x="143.6" y="304.4" width="1" height="1" fill="#000" fill-opacity="0.16"/><rect x="151.2" y="290.6" width="1" height="1" fill="#000" fill-opacity="0.27"/><rect x="149.4" y="285.6" width="1" height="1" fill="#000" fill-opacity="0.10"/><rect x="144.5" y="278.2" width="1" height="1" fill="#000" fill-opacity="0.12"/><rect x="153.2" y="303.1" width="1" height="1" fill="#000" fill-opacity="0.30"/><rect x="145.5" y="303.3" width="1" height="1" fill="#000" fill-opacity="0.06"/><rect x="154.2" y="288.6" width="1" height="1" fill="#000" fill-opacity="0.26"/><rect x="144.2" y="286.9" width="1" height="1" fill="#000" fill-opacity="0.25"/><rect x="153.0" y="287.3" width="1" height="1" fill="#000" fill-opacity="0.18"/><rect x="135.7" y="296.2" width="1" height="1" fill="#000" fill-opacity="0.30"/><rect x="153.3" y="304.5" width="1" height="1" fill="#000" fill-opacity="0.07"/><rect x="147.0" y="299.2" width="1" height="1" fill="#000" fill-opacity="0.07"/><rect x="146.5" y="280.1" width="1" height="1" fill="#000" fill-opacity="0.07"/><rect x="143.5" y="271.5" width="1" height="1" fill="#000" fill-opacity="0.24"/><rect x="148.7" y="299.7" width="1" height="1" fill="#000" fill-opacity="0.23"/><rect x="147.2" y="293.2" width="1" height="1" fill="#000" fill-opacity="0.20"/><rect x="148.8" y="288.0" width="1" height="1" fill="#000" fill-opacity="0.09"/><rect x="150.3" y="277.5" width="1" height="1" fill="#000" fill-opacity="0.06"/><rect x="151.0" y="295.3" width="1" height="1" fill="#000" fill-opacity="0.27"/><rect x="149.0" y="290.2" width="1" height="1" fill="#000" fill-opacity="0.18"/><rect x="149.0" y="297.6" width="1" height="1" fill="#000" fill-opacity="0.27"/><rect x="149.9" y="303.5" width="1" height="1" fill="#000" fill-opacity="0.24"/><rect x="142.5" y="295.2" width="1" height="1" fill="#000" fill-opacity="0.05"/><rect x="145.3" y="300.7" width="1" height="1" fill="#000" fill-opacity="0.06"/><rect x="148.2" y="279.5" width="1" height="1" fill="#000" fill-opacity="0.26"/><rect x="151.4" y="276.5" width="1" height="1" fill="#000" fill-opacity="0.26"/><rect x="144.5" y="282.8" width="1" height="1" fill="#000" fill-opacity="0.16"/><rect x="148.8" y="292.8" width="1" height="1" fill="#000" fill-opacity="0.08"/><rect x="147.5" y="291.6" width="1" height="1" fill="#000" fill-opacity="0.06"/><rect x="145.3" y="271.8" width="1" height="1" fill="#000" fill-opacity="0.27"/><rect x="142.9" y="299.2" width="1" height="1" fill="#000" fill-opacity="0.27"/><rect x="149.6" y="272.3" width="1" height="1" fill="#000" fill-opacity="0.24"/><rect x="151.1" y="275.1" width="1" height="1" fill="#000" fill-opacity="0.24"/><rect x="145.4" y="293.4" width="1" height="1" fill="#000" fill-opacity="0.08"/><rect x="145.8" y="293.0" width="1" height="1" fill="#000" fill-opacity="0.22"/><rect x="146.7" y="302.9" width="1" height="1" fill="#000" fill-opacity="0.30"/><rect x="145.8" y="298.9" width="1" height="1" fill="#000" fill-opacity="0.24"/><rect x="152.7" y="278.0" width="1" height="1" fill="#000" fill-opacity="0.20"/><rect x="145.1" y="297.2" width="1" height="1" fill="#000" fill-opacity="0.25"/><rect x="150.2" y="302.4" width="1" height="1" fill="#000" fill-opacity="0.05"/><rect x="146.9" y="273.0" width="1" height="1" fill="#000" fill-opacity="0.10"/><rect x="145.6" y="303.3" width="1" height="1" fill="#000" fill-opacity="0.09"/><rect x="149.3" y="282.3" width="1" height="1" fill="#000" fill-opacity="0.31"/><rect x="152.2" y="285.4" width="1" height="1" fill="#000" fill-opacity="0.21"/><rect x="140.8" y="294.2" width="1" height="1" fill="#000" fill-opacity="0.08"/><rect x="143.1" y="301.2" width="1" height="1" fill="#000" fill-opacity="0.22"/><rect x="145.8" y="296.3" width="1" height="1" fill="#000" fill-opacity="0.16"/><rect x="146.1" y="288.5" width="1" height="1" fill="#000" fill-opacity="0.08"/><rect x="146.8" y="283.2" width="1" height="1" fill="#000" fill-opacity="0.08"/><rect x="151.8" y="283.8" width="1" height="1" fill="#000" fill-opacity="0.30"/><rect x="147.1" y="286.0" width="1" height="1" fill="#000" fill-opacity="0.29"/><rect x="147.6" y="289.3" width="1" height="1" fill="#000" fill-opacity="0.07"/><rect x="141.6" y="289.6" width="1" height="1" fill="#000" fill-opacity="0.17"/><rect x="142.6" y="291.5" width="1" height="1" fill="#000" fill-opacity="0.23"/><rect x="142.7" y="278.3" width="1" height="1" fill="#000" fill-opacity="0.06"/><rect x="142.5" y="282.6" width="1" height="1" fill="#000" fill-opacity="0.05"/><rect x="138.6" y="300.7" width="1" height="1" fill="#000" fill-opacity="0.30"/><rect x="145.3" y="294.6" width="1" height="1" fill="#000" fill-opacity="0.12"/><rect x="141.9" y="292.4" width="1" height="1" fill="#000" fill-opacity="0.16"/><rect x="144.6" y="271.1" width="1" height="1" fill="#000" fill-opacity="0.09"/><rect x="147.1" y="282.3" width="1" height="1" fill="#000" fill-opacity="0.17"/><rect x="149.6" y="281.0" width="1" height="1" fill="#000" fill-opacity="0.30"/><rect x="146.9" y="286.2" width="1" height="1" fill="#000" fill-opacity="0.08"/><rect x="149.6" y="291.5" width="1" height="1" fill="#000" fill-opacity="0.25"/><rect x="149.9" y="282.3" width="1" height="1" fill="#000" fill-opacity="0.26"/><rect x="149.3" y="301.0" width="1" height="1" fill="#000" fill-opacity="0.14"/><rect x="150.6" y="282.3" width="1" height="1" fill="#000" fill-opacity="0.09"/><rect x="146.1" y="281.3" width="1" height="1" fill="#000" fill-opacity="0.23"/><rect x="143.8" y="303.2" width="1" height="1" fill="#000" fill-opacity="0.17"/><rect x="150.9" y="300.3" width="1" height="1" fill="#000" fill-opacity="0.15"/><rect x="149.1" y="286.1" width="1" height="1" fill="#000" fill-opacity="0.11"/><rect x="150.0" y="273.5" width="1" height="1" fill="#000" fill-opacity="0.05"/><rect x="148.0" y="272.2" width="1" height="1" fill="#000" fill-opacity="0.12"/><rect x="148.8" y="302.5" width="1" height="1" fill="#000" fill-opacity="0.07"/><rect x="152.6" y="294.6" width="1" height="1" fill="#000" fill-opacity="0.19"/><rect x="141.0" y="295.3" width="1" height="1" fill="#000" fill-opacity="0.23"/><rect x="140.6" y="285.5" width="1" height="1" fill="#000" fill-opacity="0.18"/><rect x="142.7" y="296.6" width="1" height="1" fill="#000" fill-opacity="0.17"/><rect x="143.0" y="290.5" width="1" height="1" fill="#000" fill-opacity="0.22"/><rect x="143.4" y="299.8" width="1" height="1" fill="#000" fill-opacity="0.05"/><rect x="134.7" y="298.4" width="1" height="1" fill="#000" fill-opacity="0.30"/><rect x="148.1" y="303.0" width="1" height="1" fill="#000" fill-opacity="0.05"/><rect x="143.6" y="285.4" width="1" height="1" fill="#000" fill-opacity="0.05"/><rect x="146.7" y="276.8" width="1" height="1" fill="#000" fill-opacity="0.27"/><rect x="155.4" y="301.7" width="1" height="1" fill="#000" fill-opacity="0.12"/><rect x="146.0" y="301.3" width="1" height="1" fill="#000" fill-opacity="0.06"/><rect x="143.8" y="302.2" width="1" height="1" fill="#000" fill-opacity="0.26"/><rect x="144.2" y="298.6" width="1" height="1" fill="#000" fill-opacity="0.16"/><rect x="150.9" y="293.2" width="1" height="1" fill="#000" fill-opacity="0.29"/><rect x="138.5" y="295.7" width="1" height="1" fill="#000" fill-opacity="0.08"/><rect x="147.3" y="300.7" width="1" height="1" fill="#000" fill-opacity="0.25"/><rect x="152.6" y="296.4" width="1" height="1" fill="#000" fill-opacity="0.11"/><rect x="141.8" y="295.9" width="1" height="1" fill="#000" fill-opacity="0.06"/><rect x="146.5" y="275.8" width="1" height="1" fill="#000" fill-opacity="0.07"/><rect x="147.6" y="299.2" width="1" height="1" fill="#000" fill-opacity="0.26"/><rect x="140.0" y="301.8" width="1" height="1" fill="#000" fill-opacity="0.15"/><rect x="145.6" y="290.1" width="1" height="1" fill="#000" fill-opacity="0.12"/><rect x="150.1" y="300.2" width="1" height="1" fill="#000" fill-opacity="0.16"/><rect x="138.1" y="298.4" width="1" height="1" fill="#000" fill-opacity="0.28"/><rect x="149.0" y="299.9" width="1" height="1" fill="#000" fill-opacity="0.25"/><rect x="152.4" y="287.6" width="1" height="1" fill="#000" fill-opacity="0.06"/><rect x="151.5" y="271.4" width="1" height="1" fill="#000" fill-opacity="0.31"/><rect x="151.5" y="279.1" width="1" height="1" fill="#000" fill-opacity="0.22"/><rect x="148.4" y="303.1" width="1" height="1" fill="#000" fill-opacity="0.05"/><rect x="146.1" y="279.2" width="1" height="1" fill="#000" fill-opacity="0.28"/><rect x="136.3" y="303.7" width="1" height="1" fill="#000" fill-opacity="0.10"/><rect x="149.1" y="296.9" width="1" height="1" fill="#000" fill-opacity="0.23"/><rect x="155.0" y="292.3" width="1" height="1" fill="#000" fill-opacity="0.26"/><rect x="148.3" y="282.5" width="1" height="1" fill="#000" fill-opacity="0.07"/><rect x="144.7" y="283.2" width="1" height="1" fill="#000" fill-opacity="0.16"/><rect x="144.2" y="296.8" width="1" height="1" fill="#000" fill-opacity="0.07"/><rect x="148.5" y="274.2" width="1" height="1" fill="#000" fill-opacity="0.30"/><rect x="148.8" y="289.8" width="1" height="1" fill="#000" fill-opacity="0.19"/><rect x="148.9" y="295.7" width="1" height="1" fill="#000" fill-opacity="0.25"/><rect x="149.5" y="297.8" width="1" height="1" fill="#000" fill-opacity="0.28"/><rect x="148.6" y="296.8" width="1" height="1" fill="#000" fill-opacity="0.13"/><rect x="144.2" y="301.9" width="1" height="1" fill="#000" fill-opacity="0.06"/><rect x="144.3" y="289.4" width="1" height="1" fill="#000" fill-opacity="0.08"/><rect x="150.5" y="296.6" width="1" height="1" fill="#000" fill-opacity="0.10"/><rect x="152.4" y="274.8" width="1" height="1" fill="#000" fill-opacity="0.26"/><rect x="149.7" y="287.6" width="1" height="1" fill="#000" fill-opacity="0.08"/><rect x="151.3" y="270.6" width="1" height="1" fill="#000" fill-opacity="0.05"/><rect x="148.5" y="292.3" width="1" height="1" fill="#000" fill-opacity="0.26"/><rect x="144.7" y="297.5" width="1" height="1" fill="#000" fill-opacity="0.06"/><rect x="153.5" y="304.3" width="1" height="1" fill="#000" fill-opacity="0.19"/><rect x="143.2" y="302.9" width="1" height="1" fill="#000" fill-opacity="0.17"/><rect x="148.9" y="276.7" width="1" height="1" fill="#000" fill-opacity="0.13"/><rect x="141.7" y="297.8" width="1" height="1" fill="#000" fill-opacity="0.05"/><rect x="141.6" y="298.8" width="1" height="1" fill="#000" fill-opacity="0.11"/><rect x="146.6" y="290.0" width="1" height="1" fill="#000" fill-opacity="0.08"/><rect x="154.1" y="274.5" width="1" height="1" fill="#000" fill-opacity="0.10"/><rect x="148.2" y="299.3" width="1" height="1" fill="#000" fill-opacity="0.08"/><rect x="150.2" y="275.4" width="1" height="1" fill="#000" fill-opacity="0.12"/><rect x="157.3" y="292.2" width="1" height="1" fill="#000" fill-opacity="0.22"/><rect x="143.4" y="298.8" width="1" height="1" fill="#000" fill-opacity="0.10"/><rect x="147.2" y="290.0" width="1" height="1" fill="#000" fill-opacity="0.08"/><rect x="150.2" y="298.8" width="1" height="1" fill="#000" fill-opacity="0.22"/><rect x="143.9" y="286.4" width="1" height="1" fill="#000" fill-opacity="0.17"/><rect x="149.7" y="283.3" width="1" height="1" fill="#000" fill-opacity="0.05"/><rect x="146.2" y="277.0" width="1" height="1" fill="#000" fill-opacity="0.29"/><rect x="149.4" y="280.5" width="1" height="1" fill="#000" fill-opacity="0.10"/><rect x="141.0" y="304.2" width="1" height="1" fill="#000" fill-opacity="0.11"/><rect x="147.6" y="302.6" width="1" height="1" fill="#000" fill-opacity="0.16"/><rect x="146.7" y="298.3" width="1" height="1" fill="#000" fill-opacity="0.09"/><rect x="144.9" y="277.7" width="1" height="1" fill="#000" fill-opacity="0.13"/><rect x="145.4" y="303.0" width="1" height="1" fill="#000" fill-opacity="0.12"/><rect x="150.5" y="274.3" width="1" height="1" fill="#000" fill-opacity="0.29"/><rect x="149.7" y="284.6" width="1" height="1" fill="#000" fill-opacity="0.07"/><rect x="149.3" y="294.6" width="1" height="1" fill="#000" fill-opacity="0.18"/><rect x="140.8" y="304.2" width="1" height="1" fill="#000" fill-opacity="0.19"/><rect x="149.3" y="277.7" width="1" height="1" fill="#000" fill-opacity="0.12"/><rect x="147.3" y="286.4" width="1" height="1" fill="#000" fill-opacity="0.18"/><rect x="150.5" y="303.6" width="1" height="1" fill="#000" fill-opacity="0.15"/><rect x="148.6" y="290.1" width="1" height="1" fill="#000" fill-opacity="0.24"/><rect x="149.6" y="295.4" width="1" height="1" fill="#000" fill-opacity="0.07"/><rect x="142.2" y="297.4" width="1" height="1" fill="#000" fill-opacity="0.10"/><rect x="146.0" y="296.2" width="1" height="1" fill="#000" fill-opacity="0.08"/><rect x="146.0" y="290.0" width="1" height="1" fill="#000" fill-opacity="0.17"/><rect x="145.5" y="296.7" width="1" height="1" fill="#000" fill-opacity="0.30"/><rect x="153.0" y="273.1" width="1" height="1" fill="#000" fill-opacity="0.10"/><rect x="150.8" y="302.3" width="1" height="1" fill="#000" fill-opacity="0.26"/><rect x="150.5" y="274.4" width="1" height="1" fill="#000" fill-opacity="0.30"/><rect x="142.4" y="288.2" width="1" height="1" fill="#000" fill-opacity="0.19"/><rect x="152.7" y="284.6" width="1" height="1" fill="#000" fill-opacity="0.09"/><rect x="139.5" y="299.7" width="1" height="1" fill="#000" fill-opacity="0.15"/><rect x="143.3" y="286.9" width="1" height="1" fill="#000" fill-opacity="0.25"/><rect x="154.0" y="283.2" width="1" height="1" fill="#000" fill-opacity="0.15"/><rect x="150.6" y="282.9" width="1" height="1" fill="#000" fill-opacity="0.06"/><rect x="155.0" y="274.6" width="1" height="1" fill="#000" fill-opacity="0.18"/><rect x="148.5" y="297.7" width="1" height="1" fill="#000" fill-opacity="0.13"/><rect x="152.9" y="282.9" width="1" height="1" fill="#000" fill-opacity="0.06"/><rect x="146.1" y="275.7" width="1" height="1" fill="#000" fill-opacity="0.22"/><rect x="149.6" y="286.3" width="1" height="1" fill="#000" fill-opacity="0.13"/><rect x="145.4" y="297.2" width="1" height="1" fill="#000" fill-opacity="0.08"/><rect x="149.2" y="277.7" width="1" height="1" fill="#000" fill-opacity="0.06"/><rect x="148.2" y="302.9" width="1" height="1" fill="#000" fill-opacity="0.15"/><rect x="144.8" y="287.0" width="1" height="1" fill="#000" fill-opacity="0.21"/><rect x="146.6" y="296.4" width="1" height="1" fill="#000" fill-opacity="0.25"/><rect x="146.4" y="296.6" width="1" height="1" fill="#000" fill-opacity="0.18"/><rect x="146.5" y="296.8" width="1" height="1" fill="#000" fill-opacity="0.17"/><rect x="142.5" y="296.3" width="1" height="1" fill="#000" fill-opacity="0.25"/><rect x="150.5" y="279.7" width="1" height="1" fill="#000" fill-opacity="0.29"/><rect x="153.1" y="298.9" width="1" height="1" fill="#000" fill-opacity="0.07"/><rect x="151.2" y="273.4" width="1" height="1" fill="#000" fill-opacity="0.23"/><rect x="149.2" y="273.4" width="1" height="1" fill="#000" fill-opacity="0.09"/><rect x="147.0" y="279.6" width="1" height="1" fill="#000" fill-opacity="0.14"/><rect x="153.9" y="291.2" width="1" height="1" fill="#000" fill-opacity="0.06"/><rect x="147.2" y="284.6" width="1" height="1" fill="#000" fill-opacity="0.05"/><rect x="142.2" y="302.8" width="1" height="1" fill="#000" fill-opacity="0.08"/><rect x="149.7" y="270.6" width="1" height="1" fill="#000" fill-opacity="0.22"/><rect x="136.4" y="301.8" width="1" height="1" fill="#000" fill-opacity="0.11"/><rect x="155.5" y="272.6" width="1" height="1" fill="#000" fill-opacity="0.24"/><rect x="139.6" y="282.3" width="1" height="1" fill="#000" fill-opacity="0.22"/><rect x="148.8" y="274.1" width="1" height="1" fill="#000" fill-opacity="0.10"/><rect x="146.0" y="304.3" width="1" height="1" fill="#000" fill-opacity="0.09"/><rect x="147.4" y="286.9" width="1" height="1" fill="#000" fill-opacity="0.06"/><rect x="149.8" y="295.1" width="1" height="1" fill="#000" fill-opacity="0.15"/><rect x="149.2" y="286.9" width="1" height="1" fill="#000" fill-opacity="0.08"/><rect x="145.1" y="303.1" width="1" height="1" fill="#000" fill-opacity="0.28"/><rect x="144.3" y="285.3" width="1" height="1" fill="#000" fill-opacity="0.05"/><rect x="144.5" y="274.6" width="1" height="1" fill="#000" fill-opacity="0.10"/><rect x="143.0" y="285.5" width="1" height="1" fill="#000" fill-opacity="0.09"/><rect x="150.4" y="297.6" width="1" height="1" fill="#000" fill-opacity="0.08"/><rect x="146.5" y="281.8" width="1" height="1" fill="#000" fill-opacity="0.11"/><rect x="148.3" y="287.7" width="1" height="1" fill="#000" fill-opacity="0.11"/><rect x="150.8" y="286.8" width="1" height="1" fill="#000" fill-opacity="0.24"/><rect x="141.5" y="296.8" width="1" height="1" fill="#000" fill-opacity="0.26"/><rect x="149.0" y="273.0" width="1" height="1" fill="#000" fill-opacity="0.06"/><rect x="148.5" y="280.5" width="1" height="1" fill="#000" fill-opacity="0.26"/><rect x="144.1" y="281.8" width="1" height="1" fill="#000" fill-opacity="0.06"/><rect x="147.6" y="286.6" width="1" height="1" fill="#000" fill-opacity="0.31"/><rect x="139.6" y="299.8" width="1" height="1" fill="#000" fill-opacity="0.19"/><rect x="141.5" y="295.3" width="1" height="1" fill="#000" fill-opacity="0.08"/><rect x="155.0" y="281.5" width="1" height="1" fill="#000" fill-opacity="0.12"/><rect x="145.4" y="281.0" width="1" height="1" fill="#000" fill-opacity="0.24"/><rect x="147.0" y="294.5" width="1" height="1" fill="#000" fill-opacity="0.07"/><rect x="141.0" y="304.5" width="1" height="1" fill="#000" fill-opacity="0.21"/><rect x="149.9" y="280.7" width="1" height="1" fill="#000" fill-opacity="0.10"/><rect x="146.5" y="299.7" width="1" height="1" fill="#000" fill-opacity="0.21"/><rect x="141.3" y="300.2" width="1" height="1" fill="#000" fill-opacity="0.10"/><rect x="147.1" y="276.6" width="1" height="1" fill="#000" fill-opacity="0.13"/><rect x="145.5" y="289.8" width="1" height="1" fill="#000" fill-opacity="0.07"/><rect x="147.0" y="272.5" width="1" height="1" fill="#000" fill-opacity="0.22"/><rect x="142.3" y="288.6" width="1" height="1" fill="#000" fill-opacity="0.09"/><rect x="145.8" y="303.2" width="1" height="1" fill="#000" fill-opacity="0.15"/><rect x="156.8" y="274.7" width="1" height="1" fill="#000" fill-opacity="0.11"/><rect x="155.0" y="270.6" width="1" height="1" fill="#000" fill-opacity="0.23"/><rect x="148.4" y="297.8" width="1" height="1" fill="#000" fill-opacity="0.30"/><rect x="155.9" y="278.6" width="1" height="1" fill="#000" fill-opacity="0.17"/><rect x="149.0" y="288.6" width="1" height="1" fill="#000" fill-opacity="0.25"/><rect x="138.7" y="297.3" width="1" height="1" fill="#000" fill-opacity="0.25"/><rect x="149.4" y="272.5" width="1" height="1" fill="#000" fill-opacity="0.07"/><rect x="147.9" y="284.6" width="1" height="1" fill="#000" fill-opacity="0.12"/><rect x="146.4" y="274.0" width="1" height="1" fill="#000" fill-opacity="0.07"/><rect x="142.8" y="289.3" width="1" height="1" fill="#000" fill-opacity="0.21"/><rect x="151.6" y="274.0" width="1" height="1" fill="#000" fill-opacity="0.14"/><rect x="148.5" y="271.4" width="1" height="1" fill="#000" fill-opacity="0.06"/><rect x="148.7" y="303.3" width="1" height="1" fill="#000" fill-opacity="0.10"/><rect x="153.7" y="282.4" width="1" height="1" fill="#000" fill-opacity="0.25"/><rect x="154.0" y="278.4" width="1" height="1" fill="#000" fill-opacity="0.24"/><rect x="149.8" y="282.6" width="1" height="1" fill="#000" fill-opacity="0.26"/><rect x="143.9" y="278.1" width="1" height="1" fill="#000" fill-opacity="0.15"/><rect x="139.9" y="302.4" width="1" height="1" fill="#000" fill-opacity="0.09"/><rect x="147.8" y="273.3" width="1" height="1" fill="#000" fill-opacity="0.26"/><rect x="151.8" y="283.3" width="1" height="1" fill="#000" fill-opacity="0.23"/><rect x="145.7" y="291.3" width="1" height="1" fill="#000" fill-opacity="0.07"/><rect x="145.9" y="301.1" width="1" height="1" fill="#000" fill-opacity="0.15"/><rect x="152.5" y="289.3" width="1" height="1" fill="#000" fill-opacity="0.06"/><rect x="149.4" y="294.2" width="1" height="1" fill="#000" fill-opacity="0.05"/><rect x="153.0" y="291.1" width="1" height="1" fill="#000" fill-opacity="0.11"/><rect x="155.4" y="277.6" width="1" height="1" fill="#000" fill-opacity="0.13"/><rect x="148.4" y="296.1" width="1" height="1" fill="#000" fill-opacity="0.15"/><rect x="145.6" y="285.1" width="1" height="1" fill="#000" fill-opacity="0.31"/><rect x="152.1" y="282.6" width="1" height="1" fill="#000" fill-opacity="0.29"/><rect x="150.4" y="276.6" width="1" height="1" fill="#000" fill-opacity="0.11"/><rect x="144.9" y="301.9" width="1" height="1" fill="#000" fill-opacity="0.07"/><rect x="154.8" y="275.0" width="1" height="1" fill="#000" fill-opacity="0.09"/><rect x="147.4" y="283.1" width="1" height="1" fill="#000" fill-opacity="0.15"/><rect x="145.4" y="285.5" width="1" height="1" fill="#000" fill-opacity="0.09"/><rect x="140.8" y="289.1" width="1" height="1" fill="#000" fill-opacity="0.09"/><rect x="138.1" y="300.7" width="1" height="1" fill="#000" fill-opacity="0.14"/><rect x="139.6" y="286.7" width="1" height="1" fill="#000" fill-opacity="0.07"/><rect x="148.1" y="289.9" width="1" height="1" fill="#000" fill-opacity="0.13"/><rect x="141.5" y="300.0" width="1" height="1" fill="#000" fill-opacity="0.11"/><rect x="149.8" y="279.8" width="1" height="1" fill="#000" fill-opacity="0.30"/><rect x="150.4" y="271.8" width="1" height="1" fill="#000" fill-opacity="0.29"/><rect x="149.9" y="303.0" width="1" height="1" fill="#000" fill-opacity="0.06"/><rect x="150.8" y="303.4" width="1" height="1" fill="#000" fill-opacity="0.12"/><rect x="144.4" y="302.6" width="1" height="1" fill="#000" fill-opacity="0.27"/><rect x="147.4" y="270.8" width="1" height="1" fill="#000" fill-opacity="0.16"/><rect x="138.0" y="296.6" width="1" height="1" fill="#000" fill-opacity="0.07"/><rect x="148.9" y="296.8" width="1" height="1" fill="#000" fill-opacity="0.05"/><rect x="149.1" y="303.9" width="1" height="1" fill="#000" fill-opacity="0.27"/><rect x="150.4" y="276.8" width="1" height="1" fill="#000" fill-opacity="0.13"/><rect x="144.3" y="288.7" width="1" height="1" fill="#000" fill-opacity="0.23"/><rect x="141.2" y="296.8" width="1" height="1" fill="#000" fill-opacity="0.25"/><rect x="146.3" y="295.4" width="1" height="1" fill="#000" fill-opacity="0.05"/><rect x="148.8" y="293.6" width="1" height="1" fill="#000" fill-opacity="0.18"/><rect x="144.0" y="301.8" width="1" height="1" fill="#000" fill-opacity="0.09"/><rect x="151.3" y="285.6" width="1" height="1" fill="#000" fill-opacity="0.17"/><rect x="149.6" y="294.1" width="1" height="1" fill="#000" fill-opacity="0.22"/><rect x="148.1" y="276.9" width="1" height="1" fill="#000" fill-opacity="0.22"/><rect x="154.1" y="286.7" width="1" height="1" fill="#000" fill-opacity="0.17"/><rect x="147.3" y="287.7" width="1" height="1" fill="#000" fill-opacity="0.09"/><rect x="142.5" y="284.7" width="1" height="1" fill="#000" fill-opacity="0.21"/><rect x="150.0" y="291.5" width="1" height="1" fill="#000" fill-opacity="0.16"/><rect x="145.7" y="287.7" width="1" height="1" fill="#000" fill-opacity="0.17"/><rect x="145.0" y="300.4" width="1" height="1" fill="#000" fill-opacity="0.15"/><rect x="145.4" y="291.9" width="1" height="1" fill="#000" fill-opacity="0.20"/><rect x="151.6" y="276.4" width="1" height="1" fill="#000" fill-opacity="0.28"/><rect x="147.0" y="291.2" width="1" height="1" fill="#000" fill-opacity="0.14"/><rect x="147.7" y="303.9" width="1" height="1" fill="#000" fill-opacity="0.09"/><rect x="144.2" y="296.8" width="1" height="1" fill="#000" fill-opacity="0.08"/><rect x="145.2" y="297.3" width="1" height="1" fill="#000" fill-opacity="0.11"/><rect x="152.9" y="280.5" width="1" height="1" fill="#000" fill-opacity="0.28"/><rect x="146.2" y="273.4" width="1" height="1" fill="#000" fill-opacity="0.21"/><rect x="152.3" y="281.8" width="1" height="1" fill="#000" fill-opacity="0.12"/><rect x="146.4" y="300.2" width="1" height="1" fill="#000" fill-opacity="0.10"/><rect x="142.9" y="284.0" width="1" height="1" fill="#000" fill-opacity="0.05"/><rect x="156.1" y="279.4" width="1" height="1" fill="#000" fill-opacity="0.06"/><rect x="142.6" y="283.1" width="1" height="1" fill="#000" fill-opacity="0.23"/><rect x="143.7" y="301.6" width="1" height="1" fill="#000" fill-opacity="0.08"/><rect x="143.7" y="304.1" width="1" height="1" fill="#000" fill-opacity="0.09"/><rect x="144.1" y="276.8" width="1" height="1" fill="#000" fill-opacity="0.30"/><rect x="141.8" y="301.3" width="1" height="1" fill="#000" fill-opacity="0.25"/><rect x="147.7" y="274.9" width="1" height="1" fill="#000" fill-opacity="0.07"/><rect x="144.2" y="292.3" width="1" height="1" fill="#000" fill-opacity="0.11"/><rect x="143.6" y="298.2" width="1" height="1" fill="#000" fill-opacity="0.08"/><rect x="140.5" y="300.7" width="1" height="1" fill="#000" fill-opacity="0.14"/><rect x="145.9" y="282.3" width="1" height="1" fill="#000" fill-opacity="0.27"/><rect x="144.4" y="280.5" width="1" height="1" fill="#000" fill-opacity="0.13"/><rect x="147.0" y="280.9" width="1" height="1" fill="#000" fill-opacity="0.07"/><rect x="143.6" y="294.4" width="1" height="1" fill="#000" fill-opacity="0.21"/><rect x="147.2" y="280.7" width="1" height="1" fill="#000" fill-opacity="0.06"/><rect x="152.3" y="286.6" width="1" height="1" fill="#000" fill-opacity="0.13"/><rect x="149.5" y="280.1" width="1" height="1" fill="#000" fill-opacity="0.30"/><rect x="144.9" y="300.7" width="1" height="1" fill="#000" fill-opacity="0.30"/><rect x="150.4" y="271.1" width="1" height="1" fill="#000" fill-opacity="0.06"/><rect x="152.1" y="274.3" width="1" height="1" fill="#000" fill-opacity="0.22"/><rect x="150.8" y="271.9" width="1" height="1" fill="#000" fill-opacity="0.23"/><rect x="143.1" y="295.1" width="1" height="1" fill="#000" fill-opacity="0.10"/><rect x="146.0" y="292.8" width="1" height="1" fill="#000" fill-opacity="0.16"/><rect x="144.6" y="287.8" width="1" height="1" fill="#000" fill-opacity="0.23"/><rect x="142.8" y="291.3" width="1" height="1" fill="#000" fill-opacity="0.13"/><rect x="150.7" y="281.5" width="1" height="1" fill="#000" fill-opacity="0.06"/><rect x="150.4" y="300.6" width="1" height="1" fill="#000" fill-opacity="0.25"/><rect x="148.8" y="286.6" width="1" height="1" fill="#000" fill-opacity="0.18"/><rect x="150.8" y="273.2" width="1" height="1" fill="#000" fill-opacity="0.08"/><rect x="144.7" y="288.8" width="1" height="1" fill="#000" fill-opacity="0.08"/><rect x="151.1" y="286.7" width="1" height="1" fill="#000" fill-opacity="0.21"/><rect x="148.4" y="298.3" width="1" height="1" fill="#000" fill-opacity="0.06"/><rect x="151.3" y="280.8" width="1" height="1" fill="#000" fill-opacity="0.17"/><rect x="155.9" y="275.2" width="1" height="1" fill="#000" fill-opacity="0.15"/><rect x="147.3" y="290.6" width="1" height="1" fill="#000" fill-opacity="0.29"/><rect x="147.7" y="299.4" width="1" height="1" fill="#000" fill-opacity="0.06"/><rect x="145.6" y="273.3" width="1" height="1" fill="#000" fill-opacity="0.28"/><rect x="147.5" y="281.5" width="1" height="1" fill="#000" fill-opacity="0.08"/><rect x="142.9" y="297.5" width="1" height="1" fill="#000" fill-opacity="0.08"/><rect x="140.9" y="298.5" width="1" height="1" fill="#000" fill-opacity="0.14"/><rect x="147.9" y="303.5" width="1" height="1" fill="#000" fill-opacity="0.07"/><rect x="142.5" y="287.3" width="1" height="1" fill="#000" fill-opacity="0.17"/><rect x="138.5" y="302.8" width="1" height="1" fill="#000" fill-opacity="0.13"/><rect x="151.2" y="281.7" width="1" height="1" fill="#000" fill-opacity="0.08"/><rect x="148.1" y="270.6" width="1" height="1" fill="#000" fill-opacity="0.05"/><rect x="142.1" y="295.2" width="1" height="1" fill="#000" fill-opacity="0.05"/><rect x="148.4" y="292.3" width="1" height="1" fill="#000" fill-opacity="0.09"/><rect x="148.9" y="301.5" width="1" height="1" fill="#000" fill-opacity="0.09"/><rect x="150.7" y="290.1" width="1" height="1" fill="#000" fill-opacity="0.29"/><rect x="151.9" y="281.9" width="1" height="1" fill="#000" fill-opacity="0.29"/><rect x="144.0" y="302.4" width="1" height="1" fill="#000" fill-opacity="0.29"/><rect x="144.9" y="290.4" width="1" height="1" fill="#000" fill-opacity="0.21"/><rect x="149.8" y="279.7" width="1" height="1" fill="#000" fill-opacity="0.24"/><rect x="150.2" y="278.0" width="1" height="1" fill="#000" fill-opacity="0.12"/><rect x="153.6" y="304.2" width="1" height="1" fill="#000" fill-opacity="0.20"/><rect x="147.9" y="294.6" width="1" height="1" fill="#000" fill-opacity="0.20"/><rect x="154.6" y="278.5" width="1" height="1" fill="#000" fill-opacity="0.30"/><rect x="149.5" y="276.0" width="1" height="1" fill="#000" fill-opacity="0.27"/><rect x="145.6" y="292.3" width="1" height="1" fill="#000" fill-opacity="0.23"/><rect x="147.1" y="284.3" width="1" height="1" fill="#000" fill-opacity="0.12"/><rect x="147.6" y="303.7" width="1" height="1" fill="#000" fill-opacity="0.28"/><rect x="150.9" y="291.2" width="1" height="1" fill="#000" fill-opacity="0.26"/><rect x="146.0" y="300.3" width="1" height="1" fill="#000" fill-opacity="0.09"/><rect x="151.4" y="279.0" width="1" height="1" fill="#000" fill-opacity="0.11"/><rect x="144.7" y="296.3" width="1" height="1" fill="#000" fill-opacity="0.26"/><rect x="144.8" y="282.9" width="1" height="1" fill="#000" fill-opacity="0.25"/><rect x="143.6" y="292.8" width="1" height="1" fill="#000" fill-opacity="0.31"/><rect x="151.8" y="272.9" width="1" height="1" fill="#000" fill-opacity="0.16"/><rect x="154.3" y="290.4" width="1" height="1" fill="#000" fill-opacity="0.17"/><rect x="150.5" y="293.3" width="1" height="1" fill="#000" fill-opacity="0.07"/><rect x="146.4" y="291.2" width="1" height="1" fill="#000" fill-opacity="0.09"/><rect x="144.5" y="289.8" width="1" height="1" fill="#000" fill-opacity="0.14"/><rect x="149.6" y="304.4" width="1" height="1" fill="#000" fill-opacity="0.21"/><rect x="148.4" y="294.3" width="1" height="1" fill="#000" fill-opacity="0.05"/><rect x="148.7" y="298.7" width="1" height="1" fill="#000" fill-opacity="0.08"/><rect x="154.8" y="271.3" width="1" height="1" fill="#000" fill-opacity="0.09"/><rect x="151.1" y="300.5" width="1" height="1" fill="#000" fill-opacity="0.15"/><rect x="149.3" y="279.5" width="1" height="1" fill="#000" fill-opacity="0.19"/><rect x="155.9" y="288.7" width="1" height="1" fill="#000" fill-opacity="0.08"/><rect x="149.5" y="299.0" width="1" height="1" fill="#000" fill-opacity="0.07"/><rect x="146.0" y="287.0" width="1" height="1" fill="#000" fill-opacity="0.08"/><rect x="142.2" y="304.4" width="1" height="1" fill="#000" fill-opacity="0.17"/><rect x="150.4" y="282.3" width="1" height="1" fill="#000" fill-opacity="0.22"/><rect x="150.2" y="282.3" width="1" height="1" fill="#000" fill-opacity="0.06"/><rect x="148.9" y="271.0" width="1" height="1" fill="#000" fill-opacity="0.10"/><rect x="145.0" y="271.9" width="1" height="1" fill="#000" fill-opacity="0.13"/><rect x="155.0" y="285.2" width="1" height="1" fill="#000" fill-opacity="0.07"/><rect x="144.9" y="301.8" width="1" height="1" fill="#000" fill-opacity="0.07"/><rect x="150.0" y="302.1" width="1" height="1" fill="#000" fill-opacity="0.14"/><rect x="143.4" y="294.7" width="1" height="1" fill="#000" fill-opacity="0.14"/><rect x="146.5" y="292.4" width="1" height="1" fill="#000" fill-opacity="0.26"/><rect x="145.7" y="276.9" width="1" height="1" fill="#000" fill-opacity="0.26"/><rect x="150.4" y="280.8" width="1" height="1" fill="#000" fill-opacity="0.25"/><rect x="150.6" y="295.1" width="1" height="1" fill="#000" fill-opacity="0.16"/><rect x="147.9" y="299.6" width="1" height="1" fill="#000" fill-opacity="0.11"/><rect x="146.3" y="278.1" width="1" height="1" fill="#000" fill-opacity="0.06"/><rect x="141.1" y="304.4" width="1" height="1" fill="#000" fill-opacity="0.06"/><rect x="148.9" y="293.9" width="1" height="1" fill="#000" fill-opacity="0.23"/><rect x="154.5" y="275.4" width="1" height="1" fill="#000" fill-opacity="0.06"/><rect x="143.3" y="294.8" width="1" height="1" fill="#000" fill-opacity="0.13"/><rect x="146.3" y="304.1" width="1" height="1" fill="#000" fill-opacity="0.23"/><rect x="145.4" y="283.7" width="1" height="1" fill="#000" fill-opacity="0.09"/><rect x="144.1" y="295.6" width="1" height="1" fill="#000" fill-opacity="0.05"/><rect x="147.9" y="292.9" width="1" height="1" fill="#000" fill-opacity="0.08"/><rect x="147.9" y="298.4" width="1" height="1" fill="#000" fill-opacity="0.12"/><rect x="138.3" y="304.2" width="1" height="1" fill="#000" fill-opacity="0.22"/><rect x="152.1" y="298.1" width="1" height="1" fill="#000" fill-opacity="0.27"/><rect x="150.5" y="298.3" width="1" height="1" fill="#000" fill-opacity="0.15"/><rect x="146.4" y="275.2" width="1" height="1" fill="#000" fill-opacity="0.07"/><rect x="145.0" y="304.1" width="1" height="1" fill="#000" fill-opacity="0.27"/><rect x="151.0" y="278.3" width="1" height="1" fill="#000" fill-opacity="0.07"/><rect x="153.2" y="280.9" width="1" height="1" fill="#000" fill-opacity="0.11"/><rect x="146.9" y="282.9" width="1" height="1" fill="#000" fill-opacity="0.16"/><rect x="147.8" y="284.5" width="1" height="1" fill="#000" fill-opacity="0.05"/><rect x="144.7" y="304.0" width="1" height="1" fill="#000" fill-opacity="0.30"/><rect x="153.5" y="292.1" width="1" height="1" fill="#000" fill-opacity="0.26"/><rect x="147.9" y="282.3" width="1" height="1" fill="#000" fill-opacity="0.25"/><rect x="151.6" y="290.8" width="1" height="1" fill="#000" fill-opacity="0.14"/><rect x="150.8" y="281.9" width="1" height="1" fill="#000" fill-opacity="0.15"/><rect x="151.1" y="287.7" width="1" height="1" fill="#000" fill-opacity="0.20"/><rect x="141.7" y="297.8" width="1" height="1" fill="#000" fill-opacity="0.06"/><rect x="149.5" y="279.3" width="1" height="1" fill="#000" fill-opacity="0.29"/><rect x="144.6" y="288.0" width="1" height="1" fill="#000" fill-opacity="0.13"/><rect x="148.9" y="294.7" width="1" height="1" fill="#000" fill-opacity="0.09"/><rect x="148.3" y="272.7" width="1" height="1" fill="#000" fill-opacity="0.19"/><rect x="147.9" y="304.5" width="1" height="1" fill="#000" fill-opacity="0.10"/><rect x="149.1" y="288.0" width="1" height="1" fill="#000" fill-opacity="0.05"/><rect x="147.4" y="271.9" width="1" height="1" fill="#000" fill-opacity="0.05"/><rect x="135.1" y="293.1" width="1" height="1" fill="#000" fill-opacity="0.11"/><rect x="145.4" y="298.7" width="1" height="1" fill="#000" fill-opacity="0.09"/><rect x="152.2" y="294.5" width="1" height="1" fill="#000" fill-opacity="0.15"/><rect x="154.5" y="281.4" width="1" height="1" fill="#000" fill-opacity="0.09"/><rect x="150.5" y="284.0" width="1" height="1" fill="#000" fill-opacity="0.29"/><rect x="144.8" y="297.4" width="1" height="1" fill="#000" fill-opacity="0.21"/><rect x="142.6" y="273.0" width="1" height="1" fill="#000" fill-opacity="0.11"/><rect x="149.2" y="292.4" width="1" height="1" fill="#000" fill-opacity="0.28"/><rect x="149.9" y="286.5" width="1" height="1" fill="#000" fill-opacity="0.15"/><rect x="147.4" y="295.7" width="1" height="1" fill="#000" fill-opacity="0.05"/><rect x="145.6" y="278.2" width="1" height="1" fill="#000" fill-opacity="0.11"/><rect x="154.5" y="300.4" width="1" height="1" fill="#000" fill-opacity="0.12"/><rect x="152.6" y="277.7" width="1" height="1" fill="#000" fill-opacity="0.08"/><rect x="144.7" y="289.2" width="1" height="1" fill="#000" fill-opacity="0.08"/><rect x="147.6" y="295.0" width="1" height="1" fill="#000" fill-opacity="0.28"/><rect x="148.8" y="280.1" width="1" height="1" fill="#000" fill-opacity="0.08"/><rect x="154.7" y="286.0" width="1" height="1" fill="#000" fill-opacity="0.17"/><rect x="150.2" y="281.9" width="1" height="1" fill="#000" fill-opacity="0.12"/><rect x="148.5" y="292.5" width="1" height="1" fill="#000" fill-opacity="0.06"/><rect x="142.2" y="302.2" width="1" height="1" fill="#000" fill-opacity="0.28"/><rect x="151.5" y="297.6" width="1" height="1" fill="#000" fill-opacity="0.06"/><rect x="149.1" y="292.8" width="1" height="1" fill="#000" fill-opacity="0.23"/><rect x="137.4" y="299.0" width="1" height="1" fill="#000" fill-opacity="0.26"/><rect x="152.9" y="276.0" width="1" height="1" fill="#000" fill-opacity="0.05"/><rect x="148.2" y="271.7" width="1" height="1" fill="#000" fill-opacity="0.30"/><rect x="144.9" y="302.0" width="1" height="1" fill="#000" fill-opacity="0.30"/><rect x="150.1" y="304.1" width="1" height="1" fill="#000" fill-opacity="0.17"/><rect x="149.8" y="287.1" width="1" height="1" fill="#000" fill-opacity="0.24"/><rect x="145.2" y="302.4" width="1" height="1" fill="#000" fill-opacity="0.29"/><rect x="144.8" y="285.6" width="1" height="1" fill="#000" fill-opacity="0.20"/><rect x="149.0" y="301.8" width="1" height="1" fill="#000" fill-opacity="0.07"/><rect x="145.3" y="293.0" width="1" height="1" fill="#000" fill-opacity="0.23"/><rect x="141.0" y="296.2" width="1" height="1" fill="#000" fill-opacity="0.08"/><rect x="146.9" y="302.1" width="1" height="1" fill="#000" fill-opacity="0.12"/><rect x="147.4" y="282.2" width="1" height="1" fill="#000" fill-opacity="0.19"/><rect x="147.0" y="277.3" width="1" height="1" fill="#000" fill-opacity="0.20"/><rect x="158.3" y="300.4" width="1" height="1" fill="#000" fill-opacity="0.21"/><rect x="149.7" y="297.8" width="1" height="1" fill="#000" fill-opacity="0.22"/><rect x="145.3" y="287.3" width="1" height="1" fill="#000" fill-opacity="0.19"/><rect x="144.0" y="294.3" width="1" height="1" fill="#000" fill-opacity="0.11"/><rect x="145.9" y="296.2" width="1" height="1" fill="#000" fill-opacity="0.09"/><rect x="136.8" y="303.2" width="1" height="1" fill="#000" fill-opacity="0.08"/><rect x="148.4" y="280.5" width="1" height="1" fill="#000" fill-opacity="0.25"/><rect x="147.5" y="292.5" width="1" height="1" fill="#000" fill-opacity="0.05"/><rect x="141.8" y="280.9" width="1" height="1" fill="#000" fill-opacity="0.25"/><rect x="148.7" y="277.8" width="1" height="1" fill="#000" fill-opacity="0.27"/><rect x="148.6" y="294.2" width="1" height="1" fill="#000" fill-opacity="0.19"/><rect x="141.4" y="299.5" width="1" height="1" fill="#000" fill-opacity="0.18"/><rect x="147.5" y="303.2" width="1" height="1" fill="#000" fill-opacity="0.16"/><rect x="147.5" y="277.1" width="1" height="1" fill="#000" fill-opacity="0.25"/><rect x="148.1" y="276.5" width="1" height="1" fill="#000" fill-opacity="0.30"/><rect x="147.2" y="296.8" width="1" height="1" fill="#000" fill-opacity="0.26"/><rect x="142.2" y="293.4" width="1" height="1" fill="#000" fill-opacity="0.15"/><rect x="150.4" y="279.6" width="1" height="1" fill="#000" fill-opacity="0.17"/><rect x="144.1" y="300.9" width="1" height="1" fill="#000" fill-opacity="0.26"/><rect x="145.6" y="300.6" width="1" height="1" fill="#000" fill-opacity="0.11"/><rect x="143.5" y="286.9" width="1" height="1" fill="#000" fill-opacity="0.23"/><rect x="154.1" y="295.9" width="1" height="1" fill="#000" fill-opacity="0.12"/><rect x="143.6" y="281.2" width="1" height="1" fill="#000" fill-opacity="0.10"/><rect x="147.4" y="287.7" width="1" height="1" fill="#000" fill-opacity="0.17"/><rect x="146.0" y="274.7" width="1" height="1" fill="#000" fill-opacity="0.08"/><rect x="152.6" y="297.2" width="1" height="1" fill="#000" fill-opacity="0.08"/><rect x="151.8" y="273.5" width="1" height="1" fill="#000" fill-opacity="0.13"/><rect x="150.1" y="282.3" width="1" height="1" fill="#000" fill-opacity="0.19"/><rect x="140.3" y="302.1" width="1" height="1" fill="#000" fill-opacity="0.06"/><rect x="150.3" y="302.0" width="1" height="1" fill="#000" fill-opacity="0.24"/><rect x="148.1" y="304.5" width="1" height="1" fill="#000" fill-opacity="0.25"/><rect x="148.0" y="295.4" width="1" height="1" fill="#000" fill-opacity="0.12"/><rect x="148.4" y="288.7" width="1" height="1" fill="#000" fill-opacity="0.07"/><rect x="146.2" y="293.6" width="1" height="1" fill="#000" fill-opacity="0.18"/><rect x="140.6" y="301.8" width="1" height="1" fill="#000" fill-opacity="0.05"/><rect x="148.8" y="295.9" width="1" height="1" fill="#000" fill-opacity="0.05"/><rect x="151.4" y="274.2" width="1" height="1" fill="#000" fill-opacity="0.17"/><rect x="146.4" y="299.1" width="1" height="1" fill="#000" fill-opacity="0.16"/><rect x="152.1" y="295.6" width="1" height="1" fill="#000" fill-opacity="0.10"/><rect x="145.7" y="300.5" width="1" height="1" fill="#000" fill-opacity="0.14"/><rect x="147.6" y="279.8" width="1" height="1" fill="#000" fill-opacity="0.15"/><rect x="144.8" y="273.3" width="1" height="1" fill="#000" fill-opacity="0.12"/><rect x="154.1" y="288.5" width="1" height="1" fill="#000" fill-opacity="0.13"/><rect x="147.2" y="279.0" width="1" height="1" fill="#000" fill-opacity="0.23"/><rect x="140.7" y="297.2" width="1" height="1" fill="#000" fill-opacity="0.11"/><rect x="150.8" y="295.3" width="1" height="1" fill="#000" fill-opacity="0.15"/><rect x="144.7" y="303.1" width="1" height="1" fill="#000" fill-opacity="0.08"/><rect x="158.9" y="278.5" width="1" height="1" fill="#000" fill-opacity="0.05"/><rect x="142.9" y="296.7" width="1" height="1" fill="#000" fill-opacity="0.29"/><rect x="149.5" y="272.3" width="1" height="1" fill="#000" fill-opacity="0.09"/><rect x="152.8" y="301.7" width="1" height="1" fill="#000" fill-opacity="0.15"/><rect x="141.8" y="303.5" width="1" height="1" fill="#000" fill-opacity="0.05"/><rect x="146.7" y="283.2" width="1" height="1" fill="#000" fill-opacity="0.10"/><rect x="142.0" y="297.7" width="1" height="1" fill="#000" fill-opacity="0.11"/><rect x="143.8" y="293.1" width="1" height="1" fill="#000" fill-opacity="0.10"/><rect x="143.3" y="299.2" width="1" height="1" fill="#000" fill-opacity="0.19"/><rect x="151.8" y="273.2" width="1" height="1" fill="#000" fill-opacity="0.19"/><rect x="153.0" y="299.0" width="1" height="1" fill="#000" fill-opacity="0.06"/><rect x="150.1" y="277.3" width="1" height="1" fill="#000" fill-opacity="0.06"/><rect x="150.3" y="278.2" width="1" height="1" fill="#000" fill-opacity="0.11"/><rect x="144.4" y="304.5" width="1" height="1" fill="#000" fill-opacity="0.14"/><rect x="151.2" y="301.4" width="1" height="1" fill="#000" fill-opacity="0.25"/><rect x="147.9" y="282.9" width="1" height="1" fill="#000" fill-opacity="0.08"/><rect x="149.5" y="304.2" width="1" height="1" fill="#000" fill-opacity="0.17"/><rect x="142.1" y="297.8" width="1" height="1" fill="#000" fill-opacity="0.10"/><rect x="139.6" y="297.4" width="1" height="1" fill="#000" fill-opacity="0.11"/><rect x="151.0" y="291.1" width="1" height="1" fill="#000" fill-opacity="0.10"/><rect x="147.1" y="302.3" width="1" height="1" fill="#000" fill-opacity="0.25"/><rect x="147.0" y="282.9" width="1" height="1" fill="#000" fill-opacity="0.21"/><rect x="147.0" y="294.4" width="1" height="1" fill="#000" fill-opacity="0.27"/><rect x="148.5" y="284.8" width="1" height="1" fill="#000" fill-opacity="0.17"/><rect x="153.6" y="295.2" width="1" height="1" fill="#000" fill-opacity="0.23"/><rect x="147.4" y="296.0" width="1" height="1" fill="#000" fill-opacity="0.17"/><rect x="147.4" y="297.8" width="1" height="1" fill="#000" fill-opacity="0.07"/><rect x="146.1" y="303.7" width="1" height="1" fill="#000" fill-opacity="0.26"/><rect x="146.8" y="275.0" width="1" height="1" fill="#000" fill-opacity="0.24"/><rect x="151.9" y="299.3" width="1" height="1" fill="#000" fill-opacity="0.25"/><rect x="147.9" y="274.4" width="1" height="1" fill="#000" fill-opacity="0.10"/><rect x="149.5" y="294.5" width="1" height="1" fill="#000" fill-opacity="0.06"/><rect x="143.3" y="303.9" width="1" height="1" fill="#000" fill-opacity="0.16"/><rect x="147.1" y="296.7" width="1" height="1" fill="#000" fill-opacity="0.12"/><rect x="148.3" y="282.3" width="1" height="1" fill="#000" fill-opacity="0.17"/><rect x="145.1" y="277.4" width="1" height="1" fill="#000" fill-opacity="0.30"/><rect x="143.8" y="276.3" width="1" height="1" fill="#000" fill-opacity="0.17"/><rect x="144.1" y="293.7" width="1" height="1" fill="#000" fill-opacity="0.08"/><rect x="147.0" y="289.5" width="1" height="1" fill="#000" fill-opacity="0.13"/><rect x="156.8" y="294.1" width="1" height="1" fill="#000" fill-opacity="0.10"/><rect x="153.0" y="290.9" width="1" height="1" fill="#000" fill-opacity="0.10"/><rect x="149.4" y="288.2" width="1" height="1" fill="#000" fill-opacity="0.17"/><rect x="142.3" y="273.1" width="1" height="1" fill="#000" fill-opacity="0.11"/><rect x="141.9" y="291.2" width="1" height="1" fill="#000" fill-opacity="0.06"/><rect x="155.7" y="299.2" width="1" height="1" fill="#000" fill-opacity="0.22"/><rect x="150.0" y="298.8" width="1" height="1" fill="#000" fill-opacity="0.13"/><rect x="148.7" y="291.8" width="1" height="1" fill="#000" fill-opacity="0.08"/><rect x="146.1" y="295.4" width="1" height="1" fill="#000" fill-opacity="0.14"/><rect x="148.8" y="299.1" width="1" height="1" fill="#000" fill-opacity="0.07"/><rect x="152.0" y="273.5" width="1" height="1" fill="#000" fill-opacity="0.15"/><rect x="142.9" y="302.7" width="1" height="1" fill="#000" fill-opacity="0.05"/><rect x="148.9" y="289.7" width="1" height="1" fill="#000" fill-opacity="0.13"/><rect x="148.4" y="279.0" width="1" height="1" fill="#000" fill-opacity="0.05"/><rect x="147.3" y="287.0" width="1" height="1" fill="#000" fill-opacity="0.24"/><rect x="154.8" y="275.4" width="1" height="1" fill="#000" fill-opacity="0.23"/><rect x="142.6" y="302.9" width="1" height="1" fill="#000" fill-opacity="0.09"/><rect x="141.4" y="299.9" width="1" height="1" fill="#000" fill-opacity="0.13"/><rect x="138.7" y="292.9" width="1" height="1" fill="#000" fill-opacity="0.08"/><rect x="153.7" y="276.5" width="1" height="1" fill="#000" fill-opacity="0.06"/><rect x="144.9" y="283.1" width="1" height="1" fill="#000" fill-opacity="0.14"/><rect x="147.4" y="301.8" width="1" height="1" fill="#000" fill-opacity="0.08"/><rect x="149.8" y="293.3" width="1" height="1" fill="#000" fill-opacity="0.20"/><rect x="154.7" y="285.4" width="1" height="1" fill="#000" fill-opacity="0.20"/><rect x="147.8" y="301.0" width="1" height="1" fill="#000" fill-opacity="0.27"/><rect x="147.4" y="290.6" width="1" height="1" fill="#000" fill-opacity="0.30"/><rect x="142.1" y="296.2" width="1" height="1" fill="#000" fill-opacity="0.25"/><rect x="150.9" y="292.7" width="1" height="1" fill="#000" fill-opacity="0.14"/><rect x="147.4" y="295.2" width="1" height="1" fill="#000" fill-opacity="0.27"/><rect x="155.8" y="292.4" width="1" height="1" fill="#000" fill-opacity="0.06"/><rect x="144.0" y="275.9" width="1" height="1" fill="#000" fill-opacity="0.12"/><rect x="147.4" y="303.0" width="1" height="1" fill="#000" fill-opacity="0.22"/><rect x="148.3" y="302.4" width="1" height="1" fill="#000" fill-opacity="0.10"/><rect x="144.4" y="304.5" width="1" height="1" fill="#000" fill-opacity="0.08"/><rect x="149.6" y="284.7" width="1" height="1" fill="#000" fill-opacity="0.05"/><rect x="146.7" y="304.3" width="1" height="1" fill="#000" fill-opacity="0.15"/><rect x="146.3" y="299.2" width="1" height="1" fill="#000" fill-opacity="0.14"/><rect x="144.8" y="273.5" width="1" height="1" fill="#000" fill-opacity="0.30"/><rect x="147.5" y="296.7" width="1" height="1" fill="#000" fill-opacity="0.07"/><rect x="143.6" y="279.4" width="1" height="1" fill="#000" fill-opacity="0.05"/><rect x="152.6" y="283.8" width="1" height="1" fill="#000" fill-opacity="0.20"/><rect x="145.2" y="284.3" width="1" height="1" fill="#000" fill-opacity="0.12"/><rect x="143.0" y="302.3" width="1" height="1" fill="#000" fill-opacity="0.24"/><rect x="151.3" y="275.5" width="1" height="1" fill="#000" fill-opacity="0.30"/><rect x="153.7" y="295.9" width="1" height="1" fill="#000" fill-opacity="0.05"/><rect x="142.5" y="288.5" width="1" height="1" fill="#000" fill-opacity="0.06"/><rect x="139.1" y="303.1" width="1" height="1" fill="#000" fill-opacity="0.07"/><rect x="148.9" y="296.3" width="1" height="1" fill="#000" fill-opacity="0.14"/><rect x="149.3" y="288.6" width="1" height="1" fill="#000" fill-opacity="0.05"/><rect x="148.4" y="296.3" width="1" height="1" fill="#000" fill-opacity="0.31"/><rect x="146.3" y="300.3" width="1" height="1" fill="#000" fill-opacity="0.26"/><rect x="144.0" y="278.6" width="1" height="1" fill="#000" fill-opacity="0.05"/><rect x="149.6" y="296.0" width="1" height="1" fill="#000" fill-opacity="0.26"/><rect x="139.9" y="304.0" width="1" height="1" fill="#000" fill-opacity="0.25"/><rect x="148.2" y="293.8" width="1" height="1" fill="#000" fill-opacity="0.11"/><rect x="142.5" y="289.3" width="1" height="1" fill="#000" fill-opacity="0.05"/><rect x="152.9" y="273.2" width="1" height="1" fill="#000" fill-opacity="0.19"/><rect x="144.9" y="281.3" width="1" height="1" fill="#000" fill-opacity="0.13"/><rect x="138.9" y="298.7" width="1" height="1" fill="#000" fill-opacity="0.26"/><rect x="141.0" y="278.9" width="1" height="1" fill="#000" fill-opacity="0.07"/><rect x="145.5" y="296.6" width="1" height="1" fill="#000" fill-opacity="0.27"/><rect x="152.7" y="285.8" width="1" height="1" fill="#000" fill-opacity="0.17"/><rect x="148.5" y="292.8" width="1" height="1" fill="#000" fill-opacity="0.30"/><rect x="151.7" y="274.4" width="1" height="1" fill="#000" fill-opacity="0.19"/><rect x="148.4" y="283.2" width="1" height="1" fill="#000" fill-opacity="0.05"/><rect x="146.5" y="304.3" width="1" height="1" fill="#000" fill-opacity="0.07"/><rect x="148.0" y="271.3" width="1" height="1" fill="#000" fill-opacity="0.06"/><rect x="144.0" y="304.3" width="1" height="1" fill="#000" fill-opacity="0.05"/><rect x="144.5" y="301.7" width="1" height="1" fill="#000" fill-opacity="0.08"/><rect x="149.9" y="285.6" width="1" height="1" fill="#000" fill-opacity="0.06"/><rect x="146.4" y="301.7" width="1" height="1" fill="#000" fill-opacity="0.18"/><rect x="143.0" y="297.4" width="1" height="1" fill="#000" fill-opacity="0.20"/><rect x="144.4" y="304.4" width="1" height="1" fill="#000" fill-opacity="0.09"/><rect x="155.4" y="285.2" width="1" height="1" fill="#000" fill-opacity="0.08"/><rect x="141.4" y="302.4" width="1" height="1" fill="#000" fill-opacity="0.05"/><rect x="149.5" y="289.2" width="1" height="1" fill="#000" fill-opacity="0.12"/><rect x="147.2" y="295.0" width="1" height="1" fill="#000" fill-opacity="0.12"/><rect x="137.7" y="296.8" width="1" height="1" fill="#000" fill-opacity="0.23"/><rect x="143.9" y="280.4" width="1" height="1" fill="#000" fill-opacity="0.10"/><rect x="148.1" y="281.8" width="1" height="1" fill="#000" fill-opacity="0.16"/><rect x="148.8" y="276.4" width="1" height="1" fill="#000" fill-opacity="0.26"/><rect x="149.1" y="287.1" width="1" height="1" fill="#000" fill-opacity="0.24"/><rect x="149.1" y="280.9" width="1" height="1" fill="#000" fill-opacity="0.26"/><rect x="144.5" y="285.9" width="1" height="1" fill="#000" fill-opacity="0.12"/><rect x="148.6" y="300.8" width="1" height="1" fill="#000" fill-opacity="0.10"/><rect x="148.3" y="296.0" width="1" height="1" fill="#000" fill-opacity="0.18"/><rect x="145.5" y="272.2" width="1" height="1" fill="#000" fill-opacity="0.05"/><rect x="146.3" y="282.9" width="1" height="1" fill="#000" fill-opacity="0.15"/><rect x="145.9" y="279.7" width="1" height="1" fill="#000" fill-opacity="0.15"/><rect x="152.8" y="279.5" width="1" height="1" fill="#000" fill-opacity="0.12"/><rect x="151.8" y="277.8" width="1" height="1" fill="#000" fill-opacity="0.14"/><rect x="145.2" y="282.5" width="1" height="1" fill="#000" fill-opacity="0.15"/><rect x="153.2" y="271.8" width="1" height="1" fill="#000" fill-opacity="0.20"/><rect x="143.7" y="302.4" width="1" height="1" fill="#000" fill-opacity="0.27"/><rect x="148.5" y="285.8" width="1" height="1" fill="#000" fill-opacity="0.25"/><rect x="148.9" y="279.5" width="1" height="1" fill="#000" fill-opacity="0.18"/><rect x="147.2" y="293.5" width="1" height="1" fill="#000" fill-opacity="0.27"/><rect x="152.3" y="285.4" width="1" height="1" fill="#000" fill-opacity="0.05"/><rect x="153.6" y="299.8" width="1" height="1" fill="#000" fill-opacity="0.25"/><rect x="152.8" y="273.6" width="1" height="1" fill="#000" fill-opacity="0.12"/><rect x="149.6" y="296.4" width="1" height="1" fill="#000" fill-opacity="0.10"/><rect x="148.1" y="294.1" width="1" height="1" fill="#000" fill-opacity="0.10"/><rect x="150.7" y="281.6" width="1" height="1" fill="#000" fill-opacity="0.24"/><rect x="143.3" y="297.2" width="1" height="1" fill="#000" fill-opacity="0.09"/><rect x="150.0" y="278.9" width="1" height="1" fill="#000" fill-opacity="0.31"/><rect x="148.1" y="291.2" width="1" height="1" fill="#000" fill-opacity="0.12"/><rect x="151.3" y="279.9" width="1" height="1" fill="#000" fill-opacity="0.24"/><rect x="143.1" y="301.9" width="1" height="1" fill="#000" fill-opacity="0.27"/><rect x="146.5" y="293.2" width="1" height="1" fill="#000" fill-opacity="0.05"/><rect x="147.4" y="294.0" width="1" height="1" fill="#000" fill-opacity="0.06"/><rect x="151.2" y="284.3" width="1" height="1" fill="#000" fill-opacity="0.22"/><rect x="147.7" y="287.1" width="1" height="1" fill="#000" fill-opacity="0.18"/><rect x="142.3" y="279.7" width="1" height="1" fill="#000" fill-opacity="0.07"/><rect x="148.9" y="283.4" width="1" height="1" fill="#000" fill-opacity="0.15"/><rect x="147.5" y="300.0" width="1" height="1" fill="#000" fill-opacity="0.18"/><rect x="156.8" y="290.3" width="1" height="1" fill="#000" fill-opacity="0.14"/><rect x="147.6" y="276.8" width="1" height="1" fill="#000" fill-opacity="0.29"/><rect x="147.4" y="276.8" width="1" height="1" fill="#000" fill-opacity="0.23"/><rect x="147.0" y="282.4" width="1" height="1" fill="#000" fill-opacity="0.30"/><rect x="145.7" y="282.2" width="1" height="1" fill="#000" fill-opacity="0.07"/><rect x="147.9" y="278.4" width="1" height="1" fill="#000" fill-opacity="0.27"/><rect x="146.9" y="299.2" width="1" height="1" fill="#000" fill-opacity="0.12"/><rect x="140.2" y="302.7" width="1" height="1" fill="#000" fill-opacity="0.24"/><rect x="149.2" y="272.5" width="1" height="1" fill="#000" fill-opacity="0.27"/><rect x="141.2" y="283.9" width="1" height="1" fill="#000" fill-opacity="0.08"/><rect x="152.3" y="296.4" width="1" height="1" fill="#000" fill-opacity="0.16"/>
<path d="M154.2,270.2 L165.2,270.2 L165.2,304.2 L147.6,304.2 L151.8,298.3 Z" stroke="#000" stroke-width="1.8" fill="none"/>
<text x="14.70" y="345.40" font-size="11.8" font-weight="bold" text-anchor="start" fill="#000" stroke="#000" stroke-width="0.25">D</text>
<text transform="translate(22.05,395.70) rotate(-90)" x="0" y="0" font-size="7.9" font-weight="bold" text-anchor="middle" fill="#000" textLength="86.30" lengthAdjust="spacingAndGlyphs" stroke="#000" stroke-width="0.25">% of Tumor-bearing mice</text>
<line x1="39.30" y1="363.80" x2="39.30" y2="428.30" stroke="#b0b0b0" stroke-width="0.8"/>
<text transform="translate(35.84,361.60) rotate(-90)" x="0" y="0" font-size="7.6" font-weight="bold" text-anchor="middle" fill="#000" textLength="11.60" lengthAdjust="spacingAndGlyphs" stroke="#000" stroke-width="0.24">100</text>
<line x1="37.80" y1="364.20" x2="39.30" y2="364.20" stroke="#b0b0b0" stroke-width="0.8"/>
<text transform="translate(35.84,378.60) rotate(-90)" x="0" y="0" font-size="7.6" font-weight="bold" text-anchor="middle" fill="#000" textLength="8.40" lengthAdjust="spacingAndGlyphs" stroke="#000" stroke-width="0.24">75</text>
<line x1="37.80" y1="380.23" x2="39.30" y2="380.23" stroke="#b0b0b0" stroke-width="0.8"/>
<text transform="translate(35.84,396.60) rotate(-90)" x="0" y="0" font-size="7.6" font-weight="bold" text-anchor="middle" fill="#000" textLength="8.40" lengthAdjust="spacingAndGlyphs" stroke="#000" stroke-width="0.24">50</text>
<line x1="37.80" y1="396.25" x2="39.30" y2="396.25" stroke="#b0b0b0" stroke-width="0.8"/>
<text transform="translate(35.84,413.80) rotate(-90)" x="0" y="0" font-size="7.6" font-weight="bold" text-anchor="middle" fill="#000" textLength="8.40" lengthAdjust="spacingAndGlyphs" stroke="#000" stroke-width="0.24">25</text>
<line x1="37.80" y1="412.27" x2="39.30" y2="412.27" stroke="#b0b0b0" stroke-width="0.8"/>
<text transform="translate(35.84,427.60) rotate(-90)" x="0" y="0" font-size="7.6" font-weight="bold" text-anchor="middle" fill="#000" stroke="#000" stroke-width="0.24">0</text>
<line x1="37.80" y1="428.30" x2="39.30" y2="428.30" stroke="#b0b0b0" stroke-width="0.8"/>
<line x1="39.30" y1="428.30" x2="163.00" y2="428.30" stroke="#b0b0b0" stroke-width="0.8"/>
<rect x="46.10" y="364.20" width="9.20" height="64.10" fill="#ee1c25"/>
<rect x="55.30" y="421.25" width="9.20" height="7.05" fill="#2b2e7f"/>
<rect x="64.50" y="385.35" width="9.20" height="42.95" fill="#0f8443"/>
<line x1="59.90" y1="417.30" x2="59.90" y2="421.25" stroke="#9a9aa8" stroke-width="0.8"/>
<line x1="58.10" y1="417.30" x2="61.70" y2="417.30" stroke="#9a9aa8" stroke-width="0.8"/>
<line x1="69.10" y1="374.20" x2="69.10" y2="385.35" stroke="#9a9a9a" stroke-width="0.8"/>
<line x1="67.30" y1="374.20" x2="70.90" y2="374.20" stroke="#9a9a9a" stroke-width="0.8"/>
<text x="48.20" y="437.90" font-size="6.2" fill="#e0303a" stroke="#e0303a" stroke-width="0.12">A</text>
<path d="M52.29,434.30 H54.77 M53.53,433.06 V435.54" stroke="#e0303a" stroke-width="0.6" fill="none"/>
<text x="57.50" y="437.90" font-size="6.2" fill="#34449a" stroke="#34449a" stroke-width="0.12">A</text>
<path d="M61.59,434.30 H64.32" stroke="#34449a" stroke-width="0.6" fill="none"/>
<text x="68.80" y="437.90" font-size="6.2" fill="#4a9a68" stroke="#4a9a68" stroke-width="0.12">U</text>
<line x1="38.00" y1="441.90" x2="75.70" y2="441.90" stroke="#000" stroke-width="1.4"/>
<text x="39.20" y="452.00" font-size="9.0" font-weight="bold" text-anchor="start" fill="#000" textLength="35.10" lengthAdjust="spacingAndGlyphs" stroke="#000" stroke-width="0.25">Passage</text>
<text x="56.50" y="462.40" font-size="9" font-weight="bold" text-anchor="middle" fill="#000" stroke="#000" stroke-width="0.25">I</text>
<rect x="87.30" y="364.20" width="9.20" height="64.10" fill="#ee1c25"/>
<rect x="105.70" y="380.23" width="9.20" height="48.07" fill="#0f8443"/>
<line x1="110.30" y1="367.70" x2="110.30" y2="380.23" stroke="#9a9a9a" stroke-width="0.8"/>
<line x1="108.50" y1="367.70" x2="112.10" y2="367.70" stroke="#9a9a9a" stroke-width="0.8"/>
<text x="88.80" y="437.90" font-size="6.2" fill="#e0303a" stroke="#e0303a" stroke-width="0.12">A</text>
<path d="M92.89,434.30 H95.37 M94.13,433.06 V435.54" stroke="#e0303a" stroke-width="0.6" fill="none"/>
<text x="98.40" y="437.90" font-size="6.2" fill="#34449a" stroke="#34449a" stroke-width="0.12">A</text>
<path d="M102.49,434.30 H105.22" stroke="#34449a" stroke-width="0.6" fill="none"/>
<text x="108.50" y="437.90" font-size="6.2" fill="#4a9a68" stroke="#4a9a68" stroke-width="0.12">U</text>
<line x1="81.60" y1="441.90" x2="118.60" y2="441.90" stroke="#000" stroke-width="1.4"/>
<text x="82.80" y="452.00" font-size="9.0" font-weight="bold" text-anchor="start" fill="#000" textLength="35.10" lengthAdjust="spacingAndGlyphs" stroke="#000" stroke-width="0.25">Passage</text>
<text x="100.10" y="462.40" font-size="9" font-weight="bold" text-anchor="middle" fill="#000" stroke="#000" stroke-width="0.25">II</text>
<rect x="128.50" y="364.20" width="9.20" height="64.10" fill="#ee1c25"/>
<rect x="146.90" y="364.20" width="9.20" height="64.10" fill="#0f8443"/>
<text x="130.70" y="437.90" font-size="6.2" fill="#e0303a" stroke="#e0303a" stroke-width="0.12">A</text>
<path d="M134.79,434.30 H137.27 M136.03,433.06 V435.54" stroke="#e0303a" stroke-width="0.6" fill="none"/>
<text x="140.40" y="437.90" font-size="6.2" fill="#34449a" stroke="#34449a" stroke-width="0.12">A</text>
<path d="M144.49,434.30 H147.22" stroke="#34449a" stroke-width="0.6" fill="none"/>
<text x="150.10" y="437.90" font-size="6.2" fill="#4a9a68" stroke="#4a9a68" stroke-width="0.12">U</text>
<line x1="125.20" y1="441.90" x2="161.90" y2="441.90" stroke="#000" stroke-width="1.4"/>
<text x="126.00" y="452.00" font-size="9.0" font-weight="bold" text-anchor="start" fill="#000" textLength="35.10" lengthAdjust="spacingAndGlyphs" stroke="#000" stroke-width="0.25">Passage</text>
<text x="143.30" y="462.40" font-size="9" font-weight="bold" text-anchor="middle" fill="#000" stroke="#000" stroke-width="0.25">III</text>
<text x="201.40" y="23.10" font-size="11" font-weight="bold" text-anchor="start" fill="#000" stroke="#000" stroke-width="0.25">E</text>
<text transform="translate(207.21,97.60) rotate(-90)" x="0" y="0" font-size="7.8" font-weight="bold" text-anchor="middle" fill="#000" textLength="15.00" lengthAdjust="spacingAndGlyphs" stroke="#000" stroke-width="0.24">MFS</text>
<line x1="227.40" y1="49.40" x2="227.40" y2="137.30" stroke="#b0b0b0" stroke-width="0.8"/>
<text x="222.40" y="54.30" font-size="6.2" text-anchor="end" fill="#111" stroke="#111" stroke-width="0.12">1</text>
<line x1="226.00" y1="51.20" x2="227.40" y2="51.20" stroke="#888" stroke-width="0.7"/>
<text x="222.40" y="70.40" font-size="6.2" text-anchor="end" fill="#111" stroke="#111" stroke-width="0.12">0.8</text>
<line x1="226.00" y1="67.60" x2="227.40" y2="67.60" stroke="#888" stroke-width="0.7"/>
<text x="222.40" y="86.80" font-size="6.2" text-anchor="end" fill="#111" stroke="#111" stroke-width="0.12">0.6</text>
<line x1="226.00" y1="84.00" x2="227.40" y2="84.00" stroke="#888" stroke-width="0.7"/>
<text x="222.40" y="102.90" font-size="6.2" text-anchor="end" fill="#111" stroke="#111" stroke-width="0.12">0.4</text>
<line x1="226.00" y1="100.40" x2="227.40" y2="100.40" stroke="#888" stroke-width="0.7"/>
<text x="222.40" y="119.20" font-size="6.2" text-anchor="end" fill="#111" stroke="#111" stroke-width="0.12">0.2</text>
<line x1="226.00" y1="116.80" x2="227.40" y2="116.80" stroke="#888" stroke-width="0.7"/>
<text x="222.40" y="134.30" font-size="6.2" text-anchor="end" fill="#111" stroke="#111" stroke-width="0.12">0</text>
<line x1="226.00" y1="133.20" x2="227.40" y2="133.20" stroke="#888" stroke-width="0.7"/>
<line x1="227.40" y1="137.30" x2="321.00" y2="137.30" stroke="#b0b0b0" stroke-width="0.8"/>
<text x="228.20" y="149.30" font-size="6.2" text-anchor="middle" fill="#111" stroke="#111" stroke-width="0.12">0</text>
<line x1="228.20" y1="137.30" x2="228.20" y2="138.80" stroke="#888" stroke-width="0.7"/>
<text x="248.00" y="149.30" font-size="6.2" text-anchor="middle" fill="#111" stroke="#111" stroke-width="0.12">10</text>
<line x1="248.00" y1="137.30" x2="248.00" y2="138.80" stroke="#888" stroke-width="0.7"/>
<text x="268.80" y="149.30" font-size="6.2" text-anchor="middle" fill="#111" stroke="#111" stroke-width="0.12">20</text>
<line x1="268.80" y1="137.30" x2="268.80" y2="138.80" stroke="#888" stroke-width="0.7"/>
<text x="288.80" y="149.30" font-size="6.2" text-anchor="middle" fill="#111" stroke="#111" stroke-width="0.12">30</text>
<line x1="288.80" y1="137.30" x2="288.80" y2="138.80" stroke="#888" stroke-width="0.7"/>
<text x="309.60" y="149.30" font-size="6.2" text-anchor="middle" fill="#111" stroke="#111" stroke-width="0.12">40</text>
<line x1="309.60" y1="137.30" x2="309.60" y2="138.80" stroke="#888" stroke-width="0.7"/>
<text x="235.80" y="158.40" font-size="7.8" font-weight="bold" text-anchor="start" fill="#000" textLength="72.70" lengthAdjust="spacingAndGlyphs" stroke="#000" stroke-width="0.24">Months after surgery</text>
<path d="M227.40,51.20 H244.20 V55.30 H253.70 V59.40 H261.50 V63.60 H271.80 V70.00 H272.80 V74.20 H278.60 V78.80 H307.30 V87.30 H313.00 V96.00 H320.00 V96.00" stroke="#e28080" stroke-width="0.9" fill="none"/>
<path d="M227.4,50.9 H291.3 V54.2 H318.3" stroke="#333" stroke-width="1.1" fill="none"/>
<line x1="234.10" y1="49.60" x2="234.10" y2="52.20" stroke="#555" stroke-width="0.8"/>
<line x1="238.50" y1="49.60" x2="238.50" y2="52.20" stroke="#555" stroke-width="0.8"/>
<line x1="249.50" y1="49.60" x2="249.50" y2="52.20" stroke="#555" stroke-width="0.8"/>
<line x1="254.30" y1="49.60" x2="254.30" y2="52.20" stroke="#555" stroke-width="0.8"/>
<line x1="265.00" y1="49.60" x2="265.00" y2="52.20" stroke="#555" stroke-width="0.8"/>
<line x1="289.50" y1="49.60" x2="289.50" y2="52.20" stroke="#555" stroke-width="0.8"/>
<line x1="296.50" y1="52.90" x2="296.50" y2="55.50" stroke="#444" stroke-width="0.8"/>
<line x1="299.50" y1="52.90" x2="299.50" y2="55.50" stroke="#444" stroke-width="0.8"/>
<line x1="302.50" y1="52.90" x2="302.50" y2="55.50" stroke="#444" stroke-width="0.8"/>
<line x1="305.50" y1="52.90" x2="305.50" y2="55.50" stroke="#444" stroke-width="0.8"/>
<line x1="308.00" y1="52.90" x2="308.00" y2="55.50" stroke="#444" stroke-width="0.8"/>
<line x1="313.00" y1="52.90" x2="313.00" y2="55.50" stroke="#444" stroke-width="0.8"/>
<line x1="316.50" y1="52.90" x2="316.50" y2="55.50" stroke="#444" stroke-width="0.8"/>
<circle cx="291" cy="51.2" r="1.1" fill="#333"/>
<text x="272.20" y="64.20" font-size="7.8" font-weight="bold" text-anchor="start" fill="#000" textLength="56.30" lengthAdjust="spacingAndGlyphs" stroke="#000" stroke-width="0.24">PT nonengrafter</text>
<text x="275.50" y="105.80" font-size="7.8" font-weight="bold" text-anchor="start" fill="#000" textLength="42.90" lengthAdjust="spacingAndGlyphs" stroke="#000" stroke-width="0.24">PT engrafter</text>
<text x="235.80" y="121.10" font-size="7.4" font-weight="bold" text-anchor="start" fill="#000" textLength="39.70" lengthAdjust="spacingAndGlyphs" stroke="#000" stroke-width="0.23"><tspan font-style="italic">P</tspan> = 0.00352</text>
<text x="201.40" y="179.20" font-size="11" font-weight="bold" text-anchor="start" fill="#000" stroke="#000" stroke-width="0.25">F</text>
<text transform="translate(207.53,243.30) rotate(-90)" x="0" y="0" font-size="7.8" font-weight="bold" text-anchor="middle" fill="#000" textLength="106.00" lengthAdjust="spacingAndGlyphs" stroke="#000" stroke-width="0.24">Proportion of tumor outgrowth</text>
<line x1="229.80" y1="199.50" x2="229.80" y2="284.20" stroke="#b0b0b0" stroke-width="0.8"/>
<text x="227.10" y="202.80" font-size="6.2" text-anchor="end" fill="#111" stroke="#111" stroke-width="0.12">1</text>
<line x1="227.20" y1="200.60" x2="229.80" y2="200.60" stroke="#888" stroke-width="0.8"/>
<text x="227.10" y="219.30" font-size="6.2" text-anchor="end" fill="#111" stroke="#111" stroke-width="0.12">0.8</text>
<line x1="227.20" y1="216.56" x2="229.80" y2="216.56" stroke="#888" stroke-width="0.8"/>
<text x="227.10" y="234.90" font-size="6.2" text-anchor="end" fill="#111" stroke="#111" stroke-width="0.12">0.6</text>
<line x1="227.20" y1="232.52" x2="229.80" y2="232.52" stroke="#888" stroke-width="0.8"/>
<text x="227.10" y="251.20" font-size="6.2" text-anchor="end" fill="#111" stroke="#111" stroke-width="0.12">0.4</text>
<line x1="227.20" y1="248.48" x2="229.80" y2="248.48" stroke="#888" stroke-width="0.8"/>
<text x="227.10" y="267.00" font-size="6.2" text-anchor="end" fill="#111" stroke="#111" stroke-width="0.12">0.2</text>
<line x1="227.20" y1="264.44" x2="229.80" y2="264.44" stroke="#888" stroke-width="0.8"/>
<text x="227.10" y="282.60" font-size="6.2" text-anchor="end" fill="#111" stroke="#111" stroke-width="0.12">0</text>
<line x1="227.20" y1="280.40" x2="229.80" y2="280.40" stroke="#888" stroke-width="0.8"/>
<line x1="229.80" y1="284.20" x2="318.10" y2="284.20" stroke="#b0b0b0" stroke-width="0.8"/>
<text x="233.80" y="294.70" font-size="6.2" text-anchor="middle" fill="#111" stroke="#111" stroke-width="0.12">0</text>
<line x1="233.80" y1="284.20" x2="233.80" y2="286.20" stroke="#999" stroke-width="0.7"/>
<text x="252.10" y="294.70" font-size="6.2" text-anchor="middle" fill="#111" stroke="#111" stroke-width="0.12">100</text>
<line x1="252.10" y1="284.20" x2="252.10" y2="286.20" stroke="#999" stroke-width="0.7"/>
<text x="270.20" y="294.70" font-size="6.2" text-anchor="middle" fill="#111" stroke="#111" stroke-width="0.12">200</text>
<line x1="270.20" y1="284.20" x2="270.20" y2="286.20" stroke="#999" stroke-width="0.7"/>
<text x="287.80" y="294.70" font-size="6.2" text-anchor="middle" fill="#111" stroke="#111" stroke-width="0.12">300</text>
<line x1="287.80" y1="284.20" x2="287.80" y2="286.20" stroke="#999" stroke-width="0.7"/>
<text x="305.20" y="294.70" font-size="6.2" text-anchor="middle" fill="#111" stroke="#111" stroke-width="0.12">400</text>
<line x1="305.20" y1="284.20" x2="305.20" y2="286.20" stroke="#999" stroke-width="0.7"/>
<text x="230.50" y="304.00" font-size="7.8" font-weight="bold" text-anchor="start" fill="#000" textLength="91.90" lengthAdjust="spacingAndGlyphs" stroke="#000" stroke-width="0.24">Days after PT implantation</text>
<text x="254.40" y="199.30" font-size="8.4" font-weight="bold" text-anchor="start" fill="#000" textLength="40.90" lengthAdjust="spacingAndGlyphs" stroke="#000" stroke-width="0.25">SBR grade</text>
<text x="237.00" y="240.90" font-size="7.6" font-weight="bold" text-anchor="start" fill="#000" textLength="35.20" lengthAdjust="spacingAndGlyphs" stroke="#000" stroke-width="0.24"><tspan font-style="italic">P</tspan> = 0.0005</text>
<path d="M233.8,280.2 H316.7" stroke="#777" stroke-width="0.9" fill="none"/>
<path d="M233.80,280.20 H247.50 V272.00 H249.50 V270.50 H264.10 V265.00 H316.70 V265.00" stroke="#9c9ab4" stroke-width="0.9" fill="none"/>
<path d="M233.80,280.20 H247.50 V273.00 H249.20 V270.80 H255.50 V268.50 H257.50 V267.40 H261.30 V258.20 H264.10 V254.70 H276.20 V245.00 H301.60 V242.00 H306.60 V235.20 H315.40 V233.20 H316.70 V233.20" stroke="#e49494" stroke-width="0.9" fill="none"/>
<text x="320.80" y="236.00" font-size="9" font-weight="bold" text-anchor="start" fill="#000" stroke="#000" stroke-width="0.25">III</text>
<text x="320.40" y="267.70" font-size="9" font-weight="bold" text-anchor="start" fill="#000" stroke="#000" stroke-width="0.25">II</text>
<text x="319.80" y="281.60" font-size="9" font-weight="bold" text-anchor="start" fill="#000" stroke="#000" stroke-width="0.25">I</text>
<text x="200.50" y="346.30" font-size="11.6" font-weight="bold" text-anchor="start" fill="#000" stroke="#000" stroke-width="0.25">G</text>
<text transform="translate(207.53,400.00) rotate(-90)" x="0" y="0" font-size="7.8" font-weight="bold" text-anchor="middle" fill="#000" textLength="106.00" lengthAdjust="spacingAndGlyphs" stroke="#000" stroke-width="0.24">Proportion of tumor outgrowth</text>
<line x1="232.20" y1="356.00" x2="232.20" y2="441.20" stroke="#b0b0b0" stroke-width="0.8"/>
<text x="227.10" y="358.60" font-size="6.2" text-anchor="end" fill="#111" stroke="#111" stroke-width="0.12">1</text>
<line x1="229.60" y1="357.10" x2="232.20" y2="357.10" stroke="#888" stroke-width="0.8"/>
<text x="227.10" y="375.40" font-size="6.2" text-anchor="end" fill="#111" stroke="#111" stroke-width="0.12">0.8</text>
<line x1="229.60" y1="373.28" x2="232.20" y2="373.28" stroke="#888" stroke-width="0.8"/>
<text x="227.10" y="391.70" font-size="6.2" text-anchor="end" fill="#111" stroke="#111" stroke-width="0.12">0.6</text>
<line x1="229.60" y1="389.46" x2="232.20" y2="389.46" stroke="#888" stroke-width="0.8"/>
<text x="227.10" y="407.00" font-size="6.2" text-anchor="end" fill="#111" stroke="#111" stroke-width="0.12">0.4</text>
<line x1="229.60" y1="405.64" x2="232.20" y2="405.64" stroke="#888" stroke-width="0.8"/>
<text x="227.10" y="423.80" font-size="6.2" text-anchor="end" fill="#111" stroke="#111" stroke-width="0.12">0.2</text>
<line x1="229.60" y1="421.82" x2="232.20" y2="421.82" stroke="#888" stroke-width="0.8"/>
<text x="227.10" y="439.70" font-size="6.2" text-anchor="end" fill="#111" stroke="#111" stroke-width="0.12">0</text>
<line x1="229.60" y1="438.00" x2="232.20" y2="438.00" stroke="#888" stroke-width="0.8"/>
<line x1="232.20" y1="441.20" x2="320.80" y2="441.20" stroke="#b0b0b0" stroke-width="0.8"/>
<text x="234.20" y="453.00" font-size="6.2" text-anchor="middle" fill="#111" stroke="#111" stroke-width="0.12">0</text>
<line x1="234.20" y1="441.20" x2="234.20" y2="443.20" stroke="#999" stroke-width="0.7"/>
<text x="253.20" y="453.00" font-size="6.2" text-anchor="middle" fill="#111" stroke="#111" stroke-width="0.12">100</text>
<line x1="253.20" y1="441.20" x2="253.20" y2="443.20" stroke="#999" stroke-width="0.7"/>
<text x="271.20" y="453.00" font-size="6.2" text-anchor="middle" fill="#111" stroke="#111" stroke-width="0.12">200</text>
<line x1="271.20" y1="441.20" x2="271.20" y2="443.20" stroke="#999" stroke-width="0.7"/>
<text x="287.80" y="453.00" font-size="6.2" text-anchor="middle" fill="#111" stroke="#111" stroke-width="0.12">300</text>
<line x1="287.80" y1="441.20" x2="287.80" y2="443.20" stroke="#999" stroke-width="0.7"/>
<text x="305.80" y="453.00" font-size="6.2" text-anchor="middle" fill="#111" stroke="#111" stroke-width="0.12">400</text>
<line x1="305.80" y1="441.20" x2="305.80" y2="443.20" stroke="#999" stroke-width="0.7"/>
<text x="235.40" y="461.20" font-size="7.8" font-weight="bold" text-anchor="start" fill="#000" textLength="91.10" lengthAdjust="spacingAndGlyphs" stroke="#000" stroke-width="0.24">Days after PT implantation</text>
<text x="277.90" y="351.70" font-size="7.6" font-weight="bold" text-anchor="middle" fill="#000" stroke="#000" stroke-width="0.24">ER</text>
<text x="238.90" y="385.40" font-size="7.4" font-weight="bold" text-anchor="start" fill="#000" textLength="31.40" lengthAdjust="spacingAndGlyphs" stroke="#000" stroke-width="0.23"><tspan font-style="italic">P</tspan> = 0.005</text>
<path d="M235.70,438.00 H249.70 V430.40 H253.20 V424.70 H257.30 V417.40 H262.30 V411.10 H266.60 V404.60 H277.90 V390.80 H310.50 V383.20 H319.60 V383.20" stroke="#e49a9a" stroke-width="0.9" fill="none"/>
<path d="M235.70,438.00 H249.70 V430.40 H251.50 V428.70 H262.30 V426.70 H266.60 V423.70 H278.40 V421.20 H304.20 V419.90 H308.00 V417.90 H319.60 V417.90" stroke="#666" stroke-width="0.9" fill="none"/>
<text x="304.0" y="376.5" font-size="9.4" font-weight="bold" stroke="#000" stroke-width="0.25">ER<tspan font-size="5" dy="-3.6">–</tspan></text>
<text x="304.0" y="407.2" font-size="9.4" font-weight="bold" stroke="#000" stroke-width="0.25">ER<tspan font-size="5" dy="-3.6">+</tspan></text>
<text x="357.40" y="23.30" font-size="11.8" font-weight="bold" text-anchor="start" fill="#000" stroke="#000" stroke-width="0.25">H</text>
<text transform="translate(362.63,96.50) rotate(-90)" x="0" y="0" font-size="7.8" font-weight="bold" text-anchor="middle" fill="#000" textLength="108.00" lengthAdjust="spacingAndGlyphs" stroke="#000" stroke-width="0.24">Proportion of tumor outgrowth</text>
<line x1="386.30" y1="57.00" x2="386.30" y2="138.40" stroke="#b0b0b0" stroke-width="0.8"/>
<text x="380.10" y="60.30" font-size="6.2" text-anchor="end" fill="#111" stroke="#111" stroke-width="0.12">1</text>
<line x1="383.70" y1="58.30" x2="386.30" y2="58.30" stroke="#888" stroke-width="0.8"/>
<text x="380.10" y="74.80" font-size="6.2" text-anchor="end" fill="#111" stroke="#111" stroke-width="0.12">0.8</text>
<line x1="383.70" y1="73.62" x2="386.30" y2="73.62" stroke="#888" stroke-width="0.8"/>
<text x="380.10" y="90.40" font-size="6.2" text-anchor="end" fill="#111" stroke="#111" stroke-width="0.12">0.6</text>
<line x1="383.70" y1="88.94" x2="386.30" y2="88.94" stroke="#888" stroke-width="0.8"/>
<text x="380.10" y="106.20" font-size="6.2" text-anchor="end" fill="#111" stroke="#111" stroke-width="0.12">0.4</text>
<line x1="383.70" y1="104.26" x2="386.30" y2="104.26" stroke="#888" stroke-width="0.8"/>
<text x="380.10" y="122.00" font-size="6.2" text-anchor="end" fill="#111" stroke="#111" stroke-width="0.12">0.2</text>
<line x1="383.70" y1="119.58" x2="386.30" y2="119.58" stroke="#888" stroke-width="0.8"/>
<text x="380.10" y="137.10" font-size="6.2" text-anchor="end" fill="#111" stroke="#111" stroke-width="0.12">0</text>
<line x1="383.70" y1="134.90" x2="386.30" y2="134.90" stroke="#888" stroke-width="0.8"/>
<line x1="386.30" y1="138.40" x2="484.20" y2="138.40" stroke="#b0b0b0" stroke-width="0.8"/>
<text x="389.30" y="147.80" font-size="6.2" text-anchor="middle" fill="#111" stroke="#111" stroke-width="0.12">0</text>
<line x1="389.30" y1="138.40" x2="389.30" y2="140.40" stroke="#999" stroke-width="0.7"/>
<text x="409.60" y="147.80" font-size="6.2" text-anchor="middle" fill="#111" stroke="#111" stroke-width="0.12">100</text>
<line x1="409.60" y1="138.40" x2="409.60" y2="140.40" stroke="#999" stroke-width="0.7"/>
<text x="429.70" y="147.80" font-size="6.2" text-anchor="middle" fill="#111" stroke="#111" stroke-width="0.12">200</text>
<line x1="429.70" y1="138.40" x2="429.70" y2="140.40" stroke="#999" stroke-width="0.7"/>
<text x="449.80" y="147.80" font-size="6.2" text-anchor="middle" fill="#111" stroke="#111" stroke-width="0.12">300</text>
<line x1="449.80" y1="138.40" x2="449.80" y2="140.40" stroke="#999" stroke-width="0.7"/>
<text x="470.20" y="147.80" font-size="6.2" text-anchor="middle" fill="#111" stroke="#111" stroke-width="0.12">400</text>
<line x1="470.20" y1="138.40" x2="470.20" y2="140.40" stroke="#999" stroke-width="0.7"/>
<text x="392.00" y="159.60" font-size="7.8" font-weight="bold" text-anchor="start" fill="#000" textLength="90.70" lengthAdjust="spacingAndGlyphs" stroke="#000" stroke-width="0.24">Days after PT implantation</text>
<text x="406.40" y="47.80" font-size="7.8" font-weight="bold" text-anchor="start" fill="#000" textLength="67.70" lengthAdjust="spacingAndGlyphs" stroke="#000" stroke-width="0.24">Molecular subtypes</text>
<text x="388.20" y="82.50" font-size="7.6" font-weight="bold" text-anchor="start" fill="#000" textLength="42.20" lengthAdjust="spacingAndGlyphs" stroke="#000" stroke-width="0.24"><tspan font-style="italic">P</tspan> = 0.006e-2</text>
<path d="M386,134.4 H424.4" stroke="#999" stroke-width="0.8" fill="none"/>
<path d="M406.5,130.5 H453" stroke="#9a9ab8" stroke-width="0.8" fill="none"/>
<path d="M421.4,127.3 V121.4 H481.6 V108.4" stroke="#a8cce0" stroke-width="0.8" fill="none"/>
<path d="M406.5,134.4 V127.3 H420.1 V118.2 H437.6 V109.1 H469.5 V101.6" stroke="#c8a0d0" stroke-width="0.8" fill="none"/>
<path d="M424.4,134.4 V96.2 H437 V58.8" stroke="#cdd8b0" stroke-width="0.8" fill="none"/>
<path d="M408.4,134.4 V111.7 H413.6 V104.6 H419.5 V96.8 H424.4 V89 H437 V80.2 H470.9 V72.6 H481" stroke="#e4a0a8" stroke-width="0.8" fill="none"/>
<text x="399.00" y="62.50" font-size="7.8" text-anchor="start" fill="#b8cc88" textLength="37.60" lengthAdjust="spacingAndGlyphs" stroke="#b8cc88" stroke-width="0.15">Normal-like</text>
<text x="461.70" y="70.70" font-size="7.6" font-weight="bold" text-anchor="start" fill="#d83040" textLength="19.00" lengthAdjust="spacingAndGlyphs" stroke="#d83040" stroke-width="0.24">Basal</text>
<text x="442.10" y="99.80" font-size="8.0" text-anchor="start" fill="#9a48a8" textLength="39.50" lengthAdjust="spacingAndGlyphs" stroke="#9a48a8" stroke-width="0.15">ERBB2-like</text>
<text x="465.60" y="123.20" font-size="8.2" text-anchor="start" fill="#5a9cc8" textLength="34.70" lengthAdjust="spacingAndGlyphs" stroke="#5a9cc8" stroke-width="0.15">Luminal B</text>
<rect x="453.80" y="130.20" width="27.70" height="6.30" fill="#e8e8f4"/>
<text x="454.00" y="136.60" font-size="7.8" font-weight="bold" text-anchor="start" fill="#3c3c80" textLength="34.70" lengthAdjust="spacingAndGlyphs" stroke="#3c3c80" stroke-width="0.24">Luminal A</text>
<rect x="358.40" y="171.00" width="2.60" height="8.20" fill="#000"/>
<text transform="translate(362.63,239.50) rotate(-90)" x="0" y="0" font-size="7.8" font-weight="bold" text-anchor="middle" fill="#000" textLength="107.00" lengthAdjust="spacingAndGlyphs" stroke="#000" stroke-width="0.24">Proportion of tumor outgrowth</text>
<line x1="390.20" y1="194.50" x2="390.20" y2="281.60" stroke="#b0b0b0" stroke-width="0.8"/>
<text x="386.00" y="198.50" font-size="6.2" text-anchor="end" fill="#111" stroke="#111" stroke-width="0.12">1</text>
<line x1="387.60" y1="196.10" x2="390.20" y2="196.10" stroke="#888" stroke-width="0.8"/>
<text x="386.00" y="214.30" font-size="6.2" text-anchor="end" fill="#111" stroke="#111" stroke-width="0.12">0.8</text>
<line x1="387.60" y1="212.24" x2="390.20" y2="212.24" stroke="#888" stroke-width="0.8"/>
<text x="386.00" y="230.40" font-size="6.2" text-anchor="end" fill="#111" stroke="#111" stroke-width="0.12">0.6</text>
<line x1="387.60" y1="228.38" x2="390.20" y2="228.38" stroke="#888" stroke-width="0.8"/>
<text x="386.00" y="247.00" font-size="6.2" text-anchor="end" fill="#111" stroke="#111" stroke-width="0.12">0.4</text>
<line x1="387.60" y1="244.52" x2="390.20" y2="244.52" stroke="#888" stroke-width="0.8"/>
<text x="386.00" y="262.50" font-size="6.2" text-anchor="end" fill="#111" stroke="#111" stroke-width="0.12">0.2</text>
<line x1="387.60" y1="260.66" x2="390.20" y2="260.66" stroke="#888" stroke-width="0.8"/>
<text x="386.00" y="278.80" font-size="6.2" text-anchor="end" fill="#111" stroke="#111" stroke-width="0.12">0</text>
<line x1="387.60" y1="276.80" x2="390.20" y2="276.80" stroke="#888" stroke-width="0.8"/>
<line x1="390.20" y1="281.60" x2="479.80" y2="281.60" stroke="#b0b0b0" stroke-width="0.8"/>
<text x="391.30" y="290.00" font-size="6.2" text-anchor="middle" fill="#111" stroke="#111" stroke-width="0.12">0</text>
<line x1="391.30" y1="281.60" x2="391.30" y2="283.60" stroke="#999" stroke-width="0.7"/>
<text x="411.80" y="290.00" font-size="6.2" text-anchor="middle" fill="#111" stroke="#111" stroke-width="0.12">100</text>
<line x1="411.80" y1="281.60" x2="411.80" y2="283.60" stroke="#999" stroke-width="0.7"/>
<text x="430.00" y="290.00" font-size="6.2" text-anchor="middle" fill="#111" stroke="#111" stroke-width="0.12">200</text>
<line x1="430.00" y1="281.60" x2="430.00" y2="283.60" stroke="#999" stroke-width="0.7"/>
<text x="447.50" y="290.00" font-size="6.2" text-anchor="middle" fill="#111" stroke="#111" stroke-width="0.12">300</text>
<line x1="447.50" y1="281.60" x2="447.50" y2="283.60" stroke="#999" stroke-width="0.7"/>
<text x="466.00" y="290.00" font-size="6.2" text-anchor="middle" fill="#111" stroke="#111" stroke-width="0.12">400</text>
<line x1="466.00" y1="281.60" x2="466.00" y2="283.60" stroke="#999" stroke-width="0.7"/>
<text x="391.10" y="301.60" font-size="7.8" font-weight="bold" text-anchor="start" fill="#000" textLength="90.90" lengthAdjust="spacingAndGlyphs" stroke="#000" stroke-width="0.24">Days after PT implantation</text>
<text x="427.90" y="195.40" font-size="7.8" font-weight="bold" text-anchor="start" fill="#000" textLength="23.60" lengthAdjust="spacingAndGlyphs" stroke="#000" stroke-width="0.24">ALDH1</text>
<text x="395.50" y="218.90" font-size="7.6" font-weight="bold" text-anchor="start" fill="#000" textLength="41.80" lengthAdjust="spacingAndGlyphs" stroke="#000" stroke-width="0.24"><tspan font-style="italic">P</tspan> = 0.007e–5</text>
<path d="M393.40,276.60 H407.00 V263.50 H410.10 V253.60 H414.30 V249.40 H420.10 V247.30 H422.20 V244.60 H424.70 V238.30 H436.30 V230.60 H465.50 V226.40 H467.60 V223.10 H477.00 V223.10" stroke="#e0a0b0" stroke-width="0.9" fill="none"/>
<path d="M393.40,276.60 H420.60 V271.20 H436.30 V268.30 H462.00 V268.30" stroke="#666" stroke-width="0.9" fill="none"/>
<text x="451.9" y="215.2" font-size="7.6" font-weight="bold" stroke="#000" stroke-width="0.24">ALDH1<tspan font-size="4.6" dy="-3">+</tspan></text>
<text x="439.3" y="262" font-size="7.6" font-weight="bold" stroke="#000" stroke-width="0.24">ALDH1<tspan font-size="4.6" dy="-3">–</tspan></text>
<text x="346.90" y="346.30" font-size="11.8" font-weight="bold" text-anchor="start" fill="#000" stroke="#000" stroke-width="0.25">J</text>
<line x1="347.90" y1="358.20" x2="506.60" y2="358.20" stroke="#555" stroke-width="1.3"/>
<line x1="347.90" y1="371.10" x2="506.60" y2="371.10" stroke="#555" stroke-width="1.0"/>
<line x1="347.90" y1="437.20" x2="506.60" y2="437.20" stroke="#555" stroke-width="1.3"/>
<text x="371.00" y="367.40" font-size="5.9" text-anchor="middle" fill="#222" stroke="#222" stroke-width="0.11">Variable</text>
<text x="432.70" y="367.40" font-size="5.9" text-anchor="middle" fill="#222" stroke="#222" stroke-width="0.11">HR (95% CI)</text>
<text x="487.70" y="367.40" font-size="5.9" font-style="italic" text-anchor="middle" fill="#222" stroke="#222" stroke-width="0.11">P</text>
<text x="371.00" y="380.90" font-size="5.9" text-anchor="middle" fill="#222" stroke="#222" stroke-width="0.11">ER</text>
<text x="410.40" y="380.90" font-size="5.9" text-anchor="start" fill="#222" stroke="#222" stroke-width="0.11">0.78&#160; (0.27–2.31)</text>
<text x="488.50" y="380.90" font-size="5.9" text-anchor="middle" fill="#222" stroke="#222" stroke-width="0.11">0.66</text>
<text x="371.00" y="393.60" font-size="5.9" text-anchor="middle" fill="#222" stroke="#222" stroke-width="0.11">PR</text>
<text x="410.40" y="393.60" font-size="5.9" text-anchor="start" fill="#222" stroke="#222" stroke-width="0.11">0.67&#160; (0.23–1.92)</text>
<text x="488.50" y="393.60" font-size="5.9" text-anchor="middle" fill="#222" stroke="#222" stroke-width="0.11">0.45</text>
<text x="371.00" y="407.00" font-size="5.9" font-weight="bold" text-anchor="middle" fill="#111" stroke="#111" stroke-width="0.18">SBR grade</text>
<text x="410.40" y="407.00" font-size="5.9" font-weight="bold" text-anchor="start" fill="#111" stroke="#111" stroke-width="0.18">2.94 (1.02–8.44)</text>
<text x="488.50" y="407.00" font-size="5.9" font-weight="bold" text-anchor="middle" fill="#111" stroke="#111" stroke-width="0.18">4.60E–02</text>
<text x="371.00" y="420.10" font-size="5.9" text-anchor="middle" fill="#222" stroke="#222" stroke-width="0.11">Ki67</text>
<text x="410.40" y="420.10" font-size="5.9" text-anchor="start" fill="#222" stroke="#222" stroke-width="0.11">1.32&#160; (0.46–3.82)</text>
<text x="488.50" y="420.10" font-size="5.9" text-anchor="middle" fill="#222" stroke="#222" stroke-width="0.11">0.61</text>
<text x="371.00" y="432.90" font-size="5.9" font-weight="bold" text-anchor="middle" fill="#111" stroke="#111" stroke-width="0.18">ALDH1</text>
<text x="410.40" y="432.90" font-size="5.9" font-weight="bold" text-anchor="start" fill="#111" stroke="#111" stroke-width="0.18">3.61 (1.12–11.65)</text>
<text x="488.50" y="432.90" font-size="5.9" font-weight="bold" text-anchor="middle" fill="#111" stroke="#111" stroke-width="0.18">3.20E–02</text>
<rect x="0" y="0" width="520" height="1" fill="#8c8c8c"/>
<rect x="0" y="0" width="1" height="478" fill="#7a7a7a"/>
<rect x="0" y="476" width="520" height="1" fill="#b4b4b4"/>
<rect x="0" y="477" width="520" height="1" fill="#9c9c9c"/>
<rect x="518" y="0" width="1" height="478" fill="#ababab"/>
<rect x="519" y="0" width="1" height="478" fill="#888888"/>
</svg></body></html>
